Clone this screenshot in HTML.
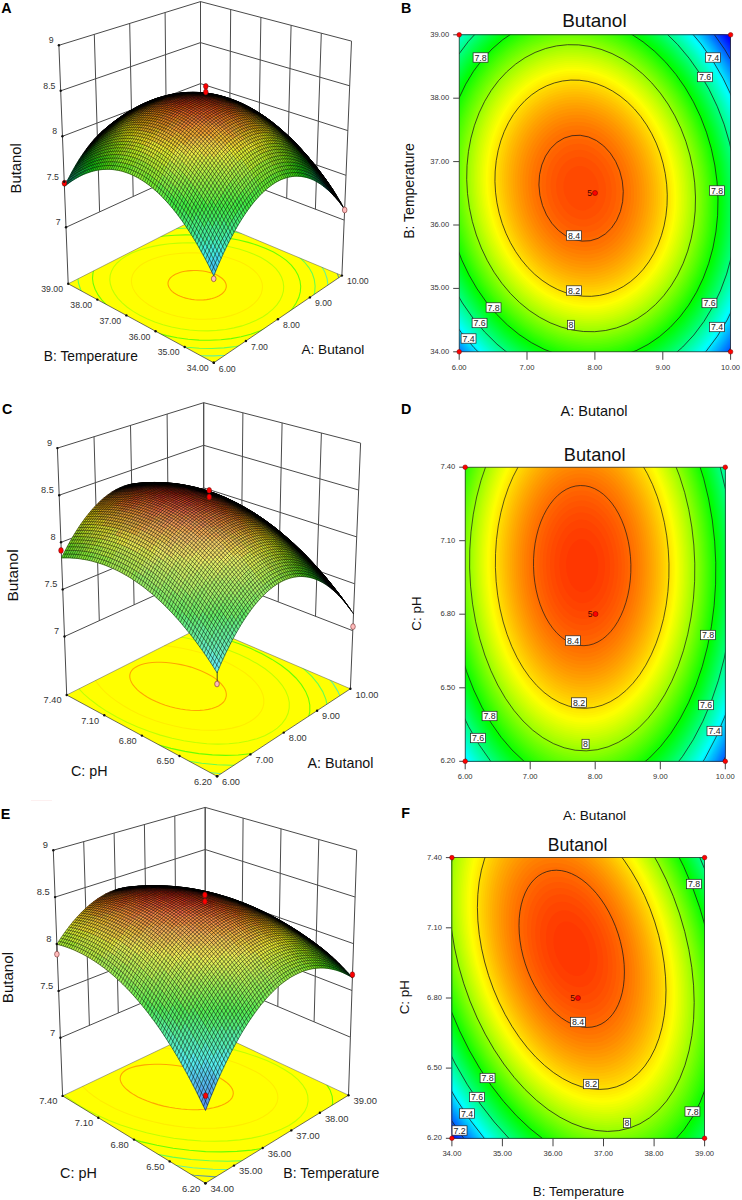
<!DOCTYPE html>
<html><head><meta charset="utf-8"><title>Figure</title>
<style>html,body{margin:0;padding:0;background:#fff}svg{display:block}text{font-family:"Liberation Sans", sans-serif}</style></head><body>
<svg width="742" height="1200" viewBox="0 0 742 1200">
<rect width="742" height="1200" fill="#fff"/>
<rect x="31" y="800" width="21" height="1" fill="#fdf0f0"/>
<g id="pA">
<path d="M66 227.3L58.9 45.3M99.6 211.9L94.3 34.3M133.2 196.4L129.7 23.4M166.9 181L165.1 12.5M200.5 165.6L200.5 1.6M344.2 220.1L351.5 41.1M315.4 209.2L321.3 33.2M286.7 198.3L291.1 25.3M258 187.4L260.9 17.4M229.2 176.5L230.7 9.5M200.5 165.6L200.5 1.6M66 227.3L200.5 165.6L344.2 220.1M64.2 181.8L200.5 124.6L346 175.3M62.4 136.3L200.5 83.6L347.8 130.6M60.7 90.8L200.5 42.6L349.7 85.8M58.9 45.3L200.5 1.6L351.5 41.1M68.2 283.8L66 227.3M341.9 275.6L344.2 220.1" fill="none" stroke="#4a4a4a" stroke-width="1"/>
<clipPath id="cfA"><polygon points="213.8,362.8 341.9,275.6 200.5,216.4 68.2,283.8"/></clipPath>
<polygon points="213.8,362.8 341.9,275.6 200.5,216.4 68.2,283.8" fill="#ffff00"/>
<g clip-path="url(#cfA)" fill="none" stroke-width="1.1">
<polyline points="314.2,331.2 305.2,337.8 294.9,343.8 283.5,349.1 271.2,353.6 258.1,357.3 244.2,360.1 229.8,361.9 215.1,362.7 200,362.4 185,361.2 170,358.9 155.3,355.7 141,351.6 127.3,346.7 114.4,341 102.3,334.7 91.4,327.9 81.5,320.6 73,313 65.8,305.2 60.1,297.4 56,289.5 53.4,281.7 52.4,274.2 53.1,266.9 55.4,259.9 59.2,253.4 64.6,247.4 71.5,241.8 79.7,236.8 89.3,232.3 100,228.4 111.8,225.1 124.5,222.4 137.9,220.2 152,218.6 166.6,217.6 181.4,217.1 196.4,217.3 211.4,218 226.2,219.3 240.6,221.1 254.5,223.6 267.8,226.6 280.3,230.2 291.8,234.3 302.4,239.1 311.8,244.3 319.9,250.1 326.8,256.4 332.2,263.1 336.2,270.2 338.7,277.7 339.7,285.3 339.2,293.2 337.1,301.1 333.5,308.9 328.5,316.6 322,324.1 314.2,331.2" stroke="#669d99"/>
<polyline points="304.6,327.4 296.2,333.4 286.8,338.8 276.4,343.7 265.1,347.8 253,351.1 240.3,353.6 227.1,355.2 213.5,355.9 199.7,355.7 185.9,354.5 172.2,352.5 158.7,349.6 145.6,345.9 133.1,341.5 121.2,336.4 110.2,330.7 100.1,324.5 91.1,317.9 83.3,311 76.8,303.9 71.5,296.7 67.7,289.5 65.4,282.4 64.5,275.5 65.1,268.8 67.2,262.4 70.7,256.3 75.6,250.7 81.9,245.5 89.4,240.9 98.2,236.7 108,233 118.8,229.9 130.4,227.3 142.8,225.3 155.7,223.8 169,222.8 182.6,222.4 196.4,222.5 210.1,223.2 223.7,224.4 236.9,226.1 249.7,228.4 261.9,231.3 273.4,234.7 284,238.6 293.7,243 302.4,247.9 309.9,253.3 316.1,259.1 321.1,265.3 324.8,271.9 327.1,278.7 328,285.7 327.5,292.9 325.6,300.1 322.3,307.2 317.7,314.2 311.8,321 304.6,327.4" stroke="#66f299"/>
<polyline points="294,323.3 286.4,328.6 277.9,333.4 268.5,337.7 258.3,341.3 247.4,344.3 235.9,346.5 224,347.9 211.8,348.5 199.4,348.3 186.9,347.3 174.6,345.5 162.4,343 150.7,339.7 139.4,335.8 128.7,331.2 118.8,326.2 109.8,320.7 101.7,314.8 94.6,308.7 88.7,302.3 84.1,295.9 80.6,289.5 78.5,283.1 77.7,276.8 78.2,270.7 80.1,264.9 83.3,259.5 87.7,254.3 93.3,249.6 100.1,245.3 108,241.5 116.8,238.1 126.5,235.2 137,232.8 148.1,230.9 159.7,229.5 171.7,228.6 184,228.2 196.4,228.3 208.8,229 221,230.1 233,231.7 244.5,233.9 255.5,236.5 265.9,239.6 275.5,243.2 284.2,247.3 292,251.8 298.8,256.7 304.4,262 308.9,267.6 312.3,273.5 314.3,279.7 315.1,286 314.7,292.5 313,298.9 310,305.3 305.8,311.6 300.5,317.6 294,323.3" stroke="#66ff50"/>
<polyline points="282,318.7 275.4,323.2 267.9,327.4 259.7,331 250.7,334.2 241.1,336.7 231.1,338.6 220.7,339.8 209.9,340.3 199.1,340.1 188.1,339.3 177.3,337.8 166.7,335.6 156.4,332.8 146.5,329.4 137.2,325.5 128.5,321.1 120.6,316.4 113.5,311.3 107.4,306 102.2,300.5 98.1,294.9 95.1,289.3 93.2,283.7 92.5,278.2 93,272.9 94.6,267.8 97.4,262.9 101.3,258.4 106.2,254.1 112.1,250.3 119,246.9 126.7,243.8 135.2,241.2 144.4,239 154.1,237.3 164.3,236 174.8,235.2 185.6,234.9 196.4,235 207.3,235.5 218,236.6 228.5,238.1 238.6,240 248.3,242.4 257.4,245.2 265.8,248.4 273.5,252 280.3,256.1 286.3,260.4 291.3,265.1 295.2,270.1 298.1,275.3 300,280.8 300.7,286.3 300.3,291.9 298.8,297.6 296.1,303.1 292.5,308.5 287.7,313.7 282,318.7" stroke="#6cff00"/>
<polyline points="268.1,313.2 262.6,317 256.3,320.3 249.4,323.3 241.9,325.9 233.9,327.9 225.5,329.5 216.7,330.4 207.8,330.9 198.7,330.7 189.6,330 180.5,328.8 171.6,327 163,324.7 154.8,322 147,318.8 139.8,315.2 133.2,311.4 127.3,307.2 122.2,302.8 117.9,298.3 114.5,293.6 112,289 110.4,284.3 109.8,279.7 110.2,275.2 111.6,270.9 113.9,266.8 117.1,263 121.2,259.4 126.1,256.1 131.8,253.1 138.3,250.5 145.4,248.3 153,246.4 161.1,244.9 169.6,243.8 178.4,243.1 187.4,242.8 196.5,242.9 205.6,243.4 214.5,244.2 223.3,245.5 231.8,247.2 239.9,249.3 247.5,251.7 254.5,254.5 261,257.6 266.7,261 271.7,264.7 275.9,268.7 279.2,272.9 281.6,277.3 283.1,281.9 283.7,286.5 283.4,291.2 282.1,295.8 279.9,300.4 276.9,304.9 272.9,309.2 268.1,313.2" stroke="#c0ff00"/>
<polyline points="250.7,306.3 246.5,309.1 241.7,311.6 236.5,313.8 230.8,315.6 224.8,317.1 218.4,318.2 211.8,318.9 205.1,319.3 198.2,319.2 191.4,318.7 184.6,317.7 177.9,316.5 171.4,314.8 165.2,312.8 159.4,310.5 153.9,307.8 149,305 144.6,301.9 140.7,298.7 137.5,295.3 134.9,291.8 133,288.4 131.9,284.9 131.4,281.4 131.7,278 132.7,274.7 134.4,271.6 136.9,268.6 139.9,265.8 143.6,263.3 147.9,261 152.8,258.9 158.1,257.2 163.8,255.7 170,254.5 176.4,253.7 183,253.1 189.7,252.8 196.6,252.9 203.4,253.3 210.2,254 216.8,255 223.2,256.4 229.3,258 235.1,259.9 240.4,262 245.3,264.5 249.6,267.1 253.4,270 256.6,273 259.1,276.2 260.9,279.6 262.1,283 262.5,286.5 262.2,290 261.3,293.5 259.6,296.9 257.3,300.2 254.3,303.4 250.7,306.3" stroke="#ffed00"/>
<polyline points="221,294.6 219.1,295.7 217,296.8 214.6,297.7 212.1,298.5 209.4,299.1 206.6,299.6 203.7,299.9 200.7,300 197.6,300 194.6,299.8 191.5,299.4 188.6,298.8 185.7,298.1 183,297.3 180.4,296.3 178,295.2 175.8,294 173.8,292.7 172.1,291.3 170.7,289.8 169.6,288.3 168.7,286.8 168.2,285.2 168,283.7 168.1,282.2 168.6,280.7 169.3,279.3 170.4,277.9 171.8,276.6 173.4,275.4 175.3,274.3 177.4,273.4 179.8,272.5 182.3,271.8 185,271.3 187.9,270.9 190.8,270.6 193.8,270.5 196.9,270.5 199.9,270.7 202.9,271 205.9,271.5 208.7,272.2 211.5,272.9 214,273.8 216.4,274.8 218.6,276 220.5,277.2 222.2,278.5 223.6,279.9 224.8,281.4 225.6,282.9 226.1,284.4 226.3,286 226.2,287.5 225.7,289 225,290.5 223.9,291.9 222.6,293.3 221,294.6" stroke="#ffa200"/>
</g>
<path d="M68.2 283.8L200.5 216.4L341.9 275.6" fill="none" stroke="#555" stroke-width="0.5"/>
<path d="M68.2 283.8L213.8 362.8L341.9 275.6" fill="none" stroke="#333" stroke-width="0.7"/>
<g stroke-width="0.6">
<path fill="#4ce" stroke="#4ce" d="M213.8 275.8l3.6-8.9l-4.1-8.3l-3.6 8.8z"/>
<path fill="#4de" stroke="#4de" d="M209.7 267.4l3.6-8.8l-4.1-8l-3.7 8.7zM217.4 266.9l3.7-8.4l-4.1-8.3l-3.7 8.4z"/>
<path fill="#4ed" stroke="#4ed" d="M205.5 259.3l3.7-8.7l-4.2-7.7l-3.7 8.8zM213.3 258.6l3.7-8.4l-4.2-8l-3.6 8.4zM221.1 258.5l3.7-8.1l-4.1-8.2l-3.7 8z"/>
<path fill="#4eb" stroke="#4eb" d="M201.3 251.7l3.7-8.8l-4.2-7.2l-3.6 8.6zM209.2 250.6l3.6-8.4l-4.1-7.5l-3.7 8.2zM217 250.2l3.7-8l-4.2-7.9l-3.7 7.9zM224.8 250.4l3.7-7.6l-4.1-8.1l-3.7 7.5z"/>
<path fill="#4ea" stroke="#4ea" d="M197.2 244.3l3.6-8.6l-4.2-7l-3.6 8.6zM228.5 242.8l3.7-7.1l-4.1-8.2l-3.7 7.2z"/>
<path fill="#4e8" stroke="#4e8" d="M193 237.3l3.6-8.6l-4.2-6.5l-3.6 8.5zM200.8 235.7l3.7-8.3l-4.2-6.8l-3.7 8.1zM208.7 234.7l3.7-7.9l-4.2-7.2l-3.7 7.8zM216.5 234.3l3.7-7.5l-4.1-7.4l-3.7 7.4zM224.4 234.7l3.7-7.2l-4.2-7.7l-3.7 7zM232.2 235.7l3.7-6.8l-4.1-8.1l-3.7 6.7z"/>
<path fill="#4e7" stroke="#4e7" d="M188.8 230.7l3.6-8.5l-4.1-6.2l-3.7 8.4zM196.6 228.7l3.7-8.1l-4.2-6.5l-3.7 8.1zM235.9 228.9l3.7-6.3l-4.1-8l-3.7 6.2z"/>
<path fill="#4e6" stroke="#4e6" d="M184.6 224.4l3.7-8.4l-4.3-5.9l-3.6 8.4zM204.5 227.4l3.7-7.8l-4.2-6.8l-3.7 7.8zM212.4 226.8l3.7-7.4l-4.2-7.1l-3.7 7.3zM220.2 226.8l3.7-7l-4.1-7.4l-3.7 7zM228.1 227.5l3.7-6.7l-4.2-7.6l-3.7 6.6zM239.6 222.6l3.7-5.9l-4.1-8l-3.7 5.9z"/>
<path fill="#4e5" stroke="#4e5" d="M180.4 218.5l3.6-8.4l-4.2-5.5l-3.6 8.3zM192.4 222.2l3.7-8.1l-4.2-6.2l-3.6 8.1zM200.3 220.6l3.7-7.8l-4.2-6.4l-3.7 7.7zM208.2 219.6l3.7-7.3l-4.2-6.8l-3.7 7.3zM216.1 219.4l3.7-7l-4.2-7.1l-3.7 7zM223.9 219.8l3.7-6.6l-4.1-7.4l-3.7 6.6zM231.8 220.8l3.7-6.2l-4.1-7.7l-3.8 6.3zM243.3 216.7l3.7-5.5l-4.1-7.9l-3.7 5.4z"/>
<path fill="#4e4" stroke="#4e4" d="M176.2 212.9l3.6-8.3l-4.2-5.2l-3.6 8.3zM172 207.7l3.6-8.3l-4.2-4.9l-3.7 8.3zM188.3 216l3.6-8.1l-4.2-5.8l-3.7 8zM184 210.1l3.7-8l-4.2-5.5l-3.7 8zM196.1 214.1l3.7-7.7l-4.2-6.1l-3.7 7.6zM204 212.8l3.7-7.3l-4.2-6.4l-3.7 7.3zM211.9 212.3l3.7-7l-4.2-6.7l-3.7 6.9zM219.8 212.4l3.7-6.6l-4.2-7l-3.7 6.5zM227.6 213.2l3.8-6.3l-4.2-7.3l-3.7 6.2zM235.5 214.6l3.7-5.9l-4.1-7.6l-3.7 5.8zM239.2 208.7l3.7-5.4l-4.1-7.5l-3.7 5.3zM247 211.2l3.8-5.1l-4.1-7.8l-3.8 5zM250.8 206.1l3.7-4.7l-4.1-7.8l-3.7 4.7z"/>
<path fill="#5e4" stroke="#5e4" d="M167.7 202.8l3.7-8.3l-4.2-4.5l-3.7 8.3zM179.8 204.6l3.7-8l-4.2-5.1l-3.7 7.9zM191.9 207.9l3.7-7.6l-4.2-5.8l-3.7 7.6zM199.8 206.4l3.7-7.3l-4.2-6l-3.7 7.2zM223.5 205.8l3.7-6.2l-4.1-6.9l-3.8 6.1zM231.4 206.9l3.7-5.8l-4.1-7.2l-3.8 5.7zM242.9 203.3l3.8-5l-4.1-7.5l-3.8 5zM254.5 201.4l3.7-4.2l-4.1-7.8l-3.7 4.2zM258.2 197.2l3.8-3.9l-4.1-7.7l-3.8 3.8z"/>
<path fill="#6e4" stroke="#6e4" d="M163.5 198.3l3.7-8.3l-4.2-4.1l-3.7 8.1zM159.3 194l3.7-8.1l-4.2-3.8l-3.7 8.1zM175.6 199.4l3.7-7.9l-4.2-4.8l-3.7 7.8zM187.7 202.1l3.7-7.6l-4.2-5.4l-3.7 7.5zM195.6 200.3l3.7-7.2l-4.2-5.7l-3.7 7.1zM207.7 205.5l3.7-6.9l-4.1-6.3l-3.8 6.8zM215.6 205.3l3.7-6.5l-4.1-6.6l-3.8 6.4zM227.2 199.6l3.8-5.7l-4.2-6.9l-3.7 5.7zM235.1 201.1l3.7-5.3l-4.1-7.2l-3.7 5.3zM246.7 198.3l3.7-4.7l-4.1-7.4l-3.7 4.6z"/>
<path fill="#7e3" stroke="#7e3" d="M155.1 190.2l3.7-8.1l-4.3-3.5l-3.6 8zM150.9 186.6l3.6-8l-4.2-3.2l-3.6 8zM146.7 183.4l3.6-8l-4.2-2.8l-3.6 8zM129.8 173.9l3.7-7.8l-4.2-1.5l-3.6 7.8zM257.9 185.6l3.7-3.4l-4.1-7.3l-3.7 3.4z"/>
<path fill="#8e3" stroke="#8e3" d="M142.5 180.6l3.6-8l-4.2-2.5l-3.7 7.9zM138.2 178l3.7-7.9l-4.2-2.1l-3.7 7.8zM134 175.8l3.7-7.8l-4.2-1.9l-3.7 7.8zM261.6 182.2l3.8-3l-4.1-7.2l-3.8 2.9zM265.4 179.2l3.7-2.6l-4.1-7.2l-3.7 2.6zM269.1 176.6l3.7-2.2l-4-7.2l-3.8 2.2zM272.8 174.4l3.7-1.9l-4-7.1l-3.7 1.8z"/>
<path fill="#7e2" stroke="#7e2" d="M125.7 172.4l3.6-7.8l-4.2-1.2l-3.6 7.7zM121.5 171.1l3.6-7.7l-4.1-0.9l-3.7 7.7zM276.5 172.5l3.7-1.4l-4-7.1l-3.7 1.4z"/>
<path fill="#6e2" stroke="#6e2" d="M117.3 170.2l3.7-7.7l-4.2-0.5l-3.7 7.6zM280.6 179.9l3.7-1.5l-4.1-7.3l-3.7 1.4z"/>
<path fill="#5d2" stroke="#5d2" d="M113.1 169.6l3.7-7.6l-4.2-0.3l-3.6 7.6zM284.3 178.4l3.6-1.1l-4-7.3l-3.7 1.1z"/>
<path fill="#5d1" stroke="#5d1" d="M109 169.3l3.6-7.6l-4.1 0.1l-3.6 7.6zM108.5 161.8l3.6-7.2l-4.1 0.5l-3.6 7.1zM287.6 169.3l3.7-0.3l-4-6.9l-3.7 0.3z"/>
<path fill="#4d1" stroke="#4d1" d="M104.9 169.4l3.6-7.6l-4.1 0.4l-3.7 7.5zM291.6 176.6l3.7-0.4l-4-7.2l-3.7 0.3z"/>
<path fill="#3d1" stroke="#3d1" d="M100.7 169.7l3.7-7.5l-4.1 0.7l-3.7 7.4zM295.3 176.2l3.6 0.1l-3.9-7.2l-3.7-0.1z"/>
<path fill="#2c1" stroke="#2c1" d="M96.6 170.3l3.7-7.4l-4.1 1l-3.7 7.4zM96.2 163.9l3.6-7.1l-4.1 1.4l-3.6 7zM298.9 176.3l3.7 0.4l-4-7.2l-3.6-0.4z"/>
<path fill="#1c1" stroke="#1c1" d="M92.5 171.3l3.7-7.4l-4.1 1.3l-3.6 7.4zM302.6 176.7l3.6 0.7l-4-7.1l-3.6-0.8z"/>
<path fill="#1c2" stroke="#1c2" d="M88.5 172.6l3.6-7.4l-4.1 1.6l-3.6 7.3z"/>
<path fill="#1b3" stroke="#1b3" d="M84.4 174.1l3.6-7.3l-4 1.9l-3.6 7.3z"/>
<path fill="#1b4" stroke="#1b4" d="M80.4 176l3.6-7.3l-4.1 2.2l-3.6 7.3z"/>
<path fill="#1a5" stroke="#1a5" d="M76.3 178.2l3.6-7.3l-4 2.5l-3.6 7.3z"/>
<path fill="#196" stroke="#196" d="M72.3 180.7l3.6-7.3l-4 2.8l-3.5 7.2z"/>
<path fill="#197" stroke="#197" d="M68.4 183.4l3.5-7.2l-3.9 3.1l-3.6 7.2z"/>
<path fill="#4e9" stroke="#4e9" d="M205 242.9l3.7-8.2l-4.2-7.3l-3.7 8.3zM212.8 242.2l3.7-7.9l-4.1-7.5l-3.7 7.9zM220.7 242.2l3.7-7.5l-4.2-7.9l-3.7 7.5z"/>
<path fill="#7e4" stroke="#7e4" d="M171.4 194.5l3.7-7.8l-4.2-4.4l-3.7 7.7zM183.5 196.6l3.7-7.5l-4.2-5.1l-3.7 7.5zM191.4 194.5l3.7-7.1l-4.2-5.4l-3.7 7.1zM203.5 199.1l3.8-6.8l-4.2-6l-3.8 6.8zM211.4 198.6l3.8-6.4l-4.2-6.3l-3.7 6.4zM219.3 198.8l3.8-6.1l-4.2-6.6l-3.7 6.1zM231 193.9l3.7-5.3l-4.1-6.9l-3.8 5.3zM238.8 195.8l3.8-5l-4.2-7.1l-3.7 4.9zM250.4 193.6l3.7-4.2l-4-7.3l-3.8 4.1zM254.1 189.4l3.8-3.8l-4.1-7.3l-3.7 3.8z"/>
<path fill="#8e4" stroke="#8e4" d="M167.2 190l3.7-7.7l-4.2-4.1l-3.7 7.7zM163 185.9l3.7-7.7l-4.3-3.8l-3.6 7.7zM179.3 191.5l3.7-7.5l-4.2-4.7l-3.7 7.4zM187.2 189.1l3.7-7.1l-4.2-5l-3.7 7zM199.3 193.1l3.8-6.8l-4.2-5.7l-3.8 6.8zM207.3 192.3l3.7-6.4l-4.2-6l-3.7 6.4zM215.2 192.2l3.7-6.1l-4.2-6.2l-3.7 6zM223.1 192.7l3.7-5.7l-4.1-6.5l-3.8 5.6zM234.7 188.6l3.7-4.9l-4.1-6.8l-3.7 4.8zM242.6 190.8l3.7-4.6l-4.1-7.1l-3.8 4.6zM246.3 186.2l3.8-4.1l-4.2-7.1l-3.7 4.1z"/>
<path fill="#9e3" stroke="#9e3" d="M158.8 182.1l3.6-7.7l-4.2-3.4l-3.7 7.6zM154.5 178.6l3.7-7.6l-4.2-3.1l-3.7 7.5zM150.3 175.4l3.7-7.5l-4.2-2.8l-3.7 7.5zM146.1 172.6l3.7-7.5l-4.2-2.5l-3.7 7.5zM141.9 170.1l3.7-7.5l-4.2-2.1l-3.7 7.5zM137.7 168l3.7-7.5l-4.2-1.8l-3.7 7.4zM253.8 178.3l3.7-3.4l-4.1-6.9l-3.7 3.3zM257.5 174.9l3.8-2.9l-4.1-6.9l-3.8 2.9zM261.3 172l3.7-2.6l-4.1-6.8l-3.7 2.5zM265 169.4l3.8-2.2l-4.1-6.8l-3.8 2.2zM268.8 167.2l3.7-1.8l-4.1-6.7l-3.7 1.7z"/>
<path fill="#9e2" stroke="#9e2" d="M133.5 166.1l3.7-7.4l-4.2-1.5l-3.7 7.4zM129.3 164.6l3.7-7.4l-4.2-1.1l-3.7 7.3zM125.1 163.4l3.7-7.3l-4.2-0.8l-3.6 7.2z"/>
<path fill="#8e2" stroke="#8e2" d="M121 162.5l3.6-7.2l-4.1-0.6l-3.7 7.3z"/>
<path fill="#7d2" stroke="#7d2" d="M116.8 162l3.7-7.3l-4.2-0.2l-3.7 7.2zM280.2 171.1l3.7-1.1l-4-7l-3.7 1z"/>
<path fill="#6d1" stroke="#6d1" d="M112.6 161.7l3.7-7.2l-4.2 0.1l-3.6 7.2z"/>
<path fill="#4c1" stroke="#4c1" d="M104.4 162.2l3.6-7.1l-4.1 0.7l-3.6 7.1zM291.3 169l3.7 0.1l-4-6.9l-3.7-0.1z"/>
<path fill="#3c1" stroke="#3c1" d="M100.3 162.9l3.6-7.1l-4.1 1l-3.6 7.1zM295 169.1l3.6 0.4l-4-6.8l-3.6-0.5z"/>
<path fill="#1b1" stroke="#1b1" d="M92.1 165.2l3.6-7l-4.1 1.6l-3.6 7zM88 166.8l3.6-7l-4 1.9l-3.6 7zM302.2 170.3l3.7 1.2l-4-6.8l-3.6-1.2z"/>
<path fill="#1a2" stroke="#1a2" d="M84 168.7l3.6-7l-4.1 2.3l-3.6 6.9z"/>
<path fill="#193" stroke="#193" d="M79.9 170.9l3.6-6.9l-4 2.5l-3.6 6.9z"/>
<path fill="#194" stroke="#194" d="M75.9 173.4l3.6-6.9l-4 2.9l-3.6 6.8zM313.4 180l3.6 1.9l-4-7l-3.5-1.9z"/>
<path fill="#185" stroke="#185" d="M71.9 176.2l3.6-6.8l-3.9 3.1l-3.6 6.8z"/>
<path fill="#9e4" stroke="#9e4" d="M175.1 186.7l3.7-7.4l-4.2-4.4l-3.7 7.4zM170.9 182.3l3.7-7.4l-4.2-4l-3.7 7.3zM183 184l3.7-7l-4.2-4.7l-3.7 7zM195.1 187.4l3.8-6.8l-4.2-5.3l-3.8 6.7zM203.1 186.3l3.7-6.4l-4.2-5.6l-3.7 6.3zM211 185.9l3.7-6l-4.1-5.9l-3.8 5.9zM218.9 186.1l3.8-5.6l-4.2-6.2l-3.8 5.6zM226.8 187l3.8-5.3l-4.2-6.4l-3.7 5.2zM238.4 183.7l3.8-4.6l-4.1-6.7l-3.8 4.5zM250.1 182.1l3.7-3.8l-4.1-7l-3.8 3.7z"/>
<path fill="#ae4" stroke="#ae4" d="M166.7 178.2l3.7-7.3l-4.3-3.8l-3.7 7.3zM178.8 179.3l3.7-7l-4.2-4.3l-3.7 6.9zM190.9 182l3.8-6.7l-4.2-4.9l-3.8 6.6zM198.9 180.6l3.7-6.3l-4.2-5.2l-3.7 6.2zM206.8 179.9l3.8-5.9l-4.2-5.6l-3.8 5.9zM214.7 179.9l3.8-5.6l-4.2-5.8l-3.7 5.5zM222.7 180.5l3.7-5.2l-4.2-6.2l-3.7 5.2zM230.6 181.7l3.7-4.8l-4.1-6.5l-3.8 4.9zM234.3 176.9l3.8-4.5l-4.2-6.4l-3.7 4.4zM242.2 179.1l3.7-4.1l-4.1-6.6l-3.7 4zM245.9 175l3.8-3.7l-4.1-6.6l-3.8 3.7z"/>
<path fill="#ae3" stroke="#ae3" d="M162.4 174.4l3.7-7.3l-4.2-3.4l-3.7 7.3z"/>
<path fill="#be3" stroke="#be3" d="M158.2 171l3.7-7.3l-4.2-3l-3.7 7.2zM154 167.9l3.7-7.2l-4.2-2.7l-3.7 7.1zM149.8 165.1l3.7-7.1l-4.2-2.4l-3.7 7zM145.6 162.6l3.7-7l-4.2-2.1l-3.7 7zM141.4 160.5l3.7-7l-4.2-1.8l-3.7 7zM249.7 171.3l3.7-3.3l-4.1-6.6l-3.7 3.3zM253.4 168l3.8-2.9l-4.1-6.5l-3.8 2.8zM257.2 165.1l3.7-2.5l-4.1-6.5l-3.7 2.5zM260.9 162.6l3.8-2.2l-4.1-6.4l-3.8 2.1z"/>
<path fill="#be2" stroke="#be2" d="M137.2 158.7l3.7-7l-4.2-1.4l-3.7 6.9zM133 157.2l3.7-6.9l-4.2-1.1l-3.7 6.9zM264.7 160.4l3.7-1.7l-4.1-6.4l-3.7 1.7z"/>
<path fill="#ae2" stroke="#ae2" d="M128.8 156.1l3.7-6.9l-4.2-0.8l-3.7 6.9z"/>
<path fill="#ad2" stroke="#ad2" d="M124.6 155.3l3.7-6.9l-4.2-0.5l-3.6 6.8zM268.4 158.7l3.7-1.4l-4-6.3l-3.8 1.3zM272.1 157.3l3.8-0.9l-4.1-6.3l-3.7 0.9z"/>
<path fill="#9d1" stroke="#9d1" d="M120.5 154.7l3.6-6.8l-4.1-0.1l-3.7 6.7zM120 147.8l3.7-6.4l-4.2 0.2l-3.7 6.3z"/>
<path fill="#8d1" stroke="#8d1" d="M116.3 154.5l3.7-6.7l-4.2 0.1l-3.7 6.7z"/>
<path fill="#7d1" stroke="#7d1" d="M112.1 154.6l3.7-6.7l-4.1 0.5l-3.7 6.7zM283.6 162.4l3.7-0.3l-4-6.6l-3.7 0.3z"/>
<path fill="#6c1" stroke="#6c1" d="M108 155.1l3.7-6.7l-4.1 0.7l-3.7 6.7zM287.3 162.1l3.7 0.1l-4-6.5l-3.7-0.2z"/>
<path fill="#5c1" stroke="#5c1" d="M103.9 155.8l3.7-6.7l-4.1 1.1l-3.7 6.6zM291 162.2l3.6 0.5l-4-6.5l-3.6-0.5z"/>
<path fill="#4b1" stroke="#4b1" d="M99.8 156.8l3.7-6.6l-4.1 1.4l-3.7 6.6zM294.6 162.7l3.7 0.8l-4-6.4l-3.7-0.9z"/>
<path fill="#3b1" stroke="#3b1" d="M95.7 158.2l3.7-6.6l-4.1 1.6l-3.7 6.6z"/>
<path fill="#2a1" stroke="#2a1" d="M91.6 159.8l3.7-6.6l-4.1 2l-3.6 6.5z"/>
<path fill="#1a1" stroke="#1a1" d="M87.6 161.7l3.6-6.5l-4 2.3l-3.7 6.5zM305.9 171.5l3.6 1.5l-4-6.7l-3.6-1.6z"/>
<path fill="#192" stroke="#192" d="M83.5 164l3.7-6.5l-4 2.6l-3.7 6.4zM309.5 173l3.5 1.9l-3.9-6.7l-3.6-1.9z"/>
<path fill="#183" stroke="#183" d="M79.5 166.5l3.7-6.4l-4 2.8l-3.7 6.5zM313 174.9l3.6 2.2l-3.9-6.6l-3.6-2.3z"/>
<path fill="#073" stroke="#073" d="M75.5 169.4l3.7-6.5l-4 3.2l-3.6 6.4z"/>
<path fill="#be4" stroke="#be4" d="M174.6 174.9l3.7-6.9l-4.2-4l-3.7 6.9zM170.4 170.9l3.7-6.9l-4.2-3.7l-3.8 6.8zM186.7 177l3.8-6.6l-4.2-4.7l-3.8 6.6zM182.5 172.3l3.8-6.6l-4.3-4.3l-3.7 6.6zM194.7 175.3l3.7-6.2l-4.2-4.9l-3.7 6.2zM202.6 174.3l3.8-5.9l-4.2-5.2l-3.8 5.9zM210.6 174l3.7-5.5l-4.2-5.5l-3.7 5.4zM218.5 174.3l3.7-5.2l-4.1-5.8l-3.8 5.2zM226.4 175.3l3.8-4.9l-4.2-6l-3.8 4.7zM238.1 172.4l3.7-4l-4.1-6.4l-3.8 4zM241.8 168.4l3.8-3.7l-4.2-6.3l-3.7 3.6z"/>
<path fill="#ce3" stroke="#ce3" d="M166.1 167.1l3.8-6.8l-4.3-3.3l-3.7 6.7zM161.9 163.7l3.7-6.7l-4.2-3.1l-3.7 6.8zM157.7 160.7l3.7-6.8l-4.2-2.6l-3.7 6.7zM245.6 164.7l3.7-3.3l-4.1-6.2l-3.8 3.2zM249.3 161.4l3.8-2.8l-4.1-6.2l-3.8 2.8zM253.1 158.6l3.7-2.5l-4.1-6.1l-3.7 2.4zM256.8 156.1l3.8-2.1l-4.1-6.1l-3.8 2.1z"/>
<path fill="#de3" stroke="#de3" d="M153.5 158l3.7-6.7l-4.2-2.4l-3.7 6.7zM149.3 155.6l3.7-6.7l-4.2-2l-3.7 6.6zM145.1 153.5l3.7-6.6l-4.2-1.7l-3.7 6.5zM169.9 160.3l3.7-6.4l-4.2-3.3l-3.8 6.4zM165.6 157l3.8-6.4l-4.2-3l-3.8 6.3zM237.7 162l3.7-3.6l-4.1-5.9l-3.8 3.5zM241.4 158.4l3.8-3.2l-4.1-5.9l-3.8 3.2zM245.2 155.2l3.8-2.8l-4.2-5.9l-3.7 2.8z"/>
<path fill="#ce2" stroke="#ce2" d="M140.9 151.7l3.7-6.5l-4.2-1.4l-3.7 6.5zM136.7 150.3l3.7-6.5l-4.2-1.1l-3.7 6.5z"/>
<path fill="#cd2" stroke="#cd2" d="M132.5 149.2l3.7-6.5l-4.2-0.7l-3.7 6.4zM132 142l3.7-6.1l-4.1-0.4l-3.8 6zM260.6 154l3.7-1.7l-4.1-6l-3.7 1.6zM264.3 152.3l3.8-1.3l-4.1-6l-3.8 1.3zM264 145l3.7-0.9l-4.1-5.6l-3.7 0.8z"/>
<path fill="#bd2" stroke="#bd2" d="M128.3 148.4l3.7-6.4l-4.2-0.5l-3.7 6.4zM268.1 151l3.7-0.9l-4.1-6l-3.7 0.9z"/>
<path fill="#ad1" stroke="#ad1" d="M124.1 147.9l3.7-6.4l-4.1-0.1l-3.7 6.4zM271.8 150.1l3.7-0.6l-4.1-5.9l-3.7 0.5z"/>
<path fill="#8c1" stroke="#8c1" d="M115.8 147.9l3.7-6.3l-4.1 0.5l-3.7 6.3zM279.6 155.8l3.7-0.3l-4.1-6.2l-3.7 0.2zM279.2 149.3l3.7 0.2l-4-5.9l-3.7-0.2z"/>
<path fill="#7c1" stroke="#7c1" d="M111.7 148.4l3.7-6.3l-4.1 0.8l-3.7 6.2zM283.3 155.5l3.7 0.2l-4.1-6.2l-3.7-0.2z"/>
<path fill="#6b1" stroke="#6b1" d="M107.6 149.1l3.7-6.2l-4.2 1.1l-3.6 6.2zM287 155.7l3.6 0.5l-4-6.2l-3.7-0.5z"/>
<path fill="#5b1" stroke="#5b1" d="M103.5 150.2l3.6-6.2l-4.1 1.4l-3.6 6.2zM290.6 156.2l3.7 0.9l-4-6.1l-3.7-1z"/>
<path fill="#4a1" stroke="#4a1" d="M99.4 151.6l3.6-6.2l-4 1.7l-3.7 6.1zM294.3 157.1l3.6 1.2l-4-6l-3.6-1.3z"/>
<path fill="#3a1" stroke="#3a1" d="M95.3 153.2l3.7-6.1l-4.1 2l-3.7 6.1zM298.3 163.5l3.6 1.2l-4-6.4l-3.6-1.2z"/>
<path fill="#291" stroke="#291" d="M91.2 155.2l3.7-6.1l-4.1 2.3l-3.6 6.1zM301.9 164.7l3.6 1.6l-4-6.4l-3.6-1.6z"/>
<path fill="#181" stroke="#181" d="M87.2 157.5l3.6-6.1l-4 2.6l-3.6 6.1zM305.5 166.3l3.6 1.9l-4-6.3l-3.6-2z"/>
<path fill="#071" stroke="#071" d="M83.2 160.1l3.6-6.1l-4 2.9l-3.6 6z"/>
<path fill="#052" stroke="#052" d="M79.2 162.9l3.6-6l-4 3.2l-3.6 6zM312.7 170.5l3.5 2.6l-3.9-6.2l-3.6-2.7z"/>
<path fill="#ce4" stroke="#ce4" d="M178.3 168l3.7-6.6l-4.2-3.9l-3.7 6.5zM190.5 170.4l3.7-6.2l-4.2-4.6l-3.7 6.1zM198.4 169.1l3.8-5.9l-4.2-4.8l-3.8 5.8zM206.4 168.4l3.7-5.4l-4.2-5.2l-3.7 5.4zM214.3 168.5l3.8-5.2l-4.2-5.4l-3.8 5.1zM222.2 169.1l3.8-4.7l-4.2-5.8l-3.7 4.7zM230.2 170.4l3.7-4.4l-4.1-6l-3.8 4.4zM233.9 166l3.8-4l-4.2-6l-3.7 4z"/>
<path fill="#de4" stroke="#de4" d="M174.1 164l3.7-6.5l-4.2-3.6l-3.7 6.4zM186.3 165.7l3.7-6.1l-4.2-4.3l-3.8 6.1zM182 161.4l3.8-6.1l-4.2-3.9l-3.8 6.1zM194.2 164.2l3.8-5.8l-4.2-4.6l-3.8 5.8zM202.2 163.2l3.7-5.4l-4.2-4.8l-3.7 5.4zM210.1 163l3.8-5.1l-4.2-5.1l-3.8 5zM218.1 163.3l3.7-4.7l-4.1-5.4l-3.8 4.7zM226 164.4l3.8-4.4l-4.2-5.7l-3.8 4.3zM229.8 160l3.7-4l-4.1-5.6l-3.8 3.9z"/>
<path fill="#ee3" stroke="#ee3" d="M161.4 153.9l3.8-6.3l-4.3-2.6l-3.7 6.3zM157.2 151.3l3.7-6.3l-4.2-2.3l-3.7 6.2zM153 148.9l3.7-6.2l-4.2-2l-3.7 6.2zM233.5 156l3.8-3.5l-4.2-5.6l-3.7 3.5zM249 152.4l3.7-2.4l-4.1-5.8l-3.8 2.3zM252.7 150l3.8-2.1l-4.1-5.7l-3.8 2z"/>
<path fill="#ed3" stroke="#ed3" d="M148.8 146.9l3.7-6.2l-4.2-1.7l-3.7 6.2zM173.6 153.9l3.7-6l-4.2-3.3l-3.7 6zM169.4 150.6l3.7-6l-4.2-2.9l-3.7 5.9zM165.2 147.6l3.7-5.9l-4.2-2.6l-3.8 5.9zM229.4 150.4l3.7-3.5l-4.1-5.3l-3.8 3.5zM237.3 152.5l3.8-3.2l-4.2-5.5l-3.8 3.1zM241.1 149.3l3.7-2.8l-4.1-5.5l-3.8 2.8zM244.8 146.5l3.8-2.3l-4.1-5.5l-3.8 2.3z"/>
<path fill="#ed2" stroke="#ed2" d="M144.6 145.2l3.7-6.2l-4.2-1.3l-3.7 6.1z"/>
<path fill="#dd2" stroke="#dd2" d="M140.4 143.8l3.7-6.1l-4.2-1.1l-3.7 6.1zM136.2 142.7l3.7-6.1l-4.2-0.7l-3.7 6.1zM256.5 147.9l3.7-1.6l-4.1-5.8l-3.7 1.7zM260.2 146.3l3.8-1.3l-4.1-5.7l-3.8 1.2z"/>
<path fill="#cd1" stroke="#cd1" d="M127.8 141.5l3.8-6l-4.2-0.1l-3.7 6z"/>
<path fill="#bc1" stroke="#bc1" d="M123.7 141.4l3.7-6l-4.2 0.3l-3.7 5.9zM123.2 135.7l3.8-5.6l-4.2 0.6l-3.7 5.5zM267.7 144.1l3.7-0.5l-4-5.6l-3.8 0.5zM271.4 143.6l3.8-0.2l-4.1-5.5l-3.7 0.1zM267.4 138l3.7-0.1l-4.1-5.2l-3.7 0z"/>
<path fill="#ac1" stroke="#ac1" d="M119.5 141.6l3.7-5.9l-4.1 0.5l-3.7 5.9z"/>
<path fill="#9c1" stroke="#9c1" d="M115.4 142.1l3.7-5.9l-4.1 0.8l-3.7 5.9zM275.5 149.5l3.7-0.2l-4-5.9l-3.8 0.2z"/>
<path fill="#7b1" stroke="#7b1" d="M111.3 142.9l3.7-5.9l-4.2 1.2l-3.7 5.8zM282.9 149.5l3.7 0.5l-4-5.8l-3.7-0.6z"/>
<path fill="#6a1" stroke="#6a1" d="M107.1 144l3.7-5.8l-4.1 1.4l-3.7 5.8zM286.6 150l3.7 1l-4.1-5.8l-3.6-1z"/>
<path fill="#5a1" stroke="#5a1" d="M103 145.4l3.7-5.8l-4.1 1.7l-3.6 5.8z"/>
<path fill="#491" stroke="#491" d="M99 147.1l3.6-5.8l-4 2.1l-3.7 5.7z"/>
<path fill="#281" stroke="#281" d="M94.9 149.1l3.7-5.7l-4.1 2.3l-3.7 5.7z"/>
<path fill="#170" stroke="#170" d="M90.8 151.4l3.7-5.7l-4 2.6l-3.7 5.7z"/>
<path fill="#051" stroke="#051" d="M86.8 154l3.7-5.7l-4 3l-3.7 5.6z"/>
<path fill="#041" stroke="#041" d="M82.8 156.9l3.7-5.6l-4 3.2l-3.7 5.6zM308.7 164.2l3.6 2.7l-4-5.9l-3.5-2.8z"/>
<path fill="#ee4" stroke="#ee4" d="M177.8 157.5l3.8-6.1l-4.3-3.5l-3.7 6zM190 159.6l3.8-5.8l-4.3-4.2l-3.7 5.7zM198 158.4l3.7-5.4l-4.2-4.5l-3.7 5.3zM221.8 158.6l3.8-4.3l-4.2-5.3l-3.7 4.2z"/>
<path fill="#ec3" stroke="#ec3" d="M160.9 145l3.8-5.9l-4.2-2.3l-3.8 5.9zM156.7 142.7l3.8-5.9l-4.2-1.9l-3.8 5.8zM177.3 147.9l3.8-5.7l-4.2-3.2l-3.8 5.6zM173.1 144.6l3.8-5.6l-4.2-2.8l-3.8 5.5zM233.1 146.9l3.8-3.1l-4.1-5.3l-3.8 3.1zM236.9 143.8l3.8-2.8l-4.2-5.1l-3.7 2.6z"/>
<path fill="#ec2" stroke="#ec2" d="M152.5 140.7l3.8-5.8l-4.2-1.6l-3.8 5.7z"/>
<path fill="#dc2" stroke="#dc2" d="M148.3 139l3.8-5.7l-4.2-1.3l-3.8 5.7zM144.1 137.7l3.8-5.7l-4.2-1l-3.8 5.6zM139.9 136.6l3.8-5.6l-4.2-0.7l-3.8 5.6zM252.4 142.2l3.7-1.7l-4.1-5.3l-3.8 1.5zM256.1 140.5l3.8-1.2l-4.1-5.3l-3.8 1.2zM259.9 139.3l3.7-0.8l-4.1-5.3l-3.7 0.8z"/>
<path fill="#dc1" stroke="#dc1" d="M135.7 135.9l3.8-5.6l-4.2-0.4l-3.7 5.6z"/>
<path fill="#cc1" stroke="#cc1" d="M131.6 135.5l3.7-5.6l-4.2 0l-3.7 5.5zM127.4 135.4l3.7-5.5l-4.1 0.2l-3.8 5.6zM263.6 138.5l3.8-0.5l-4.1-5.3l-3.8 0.5z"/>
<path fill="#9b1" stroke="#9b1" d="M119.1 136.2l3.7-5.5l-4.1 0.9l-3.7 5.4zM275.2 143.4l3.7 0.2l-4.1-5.5l-3.7-0.2z"/>
<path fill="#8a1" stroke="#8a1" d="M115 137l3.7-5.4l-4.1 1.1l-3.8 5.5z"/>
<path fill="#7a1" stroke="#7a1" d="M110.8 138.2l3.8-5.5l-4.1 1.5l-3.8 5.4zM282.6 144.2l3.6 1l-4-5.4l-3.7-1z"/>
<path fill="#591" stroke="#591" d="M106.7 139.6l3.8-5.4l-4.1 1.8l-3.8 5.3zM290.3 151l3.6 1.3l-4-5.8l-3.7-1.3zM286.2 145.2l3.7 1.3l-4-5.4l-3.7-1.3z"/>
<path fill="#481" stroke="#481" d="M102.6 141.3l3.8-5.3l-4.1 2.1l-3.7 5.3z"/>
<path fill="#371" stroke="#371" d="M98.6 143.4l3.7-5.3l-4.1 2.3l-3.7 5.3z"/>
<path fill="#150" stroke="#150" d="M94.5 145.7l3.7-5.3l-4 2.7l-3.7 5.2zM301.2 155.9l3.6 2.3l-4-5.6l-3.6-2.4z"/>
<path fill="#130" stroke="#130" d="M90.5 148.3l3.7-5.2l-4 2.9l-3.7 5.3zM98.2 140.4l3.7-4.9l-4 2.7l-3.7 4.9zM297.2 150.2l3.6 2.4l-4-5.3l-3.6-2.4z"/>
<path fill="#010" stroke="#010" d="M86.5 151.3l3.7-5.3l-4 3.3l-3.7 5.2zM94.2 143.1l3.7-4.9l-4 3l-3.7 4.8zM101.9 135.5l3.8-4.5l-4.1 2.7l-3.7 4.5zM293.2 144.9l3.6 2.4l-4-5l-3.7-2.4zM312.3 166.9l3.5 3l-3.9-5.9l-3.6-3z"/>
<path fill="#ed4" stroke="#ed4" d="M185.8 155.3l3.7-5.7l-4.2-3.8l-3.7 5.6zM181.6 151.4l3.7-5.6l-4.2-3.6l-3.8 5.7zM193.8 153.8l3.7-5.3l-4.2-4.1l-3.8 5.2zM205.9 157.8l3.8-5l-4.2-4.8l-3.8 5zM201.7 153l3.8-5l-4.2-4.4l-3.8 4.9zM213.9 157.9l3.8-4.7l-4.2-5l-3.8 4.6zM209.7 152.8l3.8-4.6l-4.2-4.8l-3.8 4.6zM217.7 153.2l3.7-4.2l-4.2-5.1l-3.7 4.3zM225.6 154.3l3.8-3.9l-4.2-5.3l-3.8 3.9z"/>
<path fill="#eb3" stroke="#eb3" d="M168.9 141.7l3.8-5.5l-4.2-2.6l-3.8 5.5zM164.7 139.1l3.8-5.5l-4.3-2.2l-3.7 5.4zM160.5 136.8l3.7-5.4l-4.2-1.9l-3.7 5.4zM185.3 145.8l3.8-5.3l-4.2-3.5l-3.8 5.2zM181.1 142.2l3.8-5.2l-4.2-3.1l-3.8 5.1zM176.9 139l3.8-5.1l-4.3-2.8l-3.7 5.1zM217.2 143.9l3.8-3.8l-4.2-4.6l-3.7 3.8zM225.2 145.1l3.8-3.5l-4.2-4.9l-3.8 3.4zM221 140.1l3.8-3.4l-4.2-4.6l-3.8 3.4zM229 141.6l3.8-3.1l-4.2-4.8l-3.8 3zM240.7 141l3.8-2.3l-4.2-5.1l-3.8 2.3z"/>
<path fill="#db2" stroke="#db2" d="M156.3 134.9l3.7-5.4l-4.2-1.6l-3.7 5.4zM244.5 138.7l3.7-2l-4.1-5l-3.8 1.9zM248.2 136.7l3.8-1.5l-4.1-5.1l-3.8 1.6zM252 135.2l3.8-1.2l-4.2-5l-3.7 1.1z"/>
<path fill="#da2" stroke="#da2" d="M152.1 133.3l3.7-5.4l-4.2-1.2l-3.7 5.3zM147.9 132l3.7-5.3l-4.2-1l-3.7 5.3zM143.7 131l3.7-5.3l-4.2-0.6l-3.7 5.2zM240.3 133.6l3.8-1.9l-4.1-4.8l-3.8 1.9z"/>
<path fill="#ca1" stroke="#ca1" d="M139.5 130.3l3.7-5.2l-4.2-0.4l-3.7 5.2zM255.8 134l3.7-0.8l-4.1-5l-3.8 0.8zM259.5 133.2l3.8-0.5l-4.1-4.9l-3.8 0.4z"/>
<path fill="#cb1" stroke="#cb1" d="M135.3 129.9l3.7-5.2l-4.1 0l-3.8 5.2zM131.1 129.9l3.8-5.2l-4.2 0.3l-3.7 5.1z"/>
<path fill="#bb1" stroke="#bb1" d="M127 130.1l3.7-5.1l-4.1 0.6l-3.8 5.1z"/>
<path fill="#ab1" stroke="#ab1" d="M122.8 130.7l3.8-5.1l-4.2 0.9l-3.7 5.1zM271.1 137.9l3.7 0.2l-4.1-5.1l-3.7-0.3z"/>
<path fill="#9a1" stroke="#9a1" d="M118.7 131.6l3.7-5.1l-4.1 1.2l-3.7 5zM274.8 138.1l3.7 0.7l-4.1-5.2l-3.7-0.6zM270.7 133l3.7 0.6l-4-4.8l-3.8-0.7z"/>
<path fill="#791" stroke="#791" d="M114.6 132.7l3.7-5l-4.1 1.5l-3.7 5zM278.5 138.8l3.7 1l-4.1-5.1l-3.7-1.1z"/>
<path fill="#681" stroke="#681" d="M110.5 134.2l3.7-5l-4.1 1.8l-3.7 5zM282.2 139.8l3.7 1.3l-4.1-5.1l-3.7-1.3z"/>
<path fill="#471" stroke="#471" d="M106.4 136l3.7-5l-4.1 2.1l-3.7 5zM289.9 146.5l3.7 1.7l-4.1-5.4l-3.6-1.7z"/>
<path fill="#350" stroke="#350" d="M102.3 138.1l3.7-5l-4.1 2.4l-3.7 4.9zM281.8 136l3.7 1.8l-4.1-4.7l-3.6-1.8z"/>
<path fill="#000" stroke="#000" d="M90.2 146l3.7-4.8l-4 3.2l-3.7 4.9zM97.9 138.2l3.7-4.5l-4 3l-3.7 4.5zM93.9 141.2l3.7-4.5l-4 3.3l-3.7 4.4zM109.8 128.6l3.7-4.2l-4.1 2.5l-3.7 4.1zM105.7 131l3.7-4.1l-4 2.7l-3.8 4.1zM101.6 133.7l3.8-4.1l-4 3.1l-3.8 4zM97.6 136.7l3.8-4l-4.1 3.3l-3.7 4zM117.6 122.3l3.8-3.8l-4.1 2.2l-3.8 3.7zM113.5 124.4l3.8-3.7l-4.1 2.5l-3.8 3.7zM109.4 126.9l3.8-3.7l-4 2.7l-3.8 3.7zM105.4 129.6l3.8-3.7l-4.1 3.1l-3.7 3.7zM101.4 132.7l3.7-3.7l-4 3.3l-3.8 3.7zM125.5 116.6l3.8-3.4l-4.1 1.9l-3.8 3.4zM121.4 118.5l3.8-3.4l-4.1 2.2l-3.8 3.4zM117.3 120.7l3.8-3.4l-4.1 2.5l-3.8 3.4zM113.2 123.2l3.8-3.4l-4.1 2.8l-3.7 3.3zM109.2 125.9l3.7-3.3l-4 3.1l-3.8 3.3zM105.1 129l3.8-3.3l-4 3.3l-3.8 3.3zM133.4 111.6l3.8-3.1l-4.1 1.6l-3.8 3.1zM129.3 113.2l3.8-3.1l-4.1 2l-3.8 3zM125.2 115.1l3.8-3l-4.1 2.2l-3.8 3zM121.1 117.3l3.8-3l-4.1 2.5l-3.8 3zM117 119.8l3.8-3l-4.1 2.8l-3.8 3zM112.9 122.6l3.8-3l-4 3.1l-3.8 3zM141.3 107.1l3.9-2.7l-4.2 1.4l-3.8 2.7zM137.2 108.5l3.8-2.7l-4.1 1.6l-3.8 2.7zM133.1 110.1l3.8-2.7l-4.1 2l-3.8 2.7zM129 112.1l3.8-2.7l-4.1 2.3l-3.8 2.6zM124.9 114.3l3.8-2.6l-4.1 2.5l-3.8 2.6zM120.8 116.8l3.8-2.6l-4.1 2.8l-3.8 2.6zM149.3 103.3l3.8-2.4l-4.1 1.1l-3.8 2.4zM145.2 104.4l3.8-2.4l-4.1 1.4l-3.9 2.4zM141 105.8l3.9-2.4l-4.2 1.7l-3.8 2.3zM136.9 107.4l3.8-2.3l-4.1 2l-3.8 2.3zM132.8 109.4l3.8-2.3l-4.1 2.3l-3.8 2.3zM128.7 111.7l3.8-2.3l-4.1 2.6l-3.8 2.2zM157.3 100.1l3.8-2l-4.1 0.8l-3.9 2zM153.1 100.9l3.9-2l-4.2 1.2l-3.8 1.9zM149 102l3.8-1.9l-4.1 1.4l-3.8 1.9zM144.9 103.4l3.8-1.9l-4.1 1.7l-3.9 1.9zM140.7 105.1l3.9-1.9l-4.2 2l-3.8 1.9zM169.5 97.3l3.8-1.7l-4.2 0.2l-3.8 1.7zM165.3 97.5l3.8-1.7l-4.1 0.6l-3.9 1.7zM161.1 98.1l3.9-1.7l-4.2 0.9l-3.8 1.6zM157 98.9l3.8-1.6l-4.1 1.1l-3.9 1.7zM152.8 100.1l3.9-1.7l-4.2 1.5l-3.8 1.6zM148.7 101.5l3.8-1.6l-4.1 1.8l-3.8 1.5zM177.5 95.6l3.8-1.4l-4.1 0l-3.9 1.4zM173.3 95.6l3.9-1.4l-4.2 0.3l-3.9 1.3zM169.1 95.8l3.9-1.3l-4.2 0.6l-3.8 1.3zM165 96.4l3.8-1.3l-4.1 0.9l-3.9 1.3zM160.8 97.3l3.9-1.3l-4.2 1.2l-3.8 1.2zM156.7 98.4l3.8-1.2l-4.1 1.5l-3.9 1.2zM185.5 94.5l3.9-1l-4.2-0.3l-3.9 1zM181.3 94.2l3.9-1l-4.2 0l-3.8 1zM177.2 94.2l3.8-1l-4.2 0.4l-3.8 0.9zM173 94.5l3.8-0.9l-4.1 0.6l-3.9 0.9zM168.8 95.1l3.9-0.9l-4.2 0.9l-3.8 0.9zM193.6 94.1l3.8-0.7l-4.2-0.6l-3.8 0.7zM189.4 93.5l3.8-0.7l-4.2-0.2l-3.8 0.6zM185.2 93.2l3.8-0.6l-4.1 0l-3.9 0.6zM181 93.2l3.9-0.6l-4.2 0.4l-3.9 0.6zM176.8 93.6l3.9-0.6l-4.2 0.6l-3.8 0.6zM205.8 95.4l3.8-0.4l-4.2-1.1l-3.8 0.3zM201.6 94.2l3.8-0.3l-4.2-0.9l-3.8 0.4zM197.4 93.4l3.8-0.4l-4.2-0.5l-3.8 0.3zM193.2 92.8l3.8-0.3l-4.1-0.2l-3.9 0.3zM189 92.6l3.9-0.3l-4.2 0.1l-3.8 0.2zM184.9 92.6l3.8-0.2l-4.2 0.3l-3.8 0.3zM213.8 96.4l3.8 0l-4.2-1.4l-3.8 0zM209.6 95l3.8 0l-4.2-1.1l-3.8 0zM205.4 93.9l3.8 0l-4.1-0.8l-3.9-0.1zM201.2 93l3.9 0.1l-4.2-0.5l-3.9-0.1zM197 92.5l3.9 0.1l-4.2-0.2l-3.8-0.1zM221.8 98.1l3.8 0.3l-4.2-1.7l-3.8-0.3zM217.6 96.4l3.8 0.3l-4.2-1.4l-3.8-0.3zM213.4 95l3.8 0.3l-4.1-1.1l-3.9-0.3zM209.2 93.9l3.9 0.3l-4.2-0.8l-3.8-0.3zM205.1 93.1l3.8 0.3l-4.2-0.4l-3.8-0.4zM233.9 102.7l3.8 0.5l-4.1-2.2l-3.8-0.6zM229.8 100.4l3.8 0.6l-4.2-2l-3.8-0.6zM225.6 98.4l3.8 0.6l-4.2-1.7l-3.8-0.6zM221.4 96.7l3.8 0.6l-4.2-1.3l-3.8-0.7zM217.2 95.3l3.8 0.7l-4.1-1.1l-3.8-0.7zM213.1 94.2l3.8 0.7l-4.2-0.7l-3.8-0.8zM241.9 105.8l3.7 0.9l-4.1-2.5l-3.8-1zM237.7 103.2l3.8 1l-4.2-2.3l-3.7-0.9zM233.6 101l3.7 0.9l-4.1-1.9l-3.8-1zM229.4 99l3.8 1l-4.2-1.7l-3.8-1zM225.2 97.3l3.8 1l-4.1-1.3l-3.9-1zM221 96l3.9 1l-4.2-1l-3.8-1.1zM249.8 109.6l3.7 1.2l-4.1-2.8l-3.8-1.3zM245.6 106.7l3.8 1.3l-4.1-2.5l-3.8-1.3zM241.5 104.2l3.8 1.3l-4.2-2.3l-3.8-1.3zM237.3 101.9l3.8 1.3l-4.1-1.9l-3.8-1.3zM233.2 100l3.8 1.3l-4.2-1.6l-3.8-1.4zM261.8 117.5l3.7 1.5l-4.1-3.4l-3.7-1.6zM257.7 114l3.7 1.6l-4.1-3.2l-3.8-1.6zM253.5 110.8l3.8 1.6l-4.2-2.8l-3.7-1.6zM249.4 108l3.7 1.6l-4.1-2.5l-3.7-1.6zM245.3 105.5l3.7 1.6l-4.1-2.2l-3.8-1.7zM241.1 103.2l3.8 1.7l-4.2-1.9l-3.7-1.7zM269.6 122.8l3.7 1.8l-4.1-3.7l-3.7-1.9zM265.5 119l3.7 1.9l-4.1-3.4l-3.7-1.9zM261.4 115.6l3.7 1.9l-4.1-3.1l-3.7-2zM257.3 112.4l3.7 2l-4.1-2.8l-3.8-2zM253.1 109.6l3.8 2l-4.1-2.5l-3.8-2zM249 107.1l3.8 2l-4.2-2.2l-3.7-2zM281.4 133.1l3.7 2.1l-4-4.3l-3.7-2.2zM277.4 128.7l3.7 2.2l-4.1-4.1l-3.7-2.2zM273.3 124.6l3.7 2.2l-4.1-3.7l-3.7-2.2zM269.2 120.9l3.7 2.2l-4.1-3.4l-3.7-2.2zM265.1 117.5l3.7 2.2l-4.1-3.1l-3.7-2.2zM261 114.4l3.7 2.2l-4.1-2.7l-3.7-2.3zM256.9 111.6l3.7 2.3l-4.1-2.5l-3.7-2.3zM289.1 139.9l3.7 2.4l-4.1-4.6l-3.6-2.5zM285.1 135.2l3.6 2.5l-4-4.3l-3.6-2.5zM281.1 130.9l3.6 2.5l-4.1-4l-3.6-2.6zM277 126.8l3.6 2.6l-4-3.7l-3.7-2.6zM272.9 123.1l3.7 2.6l-4.1-3.4l-3.7-2.6zM268.8 119.7l3.7 2.6l-4.1-3l-3.7-2.7zM264.7 116.6l3.7 2.7l-4.1-2.8l-3.7-2.6zM300.8 152.6l3.6 2.8l-4-5.3l-3.6-2.8zM296.8 147.3l3.6 2.8l-4-5l-3.6-2.8zM292.8 142.3l3.6 2.8l-4-4.6l-3.7-2.8zM288.7 137.7l3.7 2.8l-4.1-4.3l-3.6-2.8zM284.7 133.4l3.6 2.8l-4-3.9l-3.7-2.9zM280.6 129.4l3.7 2.9l-4.1-3.7l-3.6-2.9zM276.6 125.7l3.6 2.9l-4-3.3l-3.7-3zM308.3 161l3.6 3l-4-5.6l-3.5-3zM304.4 155.4l3.5 3l-3.9-5.2l-3.6-3.1zM300.4 150.1l3.6 3.1l-4-4.9l-3.6-3.2zM296.4 145.1l3.6 3.2l-4-4.6l-3.6-3.2zM292.4 140.5l3.6 3.2l-4-4.3l-3.7-3.2zM288.3 136.2l3.7 3.2l-4.1-3.9l-3.6-3.2zM284.3 132.3l3.6 3.2l-4-3.6l-3.7-3.3zM319.8 176.1l3.5 3.4l-3.9-6.2l-3.6-3.4zM315.8 169.9l3.6 3.4l-4-5.9l-3.5-3.4zM311.9 164l3.5 3.4l-3.9-5.5l-3.6-3.5zM307.9 158.4l3.6 3.5l-4-5.2l-3.5-3.5zM304 153.2l3.5 3.5l-3.9-4.9l-3.6-3.5zM300 148.3l3.6 3.5l-4-4.6l-3.6-3.5zM296 143.7l3.6 3.5l-4-4.2l-3.6-3.6zM292 139.4l3.6 3.6l-4.1-3.9l-3.6-3.6zM331 192.9l3.4 3.6l-3.8-6.9l-3.5-3.6zM327.1 186l3.5 3.6l-3.9-6.5l-3.4-3.6zM323.3 179.5l3.4 3.6l-3.9-6.1l-3.4-3.7zM319.4 173.3l3.4 3.7l-3.9-5.9l-3.5-3.7zM315.4 167.4l3.5 3.7l-3.9-5.5l-3.5-3.7zM311.5 161.9l3.5 3.7l-3.9-5.1l-3.6-3.8zM307.5 156.7l3.6 3.8l-4-4.9l-3.5-3.8zM303.6 151.8l3.5 3.8l-4-4.5l-3.5-3.9zM299.6 147.2l3.5 3.9l-4-4.2l-3.5-3.9zM334.4 196.5l3.5 3.9l-3.9-6.8l-3.4-4zM330.6 189.6l3.4 4l-3.8-6.4l-3.5-4.1zM326.7 183.1l3.5 4.1l-3.9-6.2l-3.5-4zM322.8 177l3.5 4l-3.9-5.8l-3.5-4.1zM318.9 171.1l3.5 4.1l-3.9-5.4l-3.5-4.2zM315 165.6l3.5 4.2l-3.9-5.2l-3.5-4.1zM311.1 160.5l3.5 4.1l-4-4.8l-3.5-4.2zM307.1 155.6l3.5 4.2l-3.9-4.5l-3.6-4.2zM337.9 200.4l3.4 4.3l-3.9-6.7l-3.4-4.4zM334 193.6l3.4 4.4l-3.8-6.5l-3.4-4.3zM330.2 187.2l3.4 4.3l-3.8-6.1l-3.5-4.4zM326.3 181l3.5 4.4l-3.9-5.8l-3.5-4.4zM322.4 175.2l3.5 4.4l-3.9-5.4l-3.5-4.4zM318.5 169.8l3.5 4.4l-3.9-5.1l-3.5-4.5zM341.3 204.7l3.3 4.7l-3.8-6.8l-3.4-4.6zM337.4 198l3.4 4.6l-3.8-6.4l-3.4-4.7zM333.6 191.5l3.4 4.7l-3.8-6.1l-3.4-4.7zM329.8 185.4l3.4 4.7l-3.9-5.7l-3.4-4.8zM325.9 179.6l3.4 4.8l-3.9-5.4l-3.4-4.8z"/>
<path fill="#ec4" stroke="#ec4" d="M189.5 149.6l3.8-5.2l-4.2-3.9l-3.8 5.3zM197.5 148.5l3.8-4.9l-4.2-4.1l-3.8 4.9zM205.5 148l3.8-4.6l-4.2-4.4l-3.8 4.6zM213.5 148.2l3.7-4.3l-4.1-4.6l-3.8 4.1zM221.4 149l3.8-3.9l-4.2-5l-3.8 3.8z"/>
<path fill="#ea3" stroke="#ea3" d="M172.7 136.2l3.7-5.1l-4.2-2.5l-3.7 5zM168.5 133.6l3.7-5l-4.2-2.2l-3.8 5zM189.1 140.5l3.8-4.8l-4.2-3.4l-3.8 4.7zM184.9 137l3.8-4.7l-4.3-3.2l-3.7 4.8zM197.1 139.5l3.8-4.5l-4.2-3.7l-3.8 4.4zM192.9 135.7l3.8-4.4l-4.3-3.4l-3.7 4.4zM205.1 139l3.8-4.1l-4.2-4l-3.8 4.1zM213.1 139.3l3.7-3.8l-4.2-4.3l-3.7 3.7zM216.8 135.5l3.8-3.4l-4.2-4.3l-3.8 3.4zM224.8 136.7l3.8-3l-4.2-4.6l-3.8 3zM232.8 138.5l3.7-2.6l-4.1-4.9l-3.8 2.7z"/>
<path fill="#d92" stroke="#d92" d="M164.2 131.4l3.8-5l-4.2-1.9l-3.8 5zM160 129.5l3.8-5l-4.2-1.5l-3.8 4.9zM155.8 127.9l3.8-4.9l-4.2-1.3l-3.8 5zM151.6 126.7l3.8-5l-4.2-0.9l-3.8 4.9zM236.2 128.8l3.8-1.9l-4.2-4.4l-3.8 1.8zM244.1 131.7l3.8-1.6l-4.2-4.7l-3.7 1.5z"/>
<path fill="#c91" stroke="#c91" d="M147.4 125.7l3.8-4.9l-4.2-0.6l-3.8 4.9zM143.2 125.1l3.8-4.9l-4.2-0.3l-3.8 4.8zM139 124.7l3.8-4.8l-4.2 0.1l-3.7 4.7zM251.6 129l3.8-0.8l-4.1-4.6l-3.8 0.7zM255.4 128.2l3.8-0.4l-4.2-4.6l-3.7 0.4z"/>
<path fill="#b91" stroke="#b91" d="M134.9 124.7l3.7-4.7l-4.1 0.3l-3.8 4.7zM259.2 127.8l3.7 0l-4.1-4.6l-3.8 0z"/>
<path fill="#ba1" stroke="#ba1" d="M130.7 125l3.8-4.7l-4.2 0.6l-3.7 4.7zM263.3 132.7l3.7 0l-4.1-4.9l-3.7 0zM267 132.7l3.7 0.3l-4.1-4.9l-3.7-0.3z"/>
<path fill="#aa1" stroke="#aa1" d="M126.6 125.6l3.7-4.7l-4.1 1l-3.8 4.6z"/>
<path fill="#991" stroke="#991" d="M122.4 126.5l3.8-4.6l-4.1 1.2l-3.8 4.6z"/>
<path fill="#781" stroke="#781" d="M118.3 127.7l3.8-4.6l-4.2 1.5l-3.7 4.6zM274.4 133.6l3.7 1.1l-4-4.8l-3.7-1.1zM270.4 128.8l3.7 1.1l-4.1-4.5l-3.7-1.1z"/>
<path fill="#571" stroke="#571" d="M114.2 129.2l3.7-4.6l-4.1 1.9l-3.7 4.5z"/>
<path fill="#450" stroke="#450" d="M110.1 131l3.7-4.5l-4 2.1l-3.8 4.5zM117.9 124.6l3.8-4.2l-4.1 1.9l-3.8 4.2z"/>
<path fill="#230" stroke="#230" d="M106 133.1l3.8-4.5l-4.1 2.4l-3.8 4.5zM113.8 126.5l3.8-4.2l-4.1 2.1l-3.7 4.2zM277.8 131.3l3.6 1.8l-4-4.4l-3.7-1.8z"/>
<path fill="#eb4" stroke="#eb4" d="M193.3 144.4l3.8-4.9l-4.2-3.8l-3.8 4.8zM201.3 143.6l3.8-4.6l-4.2-4l-3.8 4.5zM209.3 143.4l3.8-4.1l-4.2-4.4l-3.8 4.1z"/>
<path fill="#e93" stroke="#e93" d="M180.7 133.9l3.7-4.8l-4.2-2.7l-3.8 4.7zM176.4 131.1l3.8-4.7l-4.2-2.5l-3.8 4.7zM188.7 132.3l3.7-4.4l-4.2-3.1l-3.8 4.3zM200.9 135l3.8-4.1l-4.2-3.7l-3.8 4.1zM196.7 131.3l3.8-4.1l-4.3-3.3l-3.8 4zM208.9 134.9l3.7-3.7l-4.1-4l-3.8 3.7zM204.7 130.9l3.8-3.7l-4.3-3.6l-3.7 3.6zM212.6 131.2l3.8-3.4l-4.2-3.9l-3.7 3.3zM220.6 132.1l3.8-3l-4.2-4.2l-3.8 2.9zM228.6 133.7l3.8-2.7l-4.2-4.5l-3.8 2.6z"/>
<path fill="#d93" stroke="#d93" d="M172.2 128.6l3.8-4.7l-4.2-2.1l-3.8 4.6zM232.4 131l3.8-2.2l-4.2-4.5l-3.8 2.2z"/>
<path fill="#d82" stroke="#d82" d="M168 126.4l3.8-4.6l-4.2-1.9l-3.8 4.6zM163.8 124.5l3.8-4.6l-4.2-1.5l-3.8 4.6zM159.6 123l3.8-4.6l-4.2-1.2l-3.8 4.5zM176 123.9l3.8-4.3l-4.2-2.1l-3.8 4.3zM228.2 126.5l3.8-2.2l-4.2-4.1l-3.8 2.1zM232 124.3l3.8-1.8l-4.2-4.1l-3.8 1.8zM240 126.9l3.7-1.5l-4.1-4.4l-3.8 1.5z"/>
<path fill="#c81" stroke="#c81" d="M155.4 121.7l3.8-4.5l-4.2-0.8l-3.8 4.4zM151.2 120.8l3.8-4.4l-4.2-0.6l-3.8 4.4zM147 120.2l3.8-4.4l-4.2-0.2l-3.8 4.3zM247.5 124.3l3.8-0.7l-4.2-4.3l-3.7 0.7z"/>
<path fill="#b81" stroke="#b81" d="M142.8 119.9l3.8-4.3l-4.2 0l-3.8 4.4zM138.6 120l3.8-4.4l-4.1 0.4l-3.8 4.3zM251.3 123.6l3.7-0.4l-4.1-4.3l-3.8 0.4z"/>
<path fill="#a81" stroke="#a81" d="M134.5 120.3l3.8-4.3l-4.2 0.6l-3.8 4.3zM255 123.2l3.8 0l-4.1-4.2l-3.8-0.1z"/>
<path fill="#981" stroke="#981" d="M130.3 120.9l3.8-4.3l-4.1 1l-3.8 4.3zM258.8 123.2l3.7 0.4l-4.1-4.2l-3.7-0.4zM266.6 128.1l3.8 0.7l-4.1-4.5l-3.8-0.7z"/>
<path fill="#881" stroke="#881" d="M126.2 121.9l3.8-4.3l-4.2 1.3l-3.7 4.2z"/>
<path fill="#670" stroke="#670" d="M122.1 123.1l3.7-4.2l-4.1 1.5l-3.8 4.2z"/>
<path fill="#e83" stroke="#e83" d="M184.4 129.1l3.8-4.3l-4.2-2.8l-3.8 4.4zM192.4 127.9l3.8-4l-4.2-3.1l-3.8 4zM200.5 127.2l3.7-3.6l-4.2-3.3l-3.8 3.6z"/>
<path fill="#d83" stroke="#d83" d="M180.2 126.4l3.8-4.4l-4.2-2.4l-3.8 4.3zM208.5 127.2l3.7-3.3l-4.2-3.6l-3.8 3.3zM216.4 127.8l3.8-2.9l-4.2-3.9l-3.8 2.9zM224.4 129.1l3.8-2.6l-4.2-4.2l-3.8 2.6z"/>
<path fill="#d72" stroke="#d72" d="M171.8 121.8l3.8-4.3l-4.2-1.8l-3.8 4.2zM167.6 119.9l3.8-4.2l-4.2-1.4l-3.8 4.1zM184 122l3.8-3.9l-4.2-2.3l-3.8 3.8zM179.8 119.6l3.8-3.8l-4.2-2.1l-3.8 3.8zM216 121l3.9-2.5l-4.2-3.5l-3.8 2.5zM224 122.3l3.8-2.1l-4.1-3.8l-3.8 2.1zM227.8 120.2l3.8-1.8l-4.1-3.8l-3.8 1.8z"/>
<path fill="#c72" stroke="#c72" d="M163.4 118.4l3.8-4.1l-4.2-1.2l-3.8 4.1zM235.8 122.5l3.8-1.5l-4.2-4l-3.8 1.4z"/>
<path fill="#c71" stroke="#c71" d="M159.2 117.2l3.8-4.1l-4.2-0.8l-3.8 4.1zM155 116.4l3.8-4.1l-4.2-0.5l-3.8 4zM239.6 121l3.8-1l-4.2-4.1l-3.8 1.1z"/>
<path fill="#b71" stroke="#b71" d="M150.8 115.8l3.8-4l-4.2-0.3l-3.8 4.1zM146.6 115.6l3.8-4.1l-4.2 0.1l-3.8 4zM243.4 120l3.7-0.7l-4.1-4l-3.8 0.6zM247.1 119.3l3.8-0.4l-4.1-3.9l-3.8 0.3z"/>
<path fill="#a71" stroke="#a71" d="M142.4 115.6l3.8-4l-4.2 0.4l-3.7 4zM250.9 118.9l3.8 0.1l-4.2-3.9l-3.7-0.1z"/>
<path fill="#971" stroke="#971" d="M138.3 116l3.7-4l-4.1 0.7l-3.8 3.9z"/>
<path fill="#871" stroke="#871" d="M134.1 116.6l3.8-3.9l-4.2 1l-3.7 3.9zM262.5 123.6l3.8 0.7l-4.1-4.1l-3.8-0.8z"/>
<path fill="#760" stroke="#760" d="M130 117.6l3.7-3.9l-4.1 1.3l-3.8 3.9z"/>
<path fill="#550" stroke="#550" d="M125.8 118.9l3.8-3.9l-4.1 1.6l-3.8 3.8z"/>
<path fill="#330" stroke="#330" d="M121.7 120.4l3.8-3.8l-4.1 1.9l-3.8 3.8zM258 116.3l3.8 1.2l-4.1-3.5l-3.8-1.2z"/>
<path fill="#d73" stroke="#d73" d="M188.2 124.8l3.8-4l-4.2-2.7l-3.8 3.9zM196.2 123.9l3.8-3.6l-4.2-3l-3.8 3.5zM192 120.8l3.8-3.5l-4.2-2.7l-3.8 3.5zM204.2 123.6l3.8-3.3l-4.2-3.2l-3.8 3.2zM212.2 123.9l3.8-2.9l-4.1-3.5l-3.9 2.8zM220.2 124.9l3.8-2.6l-4.1-3.8l-3.9 2.5z"/>
<path fill="#d62" stroke="#d62" d="M175.6 117.5l3.8-3.8l-4.2-1.8l-3.8 3.8zM187.8 118.1l3.8-3.5l-4.2-2.3l-3.8 3.5zM183.6 115.8l3.8-3.5l-4.2-2.1l-3.8 3.5zM195.8 117.3l3.8-3.2l-4.2-2.6l-3.8 3.1zM208 120.3l3.9-2.8l-4.2-3.3l-3.9 2.9zM203.8 117.1l3.9-2.9l-4.2-2.9l-3.9 2.8zM211.9 117.5l3.8-2.5l-4.2-3.2l-3.8 2.4zM219.9 118.5l3.8-2.1l-4.2-3.5l-3.8 2.1z"/>
<path fill="#c62" stroke="#c62" d="M171.4 115.7l3.8-3.8l-4.2-1.4l-3.8 3.8zM223.7 116.4l3.8-1.8l-4.2-3.4l-3.8 1.7zM231.6 118.4l3.8-1.4l-4.1-3.7l-3.8 1.3z"/>
<path fill="#c61" stroke="#c61" d="M167.2 114.3l3.8-3.8l-4.2-1.1l-3.8 3.7zM163 113.1l3.8-3.7l-4.2-0.8l-3.8 3.7zM235.4 117l3.8-1.1l-4.2-3.6l-3.7 1z"/>
<path fill="#b61" stroke="#b61" d="M158.8 112.3l3.8-3.7l-4.2-0.5l-3.8 3.7zM154.6 111.8l3.8-3.7l-4.2-0.2l-3.8 3.6zM239.2 115.9l3.8-0.6l-4.2-3.7l-3.8 0.7z"/>
<path fill="#a61" stroke="#a61" d="M150.4 111.5l3.8-3.6l-4.2 0.1l-3.8 3.6zM243 115.3l3.8-0.3l-4.2-3.6l-3.8 0.2z"/>
<path fill="#961" stroke="#961" d="M146.2 111.6l3.8-3.6l-4.2 0.5l-3.8 3.5zM246.8 115l3.7 0.1l-4.1-3.6l-3.8-0.1zM254.7 119l3.7 0.4l-4.1-3.9l-3.8-0.4z"/>
<path fill="#851" stroke="#851" d="M142 112l3.8-3.5l-4.1 0.7l-3.8 3.5zM150 108l3.8-3.2l-4.1 0.5l-3.9 3.2zM242.6 111.4l3.8 0.1l-4.2-3.3l-3.7-0.1zM250.5 115.1l3.8 0.4l-4.1-3.5l-3.8-0.5z"/>
<path fill="#750" stroke="#750" d="M137.9 112.7l3.8-3.5l-4.2 1l-3.8 3.5z"/>
<path fill="#540" stroke="#540" d="M133.7 113.7l3.8-3.5l-4.1 1.4l-3.8 3.4zM262.2 120.2l3.7 1.1l-4.1-3.8l-3.8-1.2z"/>
<path fill="#320" stroke="#320" d="M129.6 115l3.8-3.4l-4.1 1.6l-3.8 3.4zM238.1 105.3l3.8 0.5l-4.2-2.6l-3.8-0.5z"/>
<path fill="#c52" stroke="#c52" d="M179.4 113.7l3.8-3.5l-4.2-1.7l-3.8 3.4zM187.4 112.3l3.8-3.1l-4.2-2l-3.8 3zM195.4 111.5l3.8-2.8l-4.2-2.2l-3.8 2.7zM203.5 111.3l3.8-2.4l-4.2-2.5l-3.9 2.3zM215.7 115l3.8-2.1l-4.2-3.2l-3.8 2.1zM211.5 111.8l3.8-2.1l-4.2-2.8l-3.8 2z"/>
<path fill="#c51" stroke="#c51" d="M175.2 111.9l3.8-3.4l-4.2-1.4l-3.8 3.4zM171 110.5l3.8-3.4l-4.2-1l-3.8 3.3zM183.2 110.2l3.8-3l-4.2-1.7l-3.8 3zM219.5 112.9l3.8-1.7l-4.2-3.1l-3.8 1.6zM227.5 114.6l3.8-1.3l-4.2-3.4l-3.8 1.3z"/>
<path fill="#b51" stroke="#b51" d="M166.8 109.4l3.8-3.3l-4.2-0.8l-3.8 3.3zM162.6 108.6l3.8-3.3l-4.2-0.5l-3.8 3.3zM223.3 111.2l3.8-1.3l-4.2-3.1l-3.8 1.3zM231.3 113.3l3.7-1l-4.1-3.4l-3.8 1z"/>
<path fill="#a51" stroke="#a51" d="M158.4 108.1l3.8-3.3l-4.2-0.1l-3.8 3.2zM235 112.3l3.8-0.7l-4.1-3.3l-3.8 0.6z"/>
<path fill="#951" stroke="#951" d="M154.2 107.9l3.8-3.2l-4.2 0.1l-3.8 3.2zM238.8 111.6l3.8-0.2l-4.1-3.3l-3.8 0.2z"/>
<path fill="#640" stroke="#640" d="M145.8 108.5l3.9-3.2l-4.2 0.8l-3.8 3.1zM246.4 111.5l3.8 0.5l-4.2-3.2l-3.8-0.6zM254.3 115.5l3.7 0.8l-4.1-3.5l-3.7-0.8z"/>
<path fill="#530" stroke="#530" d="M141.7 109.2l3.8-3.1l-4.2 1l-3.8 3.1zM242.2 108.2l3.8 0.6l-4.1-3l-3.8-0.5z"/>
<path fill="#220" stroke="#220" d="M137.5 110.2l3.8-3.1l-4.1 1.4l-3.8 3.1zM265.9 121.3l3.7 1.5l-4.1-3.8l-3.7-1.5z"/>
<path fill="#d63" stroke="#d63" d="M200 120.3l3.8-3.2l-4.2-3l-3.8 3.2z"/>
<path fill="#d52" stroke="#d52" d="M191.6 114.6l3.8-3.1l-4.2-2.3l-3.8 3.1zM199.6 114.1l3.9-2.8l-4.3-2.6l-3.8 2.8zM207.7 114.2l3.8-2.4l-4.2-2.9l-3.8 2.4z"/>
<path fill="#c41" stroke="#c41" d="M179 108.5l3.8-3l-4.2-1.3l-3.8 2.9zM191.2 109.2l3.8-2.7l-4.2-2l-3.8 2.7zM187 107.2l3.8-2.7l-4.2-1.6l-3.8 2.6zM199.2 108.7l3.9-2.3l-4.2-2.3l-3.9 2.4zM207.3 108.9l3.8-2l-4.2-2.5l-3.8 2zM215.3 109.7l3.8-1.6l-4.2-2.8l-3.8 1.6z"/>
<path fill="#b41" stroke="#b41" d="M174.8 107.1l3.8-2.9l-4.2-1.1l-3.8 3zM170.6 106.1l3.8-3l-4.2-0.7l-3.8 2.9zM195 106.5l3.9-2.4l-4.2-1.9l-3.9 2.3zM203.1 106.4l3.8-2l-4.2-2.2l-3.8 1.9zM211.1 106.9l3.8-1.6l-4.2-2.5l-3.8 1.6zM219.1 108.1l3.8-1.3l-4.2-2.8l-3.8 1.3zM227.1 109.9l3.8-1l-4.2-3l-3.8 0.9z"/>
<path fill="#a41" stroke="#a41" d="M166.4 105.3l3.8-2.9l-4.2-0.4l-3.8 2.8zM222.9 106.8l3.8-0.9l-4.2-2.8l-3.8 0.9zM230.9 108.9l3.8-0.6l-4.2-3l-3.8 0.6z"/>
<path fill="#941" stroke="#941" d="M162.2 104.8l3.8-2.8l-4.2-0.2l-3.8 2.9zM226.7 105.9l3.8-0.6l-4.2-2.7l-3.8 0.5zM234.7 108.3l3.8-0.2l-4.2-3l-3.8 0.2z"/>
<path fill="#841" stroke="#841" d="M158 104.7l3.8-2.9l-4.2 0.2l-3.8 2.8z"/>
<path fill="#630" stroke="#630" d="M153.8 104.8l3.8-2.8l-4.1 0.5l-3.8 2.8zM161.8 101.8l3.9-2.4l-4.2 0.2l-3.9 2.4zM226.3 102.6l3.8-0.1l-4.1-2.4l-3.9 0.1zM234.3 105.1l3.8 0.2l-4.2-2.6l-3.8-0.2z"/>
<path fill="#430" stroke="#430" d="M149.7 105.3l3.8-2.8l-4.2 0.8l-3.8 2.8zM250.2 112l3.7 0.8l-4.1-3.2l-3.8-0.8z"/>
<path fill="#210" stroke="#210" d="M145.5 106.1l3.8-2.8l-4.1 1.1l-3.9 2.7zM189.7 95.1l3.9-1l-4.2-0.6l-3.9 1zM218 98.2l3.8-0.1l-4.2-1.7l-3.8 0zM246 108.8l3.8 0.8l-4.2-2.9l-3.7-0.9z"/>
<path fill="#6e3" stroke="#6e3" d="M262 193.3l3.7-3.5l-4.1-7.6l-3.7 3.4zM265.7 189.8l3.7-3l-4-7.6l-3.8 3zM269.4 186.8l3.7-2.7l-4-7.5l-3.7 2.6zM273.1 184.1l3.7-2.3l-4-7.4l-3.7 2.2zM276.8 181.8l3.8-1.9l-4.1-7.4l-3.7 1.9z"/>
<path fill="#b31" stroke="#b31" d="M182.8 105.5l3.8-2.6l-4.2-1.3l-3.8 2.6zM190.8 104.5l3.9-2.3l-4.2-1.6l-3.9 2.3zM198.9 104.1l3.8-1.9l-4.2-1.9l-3.8 1.9zM206.9 104.4l3.8-1.6l-4.2-2.2l-3.8 1.6z"/>
<path fill="#a31" stroke="#a31" d="M178.6 104.2l3.8-2.6l-4.2-1l-3.8 2.5zM174.4 103.1l3.8-2.5l-4.2-0.7l-3.8 2.5zM186.6 102.9l3.9-2.3l-4.2-1.3l-3.9 2.3zM182.4 101.6l3.9-2.3l-4.2-0.9l-3.9 2.2zM194.7 102.2l3.8-1.9l-4.2-1.5l-3.8 1.8zM202.7 102.2l3.8-1.6l-4.2-1.8l-3.8 1.5zM214.9 105.3l3.8-1.3l-4.2-2.4l-3.8 1.2zM210.7 102.8l3.8-1.2l-4.2-2.2l-3.8 1.2z"/>
<path fill="#931" stroke="#931" d="M170.2 102.4l3.8-2.5l-4.2-0.4l-3.8 2.5zM178.2 100.6l3.9-2.2l-4.2-0.7l-3.9 2.2zM190.5 100.6l3.8-1.8l-4.2-1.3l-3.8 1.8zM218.7 104l3.8-0.9l-4.2-2.4l-3.8 0.9zM214.5 101.6l3.8-0.9l-4.2-2.1l-3.8 0.8z"/>
<path fill="#831" stroke="#831" d="M166 102l3.8-2.5l-4.1-0.1l-3.9 2.4zM222.5 103.1l3.8-0.5l-4.2-2.4l-3.8 0.5zM230.5 105.3l3.8-0.2l-4.2-2.6l-3.8 0.1z"/>
<path fill="#420" stroke="#420" d="M157.6 102l3.9-2.4l-4.2 0.5l-3.8 2.4zM165.7 99.4l3.8-2.1l-4.2 0.2l-3.8 2.1zM230.1 102.5l3.8 0.2l-4.1-2.3l-3.8-0.3z"/>
<path fill="#110" stroke="#110" d="M153.5 102.5l3.8-2.4l-4.2 0.8l-3.8 2.4zM273.7 126.9l3.7 1.8l-4.1-4.1l-3.7-1.8z"/>
<path fill="#731" stroke="#731" d="M174 99.9l3.9-2.2l-4.2-0.4l-3.9 2.2z"/>
<path fill="#620" stroke="#620" d="M169.8 99.5l3.9-2.2l-4.2 0l-3.8 2.1zM198.1 97.3l3.8-1.2l-4.1-1.2l-3.9 1.1zM206.1 97.6l3.9-0.8l-4.2-1.4l-3.9 0.7z"/>
<path fill="#100" stroke="#100" d="M161.5 99.6l3.8-2.1l-4.2 0.6l-3.8 2zM197.8 94.9l3.8-0.7l-4.2-0.8l-3.8 0.7zM226 100.1l3.8 0.3l-4.2-2l-3.8-0.3zM253.9 112.8l3.8 1.2l-4.2-3.2l-3.7-1.2z"/>
<path fill="#da3" stroke="#da3" d="M236.5 135.9l3.8-2.3l-4.1-4.8l-3.8 2.2z"/>
<path fill="#821" stroke="#821" d="M186.3 99.3l3.8-1.8l-4.2-0.9l-3.8 1.8zM194.3 98.8l3.8-1.5l-4.2-1.3l-3.8 1.5zM202.3 98.8l3.8-1.2l-4.2-1.5l-3.8 1.2z"/>
<path fill="#721" stroke="#721" d="M182.1 98.4l3.8-1.8l-4.2-0.7l-3.8 1.8zM190.1 97.5l3.8-1.5l-4.2-0.9l-3.8 1.5zM210.3 99.4l3.8-0.8l-4.1-1.8l-3.9 0.8zM218.3 100.7l3.8-0.5l-4.1-2l-3.9 0.4z"/>
<path fill="#520" stroke="#520" d="M177.9 97.7l3.8-1.8l-4.2-0.3l-3.8 1.7zM185.9 96.6l3.8-1.5l-4.2-0.6l-3.8 1.4zM214.1 98.6l3.9-0.4l-4.2-1.8l-3.8 0.4zM222.1 100.2l3.9-0.1l-4.2-2l-3.8 0.1z"/>
<path fill="#310" stroke="#310" d="M173.7 97.3l3.8-1.7l-4.2 0l-3.8 1.7zM181.7 95.9l3.8-1.4l-4.2-0.3l-3.8 1.4zM210 96.8l3.8-0.4l-4.2-1.4l-3.8 0.4z"/>
<path fill="#dc3" stroke="#dc3" d="M248.6 144.2l3.8-2l-4.2-5.5l-3.7 2z"/>
<path fill="#921" stroke="#921" d="M198.5 100.3l3.8-1.5l-4.2-1.5l-3.8 1.5zM206.5 100.6l3.8-1.2l-4.2-1.8l-3.8 1.2z"/>
<path fill="#410" stroke="#410" d="M193.9 96l3.9-1.1l-4.2-0.8l-3.9 1zM201.9 96.1l3.9-0.7l-4.2-1.2l-3.8 0.7z"/>
<path fill="#9d2" stroke="#9d2" d="M272.5 165.4l3.7-1.4l-4.1-6.7l-3.7 1.4zM275.9 156.4l3.7-0.6l-4.1-6.3l-3.7 0.6z"/>
<path fill="#c92" stroke="#c92" d="M247.9 130.1l3.7-1.1l-4.1-4.7l-3.8 1.1z"/>
<path fill="#c82" stroke="#c82" d="M243.7 125.4l3.8-1.1l-4.1-4.3l-3.8 1z"/>
<path fill="#8d2" stroke="#8d2" d="M276.2 164l3.7-1l-4-6.6l-3.8 0.9zM279.9 163l3.7-0.6l-4-6.6l-3.7 0.6z"/>
<path fill="#4d2" stroke="#4d2" d="M287.9 177.3l3.7-0.7l-4-7.3l-3.7 0.7z"/>
<path fill="#6d2" stroke="#6d2" d="M283.9 170l3.7-0.7l-4-6.9l-3.7 0.6z"/>
<path fill="#741" stroke="#741" d="M238.5 108.1l3.7 0.1l-4.1-2.9l-3.8-0.2z"/>
<path fill="#a91" stroke="#a91" d="M262.9 127.8l3.7 0.3l-4.1-4.5l-3.7-0.4z"/>
<path fill="#8b1" stroke="#8b1" d="M278.9 143.6l3.7 0.6l-4.1-5.4l-3.7-0.7z"/>
<path fill="#761" stroke="#761" d="M258.4 119.4l3.8 0.8l-4.2-3.9l-3.7-0.8z"/>
<path fill="#2b1" stroke="#2b1" d="M298.6 169.5l3.6 0.8l-3.9-6.8l-3.7-0.8z"/>
<path fill="#660" stroke="#660" d="M266.3 124.3l3.7 1.1l-4.1-4.1l-3.7-1.1z"/>
<path fill="#1b2" stroke="#1b2" d="M306.2 177.4l3.6 1.1l-3.9-7l-3.7-1.2z"/>
<path fill="#671" stroke="#671" d="M278.1 134.7l3.7 1.3l-4-4.7l-3.7-1.4z"/>
<path fill="#560" stroke="#560" d="M274.1 129.9l3.7 1.4l-4.1-4.4l-3.7-1.5z"/>
<path fill="#440" stroke="#440" d="M270 125.4l3.7 1.5l-4.1-4.1l-3.7-1.5z"/>
<path fill="#1a3" stroke="#1a3" d="M309.8 178.5l3.6 1.5l-3.9-7l-3.6-1.5z"/>
<path fill="#391" stroke="#391" d="M297.9 158.3l3.6 1.6l-3.9-6l-3.7-1.6z"/>
<path fill="#381" stroke="#381" d="M293.9 152.3l3.7 1.6l-4-5.7l-3.7-1.7z"/>
<path fill="#460" stroke="#460" d="M285.9 141.1l3.6 1.7l-4-5l-3.7-1.8z"/>
<path fill="#171" stroke="#171" d="M301.5 159.9l3.6 2l-3.9-6l-3.6-2zM309.1 168.2l3.6 2.3l-4-6.3l-3.6-2.3z"/>
<path fill="#270" stroke="#270" d="M297.6 153.9l3.6 2l-4-5.7l-3.6-2z"/>
<path fill="#250" stroke="#250" d="M293.6 148.2l3.6 2l-4-5.3l-3.7-2.1z"/>
<path fill="#240" stroke="#240" d="M289.5 142.8l3.7 2.1l-4.1-5l-3.6-2.1z"/>
<path fill="#120" stroke="#120" d="M285.5 137.8l3.6 2.1l-4-4.7l-3.7-2.1z"/>
<path fill="#184" stroke="#184" d="M317 181.9l3.5 2.2l-3.9-7l-3.6-2.2z"/>
<path fill="#060" stroke="#060" d="M305.1 161.9l3.6 2.3l-3.9-6l-3.6-2.3z"/>
<path fill="#174" stroke="#174" d="M320.5 184.1l3.5 2.6l-3.9-7l-3.5-2.6z"/>
<path fill="#063" stroke="#063" d="M316.6 177.1l3.5 2.6l-3.9-6.6l-3.5-2.6z"/>
<path fill="#020" stroke="#020" d="M304.8 158.2l3.5 2.8l-3.9-5.6l-3.6-2.8z"/>
<path fill="#054" stroke="#054" d="M324 186.7l3.5 2.9l-3.8-6.9l-3.6-3z"/>
<path fill="#043" stroke="#043" d="M320.1 179.7l3.6 3l-3.9-6.6l-3.6-3z"/>
<path fill="#031" stroke="#031" d="M316.2 173.1l3.6 3l-4-6.2l-3.5-3z"/>
<path fill="#033" stroke="#033" d="M327.5 189.6l3.5 3.3l-3.9-6.9l-3.4-3.3z"/>
<path fill="#021" stroke="#021" d="M323.7 182.7l3.4 3.3l-3.8-6.5l-3.5-3.4z"/>
</g>
<path d="M213.8 275.8l1.8-4.5 1.8-4.4 1.9-4.3 1.8-4.1 1.8-4.1 1.9-4 1.8-3.8 1.9-3.8 1.8-3.6 1.9-3.5 1.8-3.5 1.9-3.3 1.8-3.2 1.9-3.1 1.9-3 1.8-2.9 1.9-2.8 1.8-2.7 1.9-2.6 1.9-2.5 1.8-2.4 1.9-2.3 1.9-2.2 1.8-2 1.9-2 1.9-1.9 1.8-1.8 1.9-1.7 1.8-1.5 1.9-1.5 1.9-1.4 1.8-1.3 1.9-1.2 1.8-1.1 1.9-1 1.9-0.9 1.8-0.8 1.9-0.7 1.8-0.6 1.8-0.5 1.9-0.4 1.8-0.3 1.9-0.2 1.8-0.2 1.8 0 1.8 0.1 1.9 0.1 1.8 0.3 1.8 0.3 1.8 0.4 1.8 0.5 1.8 0.6 1.8 0.7 1.8 0.8 1.8 0.9 1.8 1 1.7 1.1 1.8 1.1 1.8 1.2 1.7 1.4 1.8 1.4 1.7 1.5 1.8 1.6 1.7 1.7 1.7 1.7 1.7 1.9 1.8 1.9 1.7 2 1.7 2.1 1.7 2.2 1.6 2.3 1.7 2.4M211.7 271.6l1.8-4.5 1.9-4.4 1.8-4.3 1.8-4.1 1.9-4.1 1.8-3.9 1.9-3.9 1.8-3.7 1.9-3.6 1.8-3.5 1.9-3.5 1.8-3.3 1.9-3.2 1.8-3.1 1.9-3 1.9-2.8 1.8-2.8 1.9-2.7 1.9-2.6 1.8-2.5 1.9-2.3 1.9-2.3 1.8-2.2 1.9-2.1 1.9-1.9 1.8-1.9 1.9-1.8 1.9-1.6 1.8-1.6 1.9-1.5 1.8-1.3 1.9-1.3 1.9-1.2 1.8-1.1 1.9-0.9 1.8-0.9 1.9-0.8 1.8-0.7 1.9-0.6 1.8-0.5 1.9-0.4 1.8-0.3 1.9-0.2 1.8-0.1 1.8 0 1.9 0 1.8 0.2 1.8 0.2 1.8 0.4 1.8 0.4 1.8 0.5 1.8 0.7 1.8 0.7 1.8 0.8 1.8 0.9 1.8 0.9 1.8 1.1 1.8 1.2 1.7 1.2 1.8 1.4 1.7 1.4 1.8 1.5 1.7 1.6 1.8 1.7 1.7 1.8 1.7 1.8 1.7 2 1.8 2 1.7 2.1 1.7 2.2 1.6 2.3 1.7 2.4M209.7 267.4l1.8-4.5 1.8-4.3 1.8-4.3 1.9-4.1 1.8-4.1 1.9-3.9 1.8-3.8 1.9-3.7 1.8-3.7 1.9-3.5 1.8-3.4 1.9-3.3 1.8-3.1 1.9-3.1 1.8-3 1.9-2.9 1.9-2.7 1.8-2.7 1.9-2.6 1.9-2.4 1.8-2.4 1.9-2.3 1.9-2.1 1.8-2.1 1.9-1.9 1.9-1.9 1.9-1.7 1.8-1.7 1.9-1.5 1.9-1.5 1.8-1.4 1.9-1.2 1.8-1.2 1.9-1 1.9-1 1.8-0.9 1.9-0.8 1.8-0.6 1.9-0.6 1.8-0.5 1.9-0.4 1.8-0.3 1.9-0.2 1.8-0.1 1.8 0 1.9 0.1 1.8 0.1 1.8 0.3 1.8 0.3 1.8 0.5 1.9 0.5 1.8 0.7 1.8 0.7 1.8 0.8 1.8 0.9 1.7 1 1.8 1.1 1.8 1.1 1.8 1.3 1.7 1.3 1.8 1.5 1.8 1.5 1.7 1.6 1.7 1.7 1.8 1.8 1.7 1.8 1.7 2 1.7 2 1.7 2.1 1.7 2.3 1.7 2.2 1.7 2.4M207.6 263.3l1.8-4.4 1.8-4.4 1.9-4.2 1.8-4.1 1.8-4.1 1.9-3.9 1.8-3.8 1.9-3.7 1.8-3.6 1.9-3.5 1.8-3.4 1.9-3.2 1.9-3.2 1.8-3.1 1.9-3 1.9-2.8 1.8-2.8 1.9-2.6 1.9-2.6 1.8-2.4 1.9-2.4 1.9-2.2 1.8-2.2 1.9-2 1.9-1.9 1.8-1.9 1.9-1.7 1.9-1.7 1.9-1.5 1.8-1.5 1.9-1.3 1.9-1.2 1.8-1.2 1.9-1.1 1.8-0.9 1.9-0.9 1.9-0.7 1.8-0.7 1.9-0.6 1.8-0.4 1.9-0.4 1.8-0.3 1.9-0.2 1.8-0.1 1.8 0 1.9 0.1 1.8 0.2 1.8 0.2 1.8 0.4 1.9 0.5 1.8 0.5 1.8 0.7 1.8 0.7 1.8 0.8 1.8 0.9 1.8 1 1.8 1.1 1.7 1.2 1.8 1.2 1.8 1.4 1.7 1.4 1.8 1.6 1.8 1.6 1.7 1.7 1.7 1.8 1.8 1.8 1.7 2 1.7 2.1 1.7 2.1 1.7 2.2 1.7 2.3 1.7 2.4M205.5 259.3l1.8-4.4 1.9-4.3 1.8-4.3 1.8-4.1 1.9-4 1.8-3.9 1.9-3.8 1.8-3.7 1.9-3.5 1.8-3.5 1.9-3.4 1.8-3.2 1.9-3.2 1.9-3.1 1.8-2.9 1.9-2.9 1.9-2.7 1.8-2.6 1.9-2.6 1.9-2.4 1.8-2.4 1.9-2.2 1.9-2.1 1.9-2 1.8-2 1.9-1.8 1.9-1.7 1.8-1.7 1.9-1.5 1.9-1.4 1.9-1.4 1.8-1.2 1.9-1.1 1.9-1.1 1.8-0.9 1.9-0.9 1.8-0.7 1.9-0.7 1.9-0.5 1.8-0.5 1.9-0.4 1.8-0.2 1.8-0.2 1.9-0.1 1.8 0 1.9 0.1 1.8 0.2 1.8 0.3 1.9 0.3 1.8 0.5 1.8 0.6 1.8 0.6 1.8 0.8 1.8 0.8 1.8 0.9 1.8 1 1.8 1.1 1.8 1.2 1.8 1.3 1.7 1.3 1.8 1.5 1.8 1.5 1.7 1.7 1.8 1.7 1.7 1.8 1.7 1.8 1.8 2 1.7 2.1 1.7 2.1 1.7 2.2 1.7 2.3 1.7 2.4M203.4 255.5l1.8-4.5 1.9-4.3 1.8-4.2 1.9-4.1 1.8-4 1.8-3.9 1.9-3.8 1.8-3.6 1.9-3.6 1.8-3.5 1.9-3.3 1.9-3.3 1.8-3.1 1.9-3.1 1.9-2.9 1.8-2.8 1.9-2.8 1.9-2.6 1.8-2.5 1.9-2.4 1.9-2.3 1.9-2.3 1.8-2.1 1.9-2 1.9-1.9 1.8-1.8 1.9-1.7 1.9-1.7 1.9-1.5 1.8-1.4 1.9-1.3 1.9-1.2 1.8-1.2 1.9-1 1.9-0.9 1.8-0.9 1.9-0.7 1.9-0.7 1.8-0.5 1.9-0.5 1.8-0.3 1.9-0.3 1.8-0.2 1.9 0 1.8 0 1.9 0.1 1.8 0.2 1.8 0.3 1.9 0.4 1.8 0.5 1.8 0.5 1.8 0.7 1.8 0.7 1.8 0.9 1.8 0.9 1.8 1 1.8 1.1 1.8 1.2 1.8 1.3 1.8 1.4 1.7 1.4 1.8 1.6 1.8 1.6 1.7 1.7 1.8 1.8 1.7 1.9 1.7 2 1.8 2.1 1.7 2.1 1.7 2.2 1.7 2.3 1.7 2.4M201.3 251.7l1.9-4.5 1.8-4.3 1.8-4.2 1.9-4 1.8-4 1.9-3.9 1.8-3.8 1.9-3.6 1.8-3.6 1.9-3.4 1.8-3.4 1.9-3.2 1.9-3.1 1.8-3.1 1.9-2.9 1.9-2.8 1.8-2.7 1.9-2.6 1.9-2.5 1.8-2.4 1.9-2.4 1.9-2.2 1.9-2.1 1.8-2 1.9-1.9 1.9-1.8 1.9-1.7 1.8-1.6 1.9-1.5 1.9-1.4 1.9-1.3 1.8-1.2 1.9-1.1 1.9-1.1 1.8-0.9 1.9-0.8 1.9-0.7 1.8-0.7 1.9-0.5 1.9-0.4 1.8-0.4 1.9-0.2 1.8-0.2 1.9-0.1 1.8 0.1 1.9 0.1 1.8 0.2 1.8 0.3 1.9 0.4 1.8 0.5 1.8 0.6 1.8 0.6 1.8 0.8 1.8 0.8 1.8 1 1.8 1 1.8 1.1 1.8 1.2 1.8 1.3 1.8 1.4 1.8 1.4 1.7 1.6 1.8 1.6 1.8 1.8 1.7 1.8 1.7 1.9 1.8 2 1.7 2 1.7 2.2 1.8 2.2 1.7 2.3 1.7 2.4M199.2 247.9l1.9-4.4 1.8-4.2 1.8-4.2 1.9-4.1 1.8-4 1.9-3.8 1.8-3.8 1.9-3.6 1.8-3.5 1.9-3.5 1.9-3.3 1.8-3.2 1.9-3.1 1.8-3.1 1.9-2.9 1.9-2.8 1.9-2.7 1.8-2.6 1.9-2.5 1.9-2.4 1.9-2.3 1.8-2.2 1.9-2.1 1.9-1.9 1.9-1.9 1.8-1.8 1.9-1.7 1.9-1.6 1.9-1.5 1.8-1.4 1.9-1.3 1.9-1.2 1.9-1.1 1.8-1 1.9-0.9 1.9-0.8 1.8-0.8 1.9-0.6 1.9-0.5 1.8-0.4 1.9-0.4 1.8-0.2 1.9-0.2 1.8 0 1.9 0 1.8 0.1 1.9 0.3 1.8 0.3 1.8 0.4 1.9 0.5 1.8 0.6 1.8 0.6 1.8 0.8 1.9 0.9 1.8 0.9 1.8 1.1 1.8 1.1 1.8 1.2 1.7 1.3 1.8 1.4 1.8 1.5 1.8 1.5 1.7 1.7 1.8 1.7 1.8 1.8 1.7 1.9 1.7 2 1.8 2.1 1.7 2.1 1.7 2.3 1.7 2.3 1.7 2.4M197.2 244.3l1.8-4.4 1.8-4.2 1.9-4.2 1.8-4.1 1.8-3.9 1.9-3.9 1.8-3.7 1.9-3.6 1.9-3.5 1.8-3.5 1.9-3.3 1.8-3.2 1.9-3.1 1.9-3 1.8-2.9 1.9-2.8 1.9-2.7 1.9-2.6 1.8-2.4 1.9-2.4 1.9-2.3 1.9-2.2 1.8-2.1 1.9-1.9 1.9-1.9 1.9-1.8 1.9-1.7 1.8-1.6 1.9-1.4 1.9-1.4 1.9-1.3 1.8-1.2 1.9-1.1 1.9-1 1.9-0.9 1.8-0.8 1.9-0.7 1.9-0.6 1.8-0.5 1.9-0.4 1.9-0.4 1.8-0.2 1.9-0.1 1.8-0.1 1.9 0.1 1.8 0.1 1.9 0.2 1.8 0.3 1.8 0.5 1.9 0.5 1.8 0.6 1.8 0.7 1.8 0.7 1.9 0.9 1.8 1 1.8 1 1.8 1.1 1.8 1.2 1.8 1.4 1.7 1.4 1.8 1.4 1.8 1.6 1.8 1.7 1.7 1.7 1.8 1.8 1.7 1.9 1.8 2 1.7 2.1 1.8 2.2 1.7 2.2 1.7 2.4 1.7 2.4M195.1 240.8l1.8-4.4 1.8-4.2 1.9-4.2 1.8-4 1.9-4 1.8-3.8 1.9-3.7 1.8-3.6 1.9-3.5 1.8-3.5 1.9-3.3 1.9-3.1 1.8-3.1 1.9-3 1.9-2.9 1.8-2.8 1.9-2.7 1.9-2.5 1.9-2.5 1.8-2.4 1.9-2.2 1.9-2.2 1.9-2.1 1.9-2 1.8-1.8 1.9-1.8 1.9-1.7 1.9-1.5 1.9-1.5 1.8-1.4 1.9-1.2 1.9-1.2 1.9-1.1 1.8-1 1.9-0.9 1.9-0.8 1.9-0.7 1.8-0.6 1.9-0.5 1.9-0.4 1.8-0.3 1.9-0.2 1.8-0.1 1.9-0.1 1.8 0.1 1.9 0.1 1.8 0.3 1.9 0.3 1.8 0.4 1.9 0.5 1.8 0.6 1.8 0.7 1.8 0.8 1.9 0.9 1.8 1 1.8 1 1.8 1.2 1.8 1.2 1.8 1.3 1.8 1.4 1.8 1.5 1.7 1.6 1.8 1.6 1.8 1.8 1.7 1.8 1.8 2 1.7 2 1.8 2 1.7 2.2 1.7 2.3 1.7 2.3 1.8 2.4M193 237.3l1.8-4.3 1.8-4.3 1.9-4.1 1.8-4 1.9-3.9 1.8-3.9 1.9-3.7 1.8-3.6 1.9-3.5 1.8-3.4 1.9-3.2 1.9-3.2 1.8-3.1 1.9-3 1.9-2.8 1.9-2.8 1.8-2.7 1.9-2.5 1.9-2.5 1.9-2.4 1.8-2.2 1.9-2.2 1.9-2 1.9-2 1.9-1.8 1.8-1.8 1.9-1.6 1.9-1.6 1.9-1.5 1.9-1.3 1.9-1.3 1.8-1.1 1.9-1.1 1.9-1 1.9-0.9 1.8-0.7 1.9-0.7 1.9-0.6 1.9-0.5 1.8-0.4 1.9-0.3 1.8-0.2 1.9-0.1 1.9-0.1 1.8 0.1 1.9 0.1 1.8 0.3 1.9 0.3 1.8 0.5 1.8 0.5 1.9 0.6 1.8 0.7 1.8 0.8 1.9 0.9 1.8 1 1.8 1 1.8 1.2 1.8 1.2 1.8 1.3 1.8 1.5 1.8 1.5 1.7 1.5 1.8 1.7 1.8 1.8 1.8 1.8 1.7 1.9 1.8 2.1 1.7 2.1 1.7 2.1 1.8 2.3 1.7 2.3M190.9 234l1.8-4.4 1.8-4.2 1.9-4.1 1.8-4 1.9-3.9 1.8-3.8 1.9-3.7 1.8-3.6 1.9-3.5 1.9-3.4 1.8-3.2 1.9-3.2 1.9-3.1 1.8-2.9 1.9-2.9 1.9-2.7 1.8-2.7 1.9-2.5 1.9-2.5 1.9-2.3 1.9-2.3 1.8-2.1 1.9-2.1 1.9-1.9 1.9-1.9 1.9-1.7 1.9-1.6 1.8-1.6 1.9-1.4 1.9-1.4 1.9-1.2 1.9-1.2 1.9-1 1.8-1 1.9-0.9 1.9-0.7 1.9-0.7 1.8-0.6 1.9-0.5 1.9-0.4 1.8-0.3 1.9-0.2 1.9-0.1 1.8 0 1.9 0.1 1.8 0.2 1.9 0.2 1.8 0.4 1.9 0.4 1.8 0.5 1.9 0.7 1.8 0.7 1.8 0.8 1.8 0.9 1.9 1 1.8 1 1.8 1.2 1.8 1.2 1.8 1.4 1.8 1.4 1.8 1.5 1.8 1.6 1.7 1.7 1.8 1.7 1.8 1.9 1.7 1.9 1.8 2 1.7 2.1 1.8 2.2 1.7 2.3M188.8 230.7l1.8-4.3 1.8-4.2 1.9-4.1 1.8-4 1.9-3.9 1.8-3.8 1.9-3.7 1.8-3.6 1.9-3.4 1.9-3.4 1.8-3.3 1.9-3.1 1.9-3.1 1.8-2.9 1.9-2.9 1.9-2.7 1.9-2.6 1.8-2.6 1.9-2.4 1.9-2.3 1.9-2.3 1.9-2.1 1.8-2 1.9-2 1.9-1.8 1.9-1.7 1.9-1.7 1.9-1.5 1.9-1.4 1.8-1.4 1.9-1.2 1.9-1.1 1.9-1.1 1.9-0.9 1.9-0.9 1.8-0.8 1.9-0.6 1.9-0.6 1.9-0.5 1.8-0.3 1.9-0.3 1.9-0.2 1.8-0.1 1.9 0 1.9 0.1 1.8 0.1 1.9 0.3 1.8 0.4 1.9 0.4 1.8 0.6 1.8 0.6 1.9 0.7 1.8 0.8 1.8 0.9 1.9 1 1.8 1.1 1.8 1.2 1.8 1.2 1.8 1.4 1.8 1.4 1.8 1.5 1.8 1.6 1.8 1.7 1.7 1.8 1.8 1.8 1.8 2 1.7 2 1.8 2.1 1.7 2.2M186.7 227.5l1.8-4.3 1.9-4.2 1.8-4.1 1.8-4 1.9-3.8 1.8-3.8 1.9-3.7 1.8-3.5 1.9-3.5 1.9-3.3 1.8-3.3 1.9-3.1 1.9-3.1 1.8-2.9 1.9-2.8 1.9-2.8 1.9-2.6 1.9-2.5 1.8-2.4 1.9-2.4 1.9-2.2 1.9-2.1 1.9-2 1.9-1.9 1.8-1.8 1.9-1.8 1.9-1.6 1.9-1.5 1.9-1.4 1.9-1.4 1.9-1.2 1.8-1.1 1.9-1.1 1.9-0.9 1.9-0.8 1.9-0.8 1.9-0.6 1.8-0.6 1.9-0.5 1.9-0.3 1.8-0.3 1.9-0.2 1.9-0.1 1.8 0 1.9 0.1 1.9 0.2 1.8 0.3 1.9 0.4 1.8 0.4 1.9 0.6 1.8 0.6 1.9 0.7 1.8 0.9 1.8 0.9 1.8 1 1.9 1.1 1.8 1.1 1.8 1.3 1.8 1.3 1.8 1.5 1.8 1.5 1.8 1.6 1.8 1.7 1.7 1.8 1.8 1.8 1.8 2 1.7 2 1.8 2.1M184.6 224.4l1.8-4.3 1.9-4.1 1.8-4.1 1.8-4 1.9-3.9 1.8-3.7 1.9-3.7 1.8-3.5 1.9-3.5 1.9-3.3 1.8-3.2 1.9-3.2 1.9-3 1.9-2.9 1.8-2.8 1.9-2.7 1.9-2.7 1.9-2.5 1.8-2.4 1.9-2.3 1.9-2.2 1.9-2.1 1.9-2 1.9-1.9 1.9-1.8 1.8-1.7 1.9-1.6 1.9-1.5 1.9-1.5 1.9-1.3 1.9-1.2 1.9-1.1 1.9-1 1.8-1 1.9-0.8 1.9-0.7 1.9-0.7 1.9-0.5 1.8-0.5 1.9-0.3 1.9-0.3 1.9-0.2 1.8-0.1 1.9 0.1 1.9 0.1 1.8 0.2 1.9 0.2 1.8 0.4 1.9 0.5 1.8 0.6 1.9 0.6 1.8 0.7 1.9 0.9 1.8 0.9 1.8 1 1.8 1.1 1.9 1.2 1.8 1.2 1.8 1.4 1.8 1.4 1.8 1.6 1.8 1.6 1.8 1.7 1.8 1.8 1.7 1.9 1.8 1.9 1.8 2.1M182.5 221.4l1.8-4.3 1.9-4.1 1.8-4.1 1.8-3.9 1.9-3.9 1.8-3.7 1.9-3.7 1.8-3.5 1.9-3.4 1.9-3.4 1.8-3.2 1.9-3.1 1.9-3 1.9-2.9 1.8-2.8 1.9-2.7 1.9-2.6 1.9-2.5 1.9-2.4 1.8-2.3 1.9-2.2 1.9-2.1 1.9-2 1.9-1.9 1.9-1.8 1.9-1.7 1.9-1.6 1.8-1.5 1.9-1.4 1.9-1.3 1.9-1.2 1.9-1.1 1.9-1 1.9-0.9 1.9-0.9 1.8-0.7 1.9-0.6 1.9-0.6 1.9-0.4 1.9-0.4 1.8-0.2 1.9-0.2 1.9 0 1.9 0 1.8 0.1 1.9 0.2 1.8 0.3 1.9 0.4 1.9 0.5 1.8 0.5 1.9 0.7 1.8 0.7 1.8 0.9 1.9 0.9 1.8 1 1.8 1.1 1.8 1.2 1.9 1.3 1.8 1.3 1.8 1.5 1.8 1.5 1.8 1.7 1.8 1.7 1.8 1.8 1.7 1.8 1.8 2 1.8 2.1M180.4 218.5l1.8-4.3 1.8-4.1 1.9-4.1 1.8-3.9 1.9-3.9 1.8-3.7 1.9-3.6 1.8-3.5 1.9-3.4 1.9-3.4 1.8-3.2 1.9-3.1 1.9-3 1.9-2.9 1.8-2.7 1.9-2.7 1.9-2.6 1.9-2.5 1.9-2.4 1.9-2.3 1.8-2.2 1.9-2 1.9-2 1.9-1.9 1.9-1.8 1.9-1.7 1.9-1.6 1.9-1.5 1.9-1.3 1.8-1.3 1.9-1.2 1.9-1.1 1.9-1 1.9-0.9 1.9-0.9 1.9-0.7 1.9-0.6 1.8-0.5 1.9-0.5 1.9-0.3 1.9-0.2 1.9-0.2 1.8-0.1 1.9 0.1 1.9 0.1 1.8 0.2 1.9 0.3 1.9 0.4 1.8 0.5 1.9 0.6 1.8 0.6 1.9 0.8 1.8 0.9 1.8 0.9 1.9 1 1.8 1.1 1.8 1.2 1.8 1.3 1.9 1.4 1.8 1.4 1.8 1.6 1.8 1.6 1.8 1.7 1.8 1.8 1.7 1.9 1.8 2M178.3 215.7l1.8-4.3 1.8-4.1 1.9-4.1 1.8-3.9 1.9-3.8 1.8-3.7 1.9-3.6 1.8-3.6 1.9-3.4 1.9-3.3 1.8-3.1 1.9-3.1 1.9-3 1.9-2.9 1.8-2.8 1.9-2.7 1.9-2.5 1.9-2.5 1.9-2.4 1.9-2.3 1.8-2.1 1.9-2.1 1.9-2 1.9-1.8 1.9-1.8 1.9-1.7 1.9-1.6 1.9-1.4 1.9-1.4 1.9-1.3 1.9-1.2 1.9-1.1 1.8-1 1.9-0.9 1.9-0.8 1.9-0.7 1.9-0.6 1.9-0.5 1.9-0.4 1.8-0.4 1.9-0.2 1.9-0.1 1.9-0.1 1.8 0.1 1.9 0.1 1.9 0.2 1.9 0.3 1.8 0.4 1.9 0.5 1.8 0.6 1.9 0.7 1.8 0.8 1.9 0.8 1.8 1 1.8 1 1.9 1.1 1.8 1.2 1.8 1.3 1.8 1.4 1.9 1.4 1.8 1.6 1.8 1.6 1.8 1.8 1.8 1.8 1.7 1.9M176.2 212.9l1.8-4.2 1.8-4.1 1.9-4.1 1.8-3.9 1.9-3.8 1.8-3.7 1.9-3.6 1.8-3.5 1.9-3.4 1.9-3.3 1.8-3.1 1.9-3.1 1.9-3 1.9-2.9 1.8-2.7 1.9-2.7 1.9-2.6 1.9-2.4 1.9-2.4 1.9-2.2 1.9-2.2 1.8-2.1 1.9-1.9 1.9-1.9 1.9-1.7 1.9-1.7 1.9-1.6 1.9-1.4 1.9-1.4 1.9-1.3 1.9-1.2 1.9-1 1.9-1 1.9-0.9 1.8-0.8 1.9-0.7 1.9-0.6 1.9-0.5 1.9-0.4 1.9-0.3 1.9-0.3 1.8-0.1 1.9 0 1.9 0 1.9 0.2 1.8 0.2 1.9 0.3 1.9 0.4 1.8 0.5 1.9 0.6 1.8 0.7 1.9 0.8 1.8 0.8 1.9 1 1.8 1 1.9 1.2 1.8 1.2 1.8 1.3 1.8 1.4 1.8 1.4 1.9 1.6 1.8 1.6 1.8 1.8 1.8 1.8M174.1 210.3l1.8-4.3 1.8-4.1 1.9-4 1.8-3.9 1.9-3.8 1.8-3.7 1.9-3.6 1.8-3.4 1.9-3.4 1.9-3.3 1.8-3.2 1.9-3 1.9-3 1.9-2.8 1.8-2.8 1.9-2.7 1.9-2.5 1.9-2.5 1.9-2.3 1.9-2.2 1.9-2.2 1.8-2 1.9-2 1.9-1.8 1.9-1.8 1.9-1.6 1.9-1.6 1.9-1.5 1.9-1.3 1.9-1.3 1.9-1.1 1.9-1.1 1.9-1 1.9-0.9 1.9-0.7 1.9-0.7 1.8-0.6 1.9-0.5 1.9-0.4 1.9-0.3 1.9-0.2 1.9-0.2 1.9 0 1.8 0.1 1.9 0.1 1.9 0.3 1.8 0.3 1.9 0.4 1.9 0.5 1.8 0.6 1.9 0.7 1.8 0.8 1.9 0.9 1.8 0.9 1.9 1.1 1.8 1.1 1.9 1.2 1.8 1.3 1.8 1.4 1.8 1.5 1.8 1.6 1.8 1.6 1.8 1.8M172 207.7l1.8-4.2 1.8-4.1 1.9-4 1.8-3.9 1.9-3.8 1.8-3.7 1.9-3.5 1.8-3.5 1.9-3.4 1.9-3.2 1.8-3.2 1.9-3 1.9-3 1.9-2.8 1.8-2.8 1.9-2.6 1.9-2.6 1.9-2.4 1.9-2.3 1.9-2.3 1.9-2.1 1.9-2 1.8-2 1.9-1.8 1.9-1.8 1.9-1.6 1.9-1.5 1.9-1.5 1.9-1.3 1.9-1.3 1.9-1.1 1.9-1.1 1.9-1 1.9-0.8 1.9-0.8 1.9-0.7 1.9-0.5 1.9-0.5 1.9-0.4 1.8-0.3 1.9-0.2 1.9-0.2 1.9 0 1.9 0.1 1.8 0.1 1.9 0.3 1.9 0.3 1.9 0.5 1.8 0.5 1.9 0.6 1.8 0.7 1.9 0.8 1.9 0.9 1.8 0.9 1.8 1.1 1.9 1.1 1.8 1.3 1.8 1.3 1.9 1.4 1.8 1.5 1.8 1.5 1.8 1.7M169.9 205.2l1.8-4.2 1.8-4.1 1.9-4 1.8-3.8 1.9-3.8 1.8-3.7 1.9-3.5 1.8-3.5 1.9-3.3 1.9-3.3 1.8-3.1 1.9-3.1 1.9-2.9 1.9-2.8 1.8-2.8 1.9-2.6 1.9-2.5 1.9-2.5 1.9-2.3 1.9-2.2 1.9-2.1 1.9-2.1 1.9-1.9 1.8-1.8 1.9-1.7 1.9-1.7 1.9-1.5 1.9-1.4 1.9-1.4 1.9-1.2 1.9-1.2 1.9-1 1.9-0.9 1.9-0.9 1.9-0.8 1.9-0.6 1.9-0.6 1.9-0.5 1.9-0.4 1.9-0.3 1.9-0.2 1.8-0.1 1.9 0 1.9 0.1 1.9 0.2 1.9 0.2 1.8 0.4 1.9 0.4 1.9 0.5 1.8 0.7 1.9 0.7 1.9 0.8 1.8 0.9 1.9 0.9 1.8 1.1 1.8 1.1 1.9 1.3 1.8 1.3 1.8 1.4 1.9 1.5 1.8 1.6 1.8 1.6M167.7 202.8l1.9-4.2 1.8-4.1 1.9-3.9 1.8-3.9 1.9-3.7 1.8-3.7 1.9-3.5 1.8-3.5 1.9-3.3 1.9-3.3 1.8-3.1 1.9-3 1.9-2.9 1.9-2.9 1.8-2.7 1.9-2.6 1.9-2.5 1.9-2.4 1.9-2.3 1.9-2.3 1.9-2.1 1.9-2 1.9-1.9 1.8-1.8 1.9-1.7 1.9-1.7 1.9-1.5 1.9-1.4 1.9-1.3 1.9-1.3 1.9-1.1 1.9-1 1.9-1 1.9-0.8 1.9-0.8 1.9-0.6 1.9-0.6 1.9-0.5 1.9-0.3 1.9-0.3 1.9-0.2 1.9-0.1 1.9 0 1.8 0.1 1.9 0.2 1.9 0.2 1.9 0.4 1.8 0.4 1.9 0.6 1.9 0.6 1.8 0.7 1.9 0.8 1.9 0.9 1.8 1 1.9 1.1 1.8 1.1 1.8 1.3 1.9 1.3 1.8 1.4 1.8 1.5 1.9 1.6M165.6 200.5l1.9-4.2 1.8-4 1.8-4 1.9-3.9 1.8-3.7 1.9-3.6 1.9-3.6 1.8-3.4 1.9-3.3 1.8-3.3 1.9-3.1 1.9-3 1.9-2.9 1.8-2.8 1.9-2.7 1.9-2.6 1.9-2.5 1.9-2.4 1.9-2.3 1.9-2.2 1.9-2.1 1.9-2 1.9-1.9 1.8-1.8 1.9-1.7 1.9-1.7 1.9-1.5 1.9-1.4 1.9-1.3 1.9-1.2 1.9-1.1 1.9-1.1 1.9-0.9 1.9-0.8 1.9-0.8 1.9-0.6 1.9-0.6 1.9-0.4 1.9-0.4 1.9-0.3 1.9-0.2 1.9 0 1.9 0 1.9 0.1 1.8 0.1 1.9 0.3 1.9 0.4 1.9 0.4 1.9 0.6 1.8 0.6 1.9 0.7 1.8 0.9 1.9 0.9 1.9 0.9 1.8 1.1 1.9 1.2 1.8 1.2 1.8 1.4 1.9 1.4 1.8 1.5M163.5 198.3l1.9-4.2 1.8-4.1 1.8-3.9 1.9-3.8 1.8-3.8 1.9-3.6 1.8-3.5 1.9-3.4 1.9-3.3 1.8-3.3 1.9-3.1 1.9-3 1.9-2.9 1.8-2.8 1.9-2.7 1.9-2.5 1.9-2.5 1.9-2.4 1.9-2.3 1.9-2.2 1.9-2.1 1.9-2 1.9-1.9 1.9-1.8 1.8-1.7 1.9-1.6 1.9-1.5 1.9-1.4 1.9-1.3 2-1.2 1.9-1.1 1.9-1 1.9-0.9 1.9-0.9 1.9-0.7 1.9-0.6 1.8-0.6 1.9-0.4 1.9-0.4 1.9-0.3 1.9-0.1 1.9-0.1 1.9 0 1.9 0.1 1.9 0.2 1.9 0.3 1.8 0.4 1.9 0.4 1.9 0.6 1.9 0.6 1.8 0.7 1.9 0.9 1.9 0.9 1.8 1 1.9 1.1 1.8 1.1 1.9 1.3 1.8 1.3 1.8 1.5M161.4 196.1l1.9-4.1 1.8-4.1 1.8-3.9 1.9-3.8 1.8-3.7 1.9-3.7 1.8-3.5 1.9-3.4 1.9-3.3 1.8-3.2 1.9-3.1 1.9-3 1.9-2.8 1.8-2.8 1.9-2.7 1.9-2.6 1.9-2.5 1.9-2.4 1.9-2.2 1.9-2.2 1.9-2.1 1.9-2 1.9-1.9 1.8-1.7 1.9-1.7 1.9-1.6 2-1.5 1.9-1.4 1.9-1.3 1.9-1.2 1.9-1.1 1.9-1 1.9-0.9 1.9-0.8 1.9-0.8 1.9-0.6 1.9-0.5 1.9-0.5 1.9-0.3 1.9-0.3 1.8-0.1 1.9-0.1 1.9 0 1.9 0.1 1.9 0.2 1.9 0.3 1.9 0.4 1.8 0.5 1.9 0.5 1.9 0.7 1.9 0.7 1.8 0.9 1.9 0.9 1.9 1 1.8 1.1 1.9 1.1 1.8 1.3 1.9 1.4M159.3 194l1.8-4.1 1.9-4 1.8-3.9 1.9-3.8 1.8-3.7 1.9-3.6 1.8-3.5 1.9-3.4 1.9-3.3 1.8-3.2 1.9-3.1 1.9-3 1.8-2.8 1.9-2.8 1.9-2.7 1.9-2.6 1.9-2.4 1.9-2.4 1.9-2.3 1.9-2.1 1.9-2.1 1.9-2 1.8-1.9 1.9-1.7 1.9-1.7 1.9-1.6 2-1.5 1.9-1.3 1.9-1.3 1.9-1.2 1.9-1.1 1.9-1 1.9-0.9 1.9-0.8 1.9-0.7 1.9-0.6 1.9-0.6 1.9-0.4 1.9-0.3 1.9-0.3 1.9-0.1 1.9-0.1 1.9 0 1.8 0.1 1.9 0.2 1.9 0.4 1.9 0.3 1.9 0.5 1.9 0.6 1.8 0.6 1.9 0.8 1.9 0.8 1.8 1 1.9 1 1.9 1.1 1.8 1.1 1.9 1.3M157.2 192.1l1.8-4.1 1.9-4.1 1.8-3.9 1.9-3.8 1.8-3.7 1.9-3.6 1.8-3.4 1.9-3.4 1.8-3.3 1.9-3.2 1.9-3 1.9-3 1.8-2.9 1.9-2.7 1.9-2.7 1.9-2.5 1.9-2.5 1.9-2.4 1.9-2.2 1.9-2.2 1.8-2 1.9-2 1.9-1.9 1.9-1.7 1.9-1.7 1.9-1.6 2-1.4 1.9-1.4 1.9-1.3 1.9-1.1 1.9-1.1 1.9-1 1.9-0.9 1.9-0.8 1.9-0.7 1.9-0.6 1.9-0.5 1.9-0.5 1.9-0.3 1.9-0.2 1.9-0.2 1.9 0 1.9 0 1.9 0.1 1.9 0.2 1.8 0.4 1.9 0.4 1.9 0.4 1.9 0.6 1.9 0.7 1.8 0.7 1.9 0.9 1.9 0.9 1.8 1 1.9 1.1 1.9 1.2 1.8 1.3M155.1 190.2l1.8-4.1 1.9-4 1.8-3.9 1.8-3.8 1.9-3.7 1.8-3.6 1.9-3.4 1.9-3.4 1.8-3.3 1.9-3.1 1.9-3.1 1.8-2.9 1.9-2.9 1.9-2.8 1.9-2.6 1.9-2.6 1.9-2.4 1.9-2.3 1.9-2.3 1.8-2.1 1.9-2.1 1.9-1.9 1.9-1.9 1.9-1.7 1.9-1.7 1.9-1.5 2-1.5 1.9-1.4 1.9-1.2 1.9-1.2 1.9-1.1 1.9-1 1.9-0.8 1.9-0.8 1.9-0.7 1.9-0.6 1.9-0.5 1.9-0.4 1.9-0.4 1.9-0.2 1.9-0.1 1.9-0.1 1.9 0.1 1.9 0.1 1.9 0.2 1.9 0.3 1.9 0.4 1.8 0.5 1.9 0.6 1.9 0.7 1.9 0.8 1.8 0.8 1.9 0.9 1.9 1.1 1.8 1.1 1.9 1.2M153 188.4l1.8-4.1 1.9-4 1.8-3.9 1.8-3.8 1.9-3.6 1.8-3.6 1.9-3.5 1.9-3.3 1.8-3.3 1.9-3.1 1.9-3.1 1.8-2.9 1.9-2.9 1.9-2.7 1.9-2.6 1.9-2.6 1.9-2.4 1.9-2.3 1.8-2.3 1.9-2.1 1.9-2.1 1.9-1.9 1.9-1.8 1.9-1.8 1.9-1.6 1.9-1.6 1.9-1.4 2-1.4 1.9-1.2 1.9-1.2 1.9-1 1.9-1 1.9-0.9 1.9-0.8 1.9-0.7 1.9-0.5 1.9-0.5 1.9-0.5 1.9-0.3 1.9-0.2 1.9-0.1 1.9-0.1 1.9 0.1 1.9 0.1 1.9 0.3 1.9 0.3 1.9 0.4 1.9 0.5 1.8 0.6 1.9 0.7 1.9 0.8 1.9 0.8 1.9 1 1.8 1 1.9 1.1M150.9 186.6l1.8-4 1.8-4 1.9-3.9 1.8-3.7 1.9-3.7 1.8-3.6 1.9-3.4 1.8-3.3 1.9-3.3 1.9-3.1 1.9-3.1 1.8-2.9 1.9-2.8 1.9-2.8 1.9-2.6 1.9-2.5 1.9-2.4 1.8-2.4 1.9-2.2 1.9-2.1 1.9-2 1.9-2 1.9-1.8 1.9-1.7 1.9-1.7 1.9-1.5 1.9-1.4 2-1.4 1.9-1.2 1.9-1.2 1.9-1 1.9-1 1.9-0.9 1.9-0.7 1.9-0.7 1.9-0.6 1.9-0.5 1.9-0.4 1.9-0.3 1.9-0.2 1.9-0.1 1.9 0 1.9 0 1.9 0.2 1.9 0.2 1.9 0.3 1.9 0.5 1.9 0.5 1.9 0.6 1.9 0.7 1.8 0.7 1.9 0.9 1.9 1 1.9 1M148.8 185l1.8-4.1 1.8-3.9 1.9-3.9 1.8-3.7 1.9-3.7 1.8-3.5 1.9-3.5 1.8-3.3 1.9-3.2 1.9-3.2 1.8-3 1.9-2.9 1.9-2.8 1.9-2.7 1.9-2.6 1.9-2.6 1.8-2.4 1.9-2.3 1.9-2.2 1.9-2.1 1.9-2 1.9-2 1.9-1.8 1.9-1.7 1.9-1.6 1.9-1.5 1.9-1.5 2-1.3 1.9-1.2 1.9-1.2 1.9-1 1.9-1 1.9-0.8 1.9-0.8 1.9-0.7 1.9-0.5 1.9-0.5 1.9-0.4 1.9-0.3 1.9-0.2 1.9-0.1 1.9-0.1 1.9 0.1 1.9 0.2 1.9 0.2 1.9 0.4 1.9 0.4 1.9 0.5 1.9 0.6 1.9 0.7 1.9 0.8 1.8 0.9 1.9 0.9M146.7 183.4l1.8-4 1.8-4 1.9-3.8 1.8-3.7 1.9-3.7 1.8-3.5 1.9-3.4 1.8-3.4 1.9-3.2 1.9-3.1 1.8-3 1.9-2.9 1.9-2.8 1.9-2.7 1.9-2.6 1.8-2.5 1.9-2.4 1.9-2.3 1.9-2.2 1.9-2.2 1.9-2 1.9-1.9 1.9-1.8 1.9-1.7 1.9-1.6 1.9-1.5 1.9-1.4 1.9-1.4 2-1.2 1.9-1.1 1.9-1.1 1.9-0.9 1.9-0.8 1.9-0.8 1.9-0.7 1.9-0.5 1.9-0.5 1.9-0.4 1.9-0.3 1.9-0.2 2-0.1 1.9 0 1.9 0.1 1.9 0.2 1.9 0.2 1.9 0.4 1.8 0.4 1.9 0.5 1.9 0.6 1.9 0.7 1.9 0.8 1.9 0.9M144.6 182l1.8-4.1 1.8-3.9 1.9-3.8 1.8-3.8 1.9-3.6 1.8-3.5 1.9-3.4 1.8-3.3 1.9-3.2 1.9-3.1 1.8-3.1 1.9-2.8 1.9-2.8 1.9-2.7 1.8-2.6 1.9-2.5 1.9-2.4 1.9-2.3 1.9-2.2 1.9-2.1 1.9-2 1.9-1.9 1.9-1.8 1.9-1.7 1.9-1.6 1.9-1.5 1.9-1.4 1.9-1.3 2-1.3 1.9-1.1 1.9-1 1.9-0.9 1.9-0.9 1.9-0.7 1.9-0.7 1.9-0.5 1.9-0.5 1.9-0.4 2-0.2 1.9-0.2 1.9-0.1 1.9 0 1.9 0 1.9 0.2 1.9 0.3 1.9 0.3 1.9 0.5 1.9 0.5 1.8 0.6 1.9 0.7 1.9 0.8 1.9 0.9M142.5 180.6l1.8-4.1 1.8-3.9 1.9-3.8 1.8-3.7 1.8-3.6 1.9-3.5 1.9-3.4 1.8-3.3 1.9-3.2 1.8-3.1 1.9-3 1.9-2.9 1.9-2.8 1.9-2.7 1.8-2.6 1.9-2.4 1.9-2.4 1.9-2.3 1.9-2.2 1.9-2.1 1.9-2 1.9-1.8 1.9-1.8 1.9-1.7 1.9-1.6 1.9-1.5 1.9-1.4 1.9-1.3 2-1.2 1.9-1.2 1.9-1 1.9-0.9 1.9-0.8 1.9-0.8 1.9-0.6 1.9-0.6 1.9-0.4 1.9-0.4 2-0.2 1.9-0.2 1.9-0.1 1.9 0 1.9 0.1 1.9 0.2 1.9 0.2 1.9 0.4 1.9 0.4 1.9 0.6 1.9 0.6 1.9 0.7 1.8 0.8M140.3 179.3l1.9-4.1 1.8-3.9 1.8-3.8 1.9-3.7 1.8-3.6 1.9-3.5 1.8-3.4 1.9-3.3 1.9-3.1 1.8-3.1 1.9-3 1.9-2.9 1.9-2.8 1.8-2.6 1.9-2.6 1.9-2.5 1.9-2.3 1.9-2.3 1.9-2.2 1.9-2.1 1.9-1.9 1.9-1.9 1.9-1.8 1.9-1.7 1.9-1.6 1.9-1.5 1.9-1.3 1.9-1.3 1.9-1.2 2-1.1 1.9-1.1 1.9-0.9 1.9-0.8 1.9-0.7 1.9-0.7 1.9-0.5 1.9-0.4 2-0.4 1.9-0.3 1.9-0.1 1.9-0.1 1.9 0 1.9 0.1 1.9 0.2 1.9 0.3 1.9 0.3 1.9 0.5 1.9 0.5 1.9 0.7 1.9 0.7M138.2 178l1.9-4 1.8-3.9 1.8-3.8 1.9-3.7 1.8-3.6 1.9-3.4 1.8-3.4 1.9-3.3 1.9-3.2 1.8-3 1.9-3 1.9-2.9 1.9-2.7 1.8-2.7 1.9-2.6 1.9-2.4 1.9-2.4 1.9-2.2 1.9-2.2 1.9-2.1 1.9-1.9 1.9-1.9 1.9-1.8 1.9-1.7 1.9-1.5 1.9-1.5 1.9-1.4 1.9-1.3 1.9-1.2 2-1.1 1.9-1 1.9-0.9 1.9-0.8 1.9-0.7 1.9-0.6 1.9-0.6 1.9-0.4 2-0.4 1.9-0.2 1.9-0.2 1.9-0.1 1.9 0.1 1.9 0.1 1.9 0.2 1.9 0.3 1.9 0.3 1.9 0.5 1.9 0.5 1.9 0.7M136.1 176.9l1.9-4 1.8-3.9 1.8-3.8 1.9-3.7 1.8-3.5 1.9-3.5 1.8-3.4 1.9-3.2 1.9-3.2 1.8-3.1 1.9-2.9 1.9-2.9 1.9-2.7 1.8-2.7 1.9-2.5 1.9-2.5 1.9-2.3 1.9-2.3 1.9-2.2 1.9-2 1.9-2 1.9-1.8 1.9-1.8 1.9-1.6 1.9-1.6 1.9-1.5 1.9-1.4 1.9-1.2 1.9-1.2 2-1.1 1.9-1 1.9-0.9 1.9-0.8 1.9-0.7 1.9-0.6 1.9-0.6 2-0.4 1.9-0.3 1.9-0.3 1.9-0.1 1.9-0.1 1.9 0 1.9 0.1 1.9 0.2 1.9 0.3 1.9 0.4 1.9 0.5 1.9 0.5M134 175.8l1.9-4 1.8-3.8 1.8-3.8 1.9-3.7 1.8-3.6 1.9-3.4 1.8-3.4 1.9-3.2 1.9-3.2 1.8-3 1.9-3 1.9-2.8 1.8-2.8 1.9-2.6 1.9-2.5 1.9-2.5 1.9-2.3 1.9-2.3 1.9-2.1 1.9-2.1 1.9-1.9 1.9-1.9 1.9-1.7 1.9-1.7 1.9-1.5 1.9-1.5 1.9-1.3 1.9-1.3 1.9-1.2 2-1.1 1.9-0.9 1.9-0.9 1.9-0.8 1.9-0.7 1.9-0.6 1.9-0.6 2-0.4 1.9-0.3 1.9-0.3 1.9-0.1 1.9-0.1 1.9 0.1 1.9 0.1 1.9 0.2 1.9 0.3 1.9 0.4 2 0.5 1.9 0.5M131.9 174.8l1.9-3.9 1.8-3.9 1.8-3.8 1.9-3.6 1.8-3.6 1.9-3.4 1.8-3.4 1.9-3.2 1.9-3.2 1.8-3 1.9-2.9 1.9-2.9 1.8-2.7 1.9-2.6 1.9-2.6 1.9-2.4 1.9-2.3 1.9-2.3 1.9-2.1 1.9-2 1.9-2 1.9-1.8 1.9-1.7 1.9-1.7 1.9-1.5 1.9-1.5 1.9-1.4 1.9-1.2 1.9-1.2 2-1 1.9-1 1.9-0.9 1.9-0.8 1.9-0.7 1.9-0.6 1.9-0.5 2-0.4 1.9-0.3 1.9-0.3 1.9-0.1 1.9-0.1 1.9 0.1 1.9 0.1 2 0.2 1.9 0.3 1.9 0.4 1.9 0.5M129.8 173.9l1.9-3.9 1.8-3.9 1.8-3.7 1.9-3.7 1.8-3.5 1.9-3.5 1.8-3.3 1.9-3.2 1.8-3.2 1.9-3 1.9-2.9 1.9-2.8 1.8-2.8 1.9-2.6 1.9-2.5 1.9-2.4 1.9-2.4 1.9-2.2 1.9-2.1 1.9-2 1.9-2 1.9-1.8 1.9-1.7 1.9-1.7 1.9-1.5 1.9-1.4 1.9-1.4 1.9-1.2 1.9-1.2 2-1.1 1.9-0.9 1.9-0.9 1.9-0.8 1.9-0.7 1.9-0.6 2-0.5 1.9-0.4 1.9-0.3 1.9-0.2 1.9-0.1 1.9-0.1 1.9 0.1 2 0.1 1.9 0.2 1.9 0.3 1.9 0.4M127.8 173.1l1.8-3.9 1.8-3.9 1.8-3.7 1.9-3.7 1.8-3.5 1.9-3.4 1.8-3.3 1.9-3.3 1.8-3.1 1.9-3 1.9-2.9 1.9-2.8 1.8-2.7 1.9-2.7 1.9-2.5 1.9-2.4 1.9-2.3 1.9-2.2 1.9-2.1 1.9-2 1.9-2 1.9-1.8 1.9-1.7 1.9-1.6 1.9-1.6 1.9-1.4 1.9-1.3 1.9-1.3 1.9-1.1 2-1.1 1.9-0.9 1.9-0.9 1.9-0.8 1.9-0.7 1.9-0.5 2-0.5 1.9-0.4 1.9-0.3 1.9-0.3 1.9-0.1 1.9 0 2 0 1.9 0.2 1.9 0.2 1.9 0.3M125.7 172.4l1.8-4 1.8-3.8 1.8-3.7 1.9-3.7 1.8-3.5 1.9-3.4 1.8-3.3 1.9-3.2 1.8-3.1 1.9-3 1.9-2.9 1.9-2.8 1.8-2.7 1.9-2.6 1.9-2.6 1.9-2.4 1.9-2.3 1.9-2.2 1.9-2.1 1.9-2 1.9-1.9 1.9-1.8 1.9-1.7 1.9-1.6 1.9-1.6 1.9-1.4 1.9-1.3 1.9-1.2 1.9-1.2 2-1 1.9-1 1.9-0.8 1.9-0.8 1.9-0.7 1.9-0.6 2-0.4 1.9-0.4 1.9-0.3 1.9-0.3 1.9-0.1 1.9 0 2 0.1 1.9 0.1 1.9 0.2M123.6 171.7l1.8-3.9 1.8-3.8 1.9-3.8 1.8-3.6 1.8-3.5 1.9-3.4 1.8-3.3 1.9-3.2 1.9-3.1 1.8-3 1.9-2.9 1.9-2.8 1.8-2.7 1.9-2.6 1.9-2.5 1.9-2.3 1.9-2.3 1.9-2.2 1.9-2.1 1.9-2 1.9-1.9 1.9-1.8 1.9-1.7 1.9-1.7 1.9-1.5 1.9-1.4 1.9-1.3 1.9-1.2 1.9-1.2 2-1 1.9-0.9 1.9-0.9 1.9-0.8 1.9-0.6 1.9-0.6 2-0.5 1.9-0.4 1.9-0.3 1.9-0.2 1.9-0.1 2 0 1.9 0.1 1.9 0.1 1.9 0.3M121.5 171.1l1.8-3.9 1.8-3.8 1.9-3.7 1.8-3.6 1.8-3.5 1.9-3.4 1.8-3.3 1.9-3.2 1.9-3.1 1.8-3 1.9-2.8 1.9-2.8 1.8-2.7 1.9-2.6 1.9-2.5 1.9-2.4 1.9-2.2 1.9-2.2 1.9-2.1 1.9-2 1.9-1.9 1.9-1.8 1.9-1.7 1.9-1.6 1.9-1.5 1.9-1.4 1.9-1.3 1.9-1.2 1.9-1.2 2-1 1.9-0.9 1.9-0.9 1.9-0.7 1.9-0.7 2-0.5 1.9-0.5 1.9-0.4 1.9-0.3 1.9-0.2 1.9-0.1 2 0 1.9 0.1 1.9 0.1M119.4 170.6l1.8-3.9 1.8-3.8 1.9-3.7 1.8-3.6 1.8-3.5 1.9-3.3 1.8-3.3 1.9-3.2 1.9-3.1 1.8-3 1.9-2.8 1.9-2.8 1.8-2.7 1.9-2.6 1.9-2.4 1.9-2.4 1.9-2.3 1.9-2.2 1.9-2 1.9-2 1.9-1.9 1.9-1.8 1.9-1.7 1.9-1.6 1.9-1.5 1.9-1.4 1.9-1.3 1.9-1.2 1.9-1.1 2-1 1.9-0.9 1.9-0.9 1.9-0.7 1.9-0.7 2-0.5 1.9-0.5 1.9-0.4 1.9-0.2 1.9-0.2 2-0.1 1.9-0.1 1.9 0.1M117.3 170.2l1.8-3.9 1.9-3.8 1.8-3.7 1.8-3.5 1.9-3.5 1.8-3.4 1.9-3.3 1.8-3.1 1.9-3.1 1.8-3 1.9-2.8 1.9-2.8 1.9-2.7 1.8-2.5 1.9-2.5 1.9-2.4 1.9-2.2 1.9-2.2 1.9-2.1 1.9-1.9 1.9-1.9 1.9-1.8 1.9-1.7 1.9-1.6 1.9-1.4 1.9-1.4 1.9-1.3 1.9-1.2 2-1.1 1.9-1.1 1.9-0.9 1.9-0.8 1.9-0.7 1.9-0.7 2-0.5 1.9-0.5 1.9-0.4 1.9-0.2 1.9-0.2 2-0.1 1.9 0M115.2 169.9l1.8-3.9 1.9-3.8 1.8-3.7 1.8-3.5 1.9-3.5 1.8-3.4 1.9-3.2 1.8-3.2 1.9-3.1 1.8-2.9 1.9-2.9 1.9-2.7 1.9-2.7 1.8-2.5 1.9-2.5 1.9-2.3 1.9-2.3 1.9-2.2 1.9-2 1.9-2 1.9-1.9 1.9-1.7 1.9-1.7 1.9-1.6 1.9-1.4 1.9-1.4 1.9-1.3 1.9-1.2 2-1.1 1.9-1 1.9-0.9 1.9-0.9 1.9-0.7 2-0.6 1.9-0.6 1.9-0.4 1.9-0.4 1.9-0.2 2-0.2 1.9-0.1M113.1 169.6l1.9-3.9 1.8-3.7 1.8-3.7 1.9-3.6 1.8-3.4 1.8-3.4 1.9-3.2 1.8-3.2 1.9-3 1.9-3 1.8-2.8 1.9-2.8 1.9-2.6 1.8-2.6 1.9-2.4 1.9-2.4 1.9-2.2 1.9-2.1 1.9-2.1 1.9-2 1.9-1.8 1.9-1.8 1.9-1.6 1.9-1.6 1.9-1.5 1.9-1.4 1.9-1.2 2-1.2 1.9-1.1 1.9-1 1.9-0.9 1.9-0.8 1.9-0.8 2-0.6 1.9-0.5 1.9-0.5 1.9-0.3 2-0.3 1.9-0.2 1.9 0M111.1 169.4l1.8-3.8 1.8-3.8 1.8-3.7 1.9-3.5 1.8-3.4 1.9-3.4 1.8-3.2 1.9-3.2 1.8-3 1.9-3 1.8-2.8 1.9-2.7 1.9-2.7 1.9-2.5 1.8-2.4 1.9-2.4 1.9-2.2 1.9-2.2 1.9-2 1.9-1.9 1.9-1.9 1.9-1.8 1.9-1.6 1.9-1.6 1.9-1.4 1.9-1.4 1.9-1.3 2-1.2 1.9-1 1.9-1 1.9-0.9 1.9-0.8 2-0.7 1.9-0.7 1.9-0.5 1.9-0.4 1.9-0.4 2-0.2 1.9-0.2M109 169.3l1.8-3.8 1.8-3.8 1.9-3.6 1.8-3.6 1.8-3.4 1.9-3.3 1.8-3.3 1.9-3.1 1.8-3 1.9-3 1.9-2.8 1.8-2.7 1.9-2.6 1.9-2.6 1.9-2.4 1.8-2.3 1.9-2.3 1.9-2.1 1.9-2 1.9-2 1.9-1.8 1.9-1.8 1.9-1.6 1.9-1.6 1.9-1.4 1.9-1.4 2-1.2 1.9-1.2 1.9-1.1 1.9-1 1.9-0.9 1.9-0.8 2-0.7 1.9-0.6 1.9-0.5 1.9-0.4 2-0.4 1.9-0.2M106.9 169.3l1.8-3.8 1.9-3.8 1.8-3.6 1.8-3.5 1.9-3.5 1.8-3.3 1.8-3.2 1.9-3.1 1.9-3.1 1.8-2.9 1.9-2.8 1.8-2.7 1.9-2.6 1.9-2.6 1.9-2.4 1.9-2.3 1.8-2.2 1.9-2.2 1.9-2 1.9-1.9 1.9-1.8 1.9-1.8 1.9-1.6 1.9-1.6 1.9-1.4 2-1.4 1.9-1.2 1.9-1.2 1.9-1.1 1.9-0.9 1.9-0.9 2-0.8 1.9-0.7 1.9-0.6 1.9-0.5 2-0.5 1.9-0.3M104.9 169.4l1.8-3.9 1.8-3.7 1.8-3.6 1.8-3.6 1.9-3.4 1.8-3.3 1.9-3.2 1.8-3.1 1.9-3 1.8-2.9 1.9-2.8 1.9-2.8 1.8-2.6 1.9-2.5 1.9-2.4 1.9-2.3 1.9-2.2 1.9-2.1 1.8-2.1 1.9-1.9 1.9-1.8 1.9-1.7 1.9-1.7 2-1.5 1.9-1.4 1.9-1.4 1.9-1.2 1.9-1.2 1.9-1.1 1.9-0.9 2-0.9 1.9-0.8 1.9-0.7 1.9-0.6 1.9-0.5 2-0.4 1.9-0.3M102.8 169.5l1.8-3.8 1.8-3.8 1.9-3.6 1.8-3.5 1.8-3.4 1.9-3.3 1.8-3.2 1.8-3.1 1.9-3 1.9-2.9 1.8-2.8 1.9-2.7 1.9-2.6 1.8-2.5 1.9-2.4 1.9-2.3 1.9-2.2 1.9-2.1 1.9-2 1.9-2 1.9-1.8 1.9-1.7 1.9-1.6 1.9-1.6 1.9-1.4 1.9-1.3 1.9-1.3 1.9-1.1 1.9-1.1 2-0.9 1.9-0.9 1.9-0.8 1.9-0.7 1.9-0.6 2-0.5 1.9-0.4M100.7 169.7l1.9-3.8 1.8-3.7 1.8-3.6 1.8-3.5 1.8-3.4 1.9-3.3 1.8-3.2 1.9-3.1 1.8-3 1.9-2.9 1.9-2.8 1.8-2.7 1.9-2.6 1.9-2.5 1.8-2.4 1.9-2.3 1.9-2.2 1.9-2.1 1.9-2 1.9-1.9 1.9-1.8 1.9-1.7 1.9-1.6 1.9-1.5 1.9-1.5 1.9-1.3 1.9-1.2 1.9-1.2 2-1 1.9-1 1.9-0.8 1.9-0.8 1.9-0.7 2-0.6 1.9-0.5M98.7 170l1.8-3.8 1.8-3.7 1.8-3.6 1.9-3.5 1.8-3.4 1.8-3.3 1.9-3.2 1.8-3.1 1.9-2.9 1.8-2.9 1.9-2.8 1.8-2.7 1.9-2.6 1.9-2.5 1.9-2.4 1.9-2.2 1.8-2.2 1.9-2.1 1.9-2 1.9-1.9 1.9-1.8 1.9-1.7 1.9-1.6 1.9-1.5 1.9-1.5 1.9-1.3 2-1.2 1.9-1.2 1.9-1 1.9-1 1.9-0.8 1.9-0.8 2-0.6 1.9-0.6M96.6 170.3l1.8-3.7 1.9-3.7 1.8-3.6 1.8-3.5 1.8-3.4 1.9-3.3 1.8-3.1 1.9-3.1 1.8-3 1.9-2.9 1.8-2.7 1.9-2.7 1.9-2.6 1.8-2.5 1.9-2.4 1.9-2.2 1.9-2.2 1.9-2.1 1.8-2 1.9-1.9 1.9-1.8 1.9-1.7 1.9-1.6 1.9-1.5 2-1.4 1.9-1.3 1.9-1.2 1.9-1.2 1.9-1 1.9-0.9 1.9-0.9 2-0.8 1.9-0.6M94.6 170.8l1.8-3.8 1.8-3.7 1.8-3.6 1.8-3.4 1.9-3.4 1.8-3.3 1.8-3.1 1.9-3.1 1.8-3 1.9-2.8 1.9-2.8 1.8-2.7 1.9-2.5 1.9-2.5 1.8-2.4 1.9-2.3 1.9-2.1 1.9-2.1 1.9-2 1.9-1.9 1.9-1.8 1.9-1.6 1.9-1.6 1.9-1.5 1.9-1.4 1.9-1.4 1.9-1.2 1.9-1.1 1.9-1 2-1 1.9-0.8 1.9-0.8 1.9-0.6M92.5 171.3l1.8-3.8 1.9-3.6 1.8-3.6 1.8-3.5 1.8-3.3 1.9-3.3 1.8-3.2 1.8-3 1.9-3 1.8-2.8 1.9-2.8 1.9-2.7 1.8-2.5 1.9-2.5 1.9-2.3 1.9-2.3 1.8-2.2 1.9-2 1.9-2 1.9-1.9 1.9-1.8 1.9-1.6 1.9-1.6 1.9-1.5 1.9-1.4 1.9-1.3 1.9-1.2 2-1.2 1.9-1 1.9-0.9 1.9-0.9 1.9-0.7M90.5 171.9l1.8-3.8 1.8-3.6 1.8-3.6 1.8-3.4 1.9-3.4 1.8-3.3 1.8-3.1 1.9-3.1 1.8-2.9 1.9-2.9 1.8-2.7 1.9-2.7 1.9-2.5 1.8-2.5 1.9-2.3 1.9-2.3 1.9-2.1 1.9-2.1 1.9-2 1.8-1.8 1.9-1.8 1.9-1.7 1.9-1.6 1.9-1.4 2-1.4 1.9-1.3 1.9-1.2 1.9-1.1 1.9-1.1 1.9-0.9 1.9-0.8M88.5 172.6l1.8-3.8 1.8-3.6 1.8-3.6 1.8-3.4 1.8-3.4 1.9-3.2 1.8-3.2 1.8-3 1.9-3 1.8-2.8 1.9-2.7 1.9-2.7 1.8-2.5 1.9-2.5 1.9-2.3 1.8-2.3 1.9-2.1 1.9-2.1 1.9-1.9 1.9-1.9 1.9-1.8 1.9-1.6 1.9-1.6 1.9-1.5 1.9-1.4 1.9-1.3 1.9-1.2 1.9-1.1 1.9-1 2-0.9M86.4 173.3l1.8-3.7 1.8-3.7 1.8-3.5 1.9-3.5 1.8-3.3 1.8-3.2 1.9-3.2 1.8-3 1.8-2.9 1.9-2.9 1.8-2.7 1.9-2.6 1.9-2.6 1.8-2.4 1.9-2.3 1.9-2.3 1.9-2.1 1.9-2.1 1.8-1.9 1.9-1.9 1.9-1.7 1.9-1.7 1.9-1.6 1.9-1.4 1.9-1.4 1.9-1.3 2-1.2 1.9-1.1 1.9-1 1.9-0.9M84.4 174.1l1.8-3.7 1.8-3.6 1.8-3.6 1.8-3.4 1.9-3.3 1.8-3.3 1.8-3.1 1.9-3 1.8-2.9 1.8-2.9 1.9-2.7 1.9-2.6 1.8-2.5 1.9-2.5 1.9-2.3 1.8-2.2 1.9-2.2 1.9-2 1.9-2 1.9-1.8 1.9-1.8 1.9-1.6 1.9-1.6 1.9-1.4 1.9-1.4 1.9-1.3 1.9-1.2 1.9-1.1 1.9-1M82.4 175l1.8-3.7 1.8-3.6 1.8-3.5 1.8-3.5 1.8-3.3 1.8-3.2 1.9-3.1 1.8-3 1.9-3 1.8-2.8 1.9-2.7 1.8-2.6 1.9-2.5 1.8-2.5 1.9-2.3 1.9-2.2 1.9-2.1 1.9-2.1 1.8-1.9 1.9-1.8 1.9-1.8 1.9-1.6 1.9-1.6 1.9-1.5 1.9-1.3 1.9-1.3 1.9-1.2 2-1.1M80.4 176l1.8-3.7 1.8-3.6 1.8-3.5 1.8-3.5 1.8-3.3 1.8-3.2 1.9-3.1 1.8-3 1.8-2.9 1.9-2.8 1.8-2.7 1.9-2.6 1.8-2.6 1.9-2.4 1.9-2.3 1.9-2.2 1.8-2.1 1.9-2.1 1.9-1.9 1.9-1.8 1.9-1.8 1.9-1.6 1.9-1.5 1.9-1.5 1.9-1.4 1.9-1.2 1.9-1.2M78.3 177.1l1.8-3.7 1.8-3.7 1.8-3.5 1.9-3.4 1.8-3.3 1.8-3.2 1.8-3.1 1.9-3 1.8-2.9 1.8-2.8 1.9-2.7 1.9-2.6 1.8-2.5 1.9-2.4 1.8-2.3 1.9-2.2 1.9-2.1 1.9-2.1 1.9-1.9 1.8-1.8 1.9-1.8 1.9-1.6 1.9-1.5 1.9-1.5 1.9-1.3 1.9-1.3 2-1.2M76.3 178.2l1.8-3.7 1.8-3.6 1.8-3.5 1.8-3.4 1.9-3.3 1.8-3.2 1.8-3.1 1.8-3 1.9-2.9 1.8-2.8 1.9-2.7 1.8-2.6 1.9-2.5 1.8-2.4 1.9-2.3 1.9-2.2 1.9-2.1 1.8-2 1.9-1.9 1.9-1.8 1.9-1.8 1.9-1.6 1.9-1.5 1.9-1.5 1.9-1.3 1.9-1.3M74.3 179.4l1.8-3.7 1.8-3.6 1.8-3.5 1.8-3.4 1.8-3.3 1.9-3.2 1.8-3 1.8-3 1.9-2.9 1.8-2.8 1.9-2.7 1.8-2.6 1.9-2.5 1.8-2.4 1.9-2.3 1.9-2.2 1.8-2.1 1.9-2 1.9-1.9 1.9-1.8 1.9-1.7 1.9-1.6 1.9-1.6 1.9-1.4 1.9-1.4M72.3 180.7l1.8-3.7 1.8-3.6 1.8-3.5 1.8-3.4 1.8-3.3 1.9-3.1 1.8-3.1 1.8-3 1.8-2.9 1.9-2.8 1.8-2.6 1.9-2.6 1.8-2.5 1.9-2.4 1.9-2.3 1.8-2.2 1.9-2.1 1.9-2 1.9-1.9 1.9-1.8 1.8-1.7 1.9-1.6 1.9-1.5 1.9-1.5M70.3 182l1.8-3.7 1.8-3.5 1.8-3.5 1.8-3.4 1.8-3.3 1.9-3.1 1.8-3.1 1.8-3 1.8-2.9 1.9-2.7 1.8-2.7 1.9-2.6 1.8-2.5 1.9-2.3 1.9-2.3 1.8-2.2 1.9-2.1 1.9-2 1.8-1.9 1.9-1.8 1.9-1.7 1.9-1.6 1.9-1.5 1.9-1.5M68.4 183.4l1.7-3.6 1.8-3.6 1.8-3.5 1.8-3.3 1.8-3.3 1.9-3.2 1.8-3 1.8-3 1.8-2.9 1.9-2.7 1.8-2.7 1.9-2.6 1.8-2.4 1.9-2.4 1.8-2.3 1.9-2.2 1.9-2.1 1.9-1.9 1.8-1.9 1.9-1.8 1.9-1.7 1.9-1.6 1.9-1.6M66.4 184.9l1.8-3.6 1.7-3.6 1.8-3.5 1.8-3.3 1.8-3.3 1.9-3.1 1.8-3.1 1.8-3 1.8-2.8 1.9-2.8 1.8-2.6 1.9-2.6 1.8-2.5 1.9-2.3 1.8-2.3 1.9-2.2 1.9-2 1.8-2 1.9-1.9 1.9-1.8 1.9-1.7 1.9-1.6M64.4 186.5l1.8-3.7 1.8-3.5 1.8-3.5 1.8-3.3 1.8-3.3 1.8-3.1 1.8-3.1 1.8-2.9 1.8-2.9 1.9-2.7 1.8-2.7 1.9-2.5 1.8-2.5 1.9-2.4 1.8-2.2 1.9-2.2 1.9-2.1 1.8-1.9 1.9-1.9 1.9-1.8 1.9-1.7M213.8 275.8l-2.1-4.2-2-4.2-2.1-4.1-2.1-4-2.1-3.8-2.1-3.8-2.1-3.8-2-3.6-2.1-3.5-2.1-3.5-2.1-3.3-2.1-3.3-2.1-3.2-2.1-3.1-2.1-3-2.1-2.9-2.1-2.8-2.1-2.8-2.1-2.6-2.1-2.6-2.1-2.5-2.2-2.4-2.1-2.3-2.1-2.2-2.1-2.2-2.1-2.1-2.1-1.9-2.1-1.9-2.1-1.8-2.1-1.8-2.1-1.6-2.1-1.6-2.1-1.4-2.1-1.4-2.2-1.3-2.1-1.3-2.1-1.1-2.1-1.1-2.1-1-2.1-0.9-2-0.8-2.1-0.7-2.1-0.7-2.1-0.6-2.1-0.5-2.1-0.4-2.1-0.3-2.1-0.3-2-0.2-2.1-0.1-2.1 0-2 0.1-2.1 0.1-2.1 0.2-2 0.3-2.1 0.3-2 0.5-2.1 0.5-2 0.6-2 0.7-2.1 0.7-2 0.8-2 0.9-2 1-2.1 1.1-2 1.1-2 1.2-2 1.3-2 1.3-1.9 1.4-2 1.5-2 1.6M215.6 271.3l-2.1-4.2-2-4.2-2.1-4-2.1-4-2.1-3.9-2-3.8-2.1-3.7-2.1-3.6-2.1-3.5-2.1-3.4-2.1-3.4-2.1-3.2-2.1-3.2-2.1-3.1-2.1-3-2.1-2.9-2.1-2.8-2.1-2.7-2.1-2.7-2.1-2.5-2.1-2.5-2.1-2.4-2.1-2.3-2.1-2.2-2.1-2.1-2.2-2.1-2.1-1.9-2.1-1.9-2.1-1.8-2.1-1.7-2.1-1.7-2.1-1.5-2.1-1.5-2.1-1.4-2.1-1.3-2.1-1.2-2.1-1.1-2.1-1.1-2.1-0.9-2.1-0.9-2.1-0.8-2.1-0.8-2.1-0.6-2.1-0.6-2.1-0.5-2.1-0.4-2.1-0.3-2-0.3-2.1-0.1-2.1-0.1-2.1 0-2 0-2.1 0.2-2 0.2-2.1 0.3-2.1 0.4-2 0.4-2.1 0.5-2 0.6-2 0.7-2.1 0.8-2 0.8-2 0.9-2 1-2.1 1.1-2 1.1-2 1.2-2 1.3-2 1.3-2 1.5-1.9 1.5-2 1.5M217.4 266.9l-2-4.2-2.1-4.1-2.1-4.1-2-3.9-2.1-3.9-2.1-3.8-2.1-3.6-2.1-3.6-2.1-3.5-2.1-3.5-2.1-3.3-2.1-3.2-2-3.2-2.1-3-2.1-3-2.2-2.9-2.1-2.8-2.1-2.7-2.1-2.7-2.1-2.5-2.1-2.5-2.1-2.4-2.1-2.2-2.1-2.3-2.1-2.1-2.1-2-2.1-2-2.1-1.8-2.1-1.8-2.2-1.7-2.1-1.6-2.1-1.6-2.1-1.4-2.1-1.4-2.1-1.3-2.1-1.2-2.1-1.1-2.1-1-2.1-1-2.1-0.9-2.1-0.8-2.1-0.7-2.1-0.6-2.1-0.6-2.1-0.5-2-0.4-2.1-0.3-2.1-0.2-2.1-0.2-2.1-0.1-2 0-2.1 0.1-2.1 0.1-2 0.3-2.1 0.3-2 0.4-2.1 0.4-2 0.6-2.1 0.6-2 0.7-2.1 0.7-2 0.9-2 0.9-2 1-2.1 1-2 1.2-2 1.2-2 1.3-2 1.4-2 1.4-2 1.5-1.9 1.6M219.3 262.6l-2.1-4.2-2.1-4.1-2-4-2.1-4-2.1-3.8-2.1-3.8-2.1-3.6-2-3.6-2.1-3.5-2.1-3.4-2.1-3.3-2.1-3.2-2.1-3.2-2.1-3-2.1-3-2.1-2.9-2.1-2.8-2.1-2.7-2.1-2.6-2.1-2.5-2.1-2.5-2.1-2.3-2.2-2.3-2.1-2.2-2.1-2.1-2.1-2-2.1-2-2.1-1.8-2.1-1.8-2.1-1.7-2.1-1.6-2.1-1.5-2.1-1.4-2.1-1.4-2.2-1.3-2.1-1.2-2.1-1.1-2.1-1-2.1-1-2.1-0.8-2.1-0.8-2.1-0.7-2-0.7-2.1-0.5-2.1-0.5-2.1-0.4-2.1-0.3-2.1-0.2-2.1-0.2-2 0-2.1 0-2.1 0.1-2 0.1-2.1 0.3-2.1 0.3-2 0.4-2.1 0.4-2 0.6-2.1 0.6-2 0.7-2.1 0.8-2 0.8-2 1-2 1-2.1 1-2 1.2-2 1.2-2 1.3-2 1.4-2 1.4-2 1.5-1.9 1.6M221.1 258.5l-2.1-4.2-2-4.1-2.1-4-2.1-4-2-3.8-2.1-3.7-2.1-3.7-2.1-3.6-2.1-3.4-2.1-3.4-2.1-3.3-2.1-3.2-2.1-3.2-2.1-3-2.1-2.9-2.1-2.9-2.1-2.8-2.1-2.7-2.1-2.6-2.1-2.5-2.1-2.4-2.1-2.4-2.1-2.3-2.1-2.1-2.1-2.1-2.1-2-2.1-2-2.2-1.8-2.1-1.8-2.1-1.6-2.1-1.6-2.1-1.5-2.1-1.5-2.1-1.3-2.1-1.3-2.1-1.2-2.1-1.1-2.1-1-2.1-0.9-2.1-0.9-2.1-0.8-2.1-0.7-2.1-0.6-2.1-0.5-2.1-0.5-2.1-0.3-2.1-0.3-2-0.3-2.1-0.1-2.1-0.1-2.1 0.1-2.1 0-2 0.2-2.1 0.3-2 0.3-2.1 0.4-2.1 0.5-2 0.5-2.1 0.7-2 0.7-2 0.7-2.1 0.9-2 0.9-2 1-2 1.1-2.1 1.2-2 1.2-2 1.3-2 1.4-2 1.5-2 1.5-1.9 1.6M222.9 254.4l-2-4.2-2.1-4.1-2.1-4-2-3.9-2.1-3.8-2.1-3.7-2.1-3.7-2.1-3.5-2-3.5-2.1-3.3-2.1-3.3-2.1-3.2-2.1-3.1-2.1-3.1-2.1-2.9-2.1-2.9-2.1-2.7-2.1-2.7-2.1-2.6-2.1-2.5-2.1-2.4-2.1-2.3-2.2-2.3-2.1-2.2-2.1-2-2.1-2-2.1-2-2.1-1.8-2.1-1.7-2.1-1.7-2.1-1.6-2.1-1.5-2.1-1.4-2.2-1.3-2.1-1.3-2.1-1.2-2.1-1-2.1-1.1-2.1-0.9-2.1-0.8-2.1-0.8-2.1-0.7-2.1-0.6-2.1-0.5-2.1-0.5-2-0.3-2.1-0.3-2.1-0.2-2.1-0.1-2.1-0.1-2 0-2.1 0.1-2.1 0.2-2.1 0.3-2 0.3-2.1 0.4-2 0.5-2.1 0.6-2 0.6-2.1 0.7-2 0.8-2 0.9-2.1 0.9-2 1-2 1.1-2 1.2-2.1 1.2-2 1.3-2 1.4-2 1.5-2 1.5-1.9 1.6M224.8 250.4l-2.1-4.1-2-4.1-2.1-4-2.1-3.9-2.1-3.8-2-3.7-2.1-3.6-2.1-3.6-2.1-3.4-2.1-3.4-2.1-3.2-2.1-3.2-2.1-3.1-2.1-3-2.1-2.9-2.1-2.9-2.1-2.7-2.1-2.7-2.1-2.6-2.1-2.5-2.1-2.4-2.1-2.3-2.1-2.2-2.1-2.2-2.1-2.1-2.1-1.9-2.1-2-2.2-1.8-2.1-1.7-2.1-1.7-2.1-1.5-2.1-1.5-2.1-1.4-2.1-1.3-2.1-1.3-2.1-1.1-2.1-1.1-2.1-1-2.1-0.9-2.1-0.9-2.1-0.7-2.1-0.7-2.1-0.6-2.1-0.5-2.1-0.4-2.1-0.4-2.1-0.3-2.1-0.2-2-0.1-2.1 0-2.1 0-2.1 0.1-2 0.2-2.1 0.3-2.1 0.3-2 0.4-2.1 0.5-2 0.6-2.1 0.6-2 0.8-2.1 0.8-2 0.8-2.1 1-2 1-2 1.1-2 1.2-2 1.2-2 1.4-2 1.4-2 1.4-2 1.6-2 1.6M226.6 246.6l-2-4.2-2.1-4-2.1-4-2-3.9-2.1-3.8-2.1-3.7-2.1-3.6-2.1-3.5-2-3.4-2.1-3.4-2.1-3.2-2.1-3.2-2.1-3.1-2.1-3-2.1-2.9-2.1-2.8-2.1-2.7-2.1-2.7-2.1-2.6-2.1-2.4-2.1-2.4-2.1-2.3-2.1-2.3-2.2-2.1-2.1-2.1-2.1-1.9-2.1-1.9-2.1-1.8-2.1-1.8-2.1-1.6-2.1-1.6-2.1-1.4-2.1-1.4-2.1-1.3-2.2-1.3-2.1-1.1-2.1-1.1-2.1-1-2.1-0.9-2.1-0.8-2.1-0.7-2.1-0.7-2.1-0.6-2.1-0.5-2.1-0.4-2-0.4-2.1-0.2-2.1-0.2-2.1-0.1-2.1-0.1-2.1 0.1-2 0.1-2.1 0.2-2.1 0.3-2 0.3-2.1 0.5-2.1 0.5-2 0.5-2.1 0.7-2 0.7-2 0.8-2.1 0.9-2 1-2 1-2.1 1.1-2 1.2-2 1.3-2 1.3-2 1.4-2 1.5-2 1.5-2 1.6M228.5 242.8l-2.1-4.1-2-4-2.1-4-2.1-3.9-2.1-3.7-2-3.7-2.1-3.6-2.1-3.5-2.1-3.4-2.1-3.4-2.1-3.2-2.1-3.2-2.1-3-2.1-3-2.1-2.9-2.1-2.8-2.1-2.8-2.1-2.6-2.1-2.5-2.1-2.5-2.1-2.4-2.1-2.3-2.1-2.2-2.1-2.1-2.1-2.1-2.1-1.9-2.1-1.9-2.1-1.8-2.1-1.7-2.2-1.6-2.1-1.6-2.1-1.5-2.1-1.3-2.1-1.3-2.1-1.3-2.1-1.1-2.1-1-2.1-1-2.1-0.9-2.1-0.8-2.1-0.8-2.1-0.6-2.1-0.6-2.1-0.5-2.1-0.4-2.1-0.3-2.1-0.3-2.1-0.2-2-0.1-2.1 0-2.1 0.1-2.1 0.1-2.1 0.2-2 0.3-2.1 0.3-2 0.5-2.1 0.5-2.1 0.6-2 0.6-2.1 0.8-2 0.8-2 0.9-2.1 1-2 1-2 1.1-2.1 1.2-2 1.3-2 1.3-2 1.4-2 1.5-2 1.5-2 1.7M230.3 239.2l-2-4.1-2.1-4.1-2.1-3.9-2-3.8-2.1-3.8-2.1-3.7-2.1-3.5-2-3.5-2.1-3.4-2.1-3.4-2.1-3.2-2.1-3.1-2.1-3.1-2.1-3-2.1-2.8-2.1-2.8-2.1-2.8-2.1-2.6-2.1-2.5-2.1-2.5-2.1-2.3-2.1-2.3-2.1-2.2-2.1-2.1-2.1-2.1-2.1-1.9-2.2-1.9-2.1-1.8-2.1-1.7-2.1-1.6-2.1-1.5-2.1-1.5-2.1-1.3-2.1-1.3-2.1-1.2-2.1-1.2-2.1-1-2.1-1-2.1-0.9-2.2-0.8-2.1-0.7-2.1-0.6-2-0.6-2.1-0.5-2.1-0.4-2.1-0.3-2.1-0.3-2.1-0.1-2.1-0.1-2.1 0-2 0-2.1 0.2-2.1 0.2-2.1 0.3-2 0.4-2.1 0.4-2.1 0.5-2 0.6-2.1 0.7-2 0.7-2.1 0.9-2 0.9-2 0.9-2.1 1.1-2 1.1-2 1.2-2 1.3-2.1 1.3-2 1.4-2 1.5-2 1.6-2 1.6M232.2 235.7l-2.1-4.1-2-4.1-2.1-3.9-2.1-3.8-2.1-3.8-2-3.6-2.1-3.6-2.1-3.5-2.1-3.4-2.1-3.3-2-3.2-2.1-3.1-2.1-3-2.1-3-2.1-2.9-2.1-2.8-2.1-2.7-2.1-2.6-2.1-2.5-2.1-2.4-2.1-2.4-2.1-2.3-2.2-2.2-2.1-2.1-2.1-2-2.1-1.9-2.1-1.9-2.1-1.7-2.1-1.7-2.1-1.6-2.1-1.6-2.1-1.4-2.1-1.3-2.2-1.3-2.1-1.2-2.1-1.1-2.1-1.1-2.1-0.9-2.1-0.9-2.1-0.8-2.1-0.7-2.1-0.6-2.1-0.6-2.1-0.5-2.1-0.4-2.1-0.3-2.1-0.2-2-0.2-2.1-0.1-2.1 0-2.1 0.1-2.1 0.2-2 0.2-2.1 0.3-2.1 0.4-2 0.4-2.1 0.6-2.1 0.6-2 0.6-2.1 0.8-2 0.8-2.1 0.9-2 1-2 1.1-2.1 1.1-2 1.2-2 1.3-2 1.3-2 1.5-2 1.5-2 1.5-2 1.7M234 232.2l-2-4.1-2.1-4-2.1-3.9-2-3.8-2.1-3.7-2.1-3.7-2-3.5-2.1-3.5-2.1-3.4-2.1-3.2-2.1-3.2-2.1-3.2-2.1-3-2.1-2.9-2.1-2.9-2.1-2.8-2.1-2.6-2.1-2.6-2.1-2.6-2.1-2.4-2.1-2.3-2.1-2.3-2.1-2.2-2.1-2.1-2.1-2-2.1-1.9-2.1-1.8-2.1-1.8-2.1-1.7-2.1-1.6-2.2-1.5-2.1-1.4-2.1-1.4-2.1-1.2-2.1-1.2-2.1-1.1-2.1-1-2.1-1-2.1-0.8-2.1-0.8-2.1-0.7-2.1-0.6-2.1-0.6-2.1-0.4-2.1-0.4-2.1-0.3-2.1-0.3-2.1-0.1-2.1-0.1-2 0-2.1 0.1-2.1 0.2-2.1 0.2-2 0.3-2.1 0.4-2.1 0.5-2 0.5-2.1 0.6-2.1 0.7-2 0.8-2.1 0.8-2 0.9-2 1-2.1 1.1-2 1.1-2 1.2-2 1.3-2.1 1.4-2 1.4-2 1.5-2 1.6-2 1.6M235.9 228.9l-2.1-4.1-2-4-2.1-3.8-2.1-3.8-2-3.8-2.1-3.6-2.1-3.5-2.1-3.5-2-3.3-2.1-3.3-2.1-3.2-2.1-3.1-2.1-3-2.1-3-2.1-2.8-2.1-2.8-2.1-2.6-2.1-2.6-2.1-2.5-2.1-2.4-2.1-2.4-2.1-2.2-2.1-2.2-2.1-2.1-2.1-2-2.1-1.9-2.1-1.8-2.2-1.7-2.1-1.7-2.1-1.6-2.1-1.5-2.1-1.4-2.1-1.3-2.1-1.3-2.1-1.2-2.1-1.1-2.1-1-2.1-0.9-2.1-0.9-2.1-0.7-2.1-0.7-2.1-0.6-2.1-0.6-2.1-0.4-2.1-0.4-2.1-0.3-2.1-0.2-2.1-0.2-2.1 0-2.1 0-2.1 0.1-2 0.1-2.1 0.3-2.1 0.3-2.1 0.4-2 0.5-2.1 0.5-2 0.6-2.1 0.7-2 0.8-2.1 0.9-2 0.9-2.1 1-2 1.1-2 1.1-2.1 1.2-2 1.3-2 1.4-2 1.4-2 1.5-2 1.6-2 1.7M237.7 225.7l-2-4.1-2.1-3.9-2-3.9-2.1-3.8-2.1-3.7-2-3.6-2.1-3.5-2.1-3.5-2.1-3.3-2.1-3.3-2-3.2-2.1-3.1-2.1-3-2.1-2.9-2.1-2.8-2.1-2.8-2.1-2.6-2.1-2.6-2.1-2.5-2.1-2.4-2.1-2.3-2.1-2.2-2.1-2.2-2.1-2.1-2.1-1.9-2.2-1.9-2.1-1.9-2.1-1.7-2.1-1.7-2.1-1.5-2.1-1.5-2.1-1.4-2.1-1.3-2.1-1.3-2.1-1.2-2.1-1-2.1-1-2.2-1-2.1-0.8-2.1-0.8-2.1-0.6-2.1-0.6-2.1-0.6-2.1-0.4-2.1-0.4-2-0.3-2.1-0.2-2.1-0.1-2.1-0.1-2.1 0.1-2.1 0.1-2.1 0.1-2 0.3-2.1 0.3-2.1 0.4-2 0.5-2.1 0.6-2.1 0.6-2 0.7-2.1 0.8-2 0.8-2.1 1-2 1-2.1 1-2 1.2-2 1.2-2 1.3-2.1 1.4-2 1.4-2 1.6-2 1.5-2 1.7M239.6 222.6l-2.1-4.1-2-3.9-2.1-3.9-2-3.8-2.1-3.7-2.1-3.6-2.1-3.5-2-3.4-2.1-3.3-2.1-3.3-2.1-3.1-2.1-3.1-2.1-3-2-2.9-2.1-2.8-2.1-2.8-2.1-2.6-2.1-2.6-2.1-2.4-2.1-2.4-2.1-2.3-2.1-2.3-2.2-2.1-2.1-2.1-2.1-1.9-2.1-1.9-2.1-1.8-2.1-1.8-2.1-1.6-2.1-1.6-2.1-1.4-2.1-1.4-2.1-1.3-2.1-1.3-2.2-1.1-2.1-1.1-2.1-1-2.1-0.9-2.1-0.8-2.1-0.8-2.1-0.7-2.1-0.5-2.1-0.6-2.1-0.4-2.1-0.4-2.1-0.2-2.1-0.2-2.1-0.2-2 0-2.1 0-2.1 0.1-2.1 0.2-2.1 0.3-2 0.3-2.1 0.4-2.1 0.5-2 0.6-2.1 0.6-2.1 0.7-2 0.8-2.1 0.9-2 0.9-2.1 1-2 1.1-2 1.2-2.1 1.2-2 1.3-2 1.4-2 1.5-2 1.5-2 1.6-2 1.6M241.5 219.6l-2.1-4.1-2.1-3.9-2-3.9-2.1-3.7-2-3.7-2.1-3.6-2.1-3.5-2.1-3.4-2-3.3-2.1-3.2-2.1-3.2-2.1-3.1-2.1-2.9-2.1-2.9-2.1-2.8-2.1-2.7-2.1-2.7-2.1-2.5-2.1-2.5-2.1-2.4-2.1-2.3-2.1-2.2-2.1-2.1-2.1-2.1-2.1-1.9-2.1-1.9-2.1-1.8-2.1-1.7-2.1-1.6-2.1-1.6-2.1-1.4-2.1-1.4-2.2-1.3-2.1-1.3-2.1-1.1-2.1-1.1-2.1-0.9-2.1-0.9-2.1-0.9-2.1-0.7-2.1-0.7-2.1-0.6-2.1-0.5-2.1-0.4-2.1-0.3-2.1-0.3-2.1-0.2-2.1-0.1-2.1 0-2 0-2.1 0.1-2.1 0.2-2.1 0.3-2.1 0.3-2 0.4-2.1 0.5-2.1 0.6-2 0.7-2.1 0.7-2 0.8-2.1 0.9-2 0.9-2.1 1-2 1.1-2.1 1.2-2 1.2-2 1.3-2 1.4-2 1.5-2.1 1.5-2 1.6-2 1.7M243.3 216.7l-2-4-2.1-4-2-3.8-2.1-3.8-2.1-3.6-2-3.6-2.1-3.5-2.1-3.4-2.1-3.3-2-3.2-2.1-3.1-2.1-3.1-2.1-3-2.1-2.8-2.1-2.8-2.1-2.7-2.1-2.7-2.1-2.5-2.1-2.5-2.1-2.3-2.1-2.3-2.1-2.2-2.1-2.1-2.1-2-2.1-2-2.1-1.9-2.1-1.7-2.1-1.8-2.1-1.6-2.1-1.5-2.1-1.5-2.2-1.3-2.1-1.3-2.1-1.2-2.1-1.2-2.1-1-2.1-1-2.1-0.9-2.1-0.8-2.1-0.7-2.1-0.7-2.1-0.6-2.1-0.4-2.1-0.5-2.1-0.3-2.1-0.3-2.1-0.1-2.1-0.2-2.1 0-2.1 0.1-2 0.1-2.1 0.2-2.1 0.3-2.1 0.3-2 0.5-2.1 0.5-2.1 0.5-2 0.7-2.1 0.7-2.1 0.8-2 0.9-2.1 1-2 1-2 1.1-2.1 1.2-2 1.2-2 1.3-2.1 1.4-2 1.5-2 1.5-2 1.6-2 1.7M245.2 213.9l-2.1-4-2-3.9-2.1-3.9-2-3.7-2.1-3.7-2.1-3.5-2-3.5-2.1-3.4-2.1-3.3-2.1-3.2-2.1-3.1-2-3-2.1-3-2.1-2.9-2.1-2.7-2.1-2.7-2.1-2.6-2.1-2.6-2.1-2.4-2.1-2.4-2.1-2.2-2.1-2.2-2.1-2.1-2.1-2-2.1-2-2.1-1.8-2.1-1.8-2.1-1.7-2.1-1.6-2.1-1.5-2.2-1.5-2.1-1.3-2.1-1.3-2.1-1.2-2.1-1.1-2.1-1.1-2.1-0.9-2.1-0.9-2.1-0.8-2.1-0.8-2.1-0.6-2.1-0.6-2.1-0.4-2.1-0.4-2.1-0.4-2.1-0.2-2.1-0.2-2.1-0.1-2.1 0-2.1 0-2.1 0.2-2 0.2-2.1 0.3-2.1 0.3-2.1 0.5-2 0.5-2.1 0.6-2.1 0.6-2 0.8-2.1 0.8-2 0.9-2.1 0.9-2 1.1-2.1 1.1-2 1.2-2 1.2-2.1 1.3-2 1.4-2 1.5-2 1.5-2 1.7-2 1.6M247 211.2l-2-4-2.1-3.9-2-3.8-2.1-3.7-2-3.7-2.1-3.5-2.1-3.5-2-3.4-2.1-3.2-2.1-3.2-2.1-3.1-2.1-3.1-2-2.9-2.1-2.9-2.1-2.7-2.1-2.7-2.1-2.6-2.1-2.5-2.1-2.5-2.1-2.3-2.1-2.3-2.1-2.1-2.1-2.1-2.1-2-2.1-2-2.1-1.8-2.1-1.8-2.1-1.6-2.1-1.6-2.2-1.6-2.1-1.4-2.1-1.3-2.1-1.3-2.1-1.2-2.1-1.1-2.1-1-2.1-1-2.1-0.9-2.1-0.8-2.1-0.7-2.1-0.6-2.1-0.6-2.1-0.4-2.1-0.4-2.1-0.4-2.1-0.2-2.1-0.2-2.1 0-2.1-0.1-2.1 0.1-2.1 0.1-2 0.3-2.1 0.3-2.1 0.3-2.1 0.5-2 0.5-2.1 0.6-2.1 0.7-2 0.7-2.1 0.8-2 0.9-2.1 1-2 1-2.1 1.1-2 1.2-2.1 1.3-2 1.3-2 1.4-2 1.5-2 1.6-2.1 1.6-2 1.7M248.9 208.6l-2-4-2.1-3.9-2-3.8-2.1-3.7-2.1-3.6-2-3.5-2.1-3.5-2.1-3.3-2-3.3-2.1-3.2-2.1-3.1-2.1-3-2.1-2.9-2.1-2.9-2-2.7-2.1-2.7-2.1-2.6-2.1-2.5-2.1-2.4-2.1-2.3-2.1-2.3-2.1-2.1-2.1-2.1-2.1-2-2.1-1.9-2.1-1.9-2.1-1.7-2.1-1.7-2.2-1.6-2.1-1.5-2.1-1.4-2.1-1.3-2.1-1.3-2.1-1.2-2.1-1.1-2.1-1-2.1-1-2.1-0.8-2.1-0.8-2.1-0.7-2.1-0.6-2.1-0.6-2.1-0.4-2.1-0.4-2.1-0.3-2.1-0.3-2.1-0.1-2.1-0.1-2.1 0-2.1 0.1-2.1 0.1-2.1 0.2-2 0.4-2.1 0.3-2.1 0.5-2.1 0.5-2 0.6-2.1 0.7-2 0.7-2.1 0.9-2.1 0.9-2 0.9-2.1 1.1-2 1.1-2 1.2-2.1 1.3-2 1.3-2 1.4-2.1 1.5-2 1.6-2 1.6-2 1.7M250.8 206.1l-2.1-4-2-3.8-2.1-3.8-2-3.7-2.1-3.6-2.1-3.5-2-3.5-2.1-3.3-2.1-3.3-2-3.2-2.1-3-2.1-3-2.1-3-2.1-2.8-2.1-2.7-2-2.7-2.1-2.6-2.1-2.4-2.1-2.4-2.1-2.4-2.1-2.2-2.1-2.2-2.1-2-2.1-2-2.1-1.9-2.1-1.8-2.1-1.8-2.2-1.6-2.1-1.6-2.1-1.5-2.1-1.4-2.1-1.4-2.1-1.2-2.1-1.2-2.1-1.1-2.1-1-2.1-0.9-2.1-0.9-2.1-0.7-2.1-0.7-2.1-0.6-2.1-0.6-2.1-0.4-2.1-0.4-2.1-0.3-2.1-0.2-2.1-0.2-2.1-0.1-2.1 0.1-2.1 0-2.1 0.2-2.1 0.2-2 0.3-2.1 0.4-2.1 0.5-2.1 0.5-2 0.6-2.1 0.7-2.1 0.8-2 0.8-2.1 0.9-2 1-2.1 1.1-2 1.1-2.1 1.2-2 1.3-2 1.3-2 1.4-2.1 1.5-2 1.6-2 1.6-2 1.7M252.6 203.7l-2-3.9-2.1-3.9-2-3.8-2.1-3.7-2-3.5-2.1-3.6-2-3.4-2.1-3.3-2.1-3.2-2.1-3.2-2-3.1-2.1-3-2.1-2.9-2.1-2.8-2.1-2.7-2.1-2.7-2.1-2.5-2-2.5-2.1-2.4-2.1-2.3-2.1-2.2-2.1-2.2-2.1-2-2.1-2-2.1-1.9-2.1-1.8-2.2-1.7-2.1-1.7-2.1-1.6-2.1-1.4-2.1-1.4-2.1-1.4-2.1-1.2-2.1-1.2-2.1-1-2.1-1-2.1-1-2.1-0.8-2.1-0.8-2.1-0.7-2.1-0.6-2.1-0.5-2.1-0.4-2.1-0.4-2.1-0.3-2.1-0.2-2.1-0.2-2.1 0-2.1 0-2.1 0.1-2.1 0.2-2.1 0.2-2 0.3-2.1 0.4-2.1 0.5-2.1 0.5-2 0.6-2.1 0.7-2.1 0.8-2 0.8-2.1 1-2 0.9-2.1 1.1-2 1.1-2.1 1.2-2 1.3-2 1.4-2.1 1.4-2 1.5-2 1.6-2 1.6-2 1.7M254.5 201.4l-2-3.9-2.1-3.9-2-3.7-2.1-3.7-2-3.6-2.1-3.5-2.1-3.4-2-3.3-2.1-3.2-2.1-3.2-2.1-3-2-3-2.1-2.9-2.1-2.8-2.1-2.7-2.1-2.6-2.1-2.6-2.1-2.5-2.1-2.3-2-2.3-2.1-2.3-2.1-2.1-2.1-2-2.1-2-2.1-1.9-2.1-1.8-2.2-1.7-2.1-1.6-2.1-1.6-2.1-1.5-2.1-1.4-2.1-1.3-2.1-1.2-2.1-1.1-2.1-1.1-2.1-1-2.1-0.9-2.1-0.9-2.1-0.7-2.1-0.7-2.1-0.6-2.1-0.5-2.1-0.4-2.1-0.4-2.1-0.3-2.1-0.2-2.1-0.1-2.1-0.1-2.1 0-2.1 0.1-2.1 0.2-2.1 0.3-2 0.3-2.1 0.4-2.1 0.5-2.1 0.5-2 0.7-2.1 0.7-2.1 0.7-2 0.9-2.1 0.9-2 1-2.1 1.1-2 1.1-2.1 1.2-2 1.3-2 1.4-2.1 1.4-2 1.5-2 1.6-2 1.6M256.4 199.2l-2.1-3.9-2-3.8-2.1-3.8-2-3.6-2.1-3.6-2-3.5-2.1-3.4-2.1-3.3-2-3.2-2.1-3.1-2.1-3.1-2.1-2.9-2-2.9-2.1-2.8-2.1-2.7-2.1-2.6-2.1-2.6-2.1-2.4-2.1-2.4-2.1-2.3-2-2.2-2.1-2.1-2.1-2-2.1-2-2.1-1.9-2.2-1.8-2.1-1.7-2.1-1.6-2.1-1.5-2.1-1.5-2.1-1.4-2.1-1.3-2.1-1.2-2.1-1.1-2.1-1.1-2.1-1-2.1-0.9-2.1-0.8-2.1-0.7-2.1-0.7-2.1-0.6-2.1-0.5-2.1-0.4-2.1-0.4-2.1-0.3-2.1-0.2-2.1-0.1-2.1 0-2.1 0-2.1 0.1-2.1 0.2-2.1 0.2-2 0.4-2.1 0.4-2.1 0.5-2.1 0.5-2 0.7-2.1 0.7-2.1 0.7-2 0.9-2.1 0.9-2 1-2.1 1.1-2 1.2-2.1 1.2-2 1.3-2 1.3-2.1 1.5-2 1.5-2 1.5M258.2 197.2l-2-4-2.1-3.8-2-3.7-2-3.6-2.1-3.6-2.1-3.5-2-3.3-2.1-3.3-2-3.3-2.1-3.1-2.1-3-2.1-3-2-2.8-2.1-2.8-2.1-2.7-2.1-2.6-2.1-2.5-2.1-2.5-2.1-2.3-2.1-2.3-2.1-2.2-2.1-2.1-2.1-2-2-2-2.2-1.8-2.1-1.8-2.1-1.7-2.1-1.6-2.1-1.6-2.1-1.4-2.1-1.4-2.1-1.3-2.1-1.2-2.1-1.1-2.1-1.1-2.1-1-2.1-0.8-2.1-0.9-2.1-0.7-2.1-0.7-2.1-0.5-2.1-0.5-2.1-0.5-2.1-0.3-2.1-0.3-2.1-0.2-2.1-0.1-2.1 0-2.1 0-2.1 0.1-2.1 0.2-2 0.3-2.1 0.3-2.1 0.5-2.1 0.5-2.1 0.5-2 0.7-2.1 0.7-2.1 0.8-2 0.8-2.1 1-2 1-2.1 1-2 1.2-2.1 1.2-2 1.3-2 1.4-2.1 1.4-2 1.5M260.1 195.2l-2-3.9-2.1-3.8-2-3.7-2.1-3.7-2-3.5-2.1-3.5-2-3.3-2.1-3.3-2.1-3.2-2-3.1-2.1-3.1-2.1-2.9-2.1-2.8-2-2.8-2.1-2.7-2.1-2.6-2.1-2.5-2.1-2.4-2.1-2.4-2.1-2.3-2.1-2.1-2.1-2.1-2.1-2-2.1-2-2.1-1.8-2.1-1.8-2.1-1.7-2.1-1.6-2.1-1.5-2.1-1.5-2.1-1.3-2.1-1.3-2.1-1.2-2.1-1.1-2.1-1.1-2.1-0.9-2.1-0.9-2.1-0.8-2.1-0.7-2.1-0.7-2.1-0.6-2.1-0.5-2.1-0.4-2.1-0.3-2.1-0.3-2.1-0.1-2.1-0.1-2.1-0.1-2.1 0.1-2.1 0.1-2.1 0.2-2 0.3-2.1 0.3-2.1 0.4-2.1 0.5-2 0.6-2.1 0.7-2.1 0.7-2 0.8-2.1 0.8-2.1 1-2 1-2.1 1.1-2 1.1-2.1 1.3-2 1.3-2 1.3M262 193.3l-2.1-3.9-2-3.8-2.1-3.7-2-3.6-2.1-3.5-2-3.5-2.1-3.3-2-3.3-2.1-3.2-2.1-3.1-2-3-2.1-2.9-2.1-2.9-2.1-2.7-2-2.7-2.1-2.6-2.1-2.5-2.1-2.4-2.1-2.3-2.1-2.3-2.1-2.2-2.1-2.1-2.1-2-2.1-1.9-2.1-1.8-2.1-1.8-2.1-1.7-2.1-1.5-2.1-1.6-2.1-1.4-2.1-1.3-2.1-1.3-2.1-1.2-2.1-1.1-2.1-1.1-2.1-0.9-2.1-0.9-2.1-0.8-2.1-0.7-2.1-0.6-2.1-0.6-2.1-0.5-2.1-0.4-2.1-0.3-2.1-0.3-2.1-0.1-2.1-0.1-2.1-0.1-2.1 0.1-2.1 0.1-2 0.2-2.1 0.3-2.1 0.4-2.1 0.4-2.1 0.5-2 0.6-2.1 0.6-2.1 0.8-2 0.8-2.1 0.8-2.1 1-2 1-2.1 1.1-2 1.2-2.1 1.2-2 1.3M263.8 191.5l-2-3.9-2-3.7-2.1-3.7-2-3.6-2.1-3.5-2-3.5-2.1-3.3-2-3.3-2.1-3.2-2.1-3-2-3-2.1-3-2.1-2.8-2.1-2.7-2-2.7-2.1-2.6-2.1-2.5-2.1-2.4-2.1-2.3-2.1-2.2-2.1-2.2-2.1-2.1-2.1-2-2.1-1.9-2-1.8-2.1-1.8-2.1-1.6-2.1-1.6-2.2-1.5-2.1-1.4-2.1-1.4-2.1-1.2-2.1-1.2-2.1-1.1-2.1-1-2.1-1-2.1-0.9-2.1-0.7-2.1-0.8-2.1-0.6-2.1-0.5-2.1-0.5-2.1-0.4-2.1-0.3-2.1-0.3-2.1-0.1-2.1-0.1-2.1 0-2.1 0-2 0.2-2.1 0.2-2.1 0.3-2.1 0.3-2.1 0.5-2 0.5-2.1 0.6-2.1 0.6-2.1 0.8-2 0.8-2.1 0.8-2 1-2.1 1-2.1 1.1-2 1.2-2 1.2M265.7 189.8l-2-3.8-2.1-3.8-2-3.7-2.1-3.6-2-3.5-2.1-3.4-2-3.3-2.1-3.3-2-3.1-2.1-3.1-2.1-3-2-2.9-2.1-2.8-2.1-2.7-2.1-2.7-2-2.6-2.1-2.4-2.1-2.4-2.1-2.4-2.1-2.2-2.1-2.1-2.1-2.1-2.1-2-2.1-1.9-2-1.8-2.1-1.7-2.1-1.7-2.1-1.6-2.1-1.5-2.1-1.4-2.1-1.3-2.2-1.3-2.1-1.1-2.1-1.1-2.1-1-2.1-1-2.1-0.8-2.1-0.8-2.1-0.7-2.1-0.6-2.1-0.6-2.1-0.4-2.1-0.4-2.1-0.3-2.1-0.3-2.1-0.1-2.1-0.1-2 0-2.1 0-2.1 0.2-2.1 0.2-2.1 0.3-2.1 0.4-2.1 0.4-2 0.5-2.1 0.6-2.1 0.7-2 0.7-2.1 0.9-2.1 0.8-2 1-2.1 1-2 1.1M267.5 188.3l-2-3.9-2-3.7-2-3.7-2.1-3.6-2-3.5-2.1-3.4-2-3.3-2.1-3.2-2-3.2-2.1-3.1-2.1-2.9-2-2.9-2.1-2.8-2.1-2.8-2.1-2.6-2-2.5-2.1-2.5-2.1-2.4-2.1-2.3-2.1-2.2-2.1-2.2-2.1-2-2.1-2-2.1-1.9-2-1.8-2.1-1.7-2.1-1.7-2.1-1.5-2.1-1.5-2.1-1.4-2.1-1.3-2.1-1.3-2.1-1.2-2.1-1-2.2-1-2.1-1-2.1-0.8-2.1-0.8-2.1-0.7-2.1-0.6-2.1-0.5-2.1-0.5-2.1-0.4-2.1-0.3-2.1-0.2-2-0.1-2.1-0.1-2.1 0-2.1 0.1-2.1 0.1-2.1 0.2-2.1 0.3-2.1 0.4-2 0.5-2.1 0.5-2.1 0.6-2.1 0.7-2 0.7-2.1 0.8-2.1 0.9-2 1-2.1 1M269.4 186.8l-2-3.9-2-3.7-2.1-3.7-2-3.5-2.1-3.5-2-3.4-2.1-3.3-2-3.2-2.1-3.2-2-3-2.1-3-2.1-2.9-2-2.8-2.1-2.7-2.1-2.6-2.1-2.5-2-2.5-2.1-2.4-2.1-2.3-2.1-2.2-2.1-2.1-2.1-2.1-2.1-1.9-2-1.9-2.1-1.8-2.1-1.7-2.1-1.6-2.1-1.6-2.1-1.5-2.1-1.4-2.1-1.3-2.1-1.2-2.1-1.2-2.1-1.1-2.1-0.9-2.1-1-2.1-0.8-2.1-0.8-2.1-0.6-2.1-0.7-2.1-0.5-2.1-0.4-2.1-0.4-2.1-0.3-2.1-0.2-2.1-0.2-2.1 0-2.1 0-2.1 0.1-2.1 0.1-2.1 0.3-2.1 0.3-2 0.4-2.1 0.4-2.1 0.5-2.1 0.7-2 0.6-2.1 0.8-2.1 0.8-2 0.9-2.1 1M271.3 185.4l-2.1-3.8-2-3.8-2-3.6-2-3.6-2.1-3.4-2-3.4-2.1-3.3-2-3.2-2.1-3.1-2-3.1-2.1-2.9-2.1-2.9-2-2.8-2.1-2.7-2.1-2.6-2.1-2.5-2-2.5-2.1-2.4-2.1-2.2-2.1-2.2-2.1-2.2-2.1-2-2.1-1.9-2-1.9-2.1-1.8-2.1-1.7-2.1-1.6-2.1-1.6-2.1-1.4-2.1-1.4-2.1-1.3-2.1-1.3-2.1-1.1-2.1-1.1-2.1-1-2.1-0.9-2.1-0.8-2.1-0.7-2.1-0.7-2.1-0.6-2.1-0.5-2.1-0.5-2.1-0.3-2.1-0.3-2.1-0.2-2.1-0.2-2.1 0-2.1 0-2.1 0.1-2.1 0.1-2.1 0.3-2 0.3-2.1 0.4-2.1 0.5-2.1 0.5-2.1 0.6-2 0.7-2.1 0.7-2.1 0.9M273.1 184.1l-2-3.8-2-3.7-2-3.6-2.1-3.6-2-3.4-2.1-3.4-2-3.3-2.1-3.2-2-3.1-2.1-3-2-3-2.1-2.8-2.1-2.8-2-2.7-2.1-2.6-2.1-2.5-2-2.5-2.1-2.3-2.1-2.3-2.1-2.2-2.1-2.1-2.1-2-2.1-2-2-1.8-2.1-1.8-2.1-1.7-2.1-1.6-2.1-1.6-2.1-1.4-2.1-1.4-2.1-1.3-2.1-1.2-2.1-1.1-2.1-1.1-2.1-1-2.1-0.9-2.1-0.8-2.1-0.7-2.1-0.7-2.1-0.6-2.1-0.5-2.1-0.4-2.1-0.4-2.1-0.3-2.1-0.2-2.1-0.1-2.1-0.1-2.1 0.1-2.1 0.1-2.1 0.1-2 0.3-2.1 0.3-2.1 0.4-2.1 0.5-2.1 0.5-2 0.6-2.1 0.7-2.1 0.8M275 182.9l-2-3.8-2.1-3.7-2-3.6-2-3.5-2.1-3.5-2-3.3-2-3.3-2.1-3.2-2-3.1-2.1-3-2-2.9-2.1-2.9-2.1-2.8-2-2.6-2.1-2.6-2.1-2.5-2.1-2.5-2-2.3-2.1-2.3-2.1-2.2-2.1-2-2.1-2.1-2.1-1.9-2-1.8-2.1-1.8-2.1-1.7-2.1-1.6-2.1-1.5-2.1-1.5-2.1-1.4-2.1-1.2-2.1-1.2-2.1-1.2-2.1-1-2.1-1-2.1-0.9-2.1-0.8-2.1-0.7-2.1-0.7-2.1-0.6-2.1-0.5-2.1-0.4-2.1-0.4-2.1-0.2-2.1-0.2-2.1-0.1-2.1-0.1-2.1 0-2 0.2-2.1 0.1-2.1 0.3-2.1 0.3-2.1 0.4-2.1 0.5-2 0.6-2.1 0.6-2.1 0.7M276.8 181.8l-2-3.8-2-3.6-2-3.7-2-3.5-2.1-3.4-2-3.4-2.1-3.2-2-3.2-2.1-3.1-2-3-2.1-2.9-2-2.8-2.1-2.8-2.1-2.7-2-2.5-2.1-2.5-2.1-2.5-2-2.3-2.1-2.3-2.1-2.1-2.1-2.1-2.1-2-2.1-1.9-2-1.9-2.1-1.7-2.1-1.7-2.1-1.6-2.1-1.5-2.1-1.5-2.1-1.3-2.1-1.3-2.1-1.2-2.1-1.1-2.1-1.1-2.1-0.9-2.1-0.9-2.1-0.8-2.1-0.7-2.1-0.7-2.1-0.6-2.1-0.5-2.1-0.4-2.1-0.3-2.1-0.3-2.1-0.2-2.1-0.1-2 0-2.1 0-2.1 0.1-2.1 0.2-2.1 0.3-2.1 0.3-2.1 0.4-2 0.5-2.1 0.6M278.7 180.8l-2-3.7-2-3.7-2.1-3.6-2-3.5-2-3.4-2.1-3.4-2-3.2-2-3.2-2.1-3.1-2-3-2.1-2.9-2-2.8-2.1-2.7-2.1-2.7-2-2.6-2.1-2.5-2.1-2.4-2.1-2.3-2-2.2-2.1-2.2-2.1-2.1-2.1-2-2.1-1.9-2-1.8-2.1-1.8-2.1-1.6-2.1-1.6-2.1-1.5-2.1-1.5-2.1-1.3-2.1-1.3-2.1-1.2-2.1-1.1-2.1-1-2.1-1-2.1-0.8-2.1-0.8-2.1-0.7-2.1-0.7-2.1-0.6-2.1-0.4-2.1-0.5-2.1-0.3-2-0.2-2.1-0.2-2.1-0.1-2.1-0.1-2.1 0.1-2.1 0.1-2.1 0.2-2.1 0.3-2.1 0.3-2 0.4-2.1 0.5M280.6 179.9l-2.1-3.7-2-3.7-2-3.6-2-3.5-2.1-3.4-2-3.3-2-3.2-2.1-3.2-2-3.1-2.1-2.9-2-2.9-2.1-2.9-2-2.7-2.1-2.6-2.1-2.6-2-2.5-2.1-2.4-2.1-2.3-2-2.2-2.1-2.2-2.1-2-2.1-2-2.1-1.9-2-1.8-2.1-1.8-2.1-1.6-2.1-1.6-2.1-1.5-2.1-1.4-2.1-1.4-2.1-1.2-2.1-1.2-2.1-1.1-2.1-1.1-2.1-0.9-2.1-0.9-2.1-0.8-2.1-0.7-2.1-0.6-2-0.6-2.1-0.4-2.1-0.4-2.1-0.4-2.1-0.2-2.1-0.2-2.1-0.1-2.1 0-2.1 0-2.1 0.2-2.1 0.2-2 0.2-2.1 0.4-2.1 0.4M282.4 179.1l-2-3.7-2-3.7-2-3.5-2.1-3.5-2-3.4-2-3.3-2.1-3.3-2-3.1-2-3.1-2.1-2.9-2-2.9-2.1-2.8-2-2.7-2.1-2.7-2.1-2.5-2-2.5-2.1-2.4-2.1-2.3-2.1-2.2-2-2.1-2.1-2.1-2.1-2-2.1-1.9-2.1-1.8-2-1.7-2.1-1.7-2.1-1.5-2.1-1.5-2.1-1.4-2.1-1.4-2.1-1.2-2.1-1.2-2.1-1.1-2.1-1-2.1-0.9-2.1-0.9-2-0.8-2.1-0.7-2.1-0.6-2.1-0.6-2.1-0.4-2.1-0.4-2.1-0.4-2.1-0.2-2.1-0.2-2.1-0.1-2.1 0-2.1 0.1-2.1 0.1-2 0.2-2.1 0.3-2.1 0.4M284.3 178.4l-2.1-3.7-2-3.6-2-3.6-2-3.5-2-3.4-2.1-3.3-2-3.2-2-3.1-2.1-3.1-2-2.9-2.1-2.9-2-2.8-2.1-2.7-2-2.6-2.1-2.6-2.1-2.4-2-2.4-2.1-2.3-2.1-2.2-2-2.1-2.1-2.1-2.1-2-2.1-1.8-2.1-1.8-2-1.8-2.1-1.6-2.1-1.6-2.1-1.4-2.1-1.5-2.1-1.3-2.1-1.2-2.1-1.2-2.1-1.1-2.1-1-2-0.9-2.1-0.9-2.1-0.7-2.1-0.7-2.1-0.6-2.1-0.6-2.1-0.4-2.1-0.4-2.1-0.4-2.1-0.2-2.1-0.1-2.1-0.1-2.1 0-2 0-2.1 0.2-2.1 0.2M286.1 177.8l-2-3.7-2-3.6-2-3.6-2-3.4-2.1-3.4-2-3.3-2-3.2-2.1-3.1-2-3.1-2-2.9-2.1-2.9-2-2.8-2.1-2.7-2.1-2.6-2-2.5-2.1-2.5-2-2.3-2.1-2.3-2.1-2.2-2-2.1-2.1-2.1-2.1-1.9-2.1-1.9-2.1-1.8-2-1.7-2.1-1.6-2.1-1.6-2.1-1.5-2.1-1.4-2.1-1.3-2.1-1.2-2.1-1.2-2-1-2.1-1-2.1-1-2.1-0.8-2.1-0.8-2.1-0.7-2.1-0.6-2.1-0.5-2.1-0.5-2.1-0.4-2.1-0.3-2.1-0.2-2.1-0.1-2.1-0.1-2 0-2.1 0-2.1 0.2M287.9 177.3l-2-3.7-2-3.6-2-3.5-2-3.5-2-3.4-2-3.2-2.1-3.2-2-3.1-2-3.1-2.1-2.9-2-2.9-2.1-2.7-2-2.7-2.1-2.6-2-2.6-2.1-2.4-2.1-2.4-2-2.2-2.1-2.2-2.1-2.1-2-2.1-2.1-1.9-2.1-1.9-2.1-1.8-2-1.7-2.1-1.6-2.1-1.5-2.1-1.5-2.1-1.4-2.1-1.3-2.1-1.2-2.1-1.2-2-1-2.1-1-2.1-0.9-2.1-0.9-2.1-0.7-2.1-0.7-2.1-0.6-2.1-0.5-2.1-0.5-2.1-0.4-2.1-0.3-2.1-0.2-2-0.1-2.1-0.1-2.1 0-2.1 0.1M289.8 176.9l-2-3.7-2-3.6-2-3.5-2-3.5-2.1-3.3-2-3.3-2-3.2-2-3.1-2.1-3-2-2.9-2.1-2.9-2-2.7-2.1-2.7-2-2.6-2.1-2.5-2-2.4-2.1-2.4-2-2.3-2.1-2.1-2.1-2.1-2-2.1-2.1-1.9-2.1-1.9-2.1-1.7-2.1-1.7-2-1.6-2.1-1.6-2.1-1.4-2.1-1.4-2.1-1.3-2.1-1.2-2-1.2-2.1-1-2.1-1-2.1-0.9-2.1-0.9-2.1-0.7-2.1-0.7-2.1-0.6-2.1-0.5-2.1-0.4-2.1-0.4-2-0.3-2.1-0.2-2.1-0.2-2.1 0M291.6 176.6l-2-3.7-2-3.6-2-3.5-2-3.4-2-3.4-2-3.2-2.1-3.2-2-3.1-2-3-2.1-2.9-2-2.9-2-2.7-2.1-2.7-2-2.6-2.1-2.5-2-2.4-2.1-2.3-2.1-2.3-2-2.2-2.1-2.1-2.1-2-2-1.9-2.1-1.8-2.1-1.8-2.1-1.7-2-1.6-2.1-1.5-2.1-1.5-2.1-1.4-2.1-1.2-2.1-1.3-2-1.1-2.1-1-2.1-1-2.1-0.9-2.1-0.8-2.1-0.8-2.1-0.6-2.1-0.6-2.1-0.5-2-0.5-2.1-0.3-2.1-0.3-2.1-0.2-2.1-0.2M293.5 176.4l-2-3.7-2-3.6-2-3.5-2.1-3.4-2-3.4-2-3.2-2-3.2-2-3-2.1-3-2-2.9-2-2.9-2.1-2.7-2-2.7-2.1-2.6-2-2.4-2.1-2.5-2-2.3-2.1-2.2-2-2.2-2.1-2.1-2.1-2-2-1.9-2.1-1.8-2.1-1.8-2.1-1.7-2-1.6-2.1-1.5-2.1-1.4-2.1-1.4-2.1-1.3-2.1-1.2-2-1.1-2.1-1.1-2.1-0.9-2.1-0.9-2.1-0.8-2.1-0.8-2.1-0.6-2.1-0.6-2-0.5-2.1-0.4-2.1-0.4-2.1-0.3-2.1-0.2M295.3 176.2l-2-3.6-2-3.6-2-3.5-2-3.4-2-3.3-2-3.3-2.1-3.1-2-3.1-2-3-2-2.9-2.1-2.8-2-2.7-2.1-2.7-2-2.5-2-2.5-2.1-2.4-2.1-2.3-2-2.3-2.1-2.1-2-2.1-2.1-2-2.1-1.9-2-1.8-2.1-1.8-2.1-1.7-2.1-1.6-2-1.5-2.1-1.4-2.1-1.4-2.1-1.2-2.1-1.2-2-1.1-2.1-1.1-2.1-0.9-2.1-0.9-2.1-0.8-2.1-0.8-2.1-0.6-2-0.6-2.1-0.5-2.1-0.4-2.1-0.4-2.1-0.2M297.1 176.2l-2-3.6-2-3.6-2-3.5-2-3.4-2-3.3-2-3.2-2-3.2-2-3-2.1-3-2-2.9-2-2.8-2-2.7-2.1-2.7-2-2.5-2.1-2.5-2-2.4-2.1-2.3-2-2.2-2.1-2.2-2.1-2.1-2-1.9-2.1-1.9-2.1-1.9-2-1.7-2.1-1.7-2.1-1.6-2-1.5-2.1-1.4-2.1-1.3-2.1-1.3-2.1-1.2-2-1.1-2.1-1-2.1-1-2.1-0.8-2.1-0.8-2.1-0.8-2.1-0.6-2-0.6-2.1-0.5-2.1-0.4M298.9 176.3l-1.9-3.7-2-3.5-2-3.5-2-3.4-2-3.3-2-3.2-2.1-3.2-2-3-2-3-2-2.9-2.1-2.7-2-2.8-2-2.6-2.1-2.5-2-2.5-2.1-2.4-2-2.3-2.1-2.2-2-2.1-2.1-2.1-2-2-2.1-1.9-2.1-1.8-2-1.7-2.1-1.7-2.1-1.5-2.1-1.5-2-1.5-2.1-1.3-2.1-1.3-2.1-1.1-2-1.1-2.1-1.1-2.1-0.9-2.1-0.9-2.1-0.8-2.1-0.7-2.1-0.6-2-0.6-2.1-0.5M300.8 176.4l-2-3.6-2-3.6-2-3.4-2-3.4-2-3.3-2-3.2-2-3.1-2-3.1-2.1-2.9-2-2.9-2-2.8-2-2.7-2.1-2.6-2-2.6-2.1-2.4-2-2.4-2-2.3-2.1-2.2-2.1-2.1-2-2.1-2.1-1.9-2-1.9-2.1-1.8-2.1-1.7-2-1.7-2.1-1.6-2.1-1.4-2-1.5-2.1-1.3-2.1-1.2-2.1-1.2-2.1-1.1-2-1-2.1-1-2.1-0.8-2.1-0.8-2.1-0.7-2-0.6-2.1-0.6M302.6 176.7l-2-3.7-2-3.5-2-3.5-2-3.3-2-3.3-2-3.2-2-3.1-2-3.1-2-2.9-2-2.9-2.1-2.7-2-2.7-2-2.6-2.1-2.6-2-2.4-2-2.4-2.1-2.3-2-2.2-2.1-2.1-2-2-2.1-2-2.1-1.9-2-1.8-2.1-1.7-2.1-1.6-2-1.6-2.1-1.5-2.1-1.4-2-1.3-2.1-1.2-2.1-1.2-2.1-1.1-2-1-2.1-0.9-2.1-0.9-2.1-0.8-2.1-0.7-2-0.6M304.4 177l-2-3.6-2-3.6-2-3.4-1.9-3.4-2-3.2-2-3.2-2.1-3.1-2-3-2-3-2-2.8-2-2.8-2-2.7-2.1-2.6-2-2.5-2-2.4-2.1-2.4-2-2.3-2.1-2.2-2-2.1-2.1-2-2-2-2.1-1.8-2-1.8-2.1-1.7-2.1-1.7-2-1.5-2.1-1.5-2.1-1.4-2.1-1.3-2-1.2-2.1-1.2-2.1-1.1-2.1-1-2-0.9-2.1-0.8-2.1-0.8M306.2 177.4l-2-3.6-2-3.5-1.9-3.4-2-3.4-2-3.2-2-3.2-2-3.1-2-3-2-3-2.1-2.8-2-2.8-2-2.6-2-2.6-2.1-2.5-2-2.5-2-2.3-2.1-2.3-2-2.2-2.1-2.1-2-2-2.1-1.9-2-1.9-2.1-1.8-2-1.7-2.1-1.6-2.1-1.6-2-1.4-2.1-1.4-2.1-1.3-2-1.2-2.1-1.2-2.1-1.1-2.1-1-2-0.9-2.1-0.8M308 177.9l-2-3.6-1.9-3.5-2-3.4-2-3.3-2-3.3-2-3.1-2-3.1-2-3-2-3-2-2.8-2-2.7-2.1-2.7-2-2.6-2-2.5-2-2.4-2.1-2.4-2-2.2-2.1-2.2-2-2.1-2.1-2-2-1.9-2.1-1.9-2-1.8-2.1-1.7-2-1.6-2.1-1.5-2.1-1.5-2-1.3-2.1-1.3-2.1-1.3-2-1.1-2.1-1.1-2.1-1-2.1-0.9M309.8 178.5l-2-3.5-1.9-3.5-2-3.4-2-3.4-2-3.2-2-3.2-2-3.1-2-2.9-2-3-2-2.8-2-2.7-2-2.7-2-2.6-2.1-2.5-2-2.4-2-2.3-2.1-2.2-2-2.2-2.1-2.1-2-2-2-1.9-2.1-1.9-2.1-1.7-2-1.7-2.1-1.6-2-1.6-2.1-1.4-2.1-1.4-2-1.3-2.1-1.2-2.1-1.1-2-1.1-2.1-1M311.6 179.2l-2-3.5-1.9-3.5-2-3.4-2-3.3-2-3.3-2-3.1-2-3.1-2-3-2-2.9-2-2.8-2-2.7-2-2.7-2-2.5-2-2.5-2.1-2.4-2-2.3-2-2.3-2.1-2.2-2-2-2-2-2.1-1.9-2-1.9-2.1-1.7-2-1.7-2.1-1.6-2.1-1.5-2-1.5-2.1-1.4-2-1.2-2.1-1.2-2.1-1.2M313.4 180l-2-3.5-1.9-3.5-2-3.4-2-3.3-2-3.2-2-3.2-1.9-3-2-3-2-2.9-2-2.8-2.1-2.7-2-2.7-2-2.5-2-2.5-2-2.4-2.1-2.3-2-2.2-2-2.2-2.1-2.1-2-2-2-1.9-2.1-1.8-2-1.8-2.1-1.6-2-1.6-2.1-1.5-2.1-1.5-2-1.3-2.1-1.3-2-1.2M315.2 180.9l-2-3.5-1.9-3.5-2-3.4-2-3.3-2-3.2-2-3.1-1.9-3.1-2-2.9-2-2.9-2-2.8-2-2.7-2-2.7-2.1-2.5-2-2.5-2-2.4-2-2.3-2.1-2.2-2-2.2-2-2-2.1-2-2-1.9-2-1.8-2.1-1.8-2-1.6-2.1-1.6-2-1.5-2.1-1.5-2.1-1.3-2-1.3M317 181.9l-2-3.6-2-3.4-1.9-3.4-2-3.3-2-3.2-2-3.1-1.9-3-2-3-2-2.9-2-2.8-2-2.7-2-2.6-2-2.5-2.1-2.5-2-2.4-2-2.3-2-2.2-2-2.1-2.1-2.1-2-2-2.1-1.9-2-1.8-2-1.7-2.1-1.7-2-1.6-2.1-1.5-2-1.4-2.1-1.3M318.7 183l-1.9-3.6-2-3.4-1.9-3.4-2-3.3-2-3.2-2-3.1-1.9-3-2-3-2-2.8-2-2.8-2-2.7-2-2.6-2-2.6-2-2.4-2.1-2.4-2-2.3-2-2.2-2-2.1-2-2.1-2.1-1.9-2-1.9-2.1-1.8-2-1.8-2-1.6-2.1-1.6-2-1.5-2.1-1.4M320.5 184.1l-1.9-3.5-2-3.5-2-3.3-1.9-3.3-2-3.2-2-3.1-1.9-3-2-3-2-2.8-2-2.8-2-2.7-2-2.6-2-2.5-2-2.5-2-2.3-2.1-2.3-2-2.2-2-2.1-2-2.1-2.1-1.9-2-1.9-2-1.8-2.1-1.7-2-1.7-2-1.5M322.3 185.3l-2-3.5-1.9-3.4-2-3.4-1.9-3.2-2-3.2-2-3.1-2-3-1.9-2.9-2-2.9-2-2.8-2-2.6-2-2.6-2-2.6-2-2.4-2-2.4-2-2.2-2.1-2.2-2-2.1-2-2.1-2-1.9-2.1-1.9-2-1.8-2-1.7-2.1-1.6M324 186.7l-1.9-3.5-2-3.5-1.9-3.3-2-3.3-1.9-3.1-2-3.1-2-3-2-2.9-1.9-2.9-2-2.7-2-2.7-2-2.6-2-2.5-2-2.5-2-2.3-2-2.3-2-2.2-2.1-2.1-2-2-2-1.9-2-1.9-2.1-1.8-2-1.7M325.8 188.1l-2-3.5-1.9-3.4-2-3.4-1.9-3.2-2-3.2-1.9-3.1-2-2.9-2-3-1.9-2.8-2-2.7-2-2.7-2-2.6-2-2.5-2-2.4-2-2.4-2-2.2-2-2.2-2-2.1-2.1-2-2-2-2-1.8-2-1.8M327.5 189.6l-1.9-3.5-1.9-3.4-2-3.3-1.9-3.3-2-3.1-2-3.1-1.9-3-2-2.9-2-2.8-2-2.8-1.9-2.6-2-2.6-2-2.5-2-2.4-2-2.3-2-2.3-2-2.2-2-2.1-2.1-2-2-1.9-2-1.9M329.3 191.2l-2-3.5-1.9-3.4-1.9-3.3-2-3.2-1.9-3.2-2-3.1-2-2.9-1.9-2.9-2-2.9-2-2.7-2-2.6-1.9-2.6-2-2.5-2-2.4-2-2.3-2-2.3-2-2.1-2-2.1-2.1-2M331 192.9l-1.9-3.5-2-3.4-1.9-3.3-1.9-3.2-2-3.2-1.9-3-2-3-2-2.9-1.9-2.8-2-2.7-2-2.7-2-2.5-2-2.5-1.9-2.4-2-2.3-2-2.3-2-2.1-2-2.1M332.7 194.6l-1.9-3.4-1.9-3.4-2-3.3-1.9-3.2-1.9-3.2-2-3-1.9-3-2-2.9-2-2.8-1.9-2.7-2-2.6-2-2.6-2-2.5-2-2.3-2-2.4-2-2.2-2-2.1M334.4 196.5l-1.9-3.5-1.9-3.4-1.9-3.3-2-3.2-1.9-3.1-2-3-1.9-3-2-2.9-1.9-2.7-2-2.8-2-2.6-1.9-2.5-2-2.5-2-2.4-2-2.3-2-2.2M336.2 198.4l-2-3.4-1.9-3.4-1.9-3.3-1.9-3.2-2-3.1-1.9-3-2-3-1.9-2.9-2-2.7-1.9-2.7-2-2.7-2-2.5-2-2.5-1.9-2.3-2-2.3M337.9 200.4l-1.9-3.4-2-3.4-1.9-3.2-1.9-3.2-1.9-3.1-2-3.1-1.9-2.9-2-2.9-1.9-2.8-2-2.6-2-2.7-1.9-2.5-2-2.5M339.6 202.5l-1.9-3.4-2-3.4-1.9-3.2-1.9-3.2-1.9-3.1-2-3-1.9-3-1.9-2.8-2-2.8-2-2.7-1.9-2.6-2-2.5M341.3 204.7l-1.9-3.4-2-3.3-1.9-3.3-1.9-3.2-1.9-3.1-1.9-3-2-2.9-1.9-2.9-2-2.7-1.9-2.7-2-2.6M342.9 207l-1.9-3.4-1.9-3.4-1.9-3.2-1.9-3.2-1.9-3.1-1.9-3-2-2.9-1.9-2.8-2-2.8-1.9-2.7M344.6 209.4l-1.9-3.4-1.9-3.4-1.9-3.2-1.9-3.2-1.9-3.1-1.9-3-2-2.9-1.9-2.8-1.9-2.8" fill="none" stroke="#000" stroke-opacity="0.6" stroke-width="0.8"/>
<ellipse cx="205.8" cy="86.3" rx="2.3" ry="2.9" fill="#f00" stroke="#5a1010" stroke-width="0.5"/>
<ellipse cx="205.8" cy="92" rx="2.3" ry="2.9" fill="#f00" stroke="#5a1010" stroke-width="0.5"/>
<ellipse cx="64.4" cy="183.2" rx="2.3" ry="2.9" fill="#f00" stroke="#5a1010" stroke-width="0.5"/>
<ellipse cx="344.7" cy="210" rx="2.3" ry="2.9" fill="#fbb" stroke="#5a1010" stroke-width="0.5"/>
<ellipse cx="213.7" cy="278.8" rx="2.3" ry="2.9" fill="#fbb" stroke="#5a1010" stroke-width="0.5"/>
<circle cx="66" cy="227.3" r="1.2" fill="#111"/>
<text x="60.7" y="225.1" font-size="8.7" text-anchor="end" fill="#333">7</text>
<circle cx="64.2" cy="181.8" r="1.2" fill="#111"/>
<text x="58.9" y="179.6" font-size="8.7" text-anchor="end" fill="#333">7.5</text>
<circle cx="62.4" cy="136.3" r="1.2" fill="#111"/>
<text x="57.1" y="134.1" font-size="8.7" text-anchor="end" fill="#333">8</text>
<circle cx="60.7" cy="90.8" r="1.2" fill="#111"/>
<text x="55.4" y="88.6" font-size="8.7" text-anchor="end" fill="#333">8.5</text>
<circle cx="58.9" cy="45.3" r="1.2" fill="#111"/>
<text x="53.6" y="43.1" font-size="8.7" text-anchor="end" fill="#333">9</text>
<circle cx="213.8" cy="362.8" r="1.2" fill="#111"/>
<text x="218.8" y="371.5" font-size="8.7" fill="#333">6.00</text>
<circle cx="245.9" cy="341" r="1.2" fill="#111"/>
<text x="250.9" y="349.7" font-size="8.7" fill="#333">7.00</text>
<circle cx="277.9" cy="319.2" r="1.2" fill="#111"/>
<text x="282.9" y="327.9" font-size="8.7" fill="#333">8.00</text>
<circle cx="309.9" cy="297.4" r="1.2" fill="#111"/>
<text x="314.9" y="306.1" font-size="8.7" fill="#333">9.00</text>
<circle cx="341.9" cy="275.6" r="1.2" fill="#111"/>
<text x="346.9" y="284.3" font-size="8.7" fill="#333">10.00</text>
<circle cx="213.8" cy="362.8" r="1.2" fill="#111"/>
<text x="208.6" y="371.1" font-size="8.7" text-anchor="end" fill="#333">34.00</text>
<circle cx="184.7" cy="347" r="1.2" fill="#111"/>
<text x="179.5" y="355.3" font-size="8.7" text-anchor="end" fill="#333">35.00</text>
<circle cx="155.6" cy="331.2" r="1.2" fill="#111"/>
<text x="150.4" y="339.5" font-size="8.7" text-anchor="end" fill="#333">36.00</text>
<circle cx="126.4" cy="315.4" r="1.2" fill="#111"/>
<text x="121.2" y="323.7" font-size="8.7" text-anchor="end" fill="#333">37.00</text>
<circle cx="97.3" cy="299.6" r="1.2" fill="#111"/>
<text x="92.1" y="307.9" font-size="8.7" text-anchor="end" fill="#333">38.00</text>
<circle cx="68.2" cy="283.8" r="1.2" fill="#111"/>
<text x="63" y="292.1" font-size="8.7" text-anchor="end" fill="#333">39.00</text>
<text x="20.7" y="168.3" font-size="14.8" text-anchor="middle" fill="#111" transform="rotate(-90 20.7 168.3)">Butanol</text>
<text x="43.8" y="361" font-size="13.8" fill="#111">B: Temperature</text>
<text x="301.5" y="353.5" font-size="13.6" fill="#111">A: Butanol</text>
</g>
<g id="pB">
<clipPath id="crB"><rect x="459.2" y="34.8" width="271.4" height="317"/></clipPath>
<g clip-path="url(#crB)">
<rect x="459.2" y="34.8" width="271.4" height="317" fill="#0000ff"/>
<g transform="translate(581.1 188.2) rotate(-99.83)">
<ellipse rx="254.2" ry="199.6" fill="#0000ff"/>
<ellipse rx="253.2" ry="198.8" fill="#0000ff"/>
<ellipse rx="252.2" ry="198" fill="#0000ff"/>
<ellipse rx="251.2" ry="197.3" fill="#0000ff"/>
<ellipse rx="250.2" ry="196.5" fill="#0006ff"/>
<ellipse rx="249.2" ry="195.7" fill="#000dff"/>
<ellipse rx="248.2" ry="194.9" fill="#0015ff"/>
<ellipse rx="247.2" ry="194.1" fill="#001dff"/>
<ellipse rx="246.2" ry="193.3" fill="#0025ff"/>
<ellipse rx="245.2" ry="192.5" fill="#002dff"/>
<ellipse rx="244.2" ry="191.7" fill="#0034ff"/>
<ellipse rx="243.2" ry="190.9" fill="#003cff"/>
<ellipse rx="242.2" ry="190.1" fill="#0044ff"/>
<ellipse rx="241.1" ry="189.3" fill="#004cff"/>
<ellipse rx="240.1" ry="188.5" fill="#0054ff"/>
<ellipse rx="239.1" ry="187.7" fill="#005cff"/>
<ellipse rx="238" ry="186.9" fill="#0063ff"/>
<ellipse rx="237" ry="186.1" fill="#006bff"/>
<ellipse rx="235.9" ry="185.2" fill="#0073ff"/>
<ellipse rx="234.9" ry="184.4" fill="#007bff"/>
<ellipse rx="233.8" ry="183.6" fill="#0083ff"/>
<ellipse rx="232.7" ry="182.7" fill="#008aff"/>
<ellipse rx="231.7" ry="181.9" fill="#0092ff"/>
<ellipse rx="230.6" ry="181.1" fill="#009aff"/>
<ellipse rx="229.5" ry="180.2" fill="#00a2ff"/>
<ellipse rx="228.4" ry="179.4" fill="#00aaff"/>
<ellipse rx="227.3" ry="178.5" fill="#00b2ff"/>
<ellipse rx="226.2" ry="177.6" fill="#00b9ff"/>
<ellipse rx="225.1" ry="176.8" fill="#00c1ff"/>
<ellipse rx="224" ry="175.9" fill="#00c9ff"/>
<ellipse rx="222.9" ry="175" fill="#00d1ff"/>
<ellipse rx="221.8" ry="174.2" fill="#00d9ff"/>
<ellipse rx="220.7" ry="173.3" fill="#00e0ff"/>
<ellipse rx="219.6" ry="172.4" fill="#00e8ff"/>
<ellipse rx="218.4" ry="171.5" fill="#00f0ff"/>
<ellipse rx="217.3" ry="170.6" fill="#00f8ff"/>
<ellipse rx="216.1" ry="169.7" fill="#00fffe"/>
<ellipse rx="215" ry="168.8" fill="#00fff6"/>
<ellipse rx="213.8" ry="167.9" fill="#00ffee"/>
<ellipse rx="212.7" ry="167" fill="#00ffe7"/>
<ellipse rx="211.5" ry="166.1" fill="#00ffdf"/>
<ellipse rx="210.3" ry="165.1" fill="#00ffd7"/>
<ellipse rx="209.1" ry="164.2" fill="#00ffcf"/>
<ellipse rx="207.9" ry="163.3" fill="#00ffc7"/>
<ellipse rx="206.7" ry="162.3" fill="#00ffbf"/>
<ellipse rx="205.5" ry="161.4" fill="#00ffb7"/>
<ellipse rx="204.3" ry="160.4" fill="#00ffaf"/>
<ellipse rx="203.1" ry="159.5" fill="#00ffa7"/>
<ellipse rx="201.9" ry="158.5" fill="#00ff9f"/>
<ellipse rx="200.6" ry="157.5" fill="#00ff97"/>
<ellipse rx="199.4" ry="156.6" fill="#00ff8f"/>
<ellipse rx="198.1" ry="155.6" fill="#00ff87"/>
<ellipse rx="196.9" ry="154.6" fill="#00ff7f"/>
<ellipse rx="195.6" ry="153.6" fill="#00ff78"/>
<ellipse rx="194.3" ry="152.6" fill="#00ff70"/>
<ellipse rx="193.1" ry="151.6" fill="#00ff68"/>
<ellipse rx="191.8" ry="150.6" fill="#00ff60"/>
<ellipse rx="190.5" ry="149.5" fill="#00ff58"/>
<ellipse rx="189.2" ry="148.5" fill="#00ff50"/>
<ellipse rx="187.8" ry="147.5" fill="#00ff48"/>
<ellipse rx="186.5" ry="146.4" fill="#00ff40"/>
<ellipse rx="185.2" ry="145.4" fill="#00ff38"/>
<ellipse rx="183.8" ry="144.3" fill="#00ff30"/>
<ellipse rx="182.5" ry="143.3" fill="#00ff28"/>
<ellipse rx="181.1" ry="142.2" fill="#00ff20"/>
<ellipse rx="179.7" ry="141.1" fill="#00ff18"/>
<ellipse rx="178.3" ry="140" fill="#00ff10"/>
<ellipse rx="176.9" ry="138.9" fill="#00ff09"/>
<ellipse rx="175.5" ry="137.8" fill="#00ff01"/>
<ellipse rx="174.1" ry="136.7" fill="#07ff00"/>
<ellipse rx="172.7" ry="135.6" fill="#0fff00"/>
<ellipse rx="171.2" ry="134.4" fill="#17ff00"/>
<ellipse rx="169.8" ry="133.3" fill="#1eff00"/>
<ellipse rx="168.3" ry="132.1" fill="#26ff00"/>
<ellipse rx="166.8" ry="131" fill="#2eff00"/>
<ellipse rx="165.3" ry="129.8" fill="#35ff00"/>
<ellipse rx="163.8" ry="128.6" fill="#3dff00"/>
<ellipse rx="162.3" ry="127.4" fill="#45ff00"/>
<ellipse rx="160.8" ry="126.2" fill="#4dff00"/>
<ellipse rx="159.2" ry="125" fill="#54ff00"/>
<ellipse rx="157.6" ry="123.8" fill="#5cff00"/>
<ellipse rx="156" ry="122.5" fill="#64ff00"/>
<ellipse rx="154.4" ry="121.3" fill="#6bff00"/>
<ellipse rx="152.8" ry="120" fill="#73ff00"/>
<ellipse rx="151.2" ry="118.7" fill="#7bff00"/>
<ellipse rx="149.5" ry="117.4" fill="#83ff00"/>
<ellipse rx="147.9" ry="116.1" fill="#8aff00"/>
<ellipse rx="146.2" ry="114.8" fill="#92ff00"/>
<ellipse rx="144.5" ry="113.4" fill="#9aff00"/>
<ellipse rx="142.7" ry="112.1" fill="#a1ff00"/>
<ellipse rx="141" ry="110.7" fill="#a9ff00"/>
<ellipse rx="139.2" ry="109.3" fill="#b1ff00"/>
<ellipse rx="137.4" ry="107.9" fill="#b8ff00"/>
<ellipse rx="135.6" ry="106.5" fill="#c0ff00"/>
<ellipse rx="133.8" ry="105" fill="#c8ff00"/>
<ellipse rx="131.9" ry="103.6" fill="#d0ff00"/>
<ellipse rx="130" ry="102.1" fill="#d7ff00"/>
<ellipse rx="128.1" ry="100.5" fill="#dfff00"/>
<ellipse rx="126.1" ry="99" fill="#e7ff00"/>
<ellipse rx="124.1" ry="97.5" fill="#eeff00"/>
<ellipse rx="122.1" ry="95.9" fill="#f6ff00"/>
<ellipse rx="120" ry="94.3" fill="#feff00"/>
<ellipse rx="118" ry="92.6" fill="#fff900"/>
<ellipse rx="115.8" ry="91" fill="#fff300"/>
<ellipse rx="113.7" ry="89.3" fill="#ffec00"/>
<ellipse rx="111.5" ry="87.5" fill="#ffe600"/>
<ellipse rx="109.2" ry="85.7" fill="#ffdf00"/>
<ellipse rx="106.9" ry="83.9" fill="#ffd900"/>
<ellipse rx="104.6" ry="82.1" fill="#ffd200"/>
<ellipse rx="102.2" ry="80.2" fill="#ffcc00"/>
<ellipse rx="99.7" ry="78.3" fill="#ffc500"/>
<ellipse rx="97.2" ry="76.3" fill="#ffbe00"/>
<ellipse rx="94.6" ry="74.3" fill="#ffb800"/>
<ellipse rx="91.9" ry="72.2" fill="#ffb100"/>
<ellipse rx="89.2" ry="70" fill="#ffab00"/>
<ellipse rx="86.3" ry="67.8" fill="#ffa400"/>
<ellipse rx="83.4" ry="65.5" fill="#ff9e00"/>
<ellipse rx="80.4" ry="63.1" fill="#ff9700"/>
<ellipse rx="77.2" ry="60.6" fill="#ff9100"/>
<ellipse rx="73.9" ry="58.1" fill="#ff8a00"/>
<ellipse rx="70.5" ry="55.4" fill="#ff8400"/>
<ellipse rx="66.9" ry="52.5" fill="#ff7d00"/>
<ellipse rx="63.1" ry="49.5" fill="#ff7600"/>
<ellipse rx="59" ry="46.3" fill="#ff7000"/>
<ellipse rx="54.6" ry="42.9" fill="#ff6900"/>
<ellipse rx="49.8" ry="39.1" fill="#ff6300"/>
<ellipse rx="44.6" ry="35" fill="#ff5c00"/>
<ellipse rx="38.6" ry="30.3" fill="#ff5600"/>
<ellipse rx="31.5" ry="24.8" fill="#ff4f00"/>
<ellipse rx="22.3" ry="17.5" fill="#ff4900"/>
<ellipse rx="238.5" ry="187.2" fill="none" stroke="#1a1a1a" stroke-width="0.7"/>
<ellipse rx="218.8" ry="171.8" fill="none" stroke="#1a1a1a" stroke-width="0.7"/>
<ellipse rx="197.1" ry="154.8" fill="none" stroke="#1a1a1a" stroke-width="0.7"/>
<ellipse rx="172.8" ry="135.7" fill="none" stroke="#1a1a1a" stroke-width="0.7"/>
<ellipse rx="144.4" ry="113.4" fill="none" stroke="#1a1a1a" stroke-width="0.7"/>
<ellipse rx="108.8" ry="85.4" fill="none" stroke="#1a1a1a" stroke-width="0.7"/>
<ellipse rx="53.3" ry="41.8" fill="none" stroke="#1a1a1a" stroke-width="0.7"/>
</g></g>
<rect x="459.2" y="34.8" width="271.4" height="317" fill="none" stroke="#333" stroke-width="0.8"/>
<rect x="473.1" y="52.8" width="14.9" height="9.4" fill="#fff" stroke="#222" stroke-width="0.7"/>
<text x="480.5" y="60.6" font-size="8.8" text-anchor="middle" fill="#222">7.8</text>
<rect x="705.5" y="52.8" width="14.9" height="9.4" fill="#fff" stroke="#222" stroke-width="0.7"/>
<text x="713" y="60.6" font-size="8.8" text-anchor="middle" fill="#222">7.4</text>
<rect x="697.5" y="72.3" width="14.9" height="9.4" fill="#fff" stroke="#222" stroke-width="0.7"/>
<text x="705" y="80.1" font-size="8.8" text-anchor="middle" fill="#222">7.6</text>
<rect x="709.5" y="185.8" width="14.9" height="9.4" fill="#fff" stroke="#222" stroke-width="0.7"/>
<text x="717" y="193.6" font-size="8.8" text-anchor="middle" fill="#222">7.8</text>
<rect x="566.5" y="230.8" width="14.9" height="9.4" fill="#fff" stroke="#222" stroke-width="0.7"/>
<text x="574" y="238.6" font-size="8.8" text-anchor="middle" fill="#222">8.4</text>
<rect x="566.5" y="285.8" width="14.9" height="9.4" fill="#fff" stroke="#222" stroke-width="0.7"/>
<text x="574" y="293.6" font-size="8.8" text-anchor="middle" fill="#222">8.2</text>
<rect x="567.5" y="320.3" width="7.1" height="9.4" fill="#fff" stroke="#222" stroke-width="0.7"/>
<text x="571" y="328.1" font-size="8.8" text-anchor="middle" fill="#222">8</text>
<rect x="486.1" y="302.8" width="14.9" height="9.4" fill="#fff" stroke="#222" stroke-width="0.7"/>
<text x="493.5" y="310.6" font-size="8.8" text-anchor="middle" fill="#222">7.8</text>
<rect x="472.1" y="318.3" width="14.9" height="9.4" fill="#fff" stroke="#222" stroke-width="0.7"/>
<text x="479.5" y="326.1" font-size="8.8" text-anchor="middle" fill="#222">7.6</text>
<rect x="461.1" y="333.8" width="14.9" height="9.4" fill="#fff" stroke="#222" stroke-width="0.7"/>
<text x="468.5" y="341.6" font-size="8.8" text-anchor="middle" fill="#222">7.4</text>
<rect x="702" y="298.3" width="14.9" height="9.4" fill="#fff" stroke="#222" stroke-width="0.7"/>
<text x="709.5" y="306.1" font-size="8.8" text-anchor="middle" fill="#222">7.6</text>
<rect x="709.5" y="322.3" width="14.9" height="9.4" fill="#fff" stroke="#222" stroke-width="0.7"/>
<text x="717" y="330.1" font-size="8.8" text-anchor="middle" fill="#222">7.4</text>
<path d="M459.2 351.8v8" stroke="#444" stroke-width="1"/>
<text x="459.2" y="369.6" font-size="7.6" text-anchor="middle" fill="#333">6.00</text>
<path d="M527 351.8v8" stroke="#444" stroke-width="1"/>
<text x="527" y="369.6" font-size="7.6" text-anchor="middle" fill="#333">7.00</text>
<path d="M594.9 351.8v8" stroke="#444" stroke-width="1"/>
<text x="594.9" y="369.6" font-size="7.6" text-anchor="middle" fill="#333">8.00</text>
<path d="M662.8 351.8v8" stroke="#444" stroke-width="1"/>
<text x="662.8" y="369.6" font-size="7.6" text-anchor="middle" fill="#333">9.00</text>
<path d="M730.6 351.8v8" stroke="#444" stroke-width="1"/>
<text x="730.6" y="369.6" font-size="7.6" text-anchor="middle" fill="#333">10.00</text>
<path d="M459.2 351.8h-6" stroke="#444" stroke-width="1"/>
<text x="449.2" y="353.7" font-size="7.6" text-anchor="end" fill="#333">34.00</text>
<path d="M459.2 288.4h-6" stroke="#444" stroke-width="1"/>
<text x="449.2" y="290.3" font-size="7.6" text-anchor="end" fill="#333">35.00</text>
<path d="M459.2 225h-6" stroke="#444" stroke-width="1"/>
<text x="449.2" y="226.9" font-size="7.6" text-anchor="end" fill="#333">36.00</text>
<path d="M459.2 161.6h-6" stroke="#444" stroke-width="1"/>
<text x="449.2" y="163.5" font-size="7.6" text-anchor="end" fill="#333">37.00</text>
<path d="M459.2 98.2h-6" stroke="#444" stroke-width="1"/>
<text x="449.2" y="100.1" font-size="7.6" text-anchor="end" fill="#333">38.00</text>
<path d="M459.2 34.8h-6" stroke="#444" stroke-width="1"/>
<text x="449.2" y="36.7" font-size="7.6" text-anchor="end" fill="#333">39.00</text>
<circle cx="459.2" cy="34.8" r="2.3" fill="#f00" stroke="#7a0000" stroke-width="0.5"/>
<circle cx="730.6" cy="34.8" r="2.3" fill="#f00" stroke="#7a0000" stroke-width="0.5"/>
<circle cx="459.2" cy="351.8" r="2.3" fill="#f00" stroke="#7a0000" stroke-width="0.5"/>
<circle cx="730.6" cy="351.8" r="2.3" fill="#f00" stroke="#7a0000" stroke-width="0.5"/>
<circle cx="595" cy="193" r="2.5" fill="#f00" stroke="#7a0000" stroke-width="0.6"/>
<text x="592" y="196" font-size="8.5" text-anchor="end" fill="#400">5</text>
<text x="594.4" y="26.8" font-size="19" text-anchor="middle" fill="#111">Butanol</text>
<text x="414.2" y="191" font-size="14" text-anchor="middle" fill="#111" transform="rotate(-90 414.2 191)">B: Temperature</text>
<text x="594" y="415.7" font-size="14.5" text-anchor="middle" fill="#111">A: Butanol</text>
</g>
<g id="pC">
<path d="M64.5 636.5L57.4 448.1M99.3 620.7L94 436.7M134.1 604.8L130.5 425.4M168.9 588.9L167.1 414M203.7 573.1L203.7 402.7M352.8 630.7L360.6 443.1M315.5 616.3L321.4 433M278.2 601.9L282.1 422.9M241 587.5L242.9 412.8M203.7 573.1L203.7 402.7M64.5 636.5L203.7 573.1L352.8 630.7M62.7 589.4L203.7 530.5L354.7 583.8M61 542.3L203.7 487.9L356.7 536.9M59.2 495.2L203.7 445.3L358.6 490M57.4 448.1L203.7 402.7L360.6 443.1M66.7 695L64.5 636.5M350.4 688.8L352.8 630.7" fill="none" stroke="#4a4a4a" stroke-width="1"/>
<clipPath id="cfC"><polygon points="217.1,776.3 350.4,688.8 203.7,625.9 66.7,695"/></clipPath>
<polygon points="217.1,776.3 350.4,688.8 203.7,625.9 66.7,695" fill="#ffff00"/>
<g clip-path="url(#cfC)" fill="none" stroke-width="1.1">
<polyline points="78.6,736.3 63,726.8 48.7,716.9 35.9,706.8 24.7,696.6 15.1,686.4 7.4,676.5 1.6,666.8 -2.2,657.5 -4,648.8 -3.8,640.7 -1.5,633.3 2.7,626.6 8.9,620.6 17,615.5 26.9,611.2 38.4,607.6 51.4,604.9 65.8,603 81.4,601.8 98,601.4 115.5,601.8 133.6,602.8 152.1,604.6 170.9,607 189.8,610 208.4,613.8 226.7,618.1 244.5,623.1 261.5,628.7 277.6,634.8 292.5,641.6 306.3,648.8 318.7,656.6 329.5,664.8 338.7,673.4 346.2,682.4 351.9,691.6 355.8,700.9 357.7,710.3 357.7,719.6 355.8,728.8 352,737.6 346.3,746 338.7,753.8 329.4,760.8 318.5,767.1 306,772.4 292.1,776.7 276.9,779.8 260.5,781.8 243.3,782.5 225.3,781.9 206.7,780.1 187.8,777 168.7,772.7 149.7,767.3 131,760.9 112.7,753.4 95.2,745.2 78.6,736.3" stroke="#669d99"/>
<polyline points="86.6,732.2 72.3,723.6 59.2,714.7 47.4,705.5 37.1,696.1 28.4,686.8 21.3,677.7 15.9,668.8 12.4,660.3 10.8,652.3 11,644.8 13,637.9 16.9,631.6 22.6,626.1 30,621.3 39.1,617.2 49.6,613.8 61.6,611.2 74.8,609.4 89.1,608.3 104.4,607.8 120.4,608.1 137.1,609 154.1,610.6 171.4,612.9 188.7,615.8 205.9,619.2 222.8,623.3 239.1,628 254.7,633.2 269.5,639 283.3,645.3 296,652.1 307.4,659.3 317.4,666.9 325.9,674.9 332.8,683.1 338,691.6 341.6,700.2 343.3,708.8 343.3,717.3 341.6,725.7 338,733.7 332.7,741.3 325.8,748.4 317.2,754.8 307.1,760.5 295.6,765.2 282.8,769.1 268.8,771.9 253.8,773.6 237.9,774.3 221.4,773.7 204.3,772 186.9,769.2 169.4,765.3 151.9,760.4 134.7,754.5 118,747.8 101.9,740.4 86.6,732.2" stroke="#66f299"/>
<polyline points="95.4,727.8 82.5,720.1 70.7,712.1 60.1,703.9 50.8,695.5 42.8,687.2 36.5,679 31.6,671 28.5,663.3 27,656 27.1,649.2 29,642.9 32.5,637.1 37.6,632 44.3,627.6 52.4,623.8 62,620.7 72.7,618.2 84.7,616.5 97.6,615.4 111.4,614.9 125.9,615.1 140.9,616 156.3,617.4 172,619.5 187.6,622.1 203.2,625.3 218.4,629.1 233.2,633.4 247.4,638.2 260.8,643.5 273.2,649.3 284.7,655.5 295,662.2 304.1,669.1 311.8,676.4 318,683.9 322.7,691.6 325.9,699.3 327.5,707.1 327.5,714.7 325.9,722.2 322.7,729.4 317.9,736.2 311.6,742.5 303.8,748.2 294.7,753.2 284.3,757.4 272.7,760.8 260,763.3 246.4,764.8 232.1,765.3 217.1,764.8 201.7,763.3 186,760.8 170.1,757.3 154.4,752.9 138.8,747.7 123.7,741.7 109.2,735 95.4,727.8" stroke="#66ff50"/>
<polyline points="105.3,722.9 94,716.2 83.6,709.2 74.2,702 66,694.8 59.1,687.5 53.4,680.3 49.2,673.2 46.4,666.5 45.1,660 45.2,654 46.8,648.4 49.9,643.2 54.4,638.7 60.3,634.6 67.4,631.2 75.8,628.3 85.3,626.1 95.8,624.5 107.1,623.4 119.3,623 132,623.1 145.3,623.8 158.8,625.1 172.6,627 186.4,629.3 200.1,632.2 213.6,635.6 226.6,639.5 239.1,643.8 250.9,648.6 261.9,653.8 272,659.4 281.1,665.3 289.1,671.5 295.9,678 301.4,684.6 305.6,691.4 308.4,698.2 309.8,705 309.8,711.7 308.4,718.2 305.5,724.5 301.3,730.4 295.7,735.8 288.9,740.7 280.8,745.1 271.6,748.7 261.4,751.6 250.2,753.7 238.2,755 225.6,755.4 212.4,754.9 198.8,753.6 185,751.4 171,748.4 157.1,744.6 143.5,740.1 130.2,734.9 117.4,729.1 105.3,722.9" stroke="#6cff00"/>
<polyline points="116.7,717.1 107.2,711.6 98.4,705.8 90.6,699.8 83.7,693.8 77.8,687.7 73.1,681.6 69.5,675.7 67.2,670 66,664.5 66.1,659.4 67.5,654.6 70.1,650.2 73.8,646.3 78.8,642.8 84.8,639.8 91.8,637.3 99.8,635.3 108.6,633.8 118.2,632.9 128.4,632.4 139.2,632.5 150.3,633.1 161.8,634.2 173.4,635.8 185,637.8 196.6,640.3 207.9,643.2 219,646.6 229.5,650.4 239.5,654.5 248.8,659 257.4,663.8 265.1,668.8 271.8,674.1 277.5,679.6 282.2,685.3 285.7,691 288.1,696.8 289.3,702.5 289.2,708.1 288,713.5 285.6,718.7 282,723.6 277.3,728.1 271.5,732.1 264.7,735.7 256.9,738.7 248.2,741 238.8,742.7 228.7,743.7 218,744.1 206.9,743.7 195.5,742.5 183.8,740.7 172.1,738.2 160.4,735.1 148.9,731.3 137.7,727 126.9,722.3 116.7,717.1" stroke="#c0ff00"/>
<polyline points="130.8,710 123.5,705.8 116.8,701.4 110.7,696.9 105.4,692.3 100.9,687.7 97.3,683.1 94.5,678.5 92.7,674.1 91.9,669.9 91.9,665.9 93,662.1 94.9,658.7 97.8,655.5 101.6,652.8 106.2,650.4 111.6,648.3 117.7,646.7 124.5,645.5 131.9,644.7 139.8,644.3 148,644.4 156.6,644.8 165.4,645.6 174.4,646.9 183.4,648.5 192.3,650.5 201.1,652.8 209.6,655.5 217.7,658.5 225.4,661.7 232.6,665.3 239.2,669.1 245.2,673 250.4,677.2 254.8,681.5 258.4,685.9 261.1,690.3 262.9,694.7 263.8,699.1 263.8,703.4 262.9,707.5 261,711.4 258.2,715.1 254.5,718.5 250.1,721.5 244.8,724.2 238.8,726.4 232.1,728.1 224.8,729.4 217,730.1 208.8,730.3 200.2,730 191.4,729.1 182.4,727.7 173.4,725.8 164.4,723.5 155.5,720.7 146.9,717.4 138.7,713.9 130.8,710" stroke="#ffed00"/>
<polyline points="151.6,699.4 147.5,697.2 143.7,694.8 140.3,692.3 137.4,689.8 134.9,687.2 132.8,684.7 131.3,682.1 130.3,679.7 129.8,677.3 129.8,675 130.4,672.8 131.5,670.8 133.1,669 135.2,667.4 137.8,666 140.8,664.8 144.2,663.8 148,663 152.1,662.5 156.5,662.3 161.2,662.3 166,662.5 170.9,663 176,663.7 181,664.6 186,665.8 191,667.1 195.7,668.7 200.3,670.5 204.7,672.4 208.7,674.4 212.5,676.6 215.8,678.9 218.7,681.3 221.2,683.8 223.2,686.3 224.8,688.8 225.8,691.2 226.3,693.7 226.3,696 225.7,698.3 224.7,700.5 223.1,702.5 221,704.3 218.5,705.9 215.5,707.3 212.1,708.5 208.4,709.4 204.3,710 199.9,710.4 195.3,710.5 190.5,710.3 185.5,709.8 180.5,709 175.4,708 170.4,706.7 165.4,705.2 160.6,703.5 156,701.5 151.6,699.4" stroke="#ffa600"/>
</g>
<path d="M66.7 695L203.7 625.9L350.4 688.8" fill="none" stroke="#555" stroke-width="0.5"/>
<path d="M66.7 695L217.1 776.3L350.4 688.8" fill="none" stroke="#333" stroke-width="0.7"/>
<g stroke-width="0.6">
<path fill="#6ee" stroke="#6ee" d="M217.1 672.7l3.8-8.9l-4.3-6.7l-3.8 8.8z"/>
<path fill="#6ed" stroke="#6ed" d="M212.8 665.9l3.8-8.8l-4.3-6.4l-3.8 8.7z"/>
<path fill="#6ec" stroke="#6ec" d="M208.5 659.4l3.8-8.7l-4.3-6.3l-3.8 8.7zM220.9 663.8l3.8-8.4l-4.3-6.6l-3.8 8.3z"/>
<path fill="#6eb" stroke="#6eb" d="M204.2 653.1l3.8-8.7l-4.3-6l-3.8 8.7zM216.6 657.1l3.8-8.3l-4.2-6.4l-3.9 8.3zM224.7 655.4l3.9-8l-4.3-6.5l-3.9 7.9z"/>
<path fill="#6ea" stroke="#6ea" d="M199.9 647.1l3.8-8.7l-4.3-5.8l-3.8 8.6zM212.3 650.7l3.9-8.3l-4.3-6.2l-3.9 8.2zM220.4 648.8l3.9-7.9l-4.3-6.4l-3.8 7.9zM228.6 647.4l3.8-7.5l-4.3-6.5l-3.8 7.5z"/>
<path fill="#6e9" stroke="#6e9" d="M195.6 641.2l3.8-8.6l-4.3-5.6l-3.8 8.5zM208 644.4l3.9-8.2l-4.3-6l-3.9 8.2zM203.7 638.4l3.9-8.2l-4.4-5.8l-3.8 8.2zM216.2 642.4l3.8-7.9l-4.3-6.2l-3.8 7.9zM224.3 640.9l3.8-7.5l-4.2-6.4l-3.9 7.5zM232.4 639.9l3.9-7.1l-4.3-6.5l-3.9 7.1z"/>
<path fill="#6e8" stroke="#6e8" d="M191.3 635.5l3.8-8.5l-4.3-5.4l-3.9 8.5zM186.9 630.1l3.9-8.5l-4.4-5.2l-3.8 8.5zM199.4 632.6l3.8-8.2l-4.3-5.6l-3.8 8.2zM211.9 636.2l3.8-7.9l-4.3-5.9l-3.8 7.8zM220 634.5l3.9-7.5l-4.3-6.1l-3.9 7.4zM228.1 633.4l3.9-7.1l-4.3-6.3l-3.8 7zM236.3 632.8l3.8-6.6l-4.2-6.5l-3.9 6.6z"/>
<path fill="#6e7" stroke="#6e7" d="M182.6 624.9l3.8-8.5l-4.3-5l-3.8 8.4zM195.1 627l3.8-8.2l-4.3-5.3l-3.8 8.1zM207.6 630.2l3.8-7.8l-4.3-5.8l-3.9 7.8zM203.2 624.4l3.9-7.8l-4.3-5.5l-3.9 7.7zM215.7 628.3l3.9-7.4l-4.3-5.9l-3.9 7.4zM223.9 627l3.8-7l-4.3-6l-3.8 6.9zM232 626.3l3.9-6.6l-4.3-6.2l-3.9 6.5zM240.1 626.2l3.9-6.2l-4.2-6.4l-3.9 6.1z"/>
<path fill="#6e6" stroke="#6e6" d="M178.3 619.8l3.8-8.4l-4.3-4.8l-3.9 8.4zM190.8 621.6l3.8-8.1l-4.3-5.2l-3.9 8.1zM211.4 622.4l3.9-7.4l-4.4-5.7l-3.8 7.3zM219.6 620.9l3.8-6.9l-4.3-5.9l-3.8 6.9zM244 620l3.9-5.8l-4.3-6.4l-3.8 5.8z"/>
<path fill="#7e6" stroke="#7e6" d="M173.9 615l3.9-8.4l-4.4-4.5l-3.8 8.3zM169.6 610.4l3.8-8.3l-4.3-4.4l-3.9 8.3zM186.4 616.4l3.9-8.1l-4.4-4.9l-3.8 8zM182.1 611.4l3.8-8l-4.3-4.7l-3.8 7.9zM198.9 618.8l3.9-7.7l-4.4-5.3l-3.8 7.7zM194.6 613.5l3.8-7.7l-4.3-5.1l-3.8 7.6zM207.1 616.6l3.8-7.3l-4.3-5.4l-3.8 7.2zM215.3 615l3.8-6.9l-4.3-5.6l-3.9 6.8zM227.7 620l3.9-6.5l-4.3-6l-3.9 6.5zM223.4 614l3.9-6.5l-4.3-5.9l-3.9 6.5zM235.9 619.7l3.9-6.1l-4.3-6.2l-3.9 6.1zM231.6 613.5l3.9-6.1l-4.3-6l-3.9 6.1zM239.8 613.6l3.8-5.8l-4.2-6.2l-3.9 5.8zM247.9 614.2l3.9-5.4l-4.3-6.3l-3.9 5.3z"/>
<path fill="#8e6" stroke="#8e6" d="M165.2 606l3.9-8.3l-4.4-4.2l-3.8 8.3zM160.9 601.8l3.8-8.3l-4.3-3.9l-3.9 8.2zM156.5 597.8l3.9-8.2l-4.4-3.8l-3.8 8.2zM177.8 606.6l3.8-7.9l-4.4-4.6l-3.8 8zM173.4 602.1l3.8-8l-4.3-4.3l-3.8 7.9zM190.3 608.3l3.8-7.6l-4.3-4.9l-3.9 7.6zM185.9 603.4l3.9-7.6l-4.4-4.7l-3.8 7.6zM202.8 611.1l3.8-7.2l-4.3-5.3l-3.9 7.2zM198.4 605.8l3.9-7.2l-4.3-5.1l-3.9 7.2zM210.9 609.3l3.9-6.8l-4.3-5.5l-3.9 6.9zM219.1 608.1l3.9-6.5l-4.3-5.6l-3.9 6.5zM227.3 607.5l3.9-6.1l-4.3-5.8l-3.9 6zM235.5 607.4l3.9-5.8l-4.3-5.9l-3.9 5.7zM243.6 607.8l3.9-5.3l-4.2-6.1l-3.9 5.2zM251.8 608.8l3.9-4.9l-4.3-6.3l-3.9 4.9zM255.7 603.9l3.9-4.5l-4.3-6.3l-3.9 4.5z"/>
<path fill="#9e6" stroke="#9e6" d="M152.2 594l3.8-8.2l-4.3-3.6l-3.9 8.2zM147.8 590.4l3.9-8.2l-4.4-3.3l-3.8 8.1zM143.5 587l3.8-8.1l-4.4-3.2l-3.8 8.1zM139.1 583.8l3.8-8.1l-4.3-3l-3.8 8.1zM169.1 597.7l3.8-7.9l-4.4-4.1l-3.8 7.8zM164.7 593.5l3.8-7.8l-4.3-3.9l-3.8 7.8zM181.6 598.7l3.8-7.6l-4.3-4.5l-3.9 7.5zM194.1 600.7l3.9-7.2l-4.4-4.8l-3.8 7.1zM206.6 603.9l3.9-6.9l-4.3-5.2l-3.9 6.8zM202.3 598.6l3.9-6.8l-4.3-5l-3.9 6.7zM214.8 602.5l3.9-6.5l-4.3-5.4l-3.9 6.4zM223 601.6l3.9-6l-4.3-5.6l-3.9 6zM231.2 601.4l3.9-5.7l-4.3-5.7l-3.9 5.6zM239.4 601.6l3.9-5.2l-4.3-5.9l-3.9 5.2zM247.5 602.5l3.9-4.9l-4.2-6.1l-3.9 4.9zM243.3 596.4l3.9-4.9l-4.3-5.9l-3.9 4.9zM251.4 597.6l3.9-4.5l-4.2-6l-3.9 4.4zM259.6 599.4l3.9-4.1l-4.3-6.3l-3.9 4.1zM263.5 595.3l3.9-3.7l-4.3-6.2l-3.9 3.6zM267.4 591.6l3.8-3.3l-4.2-6.2l-3.9 3.3z"/>
<path fill="#9e5" stroke="#9e5" d="M134.8 580.8l3.8-8.1l-4.4-2.8l-3.8 8zM271.2 588.3l3.9-2.9l-4.2-6.1l-3.9 2.8zM275.1 585.4l3.9-2.4l-4.2-6.1l-3.9 2.4z"/>
<path fill="#ae5" stroke="#ae5" d="M130.4 577.9l3.8-8l-4.3-2.5l-3.8 7.9zM126.1 575.3l3.8-7.9l-4.4-2.4l-3.7 7.9zM121.8 572.9l3.7-7.9l-4.3-2.3l-3.8 7.9zM117.4 570.6l3.8-7.9l-4.3-2l-3.8 7.9zM113.1 568.6l3.8-7.9l-4.4-1.8l-3.8 7.8zM263.1 585.4l3.9-3.3l-4.2-5.9l-3.9 3.2zM267 582.1l3.9-2.8l-4.2-5.9l-3.9 2.8zM270.9 579.3l3.9-2.4l-4.2-5.9l-3.9 2.4z"/>
<path fill="#9e4" stroke="#9e4" d="M108.7 566.7l3.8-7.8l-4.3-1.7l-3.8 7.8zM104.4 565l3.8-7.8l-4.3-1.5l-3.8 7.8zM100.1 563.5l3.8-7.8l-4.3-1.3l-3.8 7.8zM95.8 562.2l3.8-7.8l-4.4-1.1l-3.7 7.7zM279 583l3.9-2.1l-4.2-6.1l-3.9 2.1z"/>
<path fill="#8e4" stroke="#8e4" d="M91.5 561l3.7-7.7l-4.3-0.9l-3.7 7.6z"/>
<path fill="#8e3" stroke="#8e3" d="M87.2 560l3.7-7.6l-4.3-0.8l-3.7 7.7zM82.9 559.3l3.7-7.7l-4.3-0.5l-3.7 7.5z"/>
<path fill="#7d3" stroke="#7d3" d="M78.6 558.6l3.7-7.5l-4.2-0.4l-3.8 7.5zM290.6 578l3.9-0.9l-4.2-6l-3.9 0.9z"/>
<path fill="#6d3" stroke="#6d3" d="M74.3 558.2l3.8-7.5l-4.3-0.3l-3.8 7.5zM70 557.9l3.8-7.5l-4.3 0l-3.7 7.5z"/>
<path fill="#5d2" stroke="#5d2" d="M65.8 557.9l3.7-7.5l-4.2 0.1l-3.8 7.4z"/>
<path fill="#ae6" stroke="#ae6" d="M160.4 589.6l3.8-7.8l-4.4-3.8l-3.8 7.8zM156 585.8l3.8-7.8l-4.3-3.5l-3.8 7.7zM151.7 582.2l3.8-7.7l-4.4-3.3l-3.8 7.7zM147.3 578.9l3.8-7.7l-4.3-3.1l-3.9 7.6zM177.2 594.1l3.9-7.5l-4.4-4.2l-3.8 7.4zM172.9 589.8l3.8-7.4l-4.3-4.1l-3.9 7.4zM168.5 585.7l3.9-7.4l-4.4-3.9l-3.8 7.4zM189.8 595.8l3.8-7.1l-4.3-4.7l-3.9 7.1zM185.4 591.1l3.9-7.1l-4.3-4.4l-3.9 7zM198 593.5l3.9-6.7l-4.4-4.8l-3.9 6.7zM210.5 597l3.9-6.4l-4.3-5.1l-3.9 6.3zM206.2 591.8l3.9-6.3l-4.4-5l-3.8 6.3zM218.7 596l3.9-6l-4.3-5.3l-3.9 5.9zM214.4 590.6l3.9-5.9l-4.3-5.2l-3.9 6zM226.9 595.6l3.9-5.6l-4.3-5.6l-3.9 5.6zM222.6 590l3.9-5.6l-4.3-5.3l-3.9 5.6zM235.1 595.7l3.9-5.2l-4.3-5.7l-3.9 5.2zM230.8 590l3.9-5.2l-4.3-5.5l-3.9 5.1zM239 590.5l3.9-4.9l-4.3-5.6l-3.9 4.8zM247.2 591.5l3.9-4.4l-4.3-5.9l-3.9 4.4zM255.3 593.1l3.9-4.1l-4.2-6l-3.9 4.1zM251.1 587.1l3.9-4.1l-4.3-5.8l-3.9 4zM259.2 589l3.9-3.6l-4.2-6l-3.9 3.6z"/>
<path fill="#be6" stroke="#be6" d="M142.9 575.7l3.9-7.6l-4.4-3l-3.8 7.6zM164.2 581.8l3.8-7.4l-4.3-3.7l-3.9 7.3zM159.8 578l3.9-7.3l-4.4-3.5l-3.8 7.3zM155.5 574.5l3.8-7.3l-4.3-3.3l-3.9 7.3zM181.1 586.6l3.9-7l-4.4-4.3l-3.9 7.1zM176.7 582.4l3.9-7.1l-4.3-4l-3.9 7zM172.4 578.3l3.9-7l-4.4-3.8l-3.9 6.9zM193.6 588.7l3.9-6.7l-4.3-4.6l-3.9 6.6zM189.3 584l3.9-6.6l-4.4-4.4l-3.8 6.6zM201.9 586.8l3.8-6.3l-4.3-4.8l-3.9 6.3zM197.5 582l3.9-6.3l-4.3-4.6l-3.9 6.3zM210.1 585.5l3.9-6l-4.4-4.9l-3.9 5.9zM218.3 584.7l3.9-5.6l-4.3-5.1l-3.9 5.5zM226.5 584.4l3.9-5.1l-4.3-5.3l-3.9 5.1zM234.7 584.8l3.9-4.8l-4.3-5.5l-3.9 4.8zM242.9 585.6l3.9-4.4l-4.3-5.6l-3.9 4.4zM246.8 581.2l3.9-4l-4.3-5.6l-3.9 4zM255 583l3.9-3.6l-4.3-5.8l-3.9 3.6zM250.7 577.2l3.9-3.6l-4.3-5.5l-3.9 3.5z"/>
<path fill="#be5" stroke="#be5" d="M138.6 572.7l3.8-7.6l-4.3-2.7l-3.9 7.5zM134.2 569.9l3.9-7.5l-4.4-2.6l-3.8 7.6zM129.9 567.4l3.8-7.6l-4.3-2.3l-3.9 7.5zM125.5 565l3.9-7.5l-4.4-2.2l-3.8 7.4zM121.2 562.7l3.8-7.4l-4.3-2l-3.8 7.4zM116.9 560.7l3.8-7.4l-4.4-1.8l-3.8 7.4zM258.9 579.4l3.9-3.2l-4.3-5.7l-3.9 3.1zM262.8 576.2l3.9-2.8l-4.3-5.7l-3.9 2.8zM266.7 573.4l3.9-2.4l-4.3-5.7l-3.9 2.4z"/>
<path fill="#be4" stroke="#be4" d="M112.5 558.9l3.8-7.4l-4.3-1.6l-3.8 7.3zM108.2 557.2l3.8-7.3l-4.3-1.5l-3.8 7.3zM103.9 555.7l3.8-7.3l-4.4-1.2l-3.7 7.2z"/>
<path fill="#ae4" stroke="#ae4" d="M99.6 554.4l3.7-7.2l-4.3-1.1l-3.8 7.2zM95.2 553.3l3.8-7.2l-4.3-0.9l-3.8 7.2zM274.8 576.9l3.9-2.1l-4.3-5.8l-3.8 2z"/>
<path fill="#ae3" stroke="#ae3" d="M90.9 552.4l3.8-7.2l-4.3-0.7l-3.8 7.1z"/>
<path fill="#9d3" stroke="#9d3" d="M86.6 551.6l3.8-7.1l-4.3-0.6l-3.8 7.2zM282.5 573.2l3.9-1.2l-4.2-5.8l-3.9 1.2zM282.2 566.2l3.9-0.8l-4.3-5.6l-3.8 0.8z"/>
<path fill="#8d3" stroke="#8d3" d="M82.3 551.1l3.8-7.2l-4.3-0.4l-3.7 7.2zM78.1 550.7l3.7-7.2l-4.2-0.2l-3.8 7.1zM286.8 579.2l3.8-1.2l-4.2-6l-3.9 1.2zM286.4 572l3.9-0.9l-4.2-5.7l-3.9 0.8z"/>
<path fill="#7d2" stroke="#7d2" d="M73.8 550.4l3.8-7.1l-4.3 0l-3.8 7.1z"/>
<path fill="#6d2" stroke="#6d2" d="M69.5 550.4l3.8-7.1l-4.3 0.1l-3.7 7.1z"/>
<path fill="#ce6" stroke="#ce6" d="M151.1 571.2l3.9-7.3l-4.4-3.1l-3.8 7.3zM146.8 568.1l3.8-7.3l-4.3-2.9l-3.9 7.2zM168 574.4l3.9-6.9l-4.3-3.7l-3.9 6.9zM163.7 570.7l3.9-6.9l-4.4-3.4l-3.9 6.8zM159.3 567.2l3.9-6.8l-4.4-3.3l-3.8 6.8zM185 579.6l3.8-6.6l-4.3-4.2l-3.9 6.5zM180.6 575.3l3.9-6.5l-4.4-4.1l-3.8 6.6zM176.3 571.3l3.8-6.6l-4.3-3.8l-3.9 6.6zM193.2 577.4l3.9-6.3l-4.4-4.3l-3.9 6.2zM188.8 573l3.9-6.2l-4.3-4.2l-3.9 6.2zM205.7 580.5l3.9-5.9l-4.3-4.8l-3.9 5.9zM201.4 575.7l3.9-5.9l-4.3-4.5l-3.9 5.8zM214 579.5l3.9-5.5l-4.4-4.9l-3.9 5.5zM209.6 574.6l3.9-5.5l-4.3-4.7l-3.9 5.4zM222.2 579.1l3.9-5.1l-4.3-5.1l-3.9 5.1zM230.4 579.3l3.9-4.8l-4.3-5.2l-3.9 4.7zM226.1 574l3.9-4.7l-4.3-5.1l-3.9 4.7zM238.6 580l3.9-4.4l-4.3-5.4l-3.9 4.3zM234.3 574.5l3.9-4.3l-4.3-5.2l-3.9 4.3zM242.5 575.6l3.9-4l-4.3-5.3l-3.9 3.9zM246.4 571.6l3.9-3.5l-4.2-5.4l-4 3.6z"/>
<path fill="#ce5" stroke="#ce5" d="M142.4 565.1l3.9-7.2l-4.4-2.7l-3.8 7.2zM138.1 562.4l3.8-7.2l-4.4-2.5l-3.8 7.1zM133.7 559.8l3.8-7.1l-4.3-2.3l-3.8 7.1zM129.4 557.5l3.8-7.1l-4.4-2.2l-3.8 7.1zM125 555.3l3.8-7.1l-4.3-1.9l-3.8 7zM120.7 553.3l3.8-7l-4.3-1.8l-3.9 7zM254.6 573.6l3.9-3.1l-4.3-5.5l-3.9 3.1zM258.5 570.5l3.9-2.8l-4.2-5.5l-4 2.8zM262.4 567.7l3.9-2.4l-4.2-5.4l-3.9 2.3z"/>
<path fill="#ce4" stroke="#ce4" d="M116.3 551.5l3.9-7l-4.4-1.6l-3.8 7zM112 549.9l3.8-7l-4.3-1.4l-3.8 6.9zM107.7 548.4l3.8-6.9l-4.3-1.2l-3.9 6.9zM103.3 547.2l3.9-6.9l-4.4-1.1l-3.8 6.9z"/>
<path fill="#be3" stroke="#be3" d="M99 546.1l3.8-6.9l-4.3-0.8l-3.8 6.8z"/>
<path fill="#bd3" stroke="#bd3" d="M94.7 545.2l3.8-6.8l-4.3-0.7l-3.8 6.8zM89.9 537.2l3.8-6.4l-4.3-0.3l-3.8 6.3zM274.1 561.8l3.9-1.2l-4.3-5.4l-3.8 1.2zM269.9 556.4l3.8-1.2l-4.2-5.1l-3.9 1.1z"/>
<path fill="#ad3" stroke="#ad3" d="M90.4 544.5l3.8-6.8l-4.3-0.5l-3.8 6.7zM86.1 543.9l3.8-6.7l-4.3-0.4l-3.8 6.7zM278.3 567.4l3.9-1.2l-4.2-5.6l-3.9 1.2z"/>
<path fill="#9d2" stroke="#9d2" d="M81.8 543.5l3.8-6.7l-4.3-0.2l-3.7 6.7zM77.6 543.3l3.7-6.7l-4.2 0l-3.8 6.7z"/>
<path fill="#8d2" stroke="#8d2" d="M73.3 543.3l3.8-6.7l-4.3 0.2l-3.8 6.6z"/>
<path fill="#de6" stroke="#de6" d="M155 563.9l3.8-6.8l-4.3-3l-3.9 6.7zM171.9 567.5l3.9-6.6l-4.4-3.6l-3.8 6.5zM167.6 563.8l3.8-6.5l-4.3-3.4l-3.9 6.5zM184.5 568.8l3.9-6.2l-4.4-4l-3.9 6.1zM180.1 564.7l3.9-6.1l-4.3-3.8l-3.9 6.1zM197.1 571.1l3.9-5.8l-4.4-4.3l-3.9 5.8zM192.7 566.8l3.9-5.8l-4.3-4.2l-3.9 5.8zM205.3 569.8l3.9-5.4l-4.3-4.5l-3.9 5.4zM217.9 574l3.9-5.1l-4.3-4.9l-4 5.1zM213.5 569.1l4-5.1l-4.4-4.6l-3.9 5zM221.8 568.9l3.9-4.7l-4.3-4.8l-3.9 4.6zM230 569.3l3.9-4.3l-4.3-5l-3.9 4.2zM238.2 570.2l3.9-3.9l-4.3-5.2l-3.9 3.9zM233.9 565l3.9-3.9l-4.3-5l-3.9 3.9zM242.1 566.3l4-3.6l-4.3-5.1l-4 3.5z"/>
<path fill="#de5" stroke="#de5" d="M150.6 560.8l3.9-6.7l-4.4-2.9l-3.8 6.7zM146.3 557.9l3.8-6.7l-4.3-2.7l-3.9 6.7zM141.9 555.2l3.9-6.7l-4.4-2.5l-3.9 6.7zM250.3 568.1l3.9-3.1l-4.2-5.4l-3.9 3.1zM246.1 562.7l3.9-3.1l-4.3-5.1l-3.9 3.1zM254.2 565l4-2.8l-4.3-5.3l-3.9 2.7zM250 559.6l3.9-2.7l-4.3-5l-3.9 2.6zM258.2 562.2l3.9-2.3l-4.3-5.3l-3.9 2.3z"/>
<path fill="#ee5" stroke="#ee5" d="M137.5 552.7l3.9-6.7l-4.3-2.3l-3.9 6.7zM133.2 550.4l3.9-6.7l-4.4-2.1l-3.9 6.6zM128.8 548.2l3.9-6.6l-4.3-1.9l-3.9 6.6zM154.5 554.1l3.9-6.4l-4.4-2.9l-3.9 6.4z"/>
<path fill="#ee4" stroke="#ee4" d="M124.5 546.3l3.9-6.6l-4.4-1.7l-3.8 6.5zM120.2 544.5l3.8-6.5l-4.3-1.6l-3.9 6.5z"/>
<path fill="#de4" stroke="#de4" d="M115.8 542.9l3.9-6.5l-4.4-1.4l-3.8 6.5zM111.5 541.5l3.8-6.5l-4.3-1.2l-3.8 6.5z"/>
<path fill="#dd4" stroke="#dd4" d="M107.2 540.3l3.8-6.5l-4.3-1l-3.9 6.4zM115.3 535l3.9-6.1l-4.3-1.1l-3.9 6zM253.9 556.9l3.9-2.3l-4.3-5l-3.9 2.3zM249.6 551.9l3.9-2.3l-4.3-4.9l-3.9 2.3zM257.8 554.6l3.9-1.9l-4.3-5l-3.9 1.9z"/>
<path fill="#dd3" stroke="#dd3" d="M102.8 539.2l3.9-6.4l-4.3-0.8l-3.9 6.4zM111 533.8l3.9-6l-4.4-1l-3.8 6zM106.7 532.8l3.8-6l-4.3-0.8l-3.8 6zM102.4 532l3.8-6l-4.3-0.7l-3.9 6zM98 531.3l3.9-6l-4.3-0.4l-3.9 5.9zM261.7 552.7l3.9-1.5l-4.3-5l-3.9 1.5z"/>
<path fill="#cd3" stroke="#cd3" d="M98.5 538.4l3.9-6.4l-4.4-0.7l-3.8 6.4zM94.2 537.7l3.8-6.4l-4.3-0.5l-3.8 6.4zM266 557.9l3.9-1.5l-4.3-5.2l-3.9 1.5zM265.6 551.2l3.9-1.1l-4.3-5l-3.9 1.1z"/>
<path fill="#bd2" stroke="#bd2" d="M85.6 536.8l3.8-6.3l-4.2-0.2l-3.9 6.3z"/>
<path fill="#ad2" stroke="#ad2" d="M81.3 536.6l3.9-6.3l-4.3 0.1l-3.8 6.2z"/>
<path fill="#9c2" stroke="#9c2" d="M77.1 536.6l3.8-6.2l-4.3 0.2l-3.8 6.2zM281.8 559.8l3.9-0.4l-4.2-5.3l-3.9 0.4z"/>
<path fill="#ee6" stroke="#ee6" d="M163.2 560.4l3.9-6.5l-4.4-3.2l-3.9 6.4zM158.8 557.1l3.9-6.4l-4.3-3l-3.9 6.4zM175.8 560.9l3.9-6.1l-4.4-3.5l-3.9 6zM188.4 562.6l3.9-5.8l-4.4-3.9l-3.9 5.7zM201 565.3l3.9-5.4l-4.4-4.3l-3.9 5.4zM196.6 561l3.9-5.4l-4.3-4.1l-3.9 5.3zM209.2 564.4l3.9-5l-4.3-4.5l-3.9 5zM217.5 564l3.9-4.6l-4.3-4.6l-4 4.6zM225.7 564.2l3.9-4.2l-4.3-4.8l-3.9 4.2zM229.6 560l3.9-3.9l-4.3-4.8l-3.9 3.9zM237.8 561.1l4-3.5l-4.3-4.9l-4 3.4z"/>
<path fill="#ed5" stroke="#ed5" d="M150.1 551.2l3.9-6.4l-4.4-2.6l-3.8 6.3zM145.8 548.5l3.8-6.3l-4.3-2.4l-3.9 6.2zM141.4 546l3.9-6.2l-4.4-2.3l-3.8 6.2zM137.1 543.7l3.8-6.2l-4.3-2.1l-3.9 6.2zM132.7 541.6l3.9-6.2l-4.4-1.9l-3.8 6.2zM158.4 547.7l3.8-6l-4.3-2.8l-3.9 5.9zM233.5 556.1l4-3.4l-4.3-4.8l-4 3.4zM241.8 557.6l3.9-3.1l-4.3-4.9l-3.9 3.1zM237.5 552.7l3.9-3.1l-4.3-4.7l-3.9 3zM245.7 554.5l3.9-2.6l-4.3-4.9l-3.9 2.6z"/>
<path fill="#ed4" stroke="#ed4" d="M128.4 539.7l3.8-6.2l-4.3-1.7l-3.9 6.2zM124 538l3.9-6.2l-4.4-1.5l-3.8 6.1z"/>
<path fill="#ec4" stroke="#ec4" d="M119.7 536.4l3.8-6.1l-4.3-1.4l-3.9 6.1z"/>
<path fill="#cd2" stroke="#cd2" d="M93.7 530.8l3.9-5.9l-4.3-0.3l-3.9 5.9zM89.4 530.5l3.9-5.9l-4.3-0.1l-3.8 5.8z"/>
<path fill="#bc2" stroke="#bc2" d="M85.2 530.3l3.8-5.8l-4.3 0l-3.8 5.9zM273.7 555.2l3.9-0.7l-4.2-5.2l-3.9 0.8zM273.4 549.3l3.9-0.3l-4.3-4.9l-3.9 0.3z"/>
<path fill="#ac2" stroke="#ac2" d="M80.9 530.4l3.8-5.9l-4.3 0.2l-3.8 5.9zM278 560.6l3.8-0.8l-4.2-5.3l-3.9 0.7zM277.6 554.5l3.9-0.4l-4.2-5.1l-3.9 0.3z"/>
<path fill="#ed6" stroke="#ed6" d="M171.4 557.3l3.9-6l-4.3-3.4l-3.9 6zM167.1 553.9l3.9-6l-4.4-3.2l-3.9 6zM162.7 550.7l3.9-6l-4.4-3l-3.8 6zM184 558.6l3.9-5.7l-4.3-3.7l-3.9 5.6zM179.7 554.8l3.9-5.6l-4.4-3.6l-3.9 5.7zM175.3 551.3l3.9-5.7l-4.3-3.3l-3.9 5.6zM192.3 556.8l3.9-5.3l-4.4-3.9l-3.9 5.3zM187.9 552.9l3.9-5.3l-4.3-3.7l-3.9 5.3zM204.9 559.9l3.9-5l-4.3-4.3l-4 5zM200.5 555.6l4-5l-4.4-4l-3.9 4.9zM213.1 559.4l4-4.6l-4.4-4.5l-3.9 4.6zM208.8 554.9l3.9-4.6l-4.3-4.2l-3.9 4.5zM221.4 559.4l3.9-4.2l-4.3-4.6l-3.9 4.2zM217.1 554.8l3.9-4.2l-4.3-4.4l-4 4.1zM225.3 555.2l3.9-3.9l-4.3-4.5l-3.9 3.8z"/>
<path fill="#ec5" stroke="#ec5" d="M154 544.8l3.9-5.9l-4.4-2.6l-3.9 5.9zM149.6 542.2l3.9-5.9l-4.3-2.4l-3.9 5.9zM145.3 539.8l3.9-5.9l-4.4-2.2l-3.9 5.8zM140.9 537.5l3.9-5.8l-4.3-2.1l-3.9 5.8zM166.6 544.7l3.9-5.6l-4.4-2.9l-3.9 5.5zM162.2 541.7l3.9-5.5l-4.3-2.8l-3.9 5.5zM229.2 551.3l4-3.4l-4.4-4.5l-3.9 3.4zM224.9 546.8l3.9-3.4l-4.3-4.3l-3.9 3.3zM233.2 547.9l3.9-3l-4.3-4.5l-4 3zM241.4 549.6l3.9-2.6l-4.3-4.7l-3.9 2.6z"/>
<path fill="#eb4" stroke="#eb4" d="M136.6 535.4l3.9-5.8l-4.4-1.8l-3.9 5.7zM132.2 533.5l3.9-5.7l-4.3-1.7l-3.9 5.7z"/>
<path fill="#db4" stroke="#db4" d="M127.9 531.8l3.9-5.7l-4.4-1.5l-3.9 5.7zM123.5 530.3l3.9-5.7l-4.3-1.3l-3.9 5.6zM232.8 540.4l3.9-2.6l-4.3-4.2l-3.9 2.5zM241 542.3l3.9-2.2l-4.3-4.5l-3.9 2.2zM249.2 544.7l4-1.8l-4.3-4.6l-4 1.8zM244.9 540.1l4-1.8l-4.3-4.5l-4 1.8z"/>
<path fill="#db3" stroke="#db3" d="M119.2 528.9l3.9-5.6l-4.4-1.2l-3.8 5.7zM114.9 527.8l3.8-5.7l-4.3-0.9l-3.9 5.6zM110.5 526.8l3.9-5.6l-4.3-0.8l-3.9 5.6zM106.2 526l3.9-5.6l-4.3-0.6l-3.9 5.5zM253.2 542.9l3.9-1.5l-4.3-4.6l-3.9 1.5z"/>
<path fill="#dc2" stroke="#dc2" d="M101.9 525.3l3.9-5.5l-4.3-0.5l-3.9 5.6zM97.6 524.9l3.9-5.6l-4.4-0.2l-3.8 5.5z"/>
<path fill="#cc2" stroke="#cc2" d="M93.3 524.6l3.8-5.5l-4.2-0.1l-3.9 5.5zM89 524.5l3.9-5.5l-4.3 0.1l-3.9 5.4zM269.5 550.1l3.9-0.8l-4.3-4.9l-3.9 0.7zM265.2 545.1l3.9-0.7l-4.2-4.7l-3.9 0.6z"/>
<path fill="#bc1" stroke="#bc1" d="M84.7 524.5l3.9-5.4l-4.3 0.2l-3.9 5.4z"/>
<path fill="#ec6" stroke="#ec6" d="M171 547.9l3.9-5.6l-4.4-3.2l-3.9 5.6zM183.6 549.2l3.9-5.3l-4.4-3.5l-3.9 5.2zM179.2 545.6l3.9-5.2l-4.3-3.3l-3.9 5.2zM196.2 551.5l3.9-4.9l-4.3-3.9l-4 4.9zM191.8 547.6l4-4.9l-4.4-3.6l-3.9 4.8zM204.5 550.6l3.9-4.5l-4.4-4l-3.9 4.5zM200.1 546.6l3.9-4.5l-4.3-3.9l-3.9 4.5zM212.7 550.3l4-4.1l-4.4-4.2l-3.9 4.1zM208.4 546.1l3.9-4.1l-4.3-4l-4 4.1zM221 550.6l3.9-3.8l-4.3-4.4l-3.9 3.8zM216.7 546.2l3.9-3.8l-4.3-4.1l-4 3.7z"/>
<path fill="#eb5" stroke="#eb5" d="M157.9 538.9l3.9-5.5l-4.4-2.6l-3.9 5.5zM153.5 536.3l3.9-5.5l-4.3-2.4l-3.9 5.5zM149.2 533.9l3.9-5.5l-4.4-2.2l-3.9 5.5zM170.5 539.1l3.9-5.1l-4.3-3l-4 5.2zM166.1 536.2l4-5.2l-4.4-2.7l-3.9 5.1zM178.8 537.1l3.9-4.8l-4.3-3.1l-4 4.8zM212.3 542l4-3.7l-4.4-4l-3.9 3.7zM220.6 542.4l3.9-3.3l-4.3-4.2l-3.9 3.4zM228.8 543.4l4-3l-4.3-4.3l-4 3z"/>
<path fill="#ea5" stroke="#ea5" d="M144.8 531.7l3.9-5.5l-4.3-2l-3.9 5.4zM161.8 533.4l3.9-5.1l-4.4-2.5l-3.9 5zM157.4 530.8l3.9-5l-4.3-2.4l-3.9 5zM153.1 528.4l3.9-5l-4.4-2.2l-3.9 5zM174.4 534l4-4.8l-4.4-2.9l-3.9 4.7zM170.1 531l3.9-4.7l-4.4-2.7l-3.9 4.7zM187.1 535.6l3.9-4.4l-4.4-3.3l-3.9 4.4zM182.7 532.3l3.9-4.4l-4.3-3l-3.9 4.3zM199.7 538.2l3.9-4l-4.3-3.6l-3.9 4zM195.4 534.6l3.9-4l-4.4-3.4l-3.9 4zM208 538l3.9-3.7l-4.3-3.8l-4 3.7zM203.6 534.2l4-3.7l-4.4-3.6l-3.9 3.7zM216.3 538.3l3.9-3.4l-4.3-3.9l-4 3.3z"/>
<path fill="#ea4" stroke="#ea4" d="M140.5 529.6l3.9-5.4l-4.4-1.8l-3.9 5.4z"/>
<path fill="#da4" stroke="#da4" d="M136.1 527.8l3.9-5.4l-4.3-1.7l-3.9 5.4zM131.8 526.1l3.9-5.4l-4.4-1.4l-3.9 5.3zM127.4 524.6l3.9-5.3l-4.3-1.3l-3.9 5.3zM228.5 536.1l3.9-2.5l-4.3-4.1l-4 2.5zM236.7 537.8l3.9-2.2l-4.3-4.2l-3.9 2.2z"/>
<path fill="#da3" stroke="#da3" d="M123.1 523.3l3.9-5.3l-4.4-1.1l-3.9 5.2zM118.7 522.1l3.9-5.2l-4.3-0.9l-3.9 5.2zM114.4 521.2l3.9-5.2l-4.3-0.8l-3.9 5.2zM110.1 520.4l3.9-5.2l-4.4-0.6l-3.8 5.2zM240.6 535.6l4-1.8l-4.3-4.2l-4 1.8zM248.9 538.3l3.9-1.5l-4.3-4.4l-3.9 1.4z"/>
<path fill="#ca2" stroke="#ca2" d="M105.8 519.8l3.8-5.2l-4.3-0.4l-3.8 5.1zM101.5 519.3l3.8-5.1l-4.3-0.2l-3.9 5.1zM252.8 536.8l3.9-1l-4.3-4.4l-3.9 1zM256.7 535.8l3.9-0.7l-4.3-4.3l-3.9 0.6z"/>
<path fill="#cb2" stroke="#cb2" d="M97.1 519.1l3.9-5.1l-4.3-0.1l-3.8 5.1zM261 540.3l3.9-0.6l-4.3-4.6l-3.9 0.7z"/>
<path fill="#cb1" stroke="#cb1" d="M92.9 519l3.8-5.1l-4.3 0.1l-3.8 5.1zM88.6 519.1l3.8-5.1l-4.2 0.3l-3.9 5z"/>
<path fill="#eb6" stroke="#eb6" d="M174.9 542.3l3.9-5.2l-4.4-3.1l-3.9 5.1zM187.5 543.9l3.9-4.8l-4.3-3.5l-4 4.8zM183.1 540.4l4-4.8l-4.4-3.3l-3.9 4.8zM195.8 542.7l3.9-4.5l-4.3-3.6l-4 4.5zM191.4 539.1l4-4.5l-4.4-3.4l-3.9 4.4zM204 542.1l4-4.1l-4.4-3.8l-3.9 4z"/>
<path fill="#d94" stroke="#d94" d="M148.7 526.2l3.9-5l-4.3-1.9l-3.9 4.9zM144.4 524.2l3.9-4.9l-4.4-1.9l-3.9 5zM140 522.4l3.9-5l-4.3-1.6l-3.9 4.9zM135.7 520.7l3.9-4.9l-4.4-1.4l-3.9 4.9zM157 523.4l3.9-4.6l-4.3-2.2l-4 4.6zM215.9 531l3.9-2.9l-4.3-3.7l-4 2.9zM224.1 532l4-2.5l-4.3-3.9l-4 2.5zM232.4 533.6l3.9-2.2l-4.3-4.1l-3.9 2.2zM228.1 529.5l3.9-2.2l-4.3-3.8l-3.9 2.1z"/>
<path fill="#d93" stroke="#d93" d="M131.3 519.3l3.9-4.9l-4.3-1.3l-3.9 4.9zM127 518l3.9-4.9l-4.4-1.1l-3.9 4.9zM122.6 516.9l3.9-4.9l-4.3-0.9l-3.9 4.9zM236.3 531.4l4-1.8l-4.3-4l-4 1.7z"/>
<path fill="#c93" stroke="#c93" d="M118.3 516l3.9-4.9l-4.3-0.7l-3.9 4.8zM244.6 533.8l3.9-1.4l-4.3-4.2l-3.9 1.4z"/>
<path fill="#c92" stroke="#c92" d="M114 515.2l3.9-4.8l-4.4-0.6l-3.9 4.8zM109.6 514.6l3.9-4.8l-4.3-0.3l-3.9 4.7zM105.3 514.2l3.9-4.7l-4.3-0.2l-3.9 4.7zM248.5 532.4l3.9-1l-4.3-4.2l-3.9 1z"/>
<path fill="#c91" stroke="#c91" d="M101 514l3.9-4.7l-4.3-0.1l-3.9 4.7z"/>
<path fill="#ba1" stroke="#ba1" d="M96.7 513.9l3.9-4.7l-4.3 0.1l-3.9 4.7zM92.4 514l3.9-4.7l-4.2 0.3l-3.9 4.7zM264.9 539.7l3.9-0.3l-4.3-4.6l-3.9 0.3zM268.8 539.4l3.9 0l-4.3-4.5l-3.9-0.1z"/>
<path fill="#e95" stroke="#e95" d="M165.7 528.3l3.9-4.7l-4.3-2.5l-4 4.7zM178.4 529.2l3.9-4.3l-4.4-2.9l-3.9 4.3zM174 526.3l3.9-4.3l-4.3-2.7l-4 4.3zM191 531.2l3.9-4l-4.3-3.3l-4 4zM186.6 527.9l4-4l-4.4-3l-3.9 4zM199.3 530.6l3.9-3.7l-4.3-3.3l-4 3.6z"/>
<path fill="#d95" stroke="#d95" d="M161.3 525.8l4-4.7l-4.4-2.3l-3.9 4.6zM194.9 527.2l4-3.6l-4.4-3.2l-3.9 3.5zM207.6 530.5l3.9-3.2l-4.3-3.6l-4 3.2z"/>
<path fill="#d84" stroke="#d84" d="M152.6 521.2l4-4.6l-4.4-1.9l-3.9 4.6zM148.3 519.3l3.9-4.6l-4.4-1.8l-3.9 4.5zM143.9 517.4l3.9-4.5l-4.3-1.6l-3.9 4.5zM165.3 521.1l3.9-4.3l-4.3-2.3l-4 4.3zM160.9 518.8l4-4.3l-4.4-2.1l-3.9 4.2zM177.9 522l4-3.9l-4.4-2.7l-3.9 3.9zM173.6 519.3l3.9-3.9l-4.3-2.4l-4 3.8zM186.2 520.9l4-3.5l-4.4-2.8l-3.9 3.5zM198.9 523.6l3.9-3.2l-4.3-3.2l-4 3.2zM211.5 527.3l4-2.9l-4.4-3.5l-3.9 2.8zM207.2 523.7l3.9-2.8l-4.3-3.4l-4 2.9zM219.8 528.1l4-2.5l-4.4-3.7l-3.9 2.5zM215.5 524.4l3.9-2.5l-4.3-3.5l-4 2.5z"/>
<path fill="#d83" stroke="#d83" d="M139.6 515.8l3.9-4.5l-4.4-1.4l-3.9 4.5zM135.2 514.4l3.9-4.5l-4.3-1.2l-3.9 4.4zM130.9 513.1l3.9-4.4l-4.3-1.1l-4 4.4zM223.8 525.6l3.9-2.1l-4.3-3.7l-4 2.1z"/>
<path fill="#c73" stroke="#c73" d="M126.5 512l4-4.4l-4.4-0.9l-3.9 4.4zM139.1 509.9l4-4.1l-4.4-1.2l-3.9 4.1zM215.1 518.4l4-2l-4.4-3.3l-3.9 2zM227.7 523.5l4-1.7l-4.4-3.7l-3.9 1.7zM223.4 519.8l3.9-1.7l-4.3-3.4l-3.9 1.7z"/>
<path fill="#c72" stroke="#c72" d="M122.2 511.1l3.9-4.4l-4.3-0.7l-3.9 4.4zM231.7 521.8l3.9-1.4l-4.3-3.6l-4 1.3zM239.9 524.2l3.9-0.9l-4.3-3.8l-3.9 0.9z"/>
<path fill="#c82" stroke="#c82" d="M117.9 510.4l3.9-4.4l-4.3-0.5l-4 4.3zM113.5 509.8l4-4.3l-4.4-0.4l-3.9 4.4zM244.2 528.2l3.9-1l-4.3-3.9l-3.9 0.9z"/>
<path fill="#b81" stroke="#b81" d="M109.2 509.5l3.9-4.4l-4.3-0.2l-3.9 4.4zM104.9 509.3l3.9-4.4l-4.3 0l-3.9 4.3zM100.6 509.2l3.9-4.3l-4.3 0.2l-3.9 4.2zM256.3 530.8l3.9-0.3l-4.2-4.1l-3.9 0.2z"/>
<path fill="#b91" stroke="#b91" d="M96.3 509.3l3.9-4.2l-4.2 0.3l-3.9 4.2zM260.6 535.1l3.9-0.3l-4.3-4.3l-3.9 0.3z"/>
<path fill="#d85" stroke="#d85" d="M169.6 523.6l4-4.3l-4.4-2.5l-3.9 4.3zM182.3 524.9l3.9-4l-4.3-2.8l-4 3.9zM190.6 523.9l3.9-3.5l-4.3-3l-4 3.5zM203.2 526.9l4-3.2l-4.4-3.3l-3.9 3.2z"/>
<path fill="#d74" stroke="#d74" d="M156.6 516.6l3.9-4.2l-4.4-1.9l-3.9 4.2zM152.2 514.7l3.9-4.2l-4.3-1.8l-4 4.2zM169.2 516.8l4-3.8l-4.4-2.3l-3.9 3.8zM164.9 514.5l3.9-3.8l-4.4-2.1l-3.9 3.8zM181.9 518.1l3.9-3.5l-4.3-2.7l-4 3.5zM177.5 515.4l4-3.5l-4.4-2.4l-3.9 3.5zM194.5 520.4l4-3.2l-4.4-3l-3.9 3.2zM190.2 517.4l3.9-3.2l-4.3-2.8l-4 3.2zM202.8 520.4l4-2.9l-4.3-3.1l-4 2.8zM198.5 517.2l4-2.8l-4.4-2.9l-4 2.7zM211.1 520.9l4-2.5l-4.3-3.3l-4 2.4z"/>
<path fill="#d73" stroke="#d73" d="M147.8 512.9l4-4.2l-4.4-1.5l-3.9 4.1zM143.5 511.3l3.9-4.1l-4.3-1.4l-4 4.1zM206.8 517.5l4-2.4l-4.4-3.1l-3.9 2.4zM219.4 521.9l4-2.1l-4.3-3.4l-4 2z"/>
<path fill="#c63" stroke="#c63" d="M134.8 508.7l3.9-4.1l-4.3-1l-3.9 4zM151.8 508.7l3.9-3.7l-4.3-1.5l-4 3.7zM147.4 507.2l4-3.7l-4.4-1.4l-3.9 3.7zM164.4 508.6l4-3.4l-4.4-1.9l-3.9 3.4zM189.8 511.4l4-2.7l-4.4-2.6l-4 2.8zM202.5 514.4l3.9-2.4l-4.3-2.9l-4 2.4zM210.8 515.1l3.9-2l-4.3-3.1l-4 2zM219.1 516.4l3.9-1.7l-4.3-3.2l-4 1.6z"/>
<path fill="#c62" stroke="#c62" d="M130.5 507.6l3.9-4l-4.3-0.9l-4 4zM126.1 506.7l4-4l-4.4-0.7l-3.9 4zM121.8 506l3.9-4l-4.3-0.5l-3.9 4zM143.1 505.8l3.9-3.7l-4.3-1.2l-4 3.7zM227.3 518.1l4-1.3l-4.3-3.4l-4 1.3z"/>
<path fill="#b61" stroke="#b61" d="M117.5 505.5l3.9-4l-4.3-0.3l-4 3.9zM121.4 501.5l3.9-3.6l-4.3-0.3l-3.9 3.6zM239.5 519.5l4-0.6l-4.3-3.5l-4 0.5z"/>
<path fill="#b71" stroke="#b71" d="M113.1 505.1l4-3.9l-4.3-0.2l-4 3.9zM108.8 504.9l4-3.9l-4.3 0l-4 3.9zM243.8 523.3l4-0.6l-4.3-3.8l-4 0.6z"/>
<path fill="#a71" stroke="#a71" d="M104.5 504.9l4-3.9l-4.3 0.2l-4 3.9zM100.2 505.1l4-3.9l-4.3 0.3l-3.9 3.9zM247.8 522.7l3.9-0.2l-4.3-3.8l-3.9 0.2z"/>
<path fill="#d64" stroke="#d64" d="M160.5 512.4l3.9-3.8l-4.3-1.9l-4 3.8zM173.2 513l3.9-3.5l-4.3-2.2l-4 3.4zM185.8 514.6l4-3.2l-4.4-2.5l-3.9 3zM181.5 511.9l3.9-3l-4.3-2.5l-4 3.1zM194.1 514.2l4-2.7l-4.3-2.8l-4 2.7z"/>
<path fill="#d63" stroke="#d63" d="M156.1 510.5l4-3.8l-4.4-1.7l-3.9 3.7zM168.8 510.7l4-3.4l-4.4-2.1l-4 3.4z"/>
<path fill="#c52" stroke="#c52" d="M138.7 504.6l4-3.7l-4.4-1l-3.9 3.7zM134.4 503.6l3.9-3.7l-4.3-0.8l-3.9 3.6zM151.4 503.5l3.9-3.4l-4.3-1.3l-4 3.3zM147 502.1l4-3.3l-4.4-1.2l-3.9 3.3zM202.1 509.1l3.9-2l-4.3-2.7l-4 2zM214.7 513.1l4-1.6l-4.4-3.1l-3.9 1.6zM210.4 510l3.9-1.6l-4.3-2.9l-4 1.6z"/>
<path fill="#b52" stroke="#b52" d="M130.1 502.7l3.9-3.6l-4.3-0.7l-4 3.6zM142.7 500.9l3.9-3.3l-4.3-1l-4 3.3zM223 514.7l4-1.3l-4.4-3.2l-3.9 1.3zM218.7 511.5l3.9-1.3l-4.3-3l-4 1.2z"/>
<path fill="#b51" stroke="#b51" d="M125.7 502l4-3.6l-4.4-0.5l-3.9 3.6zM227 513.4l3.9-0.9l-4.3-3.2l-4 0.9z"/>
<path fill="#a61" stroke="#a61" d="M117.1 501.2l3.9-3.6l-4.3-0.1l-3.9 3.5zM112.8 501l3.9-3.5l-4.3 0l-3.9 3.5zM243.5 518.9l3.9-0.2l-4.3-3.5l-3.9 0.2z"/>
<path fill="#961" stroke="#961" d="M108.5 501l3.9-3.5l-4.3 0.2l-3.9 3.5zM104.2 501.2l3.9-3.5l-4.3 0.3l-3.9 3.5zM251.7 522.5l3.9 0.1l-4.3-3.7l-3.9-0.2zM247.4 518.7l3.9 0.2l-4.3-3.5l-3.9-0.2z"/>
<path fill="#c53" stroke="#c53" d="M160.1 506.7l3.9-3.4l-4.3-1.7l-4 3.4zM155.7 505l4-3.4l-4.4-1.5l-3.9 3.4zM177.1 509.5l4-3.1l-4.4-2.2l-3.9 3.1zM172.8 507.3l3.9-3.1l-4.3-2l-4 3zM168.4 505.2l4-3l-4.4-1.9l-4 3zM185.4 508.9l4-2.8l-4.4-2.3l-3.9 2.6zM181.1 506.4l3.9-2.6l-4.3-2.2l-4 2.6zM198.1 511.5l4-2.4l-4.4-2.7l-3.9 2.3zM193.8 508.7l3.9-2.3l-4.3-2.6l-4 2.3zM206.4 512l4-2l-4.4-2.9l-3.9 2z"/>
<path fill="#b42" stroke="#b42" d="M138.3 499.9l4-3.3l-4.3-0.8l-4 3.3zM155.3 500.1l4-2.9l-4.3-1.3l-4 2.9zM151 498.8l4-2.9l-4.4-1.2l-4 2.9zM168 500.3l4-2.6l-4.4-1.6l-3.9 2.6zM180.7 501.6l4-2.3l-4.4-2l-4 2.3zM193.4 503.8l3.9-1.9l-4.3-2.3l-4 1.9zM206 507.1l4-1.6l-4.3-2.7l-4 1.6zM201.7 504.4l4-1.6l-4.4-2.4l-4 1.5zM214.3 508.4l4-1.2l-4.3-2.9l-4 1.2z"/>
<path fill="#b41" stroke="#b41" d="M134 499.1l4-3.3l-4.4-0.6l-3.9 3.2zM146.6 497.6l4-2.9l-4.3-1l-4 2.9zM210 505.5l4-1.2l-4.4-2.6l-3.9 1.1z"/>
<path fill="#a51" stroke="#a51" d="M129.7 498.4l3.9-3.2l-4.3-0.5l-4 3.2zM125.3 497.9l4-3.2l-4.3-0.3l-4 3.2zM121 497.6l4-3.2l-4.3-0.1l-4 3.2zM235.2 515.9l4-0.5l-4.4-3.4l-3.9 0.5zM230.9 512.5l3.9-0.5l-4.3-3.2l-3.9 0.5z"/>
<path fill="#951" stroke="#951" d="M116.7 497.5l4-3.2l-4.3 0l-4 3.2zM239.2 515.4l3.9-0.2l-4.3-3.3l-4 0.1zM234.8 512l4-0.1l-4.3-3.2l-4 0.1z"/>
<path fill="#851" stroke="#851" d="M112.4 497.5l4-3.2l-4.3 0.2l-4 3.2zM108.1 497.7l4-3.2l-4.3 0.4l-4 3.1zM243.1 515.2l3.9 0.2l-4.3-3.3l-3.9-0.2z"/>
<path fill="#da5" stroke="#da5" d="M211.9 534.3l4-3.3l-4.4-3.7l-3.9 3.2zM224.5 539.1l4-3l-4.4-4.1l-3.9 2.9zM220.2 534.9l3.9-2.9l-4.3-3.9l-3.9 2.9z"/>
<path fill="#c42" stroke="#c42" d="M164 503.3l4-3l-4.3-1.6l-4 2.9zM159.7 501.6l4-2.9l-4.4-1.5l-4 2.9zM172.4 502.2l3.9-2.6l-4.3-1.9l-4 2.6zM185 503.8l4-2.3l-4.3-2.2l-4 2.3zM197.7 506.4l4-2l-4.4-2.5l-3.9 1.9z"/>
<path fill="#a41" stroke="#a41" d="M142.3 496.6l4-2.9l-4.4-0.7l-3.9 2.8zM138 495.8l3.9-2.8l-4.3-0.7l-4 2.9zM133.6 495.2l4-2.9l-4.3-0.4l-4 2.8zM222.6 510.2l4-0.9l-4.3-3l-4 0.9zM218.3 507.2l4-0.9l-4.4-2.8l-3.9 0.8zM226.6 509.3l3.9-0.5l-4.3-3l-3.9 0.5z"/>
<path fill="#941" stroke="#941" d="M129.3 494.7l4-2.8l-4.4-0.3l-3.9 2.8zM125 494.4l3.9-2.8l-4.3-0.1l-3.9 2.8zM222.3 506.3l3.9-0.5l-4.3-2.8l-4 0.5z"/>
<path fill="#841" stroke="#841" d="M120.7 494.3l3.9-2.8l-4.3 0.1l-3.9 2.7zM230.5 508.8l4-0.1l-4.3-3l-4 0.1z"/>
<path fill="#741" stroke="#741" d="M116.4 494.3l3.9-2.7l-4.3 0.2l-3.9 2.7zM238.8 511.9l3.9 0.2l-4.3-3.2l-3.9-0.2zM234.5 508.7l3.9 0.2l-4.3-2.9l-3.9-0.3z"/>
<path fill="#641" stroke="#641" d="M112.1 494.5l3.9-2.7l-4.3 0.4l-3.9 2.7zM247 515.4l3.9 0.6l-4.3-3.3l-3.9-0.6z"/>
<path fill="#c43" stroke="#c43" d="M176.7 504.2l4-2.6l-4.4-2l-3.9 2.6zM189.4 506.1l4-2.3l-4.4-2.3l-4 2.3z"/>
<path fill="#b32" stroke="#b32" d="M163.7 498.7l3.9-2.6l-4.3-1.5l-4 2.6zM159.3 497.2l4-2.6l-4.4-1.3l-3.9 2.6zM176.3 499.6l4-2.3l-4.3-1.8l-4 2.2zM172 497.7l4-2.2l-4.4-1.6l-4 2.2zM189 501.5l4-1.9l-4.4-2.2l-3.9 1.9zM184.7 499.3l3.9-1.9l-4.3-2l-4 1.9zM197.3 501.9l4-1.5l-4.3-2.4l-4 1.6z"/>
<path fill="#a31" stroke="#a31" d="M155 495.9l3.9-2.6l-4.3-1.1l-4 2.5zM150.6 494.7l4-2.5l-4.4-0.9l-3.9 2.4zM146.3 493.7l3.9-2.4l-4.3-0.8l-4 2.5zM167.6 496.1l4-2.2l-4.3-1.5l-4 2.2zM163.3 494.6l4-2.2l-4.4-1.2l-4 2.1zM158.9 493.3l4-2.1l-4.3-1.1l-4 2.1zM180.3 497.3l4-1.9l-4.4-1.7l-3.9 1.8zM193 499.6l4-1.6l-4.4-2.1l-4 1.5zM188.6 497.4l4-1.5l-4.3-1.9l-4 1.4zM205.7 502.8l3.9-1.1l-4.3-2.5l-4 1.2zM201.3 500.4l4-1.2l-4.4-2.3l-3.9 1.1zM214 504.3l3.9-0.8l-4.3-2.7l-4 0.9z"/>
<path fill="#931" stroke="#931" d="M141.9 493l4-2.5l-4.3-0.6l-4 2.4zM137.6 492.3l4-2.4l-4.4-0.4l-3.9 2.4zM154.6 492.2l4-2.1l-4.4-1l-4 2.2zM150.2 491.3l4-2.2l-4.3-0.7l-4 2.1zM197 498l3.9-1.1l-4.3-2.1l-4 1.1zM209.6 501.7l4-0.9l-4.3-2.4l-4 0.8zM205.3 499.2l4-0.8l-4.4-2.3l-4 0.8zM217.9 503.5l4-0.5l-4.3-2.6l-4 0.4z"/>
<path fill="#831" stroke="#831" d="M133.3 491.9l3.9-2.4l-4.3-0.3l-4 2.4zM145.9 490.5l4-2.1l-4.3-0.6l-4 2.1zM213.6 500.8l4-0.4l-4.4-2.4l-3.9 0.4zM226.2 505.8l4-0.1l-4.4-2.8l-3.9 0.1z"/>
<path fill="#731" stroke="#731" d="M128.9 491.6l4-2.4l-4.3-0.1l-4 2.4zM221.9 503l3.9-0.1l-4.3-2.6l-3.9 0.1z"/>
<path fill="#631" stroke="#631" d="M124.6 491.5l4-2.4l-4.3 0.1l-4 2.4zM230.2 505.7l3.9 0.3l-4.3-2.8l-4-0.3z"/>
<path fill="#531" stroke="#531" d="M120.3 491.6l4-2.4l-4.3 0.2l-4 2.4zM242.7 512.1l3.9 0.6l-4.3-3.1l-3.9-0.7z"/>
<path fill="#421" stroke="#421" d="M116 491.8l4-2.4l-4.3 0.4l-4 2.4zM128.6 489.1l4-2l-4.3 0.1l-4 2z"/>
<path fill="#db5" stroke="#db5" d="M237.1 544.9l3.9-2.6l-4.3-4.5l-3.9 2.6z"/>
<path fill="#721" stroke="#721" d="M141.6 489.9l4-2.1l-4.4-0.4l-4 2.1zM154.2 489.1l4-1.7l-4.3-0.7l-4 1.7zM166.9 489.4l4-1.4l-4.3-1.1l-4 1.4zM179.6 490.6l4-1.1l-4.4-1.4l-4 1.1zM196.6 494.8l4-0.8l-4.4-1.9l-3.9 0.8zM192.3 492.9l3.9-0.8l-4.3-1.7l-4 0.7zM209.3 498.4l3.9-0.4l-4.3-2.3l-4 0.4z"/>
<path fill="#621" stroke="#621" d="M137.2 489.5l4-2.1l-4.3-0.2l-4 2zM149.9 488.4l4-1.7l-4.3-0.6l-4 1.7zM162.6 488.3l4-1.4l-4.4-0.9l-4 1.4zM175.2 489.2l4-1.1l-4.3-1.2l-4 1.1zM187.9 491.1l4-0.7l-4.3-1.6l-4 0.7zM204.9 496.1l4-0.4l-4.3-2.1l-4 0.4zM200.6 494l4-0.4l-4.4-1.8l-4 0.3zM217.6 500.4l3.9-0.1l-4.3-2.4l-4 0.1z"/>
<path fill="#521" stroke="#521" d="M132.9 489.2l4-2l-4.3-0.1l-4 2zM145.6 487.8l4-1.7l-4.4-0.4l-4 1.7zM213.2 498l4-0.1l-4.3-2.2l-4 0zM225.8 502.9l4 0.3l-4.3-2.6l-4-0.3z"/>
<path fill="#310" stroke="#310" d="M124.3 489.2l4-2l-4.3 0.2l-4 2zM136.9 487.2l4-1.7l-4.3-0.1l-4 1.7zM179.2 488.1l4-0.6l-4.3-1.2l-4 0.6zM191.9 490.4l4-0.4l-4.3-1.5l-4 0.3zM204.6 493.6l3.9 0l-4.3-1.8l-4 0z"/>
<path fill="#110" stroke="#110" d="M120 489.4l4-2l-4.3 0.5l-4 1.9zM242.3 509.6l4 0.9l-4.3-2.9l-4-1zM271.5 529.2l3.9 1.6l-4.3-3.8l-3.8-1.7zM300.2 554.7l3.8 2.3l-4.2-4.8l-3.7-2.2z"/>
<path fill="#dc4" stroke="#dc4" d="M245.3 547l3.9-2.3l-4.3-4.6l-3.9 2.2zM253.5 549.6l3.9-1.9l-4.2-4.8l-4 1.8z"/>
<path fill="#a21" stroke="#a21" d="M176 495.5l3.9-1.8l-4.3-1.6l-4 1.8zM171.6 493.9l4-1.8l-4.4-1.5l-3.9 1.8z"/>
<path fill="#921" stroke="#921" d="M167.3 492.4l3.9-1.8l-4.3-1.2l-4 1.8zM162.9 491.2l4-1.8l-4.3-1.1l-4 1.8zM184.3 495.4l4-1.4l-4.4-1.8l-4 1.5zM179.9 493.7l4-1.5l-4.3-1.6l-4 1.5zM192.6 495.9l4-1.1l-4.3-1.9l-4 1.1z"/>
<path fill="#821" stroke="#821" d="M158.6 490.1l4-1.8l-4.4-0.9l-4 1.7zM175.6 492.1l4-1.5l-4.4-1.4l-4 1.4zM171.2 490.6l4-1.4l-4.3-1.2l-4 1.4zM188.3 494l4-1.1l-4.4-1.8l-4 1.1zM183.9 492.2l4-1.1l-4.3-1.6l-4 1.1zM200.9 496.9l4-0.8l-4.3-2.1l-4 0.8z"/>
<path fill="#411" stroke="#411" d="M141.2 487.4l4-1.7l-4.3-0.2l-4 1.7zM196.2 492.1l4-0.3l-4.3-1.8l-4 0.4zM208.9 495.7l4 0l-4.4-2.1l-3.9 0z"/>
<path fill="#100" stroke="#100" d="M132.6 487.1l4-1.7l-4.3 0.1l-4 1.7zM145.2 485.7l4-1.3l-4.3-0.2l-4 1.3zM187.6 488.8l4-0.3l-4.4-1.3l-4 0.3zM200.2 491.8l4 0l-4.3-1.7l-4-0.1z"/>
<path fill="#000" stroke="#000" d="M128.3 487.2l4-1.7l-4.3 0.3l-4 1.6zM124 487.4l4-1.6l-4.3 0.5l-4 1.6zM140.9 485.5l4-1.3l-4.3-0.1l-4 1.3zM136.6 485.4l4-1.3l-4.3 0.2l-4 1.2zM132.3 485.5l4-1.2l-4.3 0.3l-4 1.2zM128 485.8l4-1.2l-4.3 0.4l-4 1.3zM157.9 485.3l4-1l-4.3-0.5l-4 1zM153.6 484.8l4-1l-4.4-0.4l-4 1zM149.2 484.4l4-1l-4.3-0.2l-4 1zM144.9 484.2l4-1l-4.3 0l-4 0.9zM140.6 484.1l4-0.9l-4.3 0.2l-4 0.9zM136.3 484.3l4-0.9l-4.3 0.3l-4 0.9zM132 484.6l4-0.9l-4.3 0.4l-4 0.9zM170.6 485.9l4-0.7l-4.4-0.8l-4 0.6zM166.2 485l4-0.6l-4.3-0.7l-4 0.6zM161.9 484.3l4-0.6l-4.3-0.5l-4 0.6zM157.6 483.8l4-0.6l-4.4-0.4l-4 0.6zM153.2 483.4l4-0.6l-4.3-0.1l-4 0.5zM148.9 483.2l4-0.5l-4.3 0l-4 0.5zM144.6 483.2l4-0.5l-4.3 0.1l-4 0.6zM140.3 483.4l4-0.6l-4.3 0.3l-4 0.6zM136 483.7l4-0.6l-4.3 0.5l-4 0.5zM183.2 487.5l4-0.3l-4.3-1.2l-4 0.3zM178.9 486.3l4-0.3l-4.3-1l-4 0.2zM174.6 485.2l4-0.2l-4.4-0.9l-4 0.3zM170.2 484.4l4-0.3l-4.3-0.6l-4 0.2zM165.9 483.7l4-0.2l-4.3-0.5l-4 0.2zM161.6 483.2l4-0.2l-4.3-0.4l-4.1 0.2zM157.2 482.8l4.1-0.2l-4.4-0.1l-4 0.2zM152.9 482.7l4-0.2l-4.3 0l-4 0.2zM148.6 482.7l4-0.2l-4.3 0.1l-4 0.2zM144.3 482.8l4-0.2l-4.3 0.3l-4 0.2zM195.9 490l4 0.1l-4.4-1.6l-3.9 0zM191.6 488.5l3.9 0l-4.3-1.3l-4 0zM187.2 487.2l4 0l-4.3-1.2l-4 0zM182.9 486l4 0l-4.3-1l-4 0zM178.6 485l4 0l-4.4-0.8l-4-0.1zM174.2 484.1l4 0.1l-4.3-0.6l-4-0.1zM169.9 483.5l4 0.1l-4.3-0.5l-4-0.1zM165.6 483l4 0.1l-4.3-0.3l-4-0.2zM161.3 482.6l4 0.2l-4.3-0.2l-4.1-0.1zM212.9 495.7l3.9 0.3l-4.3-2l-4-0.4zM208.5 493.6l4 0.4l-4.3-1.9l-4-0.3zM204.2 491.8l4 0.3l-4.3-1.7l-4-0.3zM199.9 490.1l4 0.3l-4.4-1.5l-4-0.4zM195.5 488.5l4 0.4l-4.3-1.3l-4-0.4zM191.2 487.2l4 0.4l-4.3-1.1l-4-0.5zM186.9 486l4 0.5l-4.4-1l-3.9-0.5zM182.6 485l3.9 0.5l-4.3-0.8l-4-0.5zM178.2 484.2l4 0.5l-4.3-0.7l-4-0.4zM173.9 483.6l4 0.4l-4.3-0.5l-4-0.4zM225.5 500.6l3.9 0.7l-4.3-2.4l-3.9-0.7zM221.2 498.2l3.9 0.7l-4.3-2.2l-4-0.7zM216.8 496l4 0.7l-4.3-2l-4-0.7zM212.5 494l4 0.7l-4.3-1.8l-4-0.8zM208.2 492.1l4 0.8l-4.4-1.7l-3.9-0.8zM203.9 490.4l3.9 0.8l-4.3-1.5l-4-0.8zM199.5 488.9l4 0.8l-4.3-1.3l-4-0.8zM195.2 487.6l4 0.8l-4.3-1.2l-4-0.7zM190.9 486.5l4 0.7l-4.4-0.9l-4-0.8zM186.5 485.5l4 0.8l-4.3-0.8l-4-0.8zM238 506.6l4 1l-4.3-2.7l-4-1zM233.7 503.9l4 1l-4.3-2.6l-4-1zM229.4 501.3l4 1l-4.3-2.3l-4-1.1zM225.1 498.9l4 1.1l-4.4-2.2l-3.9-1.1zM220.8 496.7l3.9 1.1l-4.3-2l-3.9-1.1zM216.5 494.7l3.9 1.1l-4.3-1.9l-3.9-1zM212.2 492.9l3.9 1l-4.3-1.6l-4-1.1zM207.8 491.2l4 1.1l-4.3-1.5l-4-1.1zM203.5 489.7l4 1.1l-4.3-1.3l-4-1.1zM199.2 488.4l4 1.1l-4.4-1.1l-3.9-1.2zM254.8 516.9l3.9 1.3l-4.2-3.2l-3.9-1.4zM250.6 513.6l3.9 1.4l-4.3-3.1l-3.9-1.4zM246.3 510.5l3.9 1.4l-4.3-2.9l-3.9-1.4zM242 507.6l3.9 1.4l-4.3-2.8l-3.9-1.3zM237.7 504.9l3.9 1.3l-4.3-2.5l-3.9-1.4zM233.4 502.3l3.9 1.4l-4.3-2.3l-3.9-1.4zM229.1 500l3.9 1.4l-4.3-2.2l-4-1.4zM224.7 497.8l4 1.4l-4.3-2l-4-1.4zM220.4 495.8l4 1.4l-4.3-1.8l-4-1.5zM216.1 493.9l4 1.5l-4.3-1.7l-4-1.4zM211.8 492.3l4 1.4l-4.3-1.4l-4-1.5zM267.3 525.3l3.8 1.7l-4.2-3.7l-3.9-1.6zM263 521.7l3.9 1.6l-4.3-3.4l-3.9-1.7zM258.7 518.2l3.9 1.7l-4.3-3.3l-3.8-1.6zM254.5 515l3.8 1.6l-4.2-3l-3.9-1.7zM250.2 511.9l3.9 1.7l-4.3-2.9l-3.9-1.7zM245.9 509l3.9 1.7l-4.3-2.7l-3.9-1.8zM241.6 506.2l3.9 1.8l-4.3-2.5l-3.9-1.8zM237.3 503.7l3.9 1.8l-4.3-2.4l-3.9-1.7zM233 501.4l3.9 1.7l-4.3-2.1l-3.9-1.8zM228.7 499.2l3.9 1.8l-4.3-2l-3.9-1.8zM224.4 497.2l3.9 1.8l-4.3-1.8l-3.9-1.8zM279.6 534.8l3.8 2l-4.2-4l-3.8-2zM275.4 530.8l3.8 2l-4.2-3.8l-3.9-2zM271.1 527l3.9 2l-4.3-3.6l-3.8-2.1zM266.9 523.3l3.8 2.1l-4.2-3.5l-3.9-2zM262.6 519.9l3.9 2l-4.3-3.2l-3.9-2.1zM258.3 516.6l3.9 2.1l-4.2-3.1l-3.9-2zM254.1 513.6l3.9 2l-4.3-2.9l-3.9-2zM249.8 510.7l3.9 2l-4.3-2.6l-3.9-2.1zM245.5 508l3.9 2.1l-4.3-2.5l-3.9-2.1zM241.2 505.5l3.9 2.1l-4.3-2.4l-3.9-2.1zM296.1 550l3.7 2.2l-4.1-4.5l-3.8-2.3zM291.9 545.4l3.8 2.3l-4.2-4.4l-3.8-2.3zM287.7 541l3.8 2.3l-4.2-4.2l-3.9-2.3zM283.4 536.8l3.9 2.3l-4.3-4l-3.8-2.3zM279.2 532.8l3.8 2.3l-4.2-3.8l-3.8-2.3zM275 529l3.8 2.3l-4.2-3.6l-3.9-2.3zM270.7 525.4l3.9 2.3l-4.3-3.4l-3.8-2.4zM266.5 521.9l3.8 2.4l-4.2-3.2l-3.9-2.4zM262.2 518.7l3.9 2.4l-4.3-3.1l-3.8-2.4zM258 515.6l3.8 2.4l-4.2-2.8l-3.9-2.5zM253.7 512.7l3.9 2.5l-4.3-2.7l-3.9-2.4zM308.2 562l3.7 2.5l-4.1-4.9l-3.8-2.6zM304 557l3.8 2.6l-4.2-4.7l-3.8-2.7zM299.8 552.2l3.8 2.7l-4.2-4.6l-3.7-2.6zM295.7 547.7l3.7 2.6l-4.2-4.4l-3.7-2.6zM291.5 543.3l3.7 2.6l-4.2-4.1l-3.7-2.7zM287.3 539.1l3.7 2.7l-4.2-4l-3.8-2.7zM283 535.1l3.8 2.7l-4.2-3.8l-3.8-2.7zM278.8 531.3l3.8 2.7l-4.2-3.6l-3.8-2.7zM274.6 527.7l3.8 2.7l-4.2-3.4l-3.9-2.7zM270.3 524.3l3.9 2.7l-4.3-3.2l-3.8-2.7zM266.1 521.1l3.8 2.7l-4.2-3l-3.9-2.8zM324.3 580.6l3.7 2.9l-4.1-5.6l-3.7-2.9zM320.2 575l3.7 2.9l-4.1-5.3l-3.7-2.9zM316.1 569.7l3.7 2.9l-4.2-5.1l-3.7-3zM311.9 564.5l3.7 3l-4.1-4.9l-3.7-3zM307.8 559.6l3.7 3l-4.2-4.8l-3.7-2.9zM303.6 554.9l3.7 2.9l-4.1-4.5l-3.8-3zM299.4 550.3l3.8 3l-4.2-4.3l-3.8-3.1zM295.2 545.9l3.8 3.1l-4.2-4.2l-3.8-3zM291 541.8l3.8 3l-4.2-4l-3.8-3zM286.8 537.8l3.8 3l-4.2-3.7l-3.8-3.1zM282.6 534l3.8 3.1l-4.2-3.6l-3.8-3.1zM278.4 530.4l3.8 3.1l-4.2-3.4l-3.8-3.1zM332 589.2l3.7 3.2l-4.1-5.7l-3.6-3.2zM328 583.5l3.6 3.2l-4.1-5.5l-3.6-3.3zM323.9 577.9l3.6 3.3l-4.1-5.3l-3.6-3.3zM319.8 572.6l3.6 3.3l-4.1-5.1l-3.7-3.3zM315.6 567.5l3.7 3.3l-4.1-4.9l-3.7-3.3zM311.5 562.6l3.7 3.3l-4.1-4.7l-3.8-3.4zM307.3 557.8l3.8 3.4l-4.2-4.6l-3.7-3.3zM303.2 553.3l3.7 3.3l-4.1-4.3l-3.8-3.3zM299 549l3.8 3.3l-4.2-4.1l-3.8-3.4zM294.8 544.8l3.8 3.4l-4.2-4l-3.8-3.4zM290.6 540.8l3.8 3.4l-4.2-3.7l-3.8-3.4zM335.7 592.4l3.6 3.6l-4-5.7l-3.7-3.6zM331.6 586.7l3.7 3.6l-4.1-5.5l-3.7-3.6zM327.5 581.2l3.7 3.6l-4.1-5.3l-3.7-3.6zM323.4 575.9l3.7 3.6l-4.1-5.1l-3.7-3.6zM319.3 570.8l3.7 3.6l-4.1-4.9l-3.7-3.6zM315.2 565.9l3.7 3.6l-4.1-4.7l-3.7-3.6zM311.1 561.2l3.7 3.6l-4.2-4.5l-3.7-3.7zM306.9 556.6l3.7 3.7l-4.1-4.3l-3.7-3.7zM302.8 552.3l3.7 3.7l-4.2-4.1l-3.7-3.7zM339.3 596l3.6 4l-4-5.7l-3.6-4zM335.3 590.3l3.6 4l-4.1-5.5l-3.6-4zM331.2 584.8l3.6 4l-4.1-5.3l-3.6-4zM327.1 579.5l3.6 4l-4.1-5.1l-3.6-4zM323 574.4l3.6 4l-4.1-4.8l-3.6-4.1zM318.9 569.5l3.6 4.1l-4.1-4.7l-3.6-4.1zM314.8 564.8l3.6 4.1l-4.1-4.5l-3.7-4.1zM342.9 600l3.6 4.3l-4.1-5.7l-3.5-4.3zM338.9 594.3l3.5 4.3l-4-5.5l-3.6-4.3zM334.8 588.8l3.6 4.3l-4.1-5.2l-3.6-4.4zM330.7 583.5l3.6 4.4l-4-5.1l-3.7-4.4zM326.6 578.4l3.7 4.4l-4.1-4.9l-3.7-4.3zM346.5 604.3l3.5 4.6l-4-5.7l-3.6-4.6zM342.4 598.6l3.6 4.6l-4-5.4l-3.6-4.7zM338.4 593.1l3.6 4.7l-4.1-5.3l-3.6-4.6zM350 608.9l3.5 5l-4-5.7l-3.5-5z"/>
<path fill="#bd4" stroke="#bd4" d="M270.6 571l3.8-2l-4.2-5.6l-3.9 1.9zM266.3 565.3l3.9-1.9l-4.2-5.5l-3.9 2zM270.2 563.4l3.9-1.6l-4.2-5.4l-3.9 1.5z"/>
<path fill="#cd4" stroke="#cd4" d="M262.1 559.9l3.9-2l-4.3-5.2l-3.9 1.9z"/>
<path fill="#c83" stroke="#c83" d="M232 527.3l4-1.7l-4.3-3.8l-4 1.7zM240.3 529.6l3.9-1.4l-4.3-4l-3.9 1.4zM236 525.6l3.9-1.4l-4.3-3.8l-3.9 1.4z"/>
<path fill="#511" stroke="#511" d="M158.2 487.4l4-1.4l-4.3-0.7l-4 1.4zM170.9 488l4-1.1l-4.3-1l-4 1zM183.6 489.5l4-0.7l-4.4-1.3l-4 0.6z"/>
<path fill="#410" stroke="#410" d="M153.9 486.7l4-1.4l-4.3-0.5l-4 1.3zM166.6 486.9l4-1l-4.4-0.9l-4 1z"/>
<path fill="#210" stroke="#210" d="M149.6 486.1l4-1.3l-4.4-0.4l-4 1.3zM162.2 486l4-1l-4.3-0.7l-4 1zM174.9 486.9l4-0.6l-4.3-1.1l-4 0.7zM217.2 497.9l4 0.3l-4.4-2.2l-3.9-0.3zM229.8 503.2l3.9 0.7l-4.3-2.6l-3.9-0.7z"/>
<path fill="#8d4" stroke="#8d4" d="M282.9 580.9l3.9-1.7l-4.3-6l-3.8 1.6z"/>
<path fill="#9d4" stroke="#9d4" d="M278.7 574.8l3.8-1.6l-4.2-5.8l-3.9 1.6z"/>
<path fill="#ad4" stroke="#ad4" d="M274.4 569l3.9-1.6l-4.2-5.6l-3.9 1.6z"/>
<path fill="#dc3" stroke="#dc3" d="M257.4 547.7l3.9-1.5l-4.2-4.8l-3.9 1.5z"/>
<path fill="#cc3" stroke="#cc3" d="M261.3 546.2l3.9-1.1l-4.2-4.8l-3.9 1.1z"/>
<path fill="#cb3" stroke="#cb3" d="M257.1 541.4l3.9-1.1l-4.3-4.5l-3.9 1z"/>
<path fill="#b62" stroke="#b62" d="M235.6 520.4l3.9-0.9l-4.3-3.6l-3.9 0.9zM231.3 516.8l3.9-0.9l-4.3-3.4l-3.9 0.9z"/>
<path fill="#b92" stroke="#b92" d="M252.4 531.4l3.9-0.6l-4.2-4.2l-4 0.6z"/>
<path fill="#b82" stroke="#b82" d="M248.1 527.2l4-0.6l-4.3-3.9l-4 0.6z"/>
<path fill="#6c2" stroke="#6c2" d="M294.5 577.1l3.8-0.5l-4.2-5.9l-3.8 0.4zM294.1 570.7l3.8-0.1l-4.1-5.7l-3.9 0z"/>
<path fill="#7c2" stroke="#7c2" d="M290.3 571.1l3.8-0.4l-4.2-5.8l-3.8 0.5zM289.9 564.9l3.9 0l-4.2-5.5l-3.9 0z"/>
<path fill="#8c2" stroke="#8c2" d="M286.1 565.4l3.8-0.5l-4.2-5.5l-3.9 0.4z"/>
<path fill="#bb2" stroke="#bb2" d="M269.1 544.4l3.9-0.3l-4.2-4.7l-3.9 0.3z"/>
<path fill="#a81" stroke="#a81" d="M252.1 526.6l3.9-0.2l-4.3-3.9l-3.9 0.2zM260.2 530.5l3.9 0.1l-4.2-4.1l-3.9-0.1z"/>
<path fill="#5c2" stroke="#5c2" d="M298.3 576.6l3.8-0.1l-4.2-5.9l-3.8 0.1z"/>
<path fill="#8b1" stroke="#8b1" d="M285.7 559.4l3.9 0l-4.3-5.3l-3.8 0zM285.3 554.1l3.9 0.4l-4.2-5.1l-3.9-0.4z"/>
<path fill="#9b1" stroke="#9b1" d="M281.5 554.1l3.8 0l-4.2-5.1l-3.8 0z"/>
<path fill="#ab1" stroke="#ab1" d="M277.3 549l3.8 0l-4.2-4.9l-3.9 0zM273 544.1l3.9 0l-4.2-4.7l-3.9 0z"/>
<path fill="#a91" stroke="#a91" d="M264.5 534.8l3.9 0.1l-4.3-4.3l-3.9-0.1z"/>
<path fill="#971" stroke="#971" d="M256 526.4l3.9 0.1l-4.3-3.9l-3.9-0.1z"/>
<path fill="#420" stroke="#420" d="M221.5 500.3l4 0.3l-4.3-2.4l-4-0.3z"/>
<path fill="#4b1" stroke="#4b1" d="M302.1 576.5l3.8 0.3l-4.1-5.9l-3.9-0.3zM301.8 570.9l3.8 0.7l-4.2-5.7l-3.8-0.7z"/>
<path fill="#5b1" stroke="#5b1" d="M297.9 570.6l3.9 0.3l-4.2-5.7l-3.8-0.3z"/>
<path fill="#6b1" stroke="#6b1" d="M293.8 564.9l3.8 0.3l-4.2-5.5l-3.8-0.3z"/>
<path fill="#7b1" stroke="#7b1" d="M289.6 559.4l3.8 0.3l-4.2-5.2l-3.9-0.4z"/>
<path fill="#8a1" stroke="#8a1" d="M281.1 549l3.9 0.4l-4.2-4.9l-3.9-0.4z"/>
<path fill="#9a1" stroke="#9a1" d="M276.9 544.1l3.9 0.4l-4.3-4.6l-3.8-0.5zM272.7 539.4l3.8 0.5l-4.2-4.5l-3.9-0.5z"/>
<path fill="#991" stroke="#991" d="M268.4 534.9l3.9 0.5l-4.3-4.3l-3.9-0.5z"/>
<path fill="#981" stroke="#981" d="M264.1 530.6l3.9 0.5l-4.2-4l-3.9-0.6z"/>
<path fill="#871" stroke="#871" d="M259.9 526.5l3.9 0.6l-4.3-3.9l-3.9-0.6z"/>
<path fill="#861" stroke="#861" d="M255.6 522.6l3.9 0.6l-4.3-3.7l-3.9-0.6z"/>
<path fill="#751" stroke="#751" d="M251.3 518.9l3.9 0.6l-4.3-3.5l-3.9-0.6z"/>
<path fill="#431" stroke="#431" d="M238.4 508.9l3.9 0.7l-4.3-3l-3.9-0.6z"/>
<path fill="#320" stroke="#320" d="M234.1 506l3.9 0.6l-4.3-2.7l-3.9-0.7zM246.6 512.7l4 0.9l-4.3-3.1l-4-0.9z"/>
<path fill="#3b1" stroke="#3b1" d="M305.9 576.8l3.8 0.6l-4.1-5.8l-3.8-0.7z"/>
<path fill="#5a1" stroke="#5a1" d="M297.6 565.2l3.8 0.7l-4.2-5.4l-3.8-0.8z"/>
<path fill="#6a1" stroke="#6a1" d="M293.4 559.7l3.8 0.8l-4.2-5.3l-3.8-0.7z"/>
<path fill="#7a1" stroke="#7a1" d="M289.2 554.5l3.8 0.7l-4.2-5l-3.8-0.8z"/>
<path fill="#791" stroke="#791" d="M285 549.4l3.8 0.8l-4.2-4.9l-3.8-0.8zM280.8 544.5l3.8 0.8l-4.2-4.6l-3.9-0.8z"/>
<path fill="#881" stroke="#881" d="M276.5 539.9l3.9 0.8l-4.3-4.4l-3.8-0.9zM272.3 535.4l3.8 0.9l-4.2-4.3l-3.9-0.9z"/>
<path fill="#771" stroke="#771" d="M268 531.1l3.9 0.9l-4.3-4.1l-3.8-0.8z"/>
<path fill="#761" stroke="#761" d="M263.8 527.1l3.8 0.8l-4.2-3.8l-3.9-0.9z"/>
<path fill="#651" stroke="#651" d="M259.5 523.2l3.9 0.9l-4.3-3.7l-3.9-0.9z"/>
<path fill="#541" stroke="#541" d="M255.2 519.5l3.9 0.9l-4.3-3.5l-3.9-0.9z"/>
<path fill="#430" stroke="#430" d="M250.9 516l3.9 0.9l-4.2-3.3l-4-0.9z"/>
<path fill="#2a1" stroke="#2a1" d="M309.7 577.4l3.8 1.1l-4.2-5.9l-3.7-1z"/>
<path fill="#3a1" stroke="#3a1" d="M305.6 571.6l3.7 1l-4.1-5.6l-3.8-1.1z"/>
<path fill="#491" stroke="#491" d="M301.4 565.9l3.8 1.1l-4.2-5.4l-3.8-1.1z"/>
<path fill="#591" stroke="#591" d="M297.2 560.5l3.8 1.1l-4.2-5.2l-3.8-1.2zM293 555.2l3.8 1.2l-4.2-5.1l-3.8-1.1z"/>
<path fill="#681" stroke="#681" d="M288.8 550.2l3.8 1.1l-4.2-4.8l-3.8-1.2zM284.6 545.3l3.8 1.2l-4.2-4.6l-3.8-1.2z"/>
<path fill="#671" stroke="#671" d="M280.4 540.7l3.8 1.2l-4.2-4.4l-3.9-1.2z"/>
<path fill="#661" stroke="#661" d="M276.1 536.3l3.9 1.2l-4.2-4.3l-3.9-1.2z"/>
<path fill="#551" stroke="#551" d="M271.9 532l3.9 1.2l-4.3-4l-3.9-1.3z"/>
<path fill="#441" stroke="#441" d="M267.6 527.9l3.9 1.3l-4.2-3.9l-3.9-1.2z"/>
<path fill="#330" stroke="#330" d="M263.4 524.1l3.9 1.2l-4.3-3.6l-3.9-1.3z"/>
<path fill="#220" stroke="#220" d="M259.1 520.4l3.9 1.3l-4.3-3.5l-3.9-1.3z"/>
<path fill="#291" stroke="#291" d="M313.5 578.5l3.7 1.4l-4.1-5.8l-3.8-1.5zM309.3 572.6l3.8 1.5l-4.1-5.6l-3.8-1.5z"/>
<path fill="#381" stroke="#381" d="M305.2 567l3.8 1.5l-4.2-5.4l-3.8-1.5zM301 561.6l3.8 1.5l-4.2-5.2l-3.8-1.5z"/>
<path fill="#471" stroke="#471" d="M296.8 556.4l3.8 1.5l-4.1-5l-3.9-1.6z"/>
<path fill="#461" stroke="#461" d="M292.6 551.3l3.9 1.6l-4.2-4.8l-3.9-1.6zM288.4 546.5l3.9 1.6l-4.2-4.6l-3.9-1.6z"/>
<path fill="#451" stroke="#451" d="M284.2 541.9l3.9 1.6l-4.3-4.5l-3.8-1.5z"/>
<path fill="#340" stroke="#340" d="M280 537.5l3.8 1.5l-4.2-4.2l-3.8-1.6z"/>
<path fill="#230" stroke="#230" d="M275.8 533.2l3.8 1.6l-4.2-4l-3.9-1.6zM292.3 548.1l3.8 1.9l-4.2-4.6l-3.8-1.9z"/>
<path fill="#181" stroke="#181" d="M317.2 579.9l3.8 1.8l-4.1-5.8l-3.8-1.8z"/>
<path fill="#171" stroke="#171" d="M313.1 574.1l3.8 1.8l-4.2-5.6l-3.7-1.8z"/>
<path fill="#271" stroke="#271" d="M309 568.5l3.7 1.8l-4.1-5.4l-3.8-1.8z"/>
<path fill="#261" stroke="#261" d="M304.8 563.1l3.8 1.8l-4.2-5.2l-3.8-1.8z"/>
<path fill="#251" stroke="#251" d="M300.6 557.9l3.8 1.8l-4.2-5l-3.7-1.8z"/>
<path fill="#241" stroke="#241" d="M296.5 552.9l3.7 1.8l-4.1-4.7l-3.8-1.9z"/>
<path fill="#120" stroke="#120" d="M288.1 543.5l3.8 1.9l-4.2-4.4l-3.9-2z"/>
<path fill="#010" stroke="#010" d="M283.8 539l3.9 2l-4.3-4.2l-3.8-2zM312.3 567.1l3.8 2.6l-4.2-5.2l-3.7-2.5z"/>
<path fill="#162" stroke="#162" d="M321 581.7l3.7 2.1l-4.1-5.8l-3.7-2.1z"/>
<path fill="#151" stroke="#151" d="M316.9 575.9l3.7 2.1l-4.1-5.5l-3.8-2.2zM312.7 570.3l3.8 2.2l-4.2-5.4l-3.7-2.2z"/>
<path fill="#140" stroke="#140" d="M308.6 564.9l3.7 2.2l-4.1-5.1l-3.8-2.3z"/>
<path fill="#130" stroke="#130" d="M304.4 559.7l3.8 2.3l-4.2-5l-3.8-2.3z"/>
<path fill="#142" stroke="#142" d="M324.7 583.8l3.7 2.5l-4.1-5.7l-3.7-2.6z"/>
<path fill="#031" stroke="#031" d="M320.6 578l3.7 2.6l-4.1-5.6l-3.7-2.5z"/>
<path fill="#020" stroke="#020" d="M316.5 572.5l3.7 2.5l-4.1-5.3l-3.8-2.6z"/>
<path fill="#011" stroke="#011" d="M328.4 586.3l3.6 2.9l-4-5.7l-3.7-2.9z"/>
</g>
<path d="M217.1 672.7l1.9-4.5 1.9-4.4 1.9-4.2 1.9-4.2 1.9-4 2-4 1.9-3.8 1.9-3.7 1.9-3.6 2-3.5 1.9-3.3 1.9-3.3 2-3.2 1.9-3 2-3 1.9-2.8 2-2.8 1.9-2.6 1.9-2.5 2-2.4 1.9-2.3 2-2.2 1.9-2.1 2-2 1.9-1.9 2-1.8 1.9-1.7 1.9-1.6 2-1.5 1.9-1.4 2-1.3 1.9-1.1 2-1.1 1.9-1 1.9-0.9 2-0.8 1.9-0.7 1.9-0.5 1.9-0.5 2-0.4 1.9-0.3 1.9-0.2 1.9-0.1 1.9 0 1.9 0.1 1.9 0.2 1.9 0.3 1.9 0.3 1.9 0.5 1.9 0.6 1.9 0.6 1.8 0.8 1.9 0.8 1.9 1 1.8 1 1.9 1.1 1.8 1.2 1.9 1.3 1.8 1.4 1.8 1.5 1.9 1.6 1.8 1.6 1.8 1.8 1.8 1.8 1.8 1.9 1.8 2.1 1.8 2.1 1.8 2.2 1.7 2.2 1.8 2.4 1.7 2.4M214.9 669.3l1.9-4.5 2-4.4 1.9-4.2 1.9-4.1 1.9-4.1 1.9-3.9 2-3.8 1.9-3.7 1.9-3.6 1.9-3.4 2-3.4 1.9-3.3 2-3.1 1.9-3.1 1.9-2.9 2-2.8 1.9-2.8 2-2.6 1.9-2.5 2-2.4 1.9-2.3 2-2.2 1.9-2.1 1.9-2 2-1.9 1.9-1.7 2-1.7 1.9-1.6 2-1.5 1.9-1.4 2-1.2 1.9-1.2 1.9-1.1 2-1 1.9-0.8 2-0.8 1.9-0.7 1.9-0.6 1.9-0.4 2-0.4 1.9-0.3 1.9-0.2 1.9-0.1 1.9 0 1.9 0.1 1.9 0.2 1.9 0.3 1.9 0.4 1.9 0.5 1.9 0.5 1.9 0.7 1.9 0.8 1.8 0.8 1.9 0.9 1.9 1.1 1.8 1.1 1.9 1.2 1.8 1.3 1.9 1.4 1.8 1.5 1.8 1.6 1.9 1.7 1.8 1.7 1.8 1.8 1.8 2 1.8 2 1.8 2.1 1.7 2.2 1.8 2.3 1.8 2.3 1.7 2.5M212.8 665.9l1.9-4.4 1.9-4.4 1.9-4.2 1.9-4.1 2-4 1.9-3.9 1.9-3.8 1.9-3.7 2-3.6 1.9-3.5 1.9-3.3 2-3.3 1.9-3.1 2-3 1.9-3 1.9-2.8 2-2.7 1.9-2.6 2-2.5 1.9-2.4 2-2.3 1.9-2.2 2-2.1 1.9-2 2-1.8 1.9-1.8 2-1.7 1.9-1.6 2-1.4 1.9-1.4 2-1.3 1.9-1.1 1.9-1.1 2-1 1.9-0.8 1.9-0.8 2-0.7 1.9-0.5 1.9-0.5 2-0.4 1.9-0.3 1.9-0.1 1.9-0.1 1.9 0 1.9 0.1 2 0.2 1.9 0.3 1.9 0.4 1.9 0.5 1.8 0.5 1.9 0.7 1.9 0.8 1.9 0.8 1.9 1 1.8 1 1.9 1.1 1.8 1.3 1.9 1.3 1.8 1.4 1.9 1.5 1.8 1.6 1.8 1.6 1.8 1.8 1.9 1.8 1.8 2 1.8 2 1.8 2.1 1.7 2.2 1.8 2.3 1.8 2.3 1.7 2.5M210.7 662.7l1.9-4.5 1.9-4.3 1.9-4.3 1.9-4.1 1.9-4 1.9-3.9 2-3.7 1.9-3.7 1.9-3.6 2-3.4 1.9-3.4 1.9-3.2 2-3.2 1.9-3 2-2.9 1.9-2.8 2-2.7 1.9-2.6 2-2.5 1.9-2.4 1.9-2.3 2-2.1 1.9-2.1 2-2 1.9-1.9 2-1.7 1.9-1.7 2-1.6 1.9-1.4 2-1.4 1.9-1.2 2-1.2 1.9-1 2-1 1.9-0.9 1.9-0.7 2-0.7 1.9-0.5 1.9-0.5 2-0.4 1.9-0.3 1.9-0.1 1.9-0.1 1.9 0 2 0.1 1.9 0.2 1.9 0.3 1.9 0.4 1.9 0.5 1.9 0.6 1.9 0.7 1.8 0.7 1.9 0.9 1.9 1 1.9 1 1.8 1.1 1.9 1.3 1.8 1.3 1.9 1.4 1.8 1.5 1.9 1.6 1.8 1.6 1.8 1.8 1.8 1.9 1.8 1.9 1.8 2 1.8 2.1 1.8 2.2 1.8 2.3 1.8 2.4M208.5 659.4l1.9-4.4 1.9-4.3 1.9-4.2 2-4.1 1.9-4 1.9-3.9 1.9-3.8 2-3.7 1.9-3.5 1.9-3.5 2-3.3 1.9-3.2 1.9-3.1 2-3 1.9-3 2-2.8 1.9-2.6 2-2.6 1.9-2.5 2-2.4 1.9-2.3 2-2.1 1.9-2.1 2-2 1.9-1.8 2-1.8 1.9-1.6 2-1.6 1.9-1.4 2-1.4 1.9-1.2 2-1.2 1.9-1 1.9-1 2-0.8 1.9-0.8 2-0.7 1.9-0.5 1.9-0.5 2-0.3 1.9-0.3 1.9-0.2 1.9 0 2 0 1.9 0.1 1.9 0.2 1.9 0.3 1.9 0.4 1.9 0.5 1.9 0.6 1.9 0.7 1.9 0.8 1.8 0.8 1.9 1 1.9 1 1.9 1.2 1.8 1.2 1.9 1.3 1.8 1.4 1.9 1.5 1.8 1.6 1.8 1.7 1.9 1.8 1.8 1.8 1.8 2 1.8 2 1.8 2.1 1.8 2.2 1.8 2.3 1.8 2.4M206.4 656.3l1.9-4.5 1.9-4.3 1.9-4.2 1.9-4.1 1.9-4 2-3.8 1.9-3.8 1.9-3.6 1.9-3.6 2-3.4 1.9-3.3 2-3.3 1.9-3.1 1.9-3 2-2.9 1.9-2.8 2-2.6 1.9-2.6 2-2.5 1.9-2.4 2-2.2 1.9-2.2 2-2 1.9-2 2-1.8 1.9-1.8 2-1.6 1.9-1.6 2-1.4 1.9-1.4 2-1.2 1.9-1.2 2-1 1.9-0.9 2-0.9 1.9-0.7 2-0.7 1.9-0.5 1.9-0.5 2-0.3 1.9-0.3 1.9-0.2 1.9 0 2 0 1.9 0.1 1.9 0.3 1.9 0.3 1.9 0.4 1.9 0.5 1.9 0.6 1.9 0.7 1.9 0.7 1.9 0.9 1.9 1 1.8 1 1.9 1.2 1.9 1.2 1.8 1.3 1.9 1.4 1.8 1.6 1.9 1.5 1.8 1.7 1.8 1.8 1.8 1.9 1.9 1.9 1.8 2 1.8 2.2 1.8 2.2 1.8 2.3M204.2 653.1l1.9-4.4 1.9-4.3 1.9-4.2 2-4 1.9-4 1.9-3.9 1.9-3.7 2-3.7 1.9-3.5 1.9-3.4 2-3.3 1.9-3.2 2-3.1 1.9-3 1.9-2.9 2-2.8 1.9-2.7 2-2.5 1.9-2.5 2-2.4 1.9-2.2 2-2.2 1.9-2 2-2 2-1.8 1.9-1.8 2-1.6 1.9-1.5 2-1.5 1.9-1.3 2-1.2 1.9-1.2 2-1 1.9-0.9 2-0.9 1.9-0.7 1.9-0.6 2-0.6 1.9-0.4 1.9-0.4 2-0.2 1.9-0.2 1.9 0 2 0 1.9 0.1 1.9 0.2 1.9 0.4 1.9 0.4 1.9 0.5 1.9 0.6 1.9 0.7 1.9 0.8 1.9 0.8 1.9 1 1.9 1.1 1.8 1.1 1.9 1.3 1.9 1.3 1.8 1.4 1.9 1.5 1.8 1.6 1.8 1.7 1.9 1.8 1.8 1.8 1.8 2 1.8 2 1.8 2.1 1.8 2.3 1.8 2.3M202.1 650.1l1.9-4.4 1.9-4.3 1.9-4.2 1.9-4.1 1.9-3.9 2-3.9 1.9-3.7 1.9-3.6 1.9-3.6 2-3.4 1.9-3.3 2-3.2 1.9-3.1 1.9-3 2-2.8 1.9-2.8 2-2.7 1.9-2.5 2-2.5 1.9-2.3 2-2.3 2-2.1 1.9-2.1 2-1.9 1.9-1.8 2-1.8 1.9-1.6 2-1.5 1.9-1.4 2-1.4 1.9-1.2 2-1.1 1.9-1 2-1 1.9-0.8 2-0.7 1.9-0.7 2-0.5 1.9-0.4 1.9-0.4 2-0.2 1.9-0.2 1.9 0 2 0 1.9 0.2 1.9 0.2 1.9 0.3 1.9 0.4 1.9 0.5 1.9 0.6 1.9 0.7 1.9 0.8 1.9 0.9 1.9 1 1.9 1.1 1.9 1.1 1.8 1.3 1.9 1.3 1.8 1.4 1.9 1.5 1.8 1.6 1.9 1.7 1.8 1.8 1.9 1.9 1.8 1.9 1.8 2.1 1.8 2.1 1.8 2.2M199.9 647.1l1.9-4.4 1.9-4.3 1.9-4.2 2-4 1.9-4 1.9-3.8 1.9-3.7 2-3.7 1.9-3.5 1.9-3.4 2-3.3 1.9-3.2 2-3 1.9-3 1.9-2.9 2-2.7 1.9-2.7 2-2.5 2-2.5 1.9-2.3 2-2.3 1.9-2.1 2-2 1.9-2 2-1.8 1.9-1.7 2-1.6 1.9-1.5 2-1.5 2-1.3 1.9-1.2 2-1.1 1.9-1 2-1 1.9-0.8 2-0.7 1.9-0.6 1.9-0.6 2-0.4 1.9-0.3 2-0.3 1.9-0.1 1.9-0.1 1.9 0.1 2 0.1 1.9 0.3 1.9 0.3 1.9 0.4 1.9 0.5 1.9 0.7 1.9 0.7 1.9 0.8 1.9 0.8 1.9 1 1.9 1.1 1.9 1.2 1.8 1.2 1.9 1.3 1.9 1.5 1.8 1.5 1.9 1.6 1.8 1.7 1.9 1.8 1.8 1.8 1.8 2 1.8 2 1.9 2.2 1.8 2.2M197.7 644.1l2-4.4 1.9-4.2 1.9-4.2 1.9-4 1.9-4 1.9-3.8 2-3.7 1.9-3.6 1.9-3.5 2-3.4 1.9-3.3 2-3.2 1.9-3.1 2-2.9 1.9-2.9 1.9-2.7 2-2.7 2-2.5 1.9-2.5 2-2.3 1.9-2.2 2-2.1 1.9-2.1 2-1.9 1.9-1.8 2-1.7 2-1.6 1.9-1.5 2-1.4 1.9-1.4 2-1.2 1.9-1.1 2-1 1.9-0.9 2-0.8 1.9-0.7 2-0.6 1.9-0.6 2-0.4 1.9-0.3 1.9-0.3 2-0.1 1.9 0 1.9 0 2 0.2 1.9 0.2 1.9 0.4 1.9 0.4 1.9 0.5 1.9 0.6 1.9 0.7 1.9 0.8 1.9 0.9 1.9 1 1.9 1.1 1.9 1.1 1.9 1.3 1.8 1.3 1.9 1.5 1.9 1.5 1.8 1.6 1.9 1.7 1.8 1.8 1.8 1.9 1.9 1.9 1.8 2.1 1.8 2.1M195.6 641.2l1.9-4.4 1.9-4.2 1.9-4.2 1.9-4 2-3.9 1.9-3.9 1.9-3.7 1.9-3.6 2-3.4 1.9-3.4 2-3.3 1.9-3.2 2-3 1.9-3 1.9-2.8 2-2.8 1.9-2.6 2-2.5 2-2.5 1.9-2.3 2-2.2 1.9-2.1 2-2 1.9-1.9 2-1.8 2-1.8 1.9-1.6 2-1.5 1.9-1.4 2-1.3 1.9-1.2 2-1.1 2-1 1.9-0.9 2-0.8 1.9-0.7 2-0.6 1.9-0.5 1.9-0.4 2-0.4 1.9-0.2 2-0.1 1.9-0.1 1.9 0.1 2 0.2 1.9 0.2 1.9 0.4 1.9 0.4 1.9 0.5 1.9 0.6 2 0.8 1.9 0.8 1.9 0.9 1.8 0.9 1.9 1.1 1.9 1.2 1.9 1.2 1.9 1.4 1.8 1.4 1.9 1.6 1.9 1.6 1.8 1.7 1.8 1.8 1.9 1.8 1.8 2 1.8 2.1 1.9 2.1M193.4 638.3l1.9-4.3 1.9-4.3 2-4.1 1.9-4 1.9-3.9 1.9-3.8 2-3.7 1.9-3.6 1.9-3.5 2-3.4 1.9-3.2 1.9-3.2 2-3 1.9-3 2-2.8 1.9-2.8 2-2.6 1.9-2.5 2-2.4 2-2.3 1.9-2.2 2-2.1 1.9-2.1 2-1.9 2-1.8 1.9-1.7 2-1.5 1.9-1.5 2-1.4 1.9-1.3 2-1.2 2-1.1 1.9-1 2-0.9 1.9-0.8 2-0.7 1.9-0.6 2-0.5 1.9-0.4 2-0.4 1.9-0.2 1.9-0.1 2 0 1.9 0 1.9 0.2 2 0.3 1.9 0.3 1.9 0.4 1.9 0.6 1.9 0.6 2 0.7 1.9 0.8 1.9 0.9 1.9 1 1.8 1.1 1.9 1.2 1.9 1.2 1.9 1.4 1.9 1.4 1.8 1.6 1.9 1.6 1.8 1.7 1.9 1.8 1.8 1.9 1.9 1.9 1.8 2.1M191.3 635.5l1.9-4.3 1.9-4.2 1.9-4.2 1.9-4 1.9-3.9 2-3.8 1.9-3.7 1.9-3.5 2-3.5 1.9-3.4 1.9-3.2 2-3.2 1.9-3 2-2.9 1.9-2.9 2-2.7 1.9-2.6 2-2.5 2-2.4 1.9-2.3 2-2.2 1.9-2.1 2-2 1.9-1.9 2-1.8 2-1.7 1.9-1.6 2-1.5 1.9-1.4 2-1.2 2-1.2 1.9-1.1 2-1 1.9-0.9 2-0.8 1.9-0.7 2-0.6 1.9-0.5 2-0.4 1.9-0.3 2-0.2 1.9-0.1 2-0.1 1.9 0.1 1.9 0.2 2 0.2 1.9 0.4 1.9 0.4 1.9 0.6 1.9 0.6 2 0.7 1.9 0.9 1.9 0.9 1.9 1 1.9 1 1.8 1.2 1.9 1.3 1.9 1.4 1.9 1.4 1.8 1.5 1.9 1.7 1.9 1.7 1.8 1.8 1.9 1.8 1.8 2 1.8 2.1M189.1 632.8l1.9-4.3 1.9-4.3 1.9-4.1 2-4 1.9-3.9 1.9-3.8 1.9-3.6 2-3.6 1.9-3.5 1.9-3.3 2-3.2 1.9-3.2 2-3 1.9-2.9 2-2.9 1.9-2.7 2-2.6 1.9-2.5 2-2.4 2-2.3 1.9-2.2 2-2.1 1.9-1.9 2-1.9 2-1.8 1.9-1.7 2-1.6 1.9-1.5 2-1.3 2-1.3 1.9-1.2 2-1.1 1.9-1 2-0.8 2-0.8 1.9-0.7 2-0.6 1.9-0.5 2-0.4 1.9-0.3 2-0.2 1.9-0.1 1.9 0 2 0 1.9 0.2 1.9 0.3 2 0.3 1.9 0.5 1.9 0.5 1.9 0.7 1.9 0.7 2 0.8 1.9 0.9 1.9 1 1.9 1.1 1.8 1.2 1.9 1.3 1.9 1.4 1.9 1.4 1.9 1.5 1.8 1.7 1.9 1.7 1.8 1.8 1.9 1.9 1.8 1.9M186.9 630.1l1.9-4.3 2-4.2 1.9-4.1 1.9-4 1.9-3.9 1.9-3.8 2-3.6 1.9-3.6 1.9-3.4 2-3.4 1.9-3.2 2-3.1 1.9-3.1 2-2.9 1.9-2.8 2-2.7 1.9-2.6 2-2.5 1.9-2.4 2-2.3 2-2.2 1.9-2 2-2 1.9-1.9 2-1.8 2-1.6 1.9-1.6 2-1.5 2-1.4 1.9-1.2 2-1.2 1.9-1.1 2-0.9 2-0.9 1.9-0.8 2-0.7 1.9-0.6 2-0.5 1.9-0.3 2-0.3 1.9-0.2 2-0.1 1.9-0.1 2 0.1 1.9 0.2 1.9 0.3 2 0.3 1.9 0.5 1.9 0.5 1.9 0.7 1.9 0.7 2 0.9 1.9 0.9 1.9 1 1.9 1.1 1.9 1.2 1.8 1.2 1.9 1.4 1.9 1.5 1.9 1.5 1.9 1.6 1.8 1.7 1.9 1.8 1.8 1.9 1.9 2M184.8 627.5l1.9-4.4 1.9-4.2 1.9-4 1.9-4 2-3.9 1.9-3.8 1.9-3.6 1.9-3.6 2-3.4 1.9-3.3 2-3.2 1.9-3.2 2-3 1.9-2.9 2-2.8 1.9-2.7 2-2.6 1.9-2.5 2-2.3 1.9-2.3 2-2.2 2-2.1 1.9-1.9 2-1.9 2-1.8 1.9-1.6 2-1.6 1.9-1.5 2-1.3 2-1.3 1.9-1.2 2-1 2-1 1.9-0.9 2-0.7 1.9-0.7 2-0.6 1.9-0.5 2-0.3 1.9-0.3 2-0.2 1.9-0.1 2 0 1.9 0.1 2 0.1 1.9 0.3 1.9 0.4 2 0.5 1.9 0.5 1.9 0.7 1.9 0.7 1.9 0.8 2 0.9 1.9 1.1 1.9 1.1 1.9 1.1 1.9 1.3 1.8 1.4 1.9 1.5 1.9 1.5 1.9 1.6 1.8 1.8 1.9 1.8 1.8 1.9M182.6 624.9l1.9-4.3 1.9-4.2 1.9-4.1 2-4 1.9-3.8 1.9-3.8 1.9-3.6 2-3.6 1.9-3.4 2-3.3 1.9-3.2 1.9-3.1 2-3 1.9-2.9 2-2.8 1.9-2.7 2-2.6 2-2.5 1.9-2.3 2-2.3 1.9-2.2 2-2 2-2 1.9-1.9 2-1.7 2-1.7 1.9-1.5 2-1.5 2-1.3 1.9-1.3 2-1.2 1.9-1 2-1 2-0.8 1.9-0.8 2-0.7 2-0.5 1.9-0.5 2-0.4 1.9-0.3 2-0.2 1.9-0.1 2 0 1.9 0.1 1.9 0.2 2 0.3 1.9 0.4 1.9 0.5 2 0.5 1.9 0.7 1.9 0.7 1.9 0.8 1.9 1 2 1 1.9 1.1 1.9 1.2 1.9 1.3 1.8 1.3 1.9 1.5 1.9 1.6 1.9 1.6 1.9 1.7 1.8 1.8 1.9 1.9M180.4 622.3l1.9-4.3 2-4.1 1.9-4.1 1.9-4 1.9-3.8 1.9-3.8 2-3.6 1.9-3.5 1.9-3.4 2-3.3 1.9-3.2 2-3.1 1.9-3 2-2.9 1.9-2.8 2-2.7 1.9-2.5 2-2.5 2-2.4 1.9-2.2 2-2.2 1.9-2.1 2-1.9 2-1.9 1.9-1.7 2-1.7 2-1.5 1.9-1.5 2-1.3 2-1.3 1.9-1.1 2-1.1 2-0.9 1.9-0.9 2-0.7 1.9-0.7 2-0.6 2-0.4 1.9-0.4 2-0.3 1.9-0.2 2 0 1.9 0 2 0.1 1.9 0.2 2 0.2 1.9 0.4 1.9 0.5 2 0.6 1.9 0.6 1.9 0.8 1.9 0.8 1.9 0.9 1.9 1.1 2 1.1 1.9 1.2 1.9 1.3 1.8 1.3 1.9 1.5 1.9 1.6 1.9 1.6 1.9 1.7 1.8 1.8M178.3 619.8l1.9-4.2 1.9-4.2 1.9-4.1 1.9-3.9 2-3.8 1.9-3.8 1.9-3.6 1.9-3.5 2-3.4 1.9-3.3 2-3.2 1.9-3.1 2-3 1.9-2.9 2-2.7 1.9-2.7 2-2.6 1.9-2.4 2-2.4 2-2.2 1.9-2.2 2-2 1.9-2 2-1.8 2-1.8 1.9-1.6 2-1.5 2-1.5 1.9-1.3 2-1.3 2-1.1 1.9-1.1 2-0.9 2-0.9 1.9-0.7 2-0.7 2-0.5 1.9-0.5 2-0.3 1.9-0.3 2-0.2 1.9-0.1 2 0 1.9 0.1 2 0.2 1.9 0.3 2 0.4 1.9 0.5 1.9 0.6 2 0.6 1.9 0.8 1.9 0.8 1.9 1 1.9 1 1.9 1.1 2 1.2 1.9 1.3 1.8 1.4 1.9 1.4 1.9 1.6 1.9 1.6 1.9 1.8 1.8 1.8M176.1 617.4l1.9-4.3 1.9-4.1 1.9-4.1 2-3.9 1.9-3.8 1.9-3.7 1.9-3.7 2-3.5 1.9-3.4 2-3.3 1.9-3.1 1.9-3.1 2-3 1.9-2.9 2-2.7 2-2.7 1.9-2.5 2-2.5 1.9-2.3 2-2.3 2-2.1 1.9-2.1 2-1.9 2-1.8 1.9-1.8 2-1.6 2-1.5 1.9-1.5 2-1.3 2-1.2 1.9-1.2 2-1 2-0.9 1.9-0.9 2-0.7 2-0.7 1.9-0.5 2-0.5 1.9-0.4 2-0.2 2-0.2 1.9-0.1 2 0.1 1.9 0.1 2 0.2 1.9 0.3 1.9 0.4 2 0.4 1.9 0.6 1.9 0.7 2 0.7 1.9 0.9 1.9 0.9 1.9 1.1 1.9 1.1 1.9 1.2 1.9 1.3 1.9 1.4 1.9 1.4 1.9 1.6 1.9 1.6 1.9 1.8M173.9 615l1.9-4.2 2-4.2 1.9-4 1.9-3.9 1.9-3.9 1.9-3.7 2-3.6 1.9-3.5 1.9-3.4 2-3.2 1.9-3.2 2-3.1 1.9-2.9 2-2.9 1.9-2.8 2-2.6 1.9-2.5 2-2.5 2-2.3 1.9-2.3 2-2.1 2-2 1.9-2 2-1.8 2-1.7 1.9-1.6 2-1.6 2-1.4 1.9-1.3 2-1.2 2-1.2 1.9-1 2-0.9 2-0.9 1.9-0.7 2-0.7 2-0.5 1.9-0.5 2-0.3 2-0.3 1.9-0.1 2-0.1 1.9 0 2 0.1 1.9 0.3 2 0.3 1.9 0.4 1.9 0.4 2 0.6 1.9 0.7 1.9 0.8 2 0.8 1.9 1 1.9 1 1.9 1.1 1.9 1.2 1.9 1.3 1.9 1.4 1.9 1.5 1.9 1.5 1.9 1.7 1.9 1.7M171.8 612.7l1.9-4.2 1.9-4.2 1.9-4 1.9-3.9 1.9-3.8 2-3.7 1.9-3.6 1.9-3.5 2-3.4 1.9-3.3 2-3.1 1.9-3.1 2-2.9 1.9-2.9 2-2.7 1.9-2.7 2-2.5 1.9-2.4 2-2.4 2-2.2 1.9-2.1 2-2 2-2 1.9-1.8 2-1.7 2-1.6 1.9-1.5 2-1.5 2-1.3 1.9-1.2 2-1.1 2-1.1 2-0.9 1.9-0.8 2-0.7 2-0.7 1.9-0.5 2-0.5 1.9-0.3 2-0.3 2-0.1 1.9-0.1 2 0 1.9 0.2 2 0.2 1.9 0.3 2 0.4 1.9 0.5 2 0.6 1.9 0.6 1.9 0.8 2 0.9 1.9 0.9 1.9 1.1 1.9 1.1 1.9 1.2 1.9 1.3 1.9 1.4 1.9 1.5 1.9 1.5 1.9 1.7M169.6 610.4l1.9-4.2 1.9-4.1 1.9-4.1 1.9-3.9 2-3.8 1.9-3.7 1.9-3.5 2-3.5 1.9-3.4 1.9-3.2 2-3.2 1.9-3 2-3 1.9-2.8 2-2.8 1.9-2.6 2-2.5 2-2.5 1.9-2.3 2-2.2 2-2.1 1.9-2 2-1.9 2-1.8 1.9-1.8 2-1.6 2-1.5 1.9-1.4 2-1.3 2-1.2 2-1.1 1.9-1.1 2-0.9 2-0.8 1.9-0.7 2-0.7 2-0.5 1.9-0.4 2-0.4 2-0.2 1.9-0.2 2 0 1.9 0 2 0.1 1.9 0.3 2 0.3 1.9 0.4 2 0.5 1.9 0.6 2 0.6 1.9 0.8 1.9 0.9 2 0.9 1.9 1.1 1.9 1.1 1.9 1.2 1.9 1.3 1.9 1.4 1.9 1.5 1.9 1.6 1.9 1.6M167.4 608.2l1.9-4.2 1.9-4.2 2-4 1.9-3.9 1.9-3.7 1.9-3.7 2-3.6 1.9-3.5 1.9-3.3 2-3.3 1.9-3.1 2-3.1 1.9-2.9 2-2.8 1.9-2.7 2-2.7 1.9-2.5 2-2.4 2-2.3 1.9-2.2 2-2.1 2-2 1.9-2 2-1.8 2-1.7 1.9-1.6 2-1.5 2-1.4 2-1.3 1.9-1.2 2-1.1 2-1 1.9-0.9 2-0.8 2-0.8 2-0.6 1.9-0.5 2-0.4 2-0.4 1.9-0.2 2-0.2 1.9 0 2 0 2 0.2 1.9 0.2 2 0.3 1.9 0.4 2 0.5 1.9 0.6 1.9 0.7 2 0.8 1.9 0.8 1.9 1 2 1 1.9 1.2 1.9 1.2 1.9 1.3 1.9 1.4 1.9 1.5 1.9 1.6M165.2 606l2-4.2 1.9-4.1 1.9-4 1.9-3.9 1.9-3.8 1.9-3.6 2-3.6 1.9-3.5 1.9-3.3 2-3.2 1.9-3.2 2-3 1.9-2.9 2-2.9 1.9-2.7 2-2.6 2-2.5 1.9-2.4 2-2.3 1.9-2.2 2-2.1 2-2 2-1.9 1.9-1.8 2-1.7 2-1.6 1.9-1.5 2-1.4 2-1.3 2-1.2 1.9-1.1 2-1 2-0.9 2-0.8 1.9-0.7 2-0.7 2-0.5 1.9-0.4 2-0.3 2-0.3 1.9-0.1 2-0.1 2 0.1 1.9 0.1 2 0.3 1.9 0.3 2 0.4 1.9 0.5 2 0.6 1.9 0.7 1.9 0.8 2 0.8 1.9 1 1.9 1.1 2 1.1 1.9 1.2 1.9 1.3 1.9 1.4 1.9 1.5 1.9 1.6M163.1 603.9l1.9-4.2 1.9-4.1 1.9-4 1.9-3.9 1.9-3.7 2-3.7 1.9-3.6 1.9-3.4 2-3.3 1.9-3.3 2-3.1 1.9-3 2-2.9 1.9-2.9 2-2.7 1.9-2.6 2-2.5 1.9-2.4 2-2.3 2-2.2 1.9-2.1 2-1.9 2-1.9 2-1.8 1.9-1.7 2-1.6 2-1.5 1.9-1.4 2-1.3 2-1.2 2-1.1 1.9-1 2-0.9 2-0.8 2-0.7 1.9-0.6 2-0.5 2-0.4 1.9-0.3 2-0.3 2-0.1 1.9 0 2 0 2 0.1 1.9 0.3 2 0.3 1.9 0.4 2 0.5 1.9 0.6 2 0.7 1.9 0.8 1.9 0.9 2 1 1.9 1 1.9 1.2 2 1.2 1.9 1.3 1.9 1.4 1.9 1.5M160.9 601.8l1.9-4.2 1.9-4.1 1.9-3.9 1.9-3.9 2-3.8 1.9-3.6 1.9-3.6 2-3.4 1.9-3.3 1.9-3.3 2-3.1 1.9-3 2-2.9 1.9-2.8 2-2.7 1.9-2.6 2-2.5 2-2.4 1.9-2.3 2-2.2 2-2 1.9-2 2-1.9 2-1.8 2-1.7 1.9-1.5 2-1.5 2-1.4 2-1.3 1.9-1.2 2-1.1 2-1 2-0.9 1.9-0.8 2-0.7 2-0.6 2-0.5 1.9-0.4 2-0.3 2-0.2 1.9-0.2 2 0 2 0.1 1.9 0.1 2 0.3 1.9 0.3 2 0.4 1.9 0.5 2 0.6 1.9 0.7 2 0.8 1.9 0.9 1.9 1 2 1 1.9 1.2 1.9 1.2 2 1.3 1.9 1.4 1.9 1.5M158.7 599.8l1.9-4.2 1.9-4.1 2-3.9 1.9-3.9 1.9-3.7 1.9-3.7 1.9-3.5 2-3.4 1.9-3.4 2-3.2 1.9-3.1 2-3 1.9-2.9 2-2.8 1.9-2.7 2-2.6 1.9-2.5 2-2.3 2-2.3 1.9-2.2 2-2.1 2-1.9 1.9-1.9 2-1.8 2-1.7 2-1.5 1.9-1.5 2-1.4 2-1.3 2-1.2 1.9-1 2-1 2-0.9 2-0.8 1.9-0.7 2-0.6 2-0.5 2-0.4 1.9-0.3 2-0.2 2-0.2 1.9 0 2 0.1 2 0.1 1.9 0.3 2 0.3 1.9 0.4 2 0.6 1.9 0.6 2 0.7 1.9 0.8 2 0.8 1.9 1 2 1.1 1.9 1.1 1.9 1.3 1.9 1.3 1.9 1.4M156.5 597.8l2-4.2 1.9-4 1.9-4 1.9-3.8 1.9-3.8 1.9-3.6 2-3.5 1.9-3.4 1.9-3.4 2-3.2 1.9-3.1 2-3 1.9-2.8 2-2.8 1.9-2.7 2-2.6 2-2.5 1.9-2.3 2-2.3 2-2.2 1.9-2.1 2-1.9 2-1.9 1.9-1.8 2-1.6 2-1.6 2-1.5 1.9-1.3 2-1.3 2-1.2 2-1 2-1 1.9-0.9 2-0.8 2-0.7 2-0.6 1.9-0.5 2-0.4 2-0.3 1.9-0.2 2-0.1 2 0 2 0 1.9 0.2 2 0.2 1.9 0.4 2 0.4 2 0.5 1.9 0.7 2 0.7 1.9 0.8 1.9 0.8 2 1 1.9 1.1 2 1.1 1.9 1.3 1.9 1.3 1.9 1.4M154.4 595.9l1.9-4.2 1.9-4 1.9-4 1.9-3.8 1.9-3.7 2-3.7 1.9-3.5 1.9-3.4 2-3.3 1.9-3.2 2-3.1 1.9-3 2-2.8 1.9-2.8 2-2.7 1.9-2.6 2-2.4 1.9-2.4 2-2.3 2-2.1 1.9-2.1 2-2 2-1.8 2-1.8 1.9-1.6 2-1.6 2-1.5 2-1.3 1.9-1.3 2-1.1 2-1.1 2-1 2-0.9 1.9-0.7 2-0.7 2-0.6 2-0.5 1.9-0.4 2-0.3 2-0.2 2-0.1 1.9 0 2 0 2 0.2 1.9 0.2 2 0.4 2 0.4 1.9 0.6 2 0.6 1.9 0.7 2 0.8 1.9 0.9 2 1 1.9 1 1.9 1.2 2 1.2 1.9 1.4M152.2 594l1.9-4.1 1.9-4.1 1.9-3.9 1.9-3.9 2-3.7 1.9-3.6 1.9-3.5 2-3.4 1.9-3.3 1.9-3.2 2-3 1.9-3 2-2.9 1.9-2.8 2-2.6 1.9-2.6 2-2.5 2-2.3 1.9-2.3 2-2.1 2-2.1 1.9-1.9 2-1.9 2-1.7 2-1.7 1.9-1.5 2-1.5 2-1.4 2-1.2 2-1.2 1.9-1 2-1 2-0.9 2-0.7 2-0.7 1.9-0.6 2-0.5 2-0.4 2-0.3 1.9-0.2 2-0.1 2 0 1.9 0.1 2 0.1 2 0.3 1.9 0.4 2 0.4 2 0.5 1.9 0.7 2 0.7 1.9 0.8 2 0.9 1.9 0.9 2 1.1 1.9 1.2 1.9 1.2 2 1.4M150 592.2l1.9-4.2 1.9-4 1.9-3.9 2-3.8 1.9-3.7 1.9-3.6 1.9-3.5 2-3.4 1.9-3.3 2-3.2 1.9-3.1 1.9-2.9 2-2.9 1.9-2.8 2-2.6 2-2.6 1.9-2.4 2-2.4 2-2.2 1.9-2.2 2-2 2-2 1.9-1.8 2-1.8 2-1.6 2-1.5 1.9-1.5 2-1.3 2-1.3 2-1.1 2-1.1 1.9-1 2-0.8 2-0.8 2-0.7 2-0.5 1.9-0.5 2-0.4 2-0.3 2-0.2 1.9-0.1 2 0 2 0.1 2 0.1 1.9 0.3 2 0.4 2 0.4 1.9 0.5 2 0.7 1.9 0.7 2 0.8 1.9 0.9 2 1 1.9 1.1 2 1.1 1.9 1.3M147.8 590.4l1.9-4.1 2-4.1 1.9-3.9 1.9-3.8 1.9-3.7 1.9-3.6 2-3.5 1.9-3.3 1.9-3.3 2-3.2 1.9-3 2-3 1.9-2.9 2-2.7 1.9-2.7 2-2.5 1.9-2.5 2-2.3 2-2.2 1.9-2.2 2-2 2-2 2-1.8 1.9-1.7 2-1.7 2-1.5 2-1.4 2-1.4 1.9-1.2 2-1.2 2-1 2-1 2-0.8 1.9-0.8 2-0.7 2-0.5 2-0.5 2-0.4 1.9-0.3 2-0.2 2-0.1 2 0 1.9 0.1 2 0.2 2 0.3 1.9 0.3 2 0.5 2 0.5 1.9 0.6 2 0.8 1.9 0.8 2 0.9 1.9 1 2 1 1.9 1.2 2 1.3M145.7 588.7l1.9-4.1 1.9-4.1 1.9-3.9 1.9-3.8 1.9-3.7 2-3.5 1.9-3.5 1.9-3.4 2-3.3 1.9-3.1 1.9-3.1 2-2.9 1.9-2.9 2-2.7 1.9-2.7 2-2.5 2-2.4 1.9-2.4 2-2.2 2-2.1 1.9-2.1 2-1.9 2-1.8 2-1.7 1.9-1.7 2-1.5 2-1.4 2-1.4 2-1.2 1.9-1.2 2-1 2-1 2-0.8 2-0.8 2-0.6 1.9-0.6 2-0.5 2-0.3 2-0.3 2-0.2 1.9-0.1 2 0 2 0.1 1.9 0.2 2 0.3 2 0.3 2 0.5 1.9 0.5 2 0.7 1.9 0.7 2 0.8 1.9 0.9 2 1 1.9 1.1 2 1.1M143.5 587l1.9-4.1 1.9-4 1.9-3.9 1.9-3.8 1.9-3.7 2-3.6 1.9-3.4 1.9-3.4 2-3.2 1.9-3.2 2-3 1.9-3 2-2.8 1.9-2.8 2-2.6 1.9-2.5 2-2.5 2-2.3 1.9-2.2 2-2.1 2-2.1 1.9-1.9 2-1.8 2-1.7 2-1.6 1.9-1.6 2-1.4 2-1.3 2-1.3 2-1.1 2-1 1.9-1 2-0.8 2-0.8 2-0.6 2-0.6 1.9-0.4 2-0.4 2-0.3 2-0.2 2-0.1 1.9 0 2 0.1 2 0.2 2 0.3 1.9 0.4 2 0.4 2 0.6 1.9 0.6 2 0.7 1.9 0.9 2 0.9 2 1 1.9 1.1 2 1.1M141.3 585.4l1.9-4.1 1.9-4 1.9-3.9 2-3.8 1.9-3.7 1.9-3.5 1.9-3.5 2-3.3 1.9-3.3 1.9-3.1 2-3.1 1.9-2.9 2-2.8 1.9-2.8 2-2.6 1.9-2.5 2-2.4 2-2.4 1.9-2.2 2-2.1 2-2 2-1.9 1.9-1.8 2-1.8 2-1.6 2-1.5 1.9-1.4 2-1.3 2-1.3 2-1.1 2-1 2-1 1.9-0.8 2-0.7 2-0.7 2-0.5 2-0.5 2-0.4 1.9-0.2 2-0.2 2-0.1 2 0 2 0.1 1.9 0.2 2 0.3 2 0.4 1.9 0.4 2 0.6 2 0.6 1.9 0.8 2 0.8 2 0.9 1.9 1 2 1.1M139.1 583.8l1.9-4.1 1.9-4 2-3.9 1.9-3.7 1.9-3.7 1.9-3.6 1.9-3.4 2-3.3 1.9-3.3 2-3.1 1.9-3.1 1.9-2.9 2-2.8 1.9-2.7 2-2.6 2-2.6 1.9-2.4 2-2.3 2-2.2 1.9-2.1 2-2 2-1.9 2-1.8 1.9-1.7 2-1.6 2-1.6 2-1.4 2-1.3 1.9-1.2 2-1.1 2-1.1 2-0.9 2-0.8 2-0.8 1.9-0.6 2-0.5 2-0.5 2-0.4 2-0.2 2-0.2 1.9-0.1 2 0 2 0.1 2 0.2 2 0.3 1.9 0.4 2 0.5 2 0.5 1.9 0.7 2 0.7 2 0.8 1.9 1 2 1 1.9 1.1M137 582.3l1.9-4.1 1.9-4 1.9-3.9 1.9-3.7 1.9-3.7 1.9-3.5 2-3.5 1.9-3.3 1.9-3.2 2-3.2 1.9-3 2-2.9 1.9-2.8 2-2.7 1.9-2.6 2-2.5 1.9-2.4 2-2.4 2-2.2 2-2.1 1.9-2 2-1.9 2-1.8 2-1.7 1.9-1.6 2-1.5 2-1.4 2-1.3 2-1.2 1.9-1.1 2-1 2-1 2-0.8 2-0.7 2-0.7 2-0.5 1.9-0.5 2-0.3 2-0.3 2-0.1 2-0.1 2 0 1.9 0.1 2 0.2 2 0.3 2 0.4 1.9 0.5 2 0.5 2 0.7 1.9 0.7 2 0.8 2 1 1.9 1M134.8 580.8l1.9-4.1 1.9-4 1.9-3.8 1.9-3.8 1.9-3.6 2-3.6 1.9-3.4 1.9-3.3 2-3.2 1.9-3.2 1.9-3 2-2.9 1.9-2.8 2-2.7 1.9-2.6 2-2.5 2-2.4 1.9-2.3 2-2.2 2-2.1 1.9-2 2-1.9 2-1.8 2-1.7 2-1.5 1.9-1.5 2-1.4 2-1.4 2-1.2 2-1.1 2-1 1.9-0.9 2-0.8 2-0.7 2-0.7 2-0.5 2-0.5 2-0.3 1.9-0.3 2-0.1 2-0.1 2 0 2 0.1 2 0.2 1.9 0.3 2 0.4 2 0.5 2 0.6 1.9 0.6 2 0.8 2 0.8 1.9 0.9 2 1M132.6 579.3l1.9-4 1.9-4 1.9-3.8 1.9-3.8 2-3.6 1.9-3.5 1.9-3.5 1.9-3.3 2-3.2 1.9-3.1 2-3 1.9-2.9 2-2.8 1.9-2.7 2-2.6 1.9-2.5 2-2.4 2-2.3 1.9-2.1 2-2.1 2-2 1.9-1.9 2-1.8 2-1.7 2-1.6 2-1.5 1.9-1.4 2-1.3 2-1.2 2-1.1 2-1 2-0.9 2-0.8 1.9-0.7 2-0.7 2-0.5 2-0.4 2-0.4 2-0.2 2-0.2 1.9 0 2 0 2 0.1 2 0.2 2 0.3 2 0.4 1.9 0.5 2 0.5 2 0.7 1.9 0.8 2 0.8 2 0.9M130.4 577.9l1.9-4 1.9-4 2-3.8 1.9-3.7 1.9-3.6 1.9-3.6 1.9-3.4 2-3.3 1.9-3.2 1.9-3.1 2-3 1.9-2.9 2-2.8 1.9-2.7 2-2.5 1.9-2.5 2-2.4 2-2.3 1.9-2.2 2-2.1 2-1.9 2-1.9 1.9-1.8 2-1.7 2-1.6 2-1.5 2-1.3 1.9-1.3 2-1.2 2-1.1 2-1 2-0.9 2-0.8 2-0.8 2-0.6 1.9-0.5 2-0.4 2-0.4 2-0.2 2-0.2 2 0 2 0 2 0.1 1.9 0.2 2 0.3 2 0.4 2 0.5 1.9 0.6 2 0.6 2 0.8 2 0.8 1.9 1M128.3 576.6l1.9-4 1.9-4 1.9-3.8 1.9-3.7 1.9-3.6 1.9-3.5 2-3.5 1.9-3.3 1.9-3.2 2-3 1.9-3 1.9-2.9 2-2.8 1.9-2.7 2-2.6 2-2.4 1.9-2.4 2-2.3 2-2.2 1.9-2 2-2 2-1.9 2-1.8 1.9-1.6 2-1.6 2-1.5 2-1.4 2-1.3 2-1.1 1.9-1.1 2-1 2-0.9 2-0.8 2-0.7 2-0.7 2-0.5 2-0.4 2-0.3 1.9-0.3 2-0.1 2-0.1 2 0 2 0.2 2 0.2 2 0.3 1.9 0.4 2 0.5 2 0.5 2 0.7 1.9 0.8 2 0.8M126.1 575.3l1.9-4 1.9-3.9 1.9-3.9 1.9-3.7 1.9-3.6 1.9-3.5 2-3.4 1.9-3.3 1.9-3.2 2-3 1.9-3 2-2.9 1.9-2.8 2-2.7 1.9-2.5 2-2.5 1.9-2.4 2-2.2 2-2.2 2-2.1 1.9-1.9 2-1.9 2-1.8 2-1.6 1.9-1.6 2-1.5 2-1.3 2-1.3 2-1.2 2-1.1 2-1 1.9-0.9 2-0.8 2-0.7 2-0.6 2-0.5 2-0.4 2-0.4 2-0.2 2-0.2 1.9 0 2 0 2 0.2 2 0.2 2 0.3 2 0.4 2 0.5 1.9 0.6 2 0.6 2 0.8 2 0.8M123.9 574.1l1.9-4.1 1.9-3.9 1.9-3.8 1.9-3.7 2-3.6 1.9-3.5 1.9-3.4 1.9-3.2 2-3.2 1.9-3.1 1.9-3 2-2.8 1.9-2.8 2-2.7 1.9-2.5 2-2.5 2-2.4 1.9-2.2 2-2.2 2-2 1.9-2 2-1.9 2-1.7 2-1.7 2-1.5 1.9-1.5 2-1.4 2-1.3 2-1.1 2-1.1 2-1 2-0.9 2-0.8 1.9-0.7 2-0.6 2-0.5 2-0.4 2-0.3 2-0.3 2-0.1 2-0.1 2 0.1 2 0.1 1.9 0.2 2 0.3 2 0.5 2 0.4 2 0.6 2 0.7 1.9 0.8 2 0.8M121.8 572.9l1.8-4 1.9-3.9 2-3.8 1.9-3.7 1.9-3.6 1.9-3.5 1.9-3.4 2-3.3 1.9-3.1 1.9-3.1 2-3 1.9-2.8 2-2.8 1.9-2.7 2-2.5 1.9-2.5 2-2.3 2-2.3 1.9-2.1 2-2.1 2-1.9 1.9-1.9 2-1.7 2-1.7 2-1.5 2-1.5 2-1.4 1.9-1.2 2-1.2 2-1.1 2-1 2-0.9 2-0.7 2-0.7 2-0.6 2-0.5 2-0.5 1.9-0.3 2-0.2 2-0.1 2-0.1 2 0.1 2 0.1 2 0.2 2 0.3 2 0.5 1.9 0.5 2 0.5 2 0.7 2 0.8M119.6 571.7l1.9-4 1.9-3.9 1.9-3.8 1.9-3.7 1.9-3.5 1.9-3.5 1.9-3.4 2-3.3 1.9-3.1 1.9-3.1 2-2.9 1.9-2.9 2-2.7 1.9-2.7 2-2.5 1.9-2.5 2-2.3 2-2.3 1.9-2.1 2-2.1 2-1.9 2-1.9 1.9-1.7 2-1.7 2-1.5 2-1.5 2-1.3 2-1.3 1.9-1.1 2-1.1 2-1 2-0.9 2-0.8 2-0.6 2-0.6 2-0.5 2-0.4 2-0.4 2-0.2 2-0.1 1.9-0.1 2 0.1 2 0.1 2 0.3 2 0.3 2 0.4 2 0.5 2 0.6 1.9 0.7 2 0.7M117.4 570.6l1.9-4 1.9-3.9 1.9-3.7 1.9-3.7 1.9-3.6 1.9-3.5 2-3.3 1.9-3.3 1.9-3.1 2-3.1 1.9-2.9 2-2.9 1.9-2.7 2-2.7 1.9-2.5 2-2.4 1.9-2.4 2-2.2 2-2.2 1.9-2 2-1.9 2-1.9 2-1.7 1.9-1.7 2-1.5 2-1.5 2-1.3 2-1.3 2-1.1 2-1.1 2-1 1.9-0.8 2-0.8 2-0.7 2-0.6 2-0.5 2-0.4 2-0.3 2-0.2 2-0.2 2 0 2 0.1 2 0.1 2 0.2 1.9 0.4 2 0.4 2 0.5 2 0.6 2 0.7M115.2 569.6l1.9-4 1.9-3.9 1.9-3.8 1.9-3.6 2-3.6 1.9-3.5 1.9-3.3 1.9-3.3 2-3.1 1.9-3.1 1.9-2.9 2-2.8 1.9-2.8 2-2.6 1.9-2.5 2-2.5 2-2.3 1.9-2.2 2-2.2 2-2 1.9-1.9 2-1.9 2-1.7 2-1.6 1.9-1.6 2-1.4 2-1.4 2-1.2 2-1.2 2-1 2-1 2-0.9 2-0.7 2-0.7 2-0.6 1.9-0.5 2-0.4 2-0.3 2-0.2 2-0.1 2-0.1 2 0.1 2 0.1 2 0.3 2 0.3 2 0.4 2 0.5 1.9 0.6 2 0.7M113.1 568.6l1.9-4 1.9-3.9 1.9-3.8 1.9-3.6 1.9-3.6 1.9-3.4 1.9-3.4 2-3.2 1.9-3.1 1.9-3.1 2-2.9 1.9-2.8 1.9-2.8 2-2.6 2-2.5 1.9-2.5 2-2.3 1.9-2.2 2-2.1 2-2.1 2-1.9 1.9-1.8 2-1.7 2-1.7 2-1.5 2-1.4 1.9-1.4 2-1.2 2-1.2 2-1 2-1 2-0.8 2-0.8 2-0.7 2-0.6 2-0.5 2-0.4 2-0.3 2-0.2 2-0.1 1.9 0 2 0 2 0.2 2 0.2 2 0.4 2 0.4 2 0.5 2 0.6M110.9 567.6l1.9-4 1.9-3.8 1.9-3.8 1.9-3.6 1.9-3.6 1.9-3.4 2-3.4 1.9-3.2 1.9-3.1 1.9-3.1 2-2.9 1.9-2.8 2-2.7 1.9-2.6 2-2.6 1.9-2.4 2-2.3 2-2.2 1.9-2.1 2-2.1 2-1.9 2-1.8 1.9-1.7 2-1.6 2-1.6 2-1.4 2-1.3 2-1.3 1.9-1.1 2-1.1 2-0.9 2-0.9 2-0.7 2-0.7 2-0.6 2-0.5 2-0.4 2-0.3 2-0.2 2-0.1 2 0 2 0.1 2 0.1 2 0.3 2 0.3 1.9 0.4 2 0.5 2 0.6M108.7 566.7l1.9-4 1.9-3.8 1.9-3.8 1.9-3.6 1.9-3.6 2-3.4 1.9-3.3 1.9-3.2 1.9-3.2 2-3 1.9-2.9 2-2.8 1.9-2.7 2-2.7 1.9-2.5 2-2.4 1.9-2.3 2-2.2 2-2.1 1.9-2 2-1.9 2-1.8 2-1.8 1.9-1.6 2-1.5 2-1.4 2-1.4 2-1.2 2-1.1 2-1.1 2-0.9 1.9-0.9 2-0.7 2-0.7 2-0.6 2-0.5 2-0.3 2-0.3 2-0.2 2-0.1 2-0.1 2 0.1 2 0.2 2 0.2 2 0.4 2 0.4 2 0.5M106.6 565.8l1.9-3.9 1.9-3.9 1.9-3.7 1.9-3.7 1.9-3.5 1.9-3.4 1.9-3.3 1.9-3.3 2-3.1 1.9-3 1.9-2.9 2-2.8 1.9-2.7 2-2.6 1.9-2.5 2-2.4 1.9-2.3 2-2.2 2-2.1 2-2 1.9-1.9 2-1.9 2-1.7 2-1.6 1.9-1.5 2-1.4 2-1.3 2-1.3 2-1.1 2-1 2-1 2-0.8 2-0.8 2-0.6 2-0.6 2-0.5 2-0.4 2-0.3 2-0.2 2-0.1 1.9 0 2 0.1 2 0.2 2 0.2 2 0.4 2 0.4 2 0.5M104.4 565l1.9-3.9 1.9-3.9 1.9-3.7 1.9-3.6 1.9-3.6 1.9-3.4 1.9-3.3 2-3.2 1.9-3.1 1.9-3 2-2.9 1.9-2.8 2-2.7 1.9-2.6 2-2.5 1.9-2.4 2-2.3 1.9-2.2 2-2.1 2-2 2-1.9 1.9-1.8 2-1.7 2-1.6 2-1.5 2-1.4 1.9-1.4 2-1.2 2-1.1 2-1 2-1 2-0.8 2-0.8 2-0.6 2-0.6 2-0.5 2-0.3 2-0.3 2-0.2 2-0.1 2 0 2 0 2 0.2 2 0.3 2 0.3 2 0.4M102.3 564.2l1.8-3.9 1.9-3.8 1.9-3.8 1.9-3.6 1.9-3.5 2-3.4 1.9-3.3 1.9-3.2 1.9-3.1 2-3 1.9-2.9 1.9-2.8 2-2.7 1.9-2.6 2-2.5 1.9-2.4 2-2.3 2-2.1 1.9-2.1 2-2 2-1.9 2-1.8 1.9-1.7 2-1.6 2-1.5 2-1.4 2-1.4 2-1.2 2-1.1 1.9-1 2-1 2-0.8 2-0.7 2-0.7 2-0.5 2-0.5 2-0.4 2-0.3 2-0.2 2-0.1 2 0 2 0.1 2 0.2 2 0.2 2 0.4 2 0.4M100.1 563.5l1.9-3.9 1.9-3.9 1.9-3.7 1.9-3.6 1.9-3.5 1.9-3.4 1.9-3.3 1.9-3.2 2-3.1 1.9-3 1.9-2.9 2-2.7 1.9-2.7 2-2.6 1.9-2.5 2-2.4 1.9-2.3 2-2.1 2-2.1 1.9-2 2-1.9 2-1.8 2-1.7 1.9-1.6 2-1.5 2-1.4 2-1.3 2-1.2 2-1.1 2-1 2-1 2-0.8 2-0.7 2-0.7 2-0.5 2-0.5 2-0.4 2-0.3 2-0.1 2-0.1 2 0 2 0 2 0.2 1.9 0.3 2 0.3M97.9 562.8l1.9-3.9 1.9-3.8 1.9-3.7 1.9-3.6 1.9-3.5 1.9-3.4 1.9-3.3 2-3.2 1.9-3.1 1.9-3 2-2.9 1.9-2.7 1.9-2.7 2-2.6 1.9-2.5 2-2.3 2-2.3 1.9-2.2 2-2.1 2-2 1.9-1.8 2-1.8 2-1.7 2-1.6 2-1.5 1.9-1.4 2-1.3 2-1.2 2-1.1 2-1 2-1 2-0.8 2-0.7 2-0.7 2-0.5 2-0.5 2-0.3 2-0.3 2-0.2 2-0.1 2 0 2 0.1 2 0.2 2 0.2 2 0.4M95.8 562.2l1.9-3.9 1.9-3.9 1.8-3.6 1.9-3.6 2-3.5 1.9-3.4 1.9-3.3 1.9-3.2 1.9-3.1 2-2.9 1.9-2.9 1.9-2.8 2-2.6 1.9-2.6 2-2.5 1.9-2.4 2-2.2 2-2.2 1.9-2.1 2-1.9 2-1.9 1.9-1.8 2-1.7 2-1.6 2-1.5 2-1.4 2-1.2 1.9-1.2 2-1.2 2-1 2-0.9 2-0.8 2-0.7 2-0.7 2-0.5 2-0.5 2-0.3 2-0.3 2-0.2 2-0.1 2 0 2 0.1 2 0.2 2 0.3M93.6 561.6l1.9-3.9 1.9-3.8 1.9-3.7 1.9-3.6 1.9-3.5 1.9-3.4 1.9-3.2 1.9-3.2 2-3.1 1.9-2.9 1.9-2.9 2-2.8 1.9-2.6 2-2.6 1.9-2.5 2-2.3 1.9-2.3 2-2.2 2-2 1.9-2 2-1.9 2-1.7 1.9-1.7 2-1.6 2-1.5 2-1.4 2-1.3 2-1.2 2-1.1 2-1 2-0.9 2-0.8 2-0.7 2-0.7 1.9-0.5 2.1-0.5 2-0.3 2-0.3 2-0.2 2 0 2 0 2 0.1 2 0.1 2 0.3M91.5 561l1.9-3.9 1.8-3.8 1.9-3.6 1.9-3.6 1.9-3.5 1.9-3.4 2-3.2 1.9-3.2 1.9-3.1 1.9-2.9 2-2.9 1.9-2.7 1.9-2.7 2-2.5 1.9-2.5 2-2.4 2-2.2 1.9-2.2 2-2 2-2 1.9-1.9 2-1.7 2-1.7 2-1.6 1.9-1.5 2-1.3 2-1.3 2-1.2 2-1.1 2-1 2-0.9 2-0.8 2-0.8 2-0.6 2-0.5 2-0.5 2-0.3 2-0.3 2-0.2 2 0 2 0 2 0.1 2 0.1 2 0.3M89.3 560.5l1.9-3.9 1.9-3.8 1.9-3.6 1.9-3.6 1.9-3.5 1.9-3.3 1.9-3.3 1.9-3.1 1.9-3.1 2-2.9 1.9-2.9 1.9-2.7 2-2.7 1.9-2.5 2-2.5 1.9-2.4 2-2.2 2-2.2 1.9-2 2-2 2-1.8 1.9-1.8 2-1.7 2-1.5 2-1.5 2-1.4 2-1.3 1.9-1.1 2-1.1 2-1 2-0.9 2-0.8 2-0.8 2-0.6 2-0.5 2-0.5 2-0.3 2-0.3 2-0.1 2-0.1 2 0 2 0.1 2 0.2M87.2 560l1.8-3.8 1.9-3.8 1.9-3.7 1.9-3.5 1.9-3.5 1.9-3.3 1.9-3.3 2-3.1 1.9-3.1 1.9-2.9 1.9-2.9 2-2.7 1.9-2.7 2-2.5 1.9-2.4 2-2.4 1.9-2.2 2-2.2 2-2 1.9-2 2-1.8 2-1.8 1.9-1.7 2-1.5 2-1.5 2-1.4 2-1.2 2-1.2 2-1.1 2-1 2-0.9 2-0.8 2-0.7 2-0.6 2-0.6 2-0.4 2-0.4 2-0.2 2-0.2 2 0 2 0 2 0.1 2 0.2M85 559.6l1.9-3.8 1.9-3.8 1.9-3.7 1.9-3.5 1.9-3.5 1.9-3.3 1.9-3.2 1.9-3.2 1.9-3 1.9-3 2-2.8 1.9-2.7 2-2.7 1.9-2.5 2-2.5 1.9-2.3 2-2.2 1.9-2.2 2-2 2-2 1.9-1.8 2-1.8 2-1.6 2-1.6 1.9-1.4 2-1.4 2-1.3 2-1.1 2-1.1 2-1 2-0.9 2-0.8 2-0.7 2-0.6 2-0.6 2-0.4 2-0.3 2-0.3 2-0.2 2 0 2 0 2 0.1M82.9 559.3l1.9-3.9 1.8-3.8 1.9-3.6 1.9-3.5 1.9-3.5 1.9-3.3 1.9-3.3 1.9-3.1 2-3 1.9-3 1.9-2.8 2-2.7 1.9-2.7 1.9-2.5 2-2.4 1.9-2.4 2-2.2 2-2.1 1.9-2.1 2-1.9 2-1.8 1.9-1.8 2-1.6 2-1.6 2-1.4 2-1.4 2-1.3 1.9-1.1 2-1.1 2-1 2-0.9 2-0.8 2-0.7 2-0.6 2-0.5 2-0.5 2-0.3 2-0.3 2-0.1 2.1-0.1 2 0 2 0.2M80.7 558.9l1.9-3.8 1.9-3.8 1.9-3.6 1.9-3.5 1.9-3.5 1.9-3.3 1.9-3.2 1.9-3.2 1.9-3 1.9-2.9 2-2.8 1.9-2.8 1.9-2.6 2-2.5 1.9-2.4 2-2.4 1.9-2.2 2-2.1 2-2.1 1.9-1.9 2-1.8 2-1.8 2-1.6 1.9-1.6 2-1.4 2-1.4 2-1.2 2-1.2 2-1.1 2-0.9 2-0.9 2-0.8 2-0.7 2-0.6 2-0.6 2-0.4 2-0.3 2-0.3 2-0.1 2-0.1 2 0M78.6 558.6l1.9-3.8 1.8-3.7 1.9-3.7 1.9-3.5 1.9-3.4 1.9-3.3 1.9-3.3 1.9-3.1 2-3 1.9-2.9 1.9-2.8 2-2.8 1.9-2.6 1.9-2.5 2-2.4 1.9-2.3 2-2.3 1.9-2.1 2-2 2-1.9 1.9-1.9 2-1.7 2-1.6 2-1.6 2-1.4 1.9-1.4 2-1.2 2-1.2 2-1.1 2-0.9 2-0.9 2-0.8 2-0.7 2-0.6 2-0.5 2-0.5 2-0.3 2-0.2 2-0.2 2 0 2 0M76.5 558.4l1.8-3.8 1.9-3.8 1.9-3.6 1.9-3.5 1.9-3.4 1.9-3.3 1.9-3.3 1.9-3.1 1.9-3 1.9-2.9 2-2.8 1.9-2.7 1.9-2.6 2-2.5 1.9-2.4 2-2.4 1.9-2.2 2-2.1 2-2 1.9-1.9 2-1.9 2-1.7 1.9-1.6 2-1.6 2-1.4 2-1.4 2-1.2 2-1.2 2-1 2-1 2-0.9 2-0.8 2-0.7 2-0.6 2-0.5 2-0.4 2-0.3 2-0.3 2-0.1 2-0.1M74.3 558.2l1.9-3.8 1.9-3.7 1.8-3.7 1.9-3.5 1.9-3.4 1.9-3.3 1.9-3.2 1.9-3.1 2-3 1.9-2.9 1.9-2.8 1.9-2.7 2-2.6 1.9-2.5 2-2.4 1.9-2.3 2-2.3 1.9-2.1 2-2 2-1.9 1.9-1.8 2-1.7 2-1.7 2-1.5 1.9-1.4 2-1.4 2-1.2 2-1.2 2-1 2-1 2-0.9 2-0.8 2-0.7 2-0.6 2-0.5 2-0.4 2-0.3 2-0.2 2-0.2 2 0M72.2 558.1l1.8-3.9 1.9-3.7 1.9-3.6 1.9-3.5 1.9-3.4 1.9-3.3 1.9-3.2 1.9-3.1 1.9-3 1.9-2.9 2-2.8 1.9-2.7 1.9-2.6 2-2.5 1.9-2.4 2-2.3 1.9-2.2 2-2.1 1.9-2 2-1.9 2-1.8 2-1.8 1.9-1.6 2-1.5 2-1.4 2-1.4 2-1.2 2-1.2 1.9-1 2-1 2-0.9 2-0.7 2-0.7 2-0.6 2-0.5 2.1-0.4 2-0.4 2-0.2 2-0.1M70 557.9l1.9-3.8 1.9-3.7 1.9-3.6 1.9-3.5 1.8-3.4 1.9-3.3 2-3.2 1.9-3.1 1.9-2.9 1.9-2.9 1.9-2.8 2-2.7 1.9-2.6 1.9-2.5 2-2.4 1.9-2.3 2-2.2 1.9-2.1 2-2 2-1.9 1.9-1.8 2-1.7 2-1.6 2-1.6 1.9-1.4 2-1.3 2-1.3 2-1.1 2-1.1 2-0.9 2-0.9 2-0.8 2-0.6 2-0.6 2-0.5 2-0.4 2-0.4 2-0.2 2-0.1M67.9 557.9l1.9-3.8 1.9-3.7 1.8-3.6 1.9-3.5 1.9-3.4 1.9-3.3 1.9-3.2 1.9-3.1 1.9-2.9 2-2.9 1.9-2.8 1.9-2.7 1.9-2.6 2-2.5 1.9-2.4 2-2.3 1.9-2.1 2-2.1 1.9-2 2-1.9 2-1.8 2-1.7 1.9-1.7 2-1.5 2-1.4 2-1.3 2-1.3 2-1.1 1.9-1.1 2-0.9 2-0.9 2-0.7 2-0.7 2-0.6 2-0.5 2-0.4 2.1-0.3 2-0.3 2-0.1M65.8 557.9l1.9-3.8 1.8-3.7 1.9-3.6 1.9-3.5 1.9-3.4 1.9-3.3 1.9-3.1 1.9-3.1 1.9-3 1.9-2.9 1.9-2.8 2-2.6 1.9-2.6 1.9-2.5 2-2.4 1.9-2.3 2-2.2 1.9-2 2-2 2-1.9 1.9-1.8 2-1.7 2-1.6 2-1.6 1.9-1.4 2-1.3 2-1.2 2-1.2 2-1 2-1 2-0.8 2-0.8 2-0.7 2-0.5 2-0.5 2-0.4 2-0.4 2-0.2M63.7 557.9l1.8-3.8 1.9-3.7 1.9-3.6 1.9-3.5 1.8-3.3 1.9-3.3 1.9-3.2 2-3.1 1.9-2.9 1.9-2.9 1.9-2.8 1.9-2.6 2-2.6 1.9-2.5 1.9-2.4 2-2.2 1.9-2.2 2-2.1 2-2 1.9-1.9 2-1.8 2-1.7 1.9-1.6 2-1.5 2-1.4 2-1.3 2-1.2 2-1.2 1.9-1 2-1 2-0.8 2-0.8 2-0.7 2-0.5 2-0.5 2.1-0.4 2-0.3 2-0.3M61.5 557.9l1.9-3.7 1.9-3.7 1.8-3.6 1.9-3.5 1.9-3.3 1.9-3.3 1.9-3.2 1.9-3 1.9-3 1.9-2.9 2-2.7 1.9-2.7 1.9-2.6 2-2.4 1.9-2.4 2-2.3 1.9-2.2 2-2 1.9-2 2-1.9 1.9-1.8 2-1.7 2-1.6 2-1.5 2-1.4 1.9-1.3 2-1.2 2-1.2 2-1 2-0.9 2-0.9 2-0.7 2-0.7 2-0.6 2-0.5 2-0.4 2-0.3M217.1 672.7l-2.2-3.4-2.1-3.4-2.1-3.2-2.2-3.3-2.1-3.1-2.2-3.2-2.1-3-2.2-3-2.2-3-2.1-2.9-2.2-2.9-2.1-2.8-2.2-2.7-2.2-2.7-2.1-2.6-2.2-2.6-2.2-2.6-2.1-2.5-2.2-2.4-2.2-2.4-2.1-2.3-2.2-2.3-2.2-2.2-2.2-2.2-2.1-2.1-2.2-2.1-2.2-2-2.2-2-2.1-1.9-2.2-1.9-2.2-1.8-2.2-1.8-2.1-1.7-2.2-1.7-2.2-1.6-2.2-1.6-2.1-1.5-2.2-1.5-2.2-1.5-2.2-1.4-2.1-1.3-2.2-1.3-2.2-1.2-2.1-1.2-2.2-1.2-2.2-1.1-2.2-1-2.1-1-2.2-1-2.2-0.9-2.1-0.9-2.2-0.8-2.1-0.8-2.2-0.7-2.2-0.7-2.1-0.6-2.2-0.6-2.1-0.6-2.2-0.5-2.1-0.5-2.2-0.4-2.1-0.3-2.2-0.4-2.1-0.3-2.1-0.2-2.2-0.2-2.1-0.1-2.2-0.2-2.1 0-2.1 0-2.1 0-2.2 0M219 668.2l-2.2-3.4-2.1-3.3-2.1-3.3-2.2-3.2-2.1-3.2-2.2-3.1-2.1-3-2.2-3-2.1-3-2.2-2.9-2.2-2.8-2.1-2.8-2.2-2.7-2.2-2.7-2.1-2.7-2.2-2.5-2.2-2.6-2.1-2.4-2.2-2.5-2.2-2.3-2.1-2.3-2.2-2.3-2.2-2.2-2.1-2.2-2.2-2.1-2.2-2.1-2.2-2-2.1-2-2.2-1.9-2.2-1.8-2.2-1.9-2.2-1.7-2.1-1.7-2.2-1.7-2.2-1.6-2.2-1.6-2.1-1.5-2.2-1.5-2.2-1.4-2.2-1.4-2.1-1.3-2.2-1.3-2.2-1.3-2.2-1.1-2.1-1.2-2.2-1.1-2.2-1-2.1-1-2.2-1-2.2-0.9-2.1-0.8-2.2-0.8-2.2-0.8-2.1-0.7-2.2-0.7-2.1-0.6-2.2-0.6-2.1-0.6-2.2-0.5-2.2-0.4-2.1-0.4-2.1-0.4-2.2-0.3-2.1-0.3-2.2-0.2-2.1-0.2-2.2-0.2-2.1-0.1-2.1 0-2.1 0-2.2 0-2.1 0.1M220.9 663.8l-2.1-3.4-2.2-3.3-2.1-3.2-2.2-3.2-2.1-3.2-2.2-3.1-2.1-3-2.2-3-2.1-2.9-2.2-2.9-2.2-2.9-2.1-2.7-2.2-2.8-2.1-2.6-2.2-2.7-2.2-2.5-2.1-2.5-2.2-2.5-2.2-2.4-2.1-2.4-2.2-2.3-2.2-2.2-2.2-2.3-2.1-2.1-2.2-2.1-2.2-2.1-2.2-2-2.1-1.9-2.2-1.9-2.2-1.9-2.2-1.8-2.1-1.8-2.2-1.7-2.2-1.6-2.2-1.6-2.2-1.6-2.1-1.5-2.2-1.5-2.2-1.4-2.2-1.4-2.1-1.3-2.2-1.2-2.2-1.3-2.2-1.1-2.1-1.2-2.2-1.1-2.2-1-2.1-1-2.2-0.9-2.2-0.9-2.1-0.9-2.2-0.8-2.2-0.7-2.1-0.8-2.2-0.6-2.1-0.7-2.2-0.5-2.2-0.6-2.1-0.5-2.2-0.4-2.1-0.4-2.2-0.4-2.1-0.3-2.2-0.2-2.1-0.3-2.1-0.1-2.2-0.2-2.1-0.1-2.1 0-2.2 0-2.1 0-2.1 0.1M222.8 659.6l-2.1-3.4-2.2-3.3-2.1-3.3-2.2-3.1-2.1-3.2-2.2-3.1-2.1-3-2.2-3-2.1-2.9-2.2-2.9-2.1-2.8-2.2-2.8-2.2-2.7-2.1-2.6-2.2-2.6-2.2-2.6-2.1-2.5-2.2-2.5-2.2-2.4-2.1-2.3-2.2-2.3-2.2-2.3-2.1-2.2-2.2-2.1-2.2-2.1-2.2-2-2.1-2-2.2-2-2.2-1.9-2.2-1.8-2.2-1.8-2.1-1.8-2.2-1.7-2.2-1.6-2.2-1.6-2.1-1.6-2.2-1.5-2.2-1.4-2.2-1.4-2.1-1.4-2.2-1.3-2.2-1.3-2.2-1.2-2.1-1.1-2.2-1.2-2.2-1-2.2-1.1-2.1-1-2.2-0.9-2.2-0.9-2.1-0.8-2.2-0.8-2.2-0.8-2.1-0.7-2.2-0.6-2.2-0.6-2.1-0.6-2.2-0.5-2.1-0.5-2.2-0.5-2.1-0.4-2.2-0.3-2.1-0.3-2.2-0.3-2.1-0.2-2.2-0.2-2.1-0.1-2.1-0.1-2.2 0-2.1 0-2.1 0-2.2 0.1M224.7 655.4l-2.1-3.3-2.2-3.3-2.1-3.3-2.1-3.1-2.2-3.2-2.1-3-2.2-3.1-2.1-2.9-2.2-2.9-2.2-2.9-2.1-2.8-2.2-2.8-2.1-2.7-2.2-2.6-2.2-2.6-2.1-2.6-2.2-2.5-2.2-2.4-2.1-2.4-2.2-2.3-2.2-2.3-2.2-2.3-2.1-2.2-2.2-2.1-2.2-2.1-2.2-2-2.1-2-2.2-1.9-2.2-1.9-2.2-1.9-2.1-1.7-2.2-1.8-2.2-1.7-2.2-1.6-2.1-1.6-2.2-1.5-2.2-1.5-2.2-1.5-2.2-1.4-2.1-1.3-2.2-1.3-2.2-1.3-2.2-1.2-2.1-1.1-2.2-1.2-2.2-1-2.2-1-2.1-1-2.2-0.9-2.2-0.9-2.1-0.9-2.2-0.7-2.2-0.8-2.1-0.7-2.2-0.6-2.2-0.6-2.1-0.6-2.2-0.5-2.1-0.5-2.2-0.4-2.1-0.4-2.2-0.3-2.1-0.3-2.2-0.3-2.1-0.2-2.2-0.2-2.1-0.1-2.1-0.1-2.2 0-2.1 0-2.1 0-2.2 0.1M226.6 651.4l-2.1-3.4-2.1-3.2-2.2-3.3-2.1-3.1-2.2-3.2-2.1-3-2.2-3-2.1-3-2.2-2.9-2.1-2.8-2.2-2.8-2.2-2.8-2.1-2.7-2.2-2.6-2.1-2.6-2.2-2.5-2.2-2.5-2.1-2.4-2.2-2.4-2.2-2.4-2.2-2.2-2.1-2.3-2.2-2.1-2.2-2.2-2.2-2-2.1-2.1-2.2-1.9-2.2-2-2.2-1.8-2.1-1.9-2.2-1.7-2.2-1.8-2.2-1.7-2.2-1.6-2.1-1.6-2.2-1.5-2.2-1.5-2.2-1.4-2.1-1.4-2.2-1.3-2.2-1.3-2.2-1.3-2.1-1.2-2.2-1.1-2.2-1.1-2.2-1.1-2.1-1-2.2-1-2.2-0.9-2.2-0.9-2.1-0.8-2.2-0.8-2.2-0.7-2.1-0.7-2.2-0.6-2.1-0.6-2.2-0.6-2.2-0.5-2.1-0.5-2.2-0.4-2.1-0.4-2.2-0.3-2.1-0.3-2.2-0.2-2.1-0.2-2.2-0.2-2.1-0.1-2.2-0.1-2.1 0-2.1 0-2.2 0.1-2.1 0.1M228.6 647.4l-2.2-3.3-2.1-3.2-2.2-3.3-2.1-3.1-2.1-3.1-2.2-3.1-2.1-3-2.2-2.9-2.2-2.9-2.1-2.9-2.2-2.7-2.1-2.8-2.2-2.7-2.2-2.6-2.1-2.6-2.2-2.5-2.2-2.5-2.1-2.4-2.2-2.3-2.2-2.4-2.1-2.2-2.2-2.3-2.2-2.1-2.2-2.1-2.1-2.1-2.2-2-2.2-2-2.2-1.9-2.1-1.9-2.2-1.8-2.2-1.7-2.2-1.8-2.1-1.6-2.2-1.7-2.2-1.5-2.2-1.6-2.2-1.4-2.1-1.5-2.2-1.3-2.2-1.4-2.2-1.2-2.2-1.3-2.1-1.2-2.2-1.1-2.2-1.1-2.2-1.1-2.1-1-2.2-0.9-2.2-0.9-2.1-0.9-2.2-0.8-2.2-0.8-2.1-0.7-2.2-0.7-2.2-0.6-2.1-0.6-2.2-0.6-2.2-0.5-2.1-0.4-2.2-0.4-2.1-0.4-2.2-0.3-2.1-0.3-2.2-0.2-2.1-0.2-2.2-0.2-2.1-0.1-2.2-0.1-2.1 0-2.1 0-2.2 0.1-2.1 0.1M230.5 643.6l-2.1-3.3-2.2-3.2-2.1-3.2-2.2-3.2-2.1-3.1-2.2-3-2.1-3-2.2-2.9-2.1-2.9-2.2-2.9-2.1-2.7-2.2-2.8-2.2-2.6-2.1-2.6-2.2-2.6-2.2-2.5-2.1-2.5-2.2-2.4-2.2-2.4-2.1-2.3-2.2-2.2-2.2-2.2-2.1-2.2-2.2-2.1-2.2-2.1-2.2-2-2.2-1.9-2.1-1.9-2.2-1.9-2.2-1.8-2.2-1.7-2.1-1.8-2.2-1.6-2.2-1.6-2.2-1.6-2.2-1.5-2.1-1.5-2.2-1.4-2.2-1.4-2.2-1.3-2.1-1.3-2.2-1.2-2.2-1.2-2.2-1.1-2.2-1.1-2.1-1-2.2-1-2.2-1-2.1-0.9-2.2-0.8-2.2-0.8-2.2-0.8-2.1-0.7-2.2-0.7-2.2-0.6-2.1-0.6-2.2-0.5-2.1-0.5-2.2-0.5-2.2-0.4-2.1-0.3-2.2-0.4-2.1-0.2-2.2-0.3-2.1-0.2-2.2-0.1-2.1-0.1-2.1-0.1-2.2 0-2.1 0.1-2.2 0-2.1 0.1M232.4 639.9l-2.1-3.3-2.2-3.2-2.1-3.2-2.1-3.2-2.2-3-2.1-3.1-2.2-2.9-2.1-3-2.2-2.8-2.2-2.9-2.1-2.7-2.2-2.7-2.1-2.7-2.2-2.6-2.2-2.6-2.1-2.5-2.2-2.4-2.2-2.4-2.1-2.4-2.2-2.3-2.2-2.2-2.1-2.2-2.2-2.2-2.2-2.1-2.2-2-2.1-2-2.2-1.9-2.2-1.9-2.2-1.9-2.1-1.8-2.2-1.7-2.2-1.7-2.2-1.7-2.2-1.6-2.1-1.5-2.2-1.5-2.2-1.5-2.2-1.4-2.2-1.4-2.1-1.3-2.2-1.3-2.2-1.2-2.2-1.1-2.1-1.2-2.2-1.1-2.2-1-2.2-1-2.1-0.9-2.2-0.9-2.2-0.8-2.2-0.9-2.1-0.7-2.2-0.7-2.2-0.7-2.1-0.6-2.2-0.6-2.2-0.5-2.1-0.5-2.2-0.4-2.1-0.4-2.2-0.4-2.2-0.3-2.1-0.3-2.2-0.2-2.1-0.2-2.2-0.1-2.1-0.1-2.1-0.1-2.2 0-2.1 0.1-2.1 0-2.2 0.2M234.3 636.3l-2.1-3.3-2.1-3.2-2.2-3.2-2.1-3.1-2.2-3.1-2.1-3-2.2-3-2.1-2.9-2.2-2.8-2.1-2.8-2.2-2.8-2.1-2.7-2.2-2.7-2.2-2.5-2.1-2.6-2.2-2.5-2.2-2.4-2.1-2.4-2.2-2.4-2.2-2.3-2.1-2.2-2.2-2.2-2.2-2.1-2.2-2.1-2.1-2-2.2-2-2.2-2-2.2-1.9-2.1-1.8-2.2-1.8-2.2-1.7-2.2-1.7-2.1-1.7-2.2-1.5-2.2-1.6-2.2-1.5-2.2-1.4-2.1-1.4-2.2-1.4-2.2-1.3-2.2-1.3-2.2-1.2-2.1-1.1-2.2-1.1-2.2-1.1-2.2-1-2.1-1-2.2-0.9-2.2-0.9-2.2-0.9-2.1-0.8-2.2-0.7-2.2-0.7-2.1-0.7-2.2-0.6-2.2-0.6-2.1-0.5-2.2-0.5-2.2-0.4-2.1-0.4-2.2-0.3-2.1-0.3-2.2-0.3-2.1-0.2-2.2-0.2-2.1-0.1-2.2-0.1-2.1 0-2.2 0-2.1 0-2.1 0.1-2.2 0.1M236.3 632.8l-2.2-3.2-2.1-3.3-2.1-3.1-2.2-3.2-2.1-3-2.2-3-2.1-3-2.2-2.9-2.1-2.8-2.2-2.8-2.1-2.8-2.2-2.7-2.2-2.6-2.1-2.6-2.2-2.5-2.1-2.5-2.2-2.4-2.2-2.4-2.1-2.4-2.2-2.2-2.2-2.3-2.2-2.1-2.1-2.2-2.2-2-2.2-2.1-2.2-2-2.1-1.9-2.2-1.9-2.2-1.8-2.2-1.8-2.1-1.7-2.2-1.7-2.2-1.6-2.2-1.6-2.2-1.5-2.1-1.5-2.2-1.5-2.2-1.4-2.2-1.3-2.2-1.3-2.1-1.2-2.2-1.2-2.2-1.2-2.2-1.1-2.2-1.1-2.1-1-2.2-1-2.2-0.9-2.2-0.9-2.1-0.8-2.2-0.8-2.2-0.7-2.1-0.7-2.2-0.7-2.2-0.6-2.1-0.5-2.2-0.5-2.2-0.5-2.1-0.4-2.2-0.4-2.2-0.4-2.1-0.3-2.2-0.2-2.1-0.2-2.2-0.2-2.1-0.1-2.2-0.1-2.1 0-2.1 0-2.2 0-2.1 0.1-2.2 0.1M238.2 629.5l-2.1-3.3-2.2-3.2-2.1-3.2-2.1-3.1-2.2-3-2.1-3-2.2-3-2.1-2.9-2.2-2.8-2.1-2.8-2.2-2.7-2.2-2.7-2.1-2.6-2.2-2.6-2.1-2.5-2.2-2.5-2.2-2.4-2.1-2.4-2.2-2.3-2.2-2.3-2.1-2.2-2.2-2.2-2.2-2.1-2.2-2.1-2.1-2-2.2-2-2.2-1.9-2.2-1.9-2.1-1.8-2.2-1.7-2.2-1.8-2.2-1.6-2.2-1.7-2.1-1.5-2.2-1.6-2.2-1.5-2.2-1.4-2.2-1.4-2.1-1.3-2.2-1.3-2.2-1.2-2.2-1.2-2.2-1.2-2.1-1.1-2.2-1-2.2-1-2.2-1-2.1-0.9-2.2-0.9-2.2-0.8-2.2-0.8-2.1-0.7-2.2-0.7-2.2-0.7-2.1-0.6-2.2-0.5-2.2-0.5-2.1-0.5-2.2-0.4-2.2-0.4-2.1-0.3-2.2-0.3-2.1-0.2-2.2-0.2-2.1-0.2-2.2-0.1-2.1-0.1-2.2 0-2.1 0-2.2 0-2.1 0.1-2.1 0.2M240.1 626.2l-2.1-3.3-2.1-3.2-2.2-3.1-2.1-3.1-2.1-3.1-2.2-2.9-2.1-3-2.2-2.9-2.1-2.8-2.2-2.8-2.2-2.7-2.1-2.7-2.2-2.6-2.1-2.5-2.2-2.6-2.2-2.4-2.1-2.4-2.2-2.4-2.2-2.3-2.1-2.3-2.2-2.2-2.2-2.1-2.1-2.2-2.2-2-2.2-2-2.2-2-2.1-1.9-2.2-1.9-2.2-1.8-2.2-1.7-2.2-1.7-2.1-1.7-2.2-1.6-2.2-1.6-2.2-1.5-2.2-1.5-2.1-1.4-2.2-1.4-2.2-1.3-2.2-1.3-2.2-1.2-2.1-1.2-2.2-1.1-2.2-1.1-2.2-1.1-2.1-1-2.2-0.9-2.2-0.9-2.2-0.9-2.1-0.8-2.2-0.8-2.2-0.7-2.2-0.7-2.1-0.6-2.2-0.6-2.2-0.6-2.1-0.5-2.2-0.4-2.2-0.4-2.1-0.4-2.2-0.3-2.1-0.3-2.2-0.3-2.1-0.2-2.2-0.1-2.2-0.1-2.1-0.1-2.1 0-2.2 0-2.1 0.1-2.2 0.1-2.1 0.1M242.1 623l-2.1-3.2-2.2-3.2-2.1-3.2-2.2-3-2.1-3.1-2.1-2.9-2.2-3-2.1-2.8-2.2-2.9-2.1-2.7-2.2-2.7-2.2-2.7-2.1-2.6-2.2-2.6-2.1-2.5-2.2-2.4-2.2-2.4-2.1-2.4-2.2-2.3-2.2-2.2-2.1-2.2-2.2-2.2-2.2-2.1-2.2-2-2.1-2-2.2-2-2.2-1.9-2.2-1.8-2.1-1.8-2.2-1.8-2.2-1.7-2.2-1.7-2.2-1.6-2.1-1.5-2.2-1.5-2.2-1.5-2.2-1.4-2.2-1.4-2.1-1.3-2.2-1.3-2.2-1.2-2.2-1.2-2.2-1.1-2.1-1.1-2.2-1-2.2-1-2.2-1-2.2-0.9-2.1-0.8-2.2-0.8-2.2-0.8-2.1-0.7-2.2-0.7-2.2-0.6-2.2-0.6-2.1-0.5-2.2-0.5-2.2-0.5-2.1-0.4-2.2-0.4-2.1-0.3-2.2-0.3-2.2-0.2-2.1-0.2-2.2-0.1-2.1-0.1-2.2-0.1-2.1 0-2.2 0-2.1 0.1-2.1 0.1-2.2 0.1M244 620l-2.1-3.3-2.1-3.1-2.2-3.2-2.1-3-2.2-3.1-2.1-2.9-2.2-3-2.1-2.8-2.1-2.8-2.2-2.8-2.2-2.7-2.1-2.6-2.2-2.6-2.1-2.6-2.2-2.5-2.2-2.4-2.1-2.4-2.2-2.4-2.2-2.3-2.1-2.2-2.2-2.2-2.2-2.1-2.1-2.1-2.2-2.1-2.2-2-2.2-1.9-2.1-1.9-2.2-1.8-2.2-1.8-2.2-1.8-2.2-1.7-2.1-1.6-2.2-1.6-2.2-1.6-2.2-1.5-2.2-1.4-2.1-1.4-2.2-1.4-2.2-1.3-2.2-1.3-2.2-1.2-2.1-1.2-2.2-1.1-2.2-1.1-2.2-1-2.1-1-2.2-0.9-2.2-0.9-2.2-0.8-2.1-0.9-2.2-0.7-2.2-0.7-2.2-0.7-2.1-0.6-2.2-0.6-2.2-0.5-2.1-0.5-2.2-0.4-2.2-0.4-2.1-0.4-2.2-0.3-2.2-0.3-2.1-0.2-2.2-0.2-2.1-0.1-2.2-0.1-2.1-0.1-2.2 0-2.1 0-2.2 0.1-2.1 0.1-2.1 0.2M246 617l-2.2-3.2-2.1-3.2-2.1-3.1-2.2-3.1-2.1-3-2.2-2.9-2.1-2.9-2.2-2.9-2.1-2.8-2.2-2.7-2.1-2.7-2.2-2.7-2.1-2.6-2.2-2.5-2.1-2.5-2.2-2.4-2.2-2.4-2.1-2.3-2.2-2.3-2.2-2.3-2.1-2.1-2.2-2.2-2.2-2-2.2-2.1-2.1-2-2.2-1.9-2.2-1.9-2.2-1.8-2.1-1.8-2.2-1.7-2.2-1.7-2.2-1.7-2.2-1.6-2.1-1.5-2.2-1.5-2.2-1.4-2.2-1.4-2.2-1.4-2.1-1.3-2.2-1.2-2.2-1.3-2.2-1.1-2.2-1.1-2.1-1.1-2.2-1-2.2-1-2.2-0.9-2.1-0.9-2.2-0.9-2.2-0.8-2.2-0.7-2.1-0.7-2.2-0.7-2.2-0.6-2.2-0.6-2.1-0.5-2.2-0.5-2.2-0.4-2.1-0.4-2.2-0.3-2.1-0.4-2.2-0.2-2.2-0.2-2.1-0.2-2.2-0.1-2.1-0.1-2.2-0.1-2.1 0-2.2 0-2.1 0.1-2.2 0.1-2.1 0.2M247.9 614.2l-2.1-3.2-2.2-3.2-2.1-3.1-2.1-3.1-2.2-3-2.1-2.9-2.2-2.9-2.1-2.8-2.2-2.8-2.1-2.8-2.2-2.7-2.1-2.6-2.2-2.6-2.1-2.5-2.2-2.5-2.2-2.4-2.1-2.4-2.2-2.3-2.1-2.3-2.2-2.2-2.2-2.2-2.2-2.1-2.1-2.1-2.2-2-2.2-2-2.2-1.9-2.1-1.9-2.2-1.8-2.2-1.8-2.2-1.7-2.1-1.7-2.2-1.6-2.2-1.6-2.2-1.5-2.2-1.5-2.1-1.5-2.2-1.3-2.2-1.4-2.2-1.3-2.2-1.2-2.1-1.2-2.2-1.2-2.2-1.1-2.2-1.1-2.2-1-2.1-0.9-2.2-1-2.2-0.9-2.2-0.8-2.1-0.8-2.2-0.7-2.2-0.7-2.2-0.7-2.1-0.6-2.2-0.5-2.2-0.6-2.1-0.4-2.2-0.5-2.2-0.4-2.1-0.3-2.2-0.3-2.2-0.3-2.1-0.2-2.2-0.1-2.1-0.2-2.2 0-2.1-0.1-2.2 0-2.1 0-2.2 0.1-2.1 0.2-2.1 0.1M249.9 611.4l-2.2-3.2-2.1-3.1-2.1-3.1-2.2-3-2.1-3-2.2-3-2.1-2.9-2.2-2.8-2.1-2.8-2.2-2.7-2.1-2.7-2.2-2.6-2.1-2.6-2.2-2.5-2.1-2.5-2.2-2.4-2.2-2.3-2.1-2.4-2.2-2.2-2.2-2.2-2.1-2.2-2.2-2.1-2.2-2.1-2.1-2-2.2-2-2.2-1.9-2.2-1.9-2.1-1.8-2.2-1.7-2.2-1.8-2.2-1.6-2.2-1.7-2.1-1.5-2.2-1.6-2.2-1.4-2.2-1.5-2.2-1.3-2.1-1.4-2.2-1.3-2.2-1.2-2.2-1.2-2.2-1.2-2.1-1.1-2.2-1-2.2-1-2.2-1-2.1-0.9-2.2-0.9-2.2-0.8-2.2-0.8-2.2-0.7-2.1-0.7-2.2-0.7-2.2-0.6-2.1-0.5-2.2-0.5-2.2-0.5-2.1-0.4-2.2-0.4-2.2-0.3-2.1-0.3-2.2-0.3-2.2-0.2-2.1-0.2-2.2-0.1-2.1-0.1-2.2 0-2.1 0-2.2 0.1-2.1 0-2.2 0.2-2.1 0.1M251.8 608.8l-2.1-3.2-2.2-3.1-2.1-3.1-2.1-3-2.2-3-2.1-2.9-2.2-2.9-2.1-2.8-2.1-2.8-2.2-2.7-2.2-2.7-2.1-2.6-2.2-2.6-2.1-2.5-2.2-2.5-2.1-2.4-2.2-2.3-2.2-2.3-2.1-2.3-2.2-2.2-2.2-2.1-2.1-2.2-2.2-2-2.2-2-2.2-2-2.1-1.9-2.2-1.8-2.2-1.8-2.2-1.8-2.1-1.7-2.2-1.7-2.2-1.6-2.2-1.6-2.1-1.5-2.2-1.5-2.2-1.4-2.2-1.4-2.2-1.3-2.1-1.3-2.2-1.2-2.2-1.2-2.2-1.1-2.2-1.1-2.1-1.1-2.2-1-2.2-0.9-2.2-0.9-2.2-0.9-2.1-0.8-2.2-0.8-2.2-0.7-2.2-0.7-2.1-0.6-2.2-0.6-2.2-0.6-2.1-0.5-2.2-0.5-2.2-0.4-2.1-0.4-2.2-0.3-2.2-0.3-2.1-0.2-2.2-0.2-2.2-0.2-2.1-0.1-2.2-0.1-2.1 0-2.2 0-2.1 0.1-2.2 0.1-2.1 0.1-2.1 0.2M253.7 606.3l-2.1-3.2-2.1-3.1-2.1-3.1-2.2-3-2.1-3-2.2-2.9-2.1-2.9-2.1-2.8-2.2-2.8-2.1-2.7-2.2-2.6-2.1-2.6-2.2-2.6-2.2-2.5-2.1-2.4-2.2-2.4-2.1-2.4-2.2-2.3-2.2-2.2-2.1-2.2-2.2-2.2-2.2-2.1-2.1-2-2.2-2-2.2-2-2.2-1.9-2.1-1.8-2.2-1.8-2.2-1.8-2.2-1.7-2.1-1.6-2.2-1.6-2.2-1.6-2.2-1.5-2.2-1.5-2.1-1.4-2.2-1.4-2.2-1.3-2.2-1.2-2.2-1.3-2.1-1.2-2.2-1.1-2.2-1.1-2.2-1-2.2-1-2.1-1-2.2-0.9-2.2-0.8-2.2-0.8-2.1-0.8-2.2-0.7-2.2-0.7-2.2-0.6-2.1-0.6-2.2-0.6-2.2-0.5-2.1-0.4-2.2-0.4-2.2-0.4-2.1-0.3-2.2-0.3-2.2-0.3-2.1-0.2-2.2-0.1-2.1-0.1-2.2-0.1-2.2 0-2.1 0-2.2 0.1-2.1 0.1-2.1 0.1-2.2 0.2M255.7 603.9l-2.1-3.2-2.2-3.1-2.1-3.1-2.1-3-2.2-3-2.1-2.9-2.2-2.8-2.1-2.8-2.1-2.8-2.2-2.7-2.1-2.6-2.2-2.6-2.1-2.6-2.2-2.5-2.2-2.4-2.1-2.4-2.2-2.3-2.1-2.3-2.2-2.3-2.2-2.2-2.1-2.1-2.2-2.1-2.2-2-2.2-2-2.1-2-2.2-1.9-2.2-1.8-2.1-1.8-2.2-1.7-2.2-1.7-2.2-1.7-2.2-1.6-2.1-1.5-2.2-1.5-2.2-1.5-2.2-1.4-2.1-1.4-2.2-1.3-2.2-1.2-2.2-1.3-2.2-1.1-2.1-1.2-2.2-1-2.2-1.1-2.2-1-2.2-0.9-2.1-0.9-2.2-0.9-2.2-0.8-2.2-0.7-2.1-0.7-2.2-0.7-2.2-0.6-2.2-0.6-2.1-0.6-2.2-0.4-2.2-0.5-2.1-0.4-2.2-0.4-2.2-0.3-2.1-0.3-2.2-0.2-2.2-0.2-2.1-0.1-2.2-0.1-2.1-0.1-2.2 0-2.1 0-2.2 0.1-2.1 0.1-2.2 0.1-2.1 0.2M257.6 601.6l-2.1-3.2-2.1-3.1-2.2-3.1-2.1-3-2.1-2.9-2.2-2.9-2.1-2.9-2.1-2.8-2.2-2.7-2.1-2.7-2.2-2.6-2.1-2.6-2.2-2.6-2.1-2.5-2.2-2.4-2.2-2.4-2.1-2.3-2.2-2.3-2.1-2.2-2.2-2.2-2.2-2.1-2.1-2.1-2.2-2-2.2-2-2.2-2-2.1-1.8-2.2-1.9-2.2-1.8-2.2-1.7-2.1-1.7-2.2-1.6-2.2-1.6-2.2-1.6-2.1-1.5-2.2-1.4-2.2-1.4-2.2-1.4-2.2-1.3-2.1-1.2-2.2-1.2-2.2-1.2-2.2-1.1-2.2-1.1-2.1-1-2.2-1-2.2-0.9-2.2-0.9-2.1-0.9-2.2-0.8-2.2-0.7-2.2-0.7-2.1-0.7-2.2-0.6-2.2-0.6-2.2-0.5-2.1-0.5-2.2-0.5-2.2-0.4-2.1-0.3-2.2-0.3-2.2-0.3-2.1-0.2-2.2-0.2-2.2-0.2-2.1-0.1-2.2 0-2.1 0-2.2 0-2.1 0.1-2.2 0.1-2.1 0.1-2.2 0.2M259.6 599.4l-2.1-3.2-2.2-3.1-2.1-3-2.1-3-2.2-3-2.1-2.9-2.1-2.8-2.2-2.8-2.1-2.7-2.2-2.7-2.1-2.6-2.2-2.6-2.1-2.6-2.2-2.4-2.1-2.5-2.2-2.3-2.2-2.4-2.1-2.2-2.2-2.3-2.1-2.1-2.2-2.1-2.2-2.1-2.1-2-2.2-2-2.2-1.9-2.2-1.9-2.1-1.8-2.2-1.8-2.2-1.8-2.2-1.6-2.1-1.7-2.2-1.6-2.2-1.5-2.2-1.5-2.1-1.4-2.2-1.4-2.2-1.4-2.2-1.3-2.2-1.2-2.1-1.2-2.2-1.2-2.2-1.1-2.2-1.1-2.2-1-2.1-1-2.2-0.9-2.2-0.9-2.2-0.8-2.1-0.8-2.2-0.7-2.2-0.8-2.2-0.6-2.1-0.6-2.2-0.6-2.2-0.5-2.2-0.5-2.1-0.4-2.2-0.4-2.2-0.4-2.1-0.3-2.2-0.3-2.2-0.2-2.1-0.2-2.2-0.1-2.1-0.1-2.2 0-2.1-0.1-2.2 0.1-2.1 0.1-2.2 0.1-2.1 0.1-2.2 0.2M261.5 597.3l-2.1-3.2-2.1-3.1-2.2-3-2.1-3-2.1-2.9-2.2-2.9-2.1-2.9-2.1-2.7-2.2-2.8-2.1-2.6-2.2-2.7-2.1-2.5-2.2-2.5-2.1-2.5-2.2-2.4-2.1-2.4-2.2-2.3-2.2-2.3-2.1-2.2-2.2-2.2-2.1-2.1-2.2-2-2.2-2.1-2.1-1.9-2.2-1.9-2.2-1.9-2.2-1.8-2.1-1.8-2.2-1.7-2.2-1.7-2.2-1.6-2.1-1.6-2.2-1.5-2.2-1.5-2.2-1.4-2.1-1.4-2.2-1.4-2.2-1.3-2.2-1.2-2.2-1.2-2.1-1.2-2.2-1.1-2.2-1-2.2-1-2.2-1-2.1-0.9-2.2-0.9-2.2-0.8-2.2-0.8-2.1-0.8-2.2-0.7-2.2-0.6-2.2-0.6-2.1-0.6-2.2-0.5-2.2-0.5-2.2-0.4-2.1-0.4-2.2-0.4-2.2-0.3-2.1-0.2-2.2-0.2-2.1-0.2-2.2-0.1-2.2-0.1-2.1-0.1-2.2 0-2.1 0.1-2.2 0-2.1 0.2-2.2 0.1-2.1 0.2M263.5 595.3l-2.2-3.2-2.1-3.1-2.1-3-2.1-3-2.2-2.9-2.1-2.9-2.1-2.8-2.2-2.8-2.1-2.7-2.2-2.6-2.1-2.7-2.2-2.5-2.1-2.5-2.2-2.5-2.1-2.4-2.2-2.4-2.1-2.3-2.2-2.2-2.1-2.2-2.2-2.2-2.2-2.1-2.1-2-2.2-2.1-2.2-1.9-2.1-1.9-2.2-1.9-2.2-1.8-2.2-1.8-2.1-1.7-2.2-1.6-2.2-1.7-2.2-1.5-2.1-1.5-2.2-1.5-2.2-1.5-2.2-1.3-2.1-1.4-2.2-1.3-2.2-1.2-2.2-1.2-2.2-1.1-2.1-1.1-2.2-1.1-2.2-1-2.2-1-2.2-0.9-2.1-0.8-2.2-0.9-2.2-0.7-2.2-0.8-2.1-0.7-2.2-0.6-2.2-0.6-2.2-0.6-2.1-0.5-2.2-0.5-2.2-0.4-2.1-0.4-2.2-0.3-2.2-0.3-2.1-0.3-2.2-0.2-2.2-0.2-2.1-0.1-2.2-0.1-2.1 0-2.2 0-2.1 0-2.2 0.1-2.1 0.1-2.2 0.2-2.1 0.2M265.4 593.4l-2.1-3.2-2.1-3-2.2-3.1-2.1-2.9-2.1-2.9-2.1-2.9-2.2-2.8-2.1-2.8-2.2-2.7-2.1-2.6-2.1-2.7-2.2-2.5-2.1-2.5-2.2-2.5-2.1-2.4-2.2-2.3-2.2-2.3-2.1-2.3-2.2-2.2-2.1-2.1-2.2-2.1-2.2-2.1-2.1-2-2.2-1.9-2.2-1.9-2.1-1.9-2.2-1.8-2.2-1.7-2.2-1.7-2.1-1.7-2.2-1.6-2.2-1.6-2.2-1.5-2.1-1.4-2.2-1.5-2.2-1.3-2.2-1.4-2.1-1.2-2.2-1.3-2.2-1.2-2.2-1.1-2.2-1.1-2.1-1-2.2-1-2.2-1-2.2-0.9-2.2-0.9-2.1-0.8-2.2-0.8-2.2-0.7-2.2-0.7-2.1-0.6-2.2-0.6-2.2-0.6-2.1-0.5-2.2-0.5-2.2-0.4-2.2-0.4-2.1-0.3-2.2-0.3-2.2-0.2-2.1-0.2-2.2-0.2-2.1-0.1-2.2-0.1-2.2 0-2.1 0-2.2 0-2.1 0.1-2.2 0.1-2.1 0.2-2.1 0.2M267.4 591.6l-2.2-3.1-2.1-3.1-2.1-3-2.1-3-2.2-2.9-2.1-2.9-2.1-2.8-2.2-2.7-2.1-2.7-2.1-2.7-2.2-2.6-2.1-2.5-2.2-2.5-2.1-2.4-2.2-2.4-2.1-2.4-2.2-2.3-2.2-2.2-2.1-2.2-2.2-2.1-2.1-2.1-2.2-2.1-2.2-2-2.1-1.9-2.2-1.9-2.2-1.8-2.1-1.8-2.2-1.8-2.2-1.7-2.2-1.6-2.1-1.6-2.2-1.6-2.2-1.5-2.2-1.5-2.1-1.4-2.2-1.4-2.2-1.3-2.2-1.2-2.1-1.3-2.2-1.2-2.2-1.1-2.2-1.1-2.2-1-2.1-1-2.2-1-2.2-0.9-2.2-0.8-2.1-0.8-2.2-0.8-2.2-0.7-2.2-0.7-2.1-0.6-2.2-0.6-2.2-0.6-2.2-0.5-2.1-0.5-2.2-0.4-2.2-0.3-2.1-0.4-2.2-0.3-2.2-0.2-2.1-0.2-2.2-0.2-2.2-0.1-2.1-0.1-2.2 0-2.1 0-2.2 0.1-2.1 0.1-2.2 0.1-2.1 0.2-2.2 0.2M269.3 589.9l-2.1-3.1-2.1-3.1-2.2-3-2.1-2.9-2.1-2.9-2.1-2.9-2.2-2.8-2.1-2.7-2.1-2.7-2.2-2.7-2.1-2.5-2.2-2.6-2.1-2.5-2.2-2.4-2.1-2.4-2.2-2.3-2.1-2.3-2.2-2.2-2.1-2.2-2.2-2.2-2.2-2-2.1-2.1-2.2-2-2.2-1.9-2.1-1.9-2.2-1.8-2.2-1.8-2.1-1.8-2.2-1.7-2.2-1.6-2.2-1.6-2.1-1.5-2.2-1.5-2.2-1.5-2.2-1.4-2.1-1.4-2.2-1.3-2.2-1.2-2.2-1.3-2.1-1.1-2.2-1.2-2.2-1-2.2-1.1-2.1-1-2.2-0.9-2.2-0.9-2.2-0.9-2.2-0.8-2.1-0.7-2.2-0.8-2.2-0.6-2.2-0.7-2.1-0.6-2.2-0.5-2.2-0.5-2.1-0.4-2.2-0.5-2.2-0.3-2.1-0.4-2.2-0.2-2.2-0.3-2.1-0.2-2.2-0.1-2.2-0.1-2.1-0.1-2.2 0-2.1 0-2.2 0-2.1 0.1-2.2 0.2-2.1 0.2-2.2 0.2M271.2 588.3l-2.1-3.1-2.1-3.1-2.1-3-2.1-2.9-2.2-2.9-2.1-2.8-2.1-2.8-2.2-2.7-2.1-2.7-2.1-2.7-2.2-2.5-2.1-2.6-2.2-2.5-2.1-2.4-2.2-2.4-2.1-2.3-2.2-2.3-2.1-2.2-2.2-2.2-2.1-2.1-2.2-2.1-2.2-2-2.1-2-2.2-1.9-2.2-1.9-2.1-1.8-2.2-1.8-2.2-1.7-2.1-1.7-2.2-1.7-2.2-1.5-2.1-1.6-2.2-1.5-2.2-1.4-2.2-1.4-2.1-1.4-2.2-1.3-2.2-1.3-2.2-1.2-2.2-1.1-2.1-1.2-2.2-1-2.2-1.1-2.2-0.9-2.1-1-2.2-0.9-2.2-0.8-2.2-0.8-2.1-0.8-2.2-0.7-2.2-0.7-2.2-0.6-2.1-0.6-2.2-0.5-2.2-0.5-2.2-0.4-2.1-0.5-2.2-0.3-2.2-0.3-2.1-0.3-2.2-0.2-2.2-0.2-2.1-0.2-2.2-0.1-2.1-0.1-2.2 0-2.1 0-2.2 0.1-2.1 0.1-2.2 0.1-2.1 0.2-2.2 0.2M273.2 586.8l-2.1-3.1-2.1-3-2.2-3-2.1-2.9-2.1-2.9-2.1-2.9-2.2-2.7-2.1-2.8-2.1-2.6-2.2-2.7-2.1-2.5-2.2-2.6-2.1-2.4-2.1-2.5-2.2-2.3-2.1-2.3-2.2-2.3-2.2-2.2-2.1-2.2-2.2-2.1-2.1-2.1-2.2-2-2.1-2-2.2-1.9-2.2-1.9-2.1-1.8-2.2-1.8-2.2-1.7-2.2-1.7-2.1-1.6-2.2-1.6-2.2-1.5-2.1-1.5-2.2-1.5-2.2-1.4-2.2-1.3-2.1-1.3-2.2-1.3-2.2-1.2-2.2-1.1-2.1-1.1-2.2-1.1-2.2-1-2.2-1-2.2-0.9-2.1-0.9-2.2-0.9-2.2-0.8-2.2-0.7-2.1-0.7-2.2-0.7-2.2-0.6-2.1-0.6-2.2-0.5-2.2-0.5-2.2-0.5-2.1-0.4-2.2-0.3-2.2-0.3-2.1-0.3-2.2-0.2-2.2-0.2-2.1-0.2-2.2-0.1-2.1 0-2.2 0-2.2 0-2.1 0-2.2 0.1-2.1 0.2-2.2 0.2-2.1 0.2M275.1 585.4l-2.1-3.1-2.1-3-2.1-3-2.1-2.9-2.2-2.9-2.1-2.8-2.1-2.8-2.1-2.7-2.2-2.7-2.1-2.6-2.2-2.5-2.1-2.5-2.1-2.5-2.2-2.4-2.1-2.4-2.2-2.3-2.1-2.3-2.2-2.2-2.1-2.1-2.2-2.1-2.2-2.1-2.1-2-2.2-2-2.1-1.9-2.2-1.9-2.2-1.8-2.1-1.8-2.2-1.7-2.2-1.6-2.1-1.7-2.2-1.5-2.2-1.6-2.2-1.5-2.1-1.4-2.2-1.4-2.2-1.3-2.2-1.3-2.1-1.3-2.2-1.2-2.2-1.1-2.2-1.1-2.1-1.1-2.2-1-2.2-1-2.2-0.9-2.1-0.9-2.2-0.8-2.2-0.8-2.2-0.8-2.1-0.7-2.2-0.6-2.2-0.6-2.2-0.6-2.1-0.5-2.2-0.5-2.2-0.5-2.1-0.4-2.2-0.3-2.2-0.3-2.1-0.3-2.2-0.2-2.2-0.2-2.1-0.1-2.2-0.1-2.1-0.1-2.2 0-2.2 0-2.1 0.1-2.2 0.1-2.1 0.1-2.2 0.2-2.1 0.3M277.1 584.1l-2.1-3-2.1-3.1-2.2-2.9-2.1-2.9-2.1-2.9-2.1-2.8-2.2-2.8-2.1-2.7-2.1-2.7-2.2-2.6-2.1-2.5-2.1-2.5-2.2-2.5-2.1-2.4-2.2-2.4-2.1-2.3-2.2-2.2-2.1-2.2-2.2-2.2-2.1-2.1-2.2-2-2.1-2-2.2-2-2.2-1.9-2.1-1.9-2.2-1.8-2.2-1.7-2.1-1.7-2.2-1.7-2.2-1.6-2.1-1.6-2.2-1.5-2.2-1.5-2.1-1.4-2.2-1.4-2.2-1.4-2.2-1.2-2.1-1.3-2.2-1.2-2.2-1.1-2.2-1.1-2.1-1.1-2.2-1-2.2-1-2.2-0.9-2.1-0.9-2.2-0.8-2.2-0.8-2.2-0.7-2.1-0.7-2.2-0.7-2.2-0.6-2.2-0.6-2.1-0.5-2.2-0.5-2.2-0.4-2.1-0.4-2.2-0.3-2.2-0.3-2.1-0.3-2.2-0.2-2.2-0.2-2.1-0.1-2.2-0.1-2.1-0.1-2.2 0-2.2 0-2.1 0.1-2.2 0.1-2.1 0.2-2.2 0.2-2.1 0.2M279 583l-2.1-3.1-2.1-3-2.1-3-2.1-2.9-2.2-2.9-2.1-2.8-2.1-2.7-2.1-2.7-2.2-2.7-2.1-2.6-2.1-2.5-2.2-2.5-2.1-2.5-2.2-2.4-2.1-2.3-2.2-2.3-2.1-2.3-2.2-2.2-2.1-2.1-2.2-2.1-2.1-2.1-2.2-2-2.1-1.9-2.2-1.9-2.2-1.9-2.1-1.8-2.2-1.7-2.1-1.7-2.2-1.7-2.2-1.6-2.2-1.6-2.1-1.5-2.2-1.5-2.2-1.4-2.1-1.4-2.2-1.3-2.2-1.3-2.2-1.2-2.1-1.2-2.2-1.1-2.2-1.1-2.2-1.1-2.1-1-2.2-1-2.2-0.9-2.2-0.8-2.1-0.9-2.2-0.7-2.2-0.8-2.2-0.7-2.1-0.6-2.2-0.6-2.2-0.6-2.1-0.5-2.2-0.5-2.2-0.4-2.1-0.4-2.2-0.3-2.2-0.3-2.1-0.3-2.2-0.2-2.2-0.2-2.1-0.1-2.2-0.1-2.1-0.1-2.2 0-2.2 0.1-2.1 0-2.2 0.2-2.1 0.1-2.2 0.2-2.1 0.3M281 581.9l-2.2-3.1-2.1-3-2.1-2.9-2.1-2.9-2.1-2.9-2.1-2.8-2.2-2.7-2.1-2.7-2.1-2.7-2.1-2.6-2.2-2.5-2.1-2.5-2.2-2.5-2.1-2.3-2.1-2.4-2.2-2.3-2.1-2.2-2.2-2.2-2.1-2.1-2.2-2.1-2.1-2.1-2.2-2-2.2-1.9-2.1-1.9-2.2-1.9-2.1-1.8-2.2-1.7-2.2-1.7-2.1-1.7-2.2-1.6-2.2-1.5-2.1-1.5-2.2-1.5-2.2-1.4-2.2-1.4-2.1-1.3-2.2-1.3-2.2-1.2-2.1-1.2-2.2-1.1-2.2-1.1-2.2-1.1-2.1-1-2.2-0.9-2.2-1-2.2-0.8-2.1-0.8-2.2-0.8-2.2-0.7-2.2-0.7-2.1-0.7-2.2-0.6-2.2-0.5-2.1-0.5-2.2-0.5-2.2-0.4-2.1-0.4-2.2-0.4-2.2-0.3-2.1-0.2-2.2-0.2-2.2-0.2-2.1-0.1-2.2-0.1-2.1-0.1-2.2 0-2.2 0.1-2.1 0.1-2.2 0.1-2.1 0.1-2.2 0.2-2.1 0.3M282.9 580.9l-2.1-3.1-2.1-3-2.1-2.9-2.2-2.9-2.1-2.8-2.1-2.8-2.1-2.8-2.1-2.7-2.2-2.6-2.1-2.6-2.1-2.5-2.2-2.5-2.1-2.4-2.1-2.4-2.2-2.4-2.1-2.2-2.2-2.3-2.1-2.2-2.2-2.1-2.1-2.1-2.2-2-2.1-2-2.2-1.9-2.1-1.9-2.2-1.9-2.2-1.8-2.1-1.7-2.2-1.7-2.2-1.6-2.1-1.6-2.2-1.6-2.2-1.5-2.1-1.5-2.2-1.4-2.2-1.3-2.1-1.4-2.2-1.2-2.2-1.2-2.2-1.2-2.1-1.2-2.2-1-2.2-1.1-2.2-1-2.1-0.9-2.2-0.9-2.2-0.9-2.1-0.8-2.2-0.8-2.2-0.7-2.2-0.7-2.1-0.6-2.2-0.6-2.2-0.6-2.1-0.5-2.2-0.5-2.2-0.4-2.1-0.4-2.2-0.3-2.2-0.3-2.1-0.2-2.2-0.2-2.2-0.2-2.1-0.1-2.2-0.1-2.1-0.1-2.2 0-2.2 0.1-2.1 0.1-2.2 0.1-2.1 0.2-2.2 0.2-2.1 0.2M284.8 580l-2.1-3-2.1-3-2.1-3-2.1-2.8-2.1-2.9-2.1-2.8-2.2-2.7-2.1-2.7-2.1-2.6-2.1-2.6-2.2-2.5-2.1-2.5-2.1-2.4-2.2-2.4-2.1-2.3-2.2-2.3-2.1-2.2-2.2-2.2-2.1-2.1-2.2-2.1-2.1-2-2.2-2-2.1-2-2.2-1.8-2.1-1.9-2.2-1.8-2.2-1.7-2.1-1.7-2.2-1.6-2.1-1.6-2.2-1.6-2.2-1.5-2.1-1.4-2.2-1.4-2.2-1.4-2.2-1.3-2.1-1.3-2.2-1.2-2.2-1.2-2.1-1.1-2.2-1.1-2.2-1-2.2-1-2.1-0.9-2.2-0.9-2.2-0.9-2.1-0.8-2.2-0.8-2.2-0.7-2.2-0.7-2.1-0.6-2.2-0.6-2.2-0.5-2.1-0.5-2.2-0.5-2.2-0.4-2.2-0.4-2.1-0.3-2.2-0.3-2.1-0.3-2.2-0.2-2.2-0.1-2.1-0.2-2.2 0-2.1-0.1-2.2 0-2.2 0.1-2.1 0.1-2.2 0.1-2.1 0.2-2.2 0.2-2.1 0.2M286.8 579.2l-2.1-3-2.2-3-2.1-2.9-2.1-2.9-2.1-2.8-2.1-2.8-2.1-2.7-2.1-2.7-2.2-2.6-2.1-2.6-2.1-2.5-2.2-2.5-2.1-2.4-2.1-2.4-2.2-2.3-2.1-2.3-2.2-2.2-2.1-2.2-2.1-2.1-2.2-2.1-2.1-2-2.2-2-2.1-1.9-2.2-1.9-2.2-1.8-2.1-1.8-2.2-1.7-2.1-1.7-2.2-1.6-2.2-1.6-2.1-1.5-2.2-1.5-2.2-1.5-2.1-1.4-2.2-1.3-2.2-1.3-2.1-1.3-2.2-1.2-2.2-1.2-2.2-1.1-2.1-1.1-2.2-1-2.2-1-2.1-0.9-2.2-0.9-2.2-0.9-2.2-0.8-2.1-0.8-2.2-0.7-2.2-0.7-2.1-0.6-2.2-0.6-2.2-0.5-2.1-0.5-2.2-0.5-2.2-0.4-2.1-0.4-2.2-0.3-2.2-0.3-2.1-0.2-2.2-0.2-2.2-0.2-2.1-0.1-2.2-0.1-2.1 0-2.2 0-2.1 0.1-2.2 0.1-2.2 0.1-2.1 0.2-2.1 0.2-2.2 0.2M288.7 578.5l-2.1-3-2.1-3-2.1-2.9-2.1-2.9-2.1-2.8-2.2-2.7-2.1-2.8-2.1-2.6-2.1-2.6-2.1-2.6-2.2-2.5-2.1-2.5-2.1-2.4-2.2-2.4-2.1-2.3-2.1-2.2-2.2-2.3-2.1-2.1-2.2-2.1-2.1-2.1-2.2-2-2.1-2-2.2-1.9-2.1-1.9-2.2-1.8-2.1-1.8-2.2-1.7-2.2-1.7-2.1-1.6-2.2-1.6-2.2-1.5-2.1-1.5-2.2-1.5-2.2-1.3-2.1-1.4-2.2-1.3-2.2-1.3-2.1-1.2-2.2-1.1-2.2-1.1-2.1-1.1-2.2-1-2.2-1-2.1-1-2.2-0.8-2.2-0.9-2.2-0.8-2.1-0.8-2.2-0.7-2.2-0.6-2.1-0.7-2.2-0.5-2.2-0.6-2.1-0.5-2.2-0.4-2.2-0.4-2.1-0.4-2.2-0.3-2.2-0.3-2.1-0.3-2.2-0.1-2.2-0.2-2.1-0.1-2.2-0.1-2.1 0-2.2 0-2.1 0-2.2 0.1-2.1 0.2-2.2 0.1-2.1 0.3-2.2 0.2M290.6 578l-2.1-3.1-2.1-2.9-2.1-2.9-2.1-2.9-2.1-2.8-2.1-2.8-2.1-2.7-2.2-2.7-2.1-2.6-2.1-2.5-2.1-2.5-2.2-2.5-2.1-2.4-2.1-2.4-2.2-2.3-2.1-2.2-2.1-2.2-2.2-2.2-2.1-2.1-2.2-2.1-2.1-2-2.2-1.9-2.1-1.9-2.2-1.9-2.1-1.8-2.2-1.8-2.1-1.7-2.2-1.7-2.2-1.6-2.1-1.6-2.2-1.5-2.1-1.5-2.2-1.4-2.2-1.4-2.1-1.4-2.2-1.3-2.2-1.2-2.1-1.2-2.2-1.2-2.2-1.1-2.1-1-2.2-1.1-2.2-0.9-2.2-1-2.1-0.9-2.2-0.8-2.2-0.8-2.1-0.8-2.2-0.7-2.2-0.6-2.1-0.7-2.2-0.5-2.2-0.6-2.1-0.5-2.2-0.4-2.2-0.4-2.1-0.4-2.2-0.3-2.2-0.3-2.1-0.2-2.2-0.2-2.2-0.2-2.1-0.1-2.2 0-2.1-0.1-2.2 0.1-2.1 0-2.2 0.1-2.1 0.1-2.2 0.2-2.1 0.2M292.5 577.5l-2.1-3-2.1-3-2.1-2.9-2.1-2.9-2.1-2.8-2.1-2.7-2.1-2.7-2.1-2.7-2.1-2.6-2.2-2.5-2.1-2.5-2.1-2.5-2.1-2.4-2.2-2.3-2.1-2.3-2.1-2.3-2.2-2.2-2.1-2.1-2.2-2.2-2.1-2-2.2-2-2.1-2-2.1-1.9-2.2-1.8-2.2-1.8-2.1-1.8-2.2-1.7-2.1-1.7-2.2-1.6-2.1-1.6-2.2-1.5-2.2-1.5-2.1-1.4-2.2-1.4-2.2-1.3-2.1-1.3-2.2-1.3-2.2-1.2-2.1-1.1-2.2-1.1-2.2-1.1-2.1-1-2.2-1-2.2-0.9-2.1-0.9-2.2-0.8-2.2-0.8-2.1-0.8-2.2-0.7-2.2-0.6-2.1-0.7-2.2-0.5-2.2-0.6-2.1-0.4-2.2-0.5-2.2-0.4-2.1-0.4-2.2-0.3-2.2-0.2-2.1-0.3-2.2-0.2-2.2-0.1-2.1-0.1-2.2-0.1-2.1 0-2.2 0-2.1 0.1-2.2 0.1-2.1 0.1M294.5 577.1l-2.1-3-2.1-3-2.1-2.9-2.1-2.8-2.1-2.8-2.2-2.8-2.1-2.7-2.1-2.6-2.1-2.6-2.1-2.6-2.1-2.5-2.2-2.4-2.1-2.4-2.1-2.3-2.2-2.3-2.1-2.3-2.1-2.2-2.2-2.1-2.1-2.1-2.1-2.1-2.2-2-2.1-1.9-2.2-1.9-2.1-1.9-2.2-1.8-2.1-1.7-2.2-1.7-2.2-1.7-2.1-1.6-2.2-1.6-2.1-1.5-2.2-1.5-2.1-1.4-2.2-1.4-2.2-1.3-2.1-1.3-2.2-1.2-2.2-1.2-2.1-1.2-2.2-1.1-2.2-1-2.1-1.1-2.2-0.9-2.2-0.9-2.1-0.9-2.2-0.9-2.2-0.7-2.1-0.8-2.2-0.7-2.2-0.6-2.1-0.7-2.2-0.5-2.2-0.6-2.1-0.4-2.2-0.5-2.2-0.4-2.1-0.3-2.2-0.3-2.2-0.3-2.1-0.2-2.2-0.2-2.1-0.2-2.2-0.1-2.2 0-2.1-0.1-2.2 0.1M296.4 576.8l-2.1-3-2.1-3-2.1-2.9-2.1-2.8-2.1-2.8-2.1-2.7-2.1-2.7-2.1-2.7-2.2-2.6-2.1-2.5-2.1-2.5-2.1-2.4-2.1-2.4-2.2-2.3-2.1-2.3-2.1-2.3-2.2-2.2-2.1-2.1-2.1-2.1-2.2-2-2.1-2-2.2-2-2.1-1.9-2.2-1.8-2.1-1.8-2.2-1.8-2.1-1.7-2.2-1.6-2.1-1.6-2.2-1.6-2.2-1.5-2.1-1.5-2.2-1.4-2.1-1.4-2.2-1.3-2.2-1.3-2.1-1.2-2.2-1.2-2.2-1.1-2.1-1.1-2.2-1.1-2.2-1-2.1-1-2.2-0.9-2.2-0.9-2.1-0.8-2.2-0.8-2.2-0.7-2.1-0.7-2.2-0.7-2.2-0.6-2.1-0.5-2.2-0.6-2.1-0.4-2.2-0.5-2.2-0.4-2.1-0.3-2.2-0.3-2.2-0.3-2.1-0.2-2.2-0.2-2.1-0.2-2.2-0.1-2.2 0M298.3 576.6l-2.1-3-2.1-2.9-2.1-2.9-2.1-2.9-2.1-2.8-2.1-2.7-2.1-2.7-2.1-2.6-2.1-2.6-2.1-2.5-2.2-2.5-2.1-2.4-2.1-2.4-2.1-2.3-2.2-2.3-2.1-2.3-2.1-2.1-2.2-2.2-2.1-2.1-2.1-2-2.2-2-2.1-1.9-2.2-1.9-2.1-1.9-2.2-1.7-2.1-1.8-2.2-1.7-2.1-1.6-2.2-1.6-2.1-1.6-2.2-1.5-2.1-1.5-2.2-1.4-2.2-1.4-2.1-1.3-2.2-1.3-2.1-1.2-2.2-1.2-2.2-1.1-2.1-1.1-2.2-1.1-2.2-1-2.1-0.9-2.2-0.9-2.2-0.9-2.1-0.8-2.2-0.8-2.2-0.8-2.1-0.6-2.2-0.7-2.2-0.6-2.1-0.6-2.2-0.5-2.1-0.5-2.2-0.4-2.2-0.4-2.1-0.3-2.2-0.3-2.2-0.3-2.1-0.2-2.2-0.2-2.1-0.1M300.2 576.5l-2.1-3-2.1-2.9-2.1-2.9-2.1-2.8-2.1-2.8-2.1-2.7-2.1-2.7-2.1-2.7-2.1-2.5-2.1-2.6-2.1-2.4-2.1-2.5-2.2-2.3-2.1-2.4-2.1-2.2-2.1-2.3-2.2-2.1-2.1-2.2-2.1-2-2.2-2.1-2.1-2-2.2-1.9-2.1-1.9-2.1-1.8-2.2-1.8-2.1-1.7-2.2-1.7-2.1-1.7-2.2-1.6-2.2-1.5-2.1-1.5-2.2-1.5-2.1-1.4-2.2-1.4-2.1-1.3-2.2-1.3-2.2-1.2-2.1-1.2-2.2-1.1-2.1-1.1-2.2-1-2.2-1-2.1-1-2.2-0.9-2.2-0.9-2.1-0.8-2.2-0.8-2.2-0.7-2.1-0.7-2.2-0.6-2.2-0.6-2.1-0.6-2.2-0.5-2.1-0.5-2.2-0.4-2.2-0.4-2.1-0.4-2.2-0.3-2.2-0.2-2.1-0.2M302.1 576.5l-2.1-3-2.1-2.9-2.1-2.9-2-2.8-2.1-2.8-2.1-2.7-2.1-2.7-2.2-2.6-2.1-2.6-2.1-2.5-2.1-2.5-2.1-2.4-2.1-2.4-2.1-2.3-2.2-2.2-2.1-2.3-2.1-2.1-2.2-2.2-2.1-2-2.1-2.1-2.2-1.9-2.1-2-2.1-1.8-2.2-1.9-2.1-1.8-2.2-1.7-2.1-1.7-2.2-1.6-2.1-1.6-2.2-1.6-2.1-1.5-2.2-1.4-2.2-1.4-2.1-1.4-2.2-1.3-2.1-1.3-2.2-1.2-2.1-1.2-2.2-1.1-2.2-1.1-2.1-1-2.2-1-2.2-1-2.1-0.9-2.2-0.8-2.1-0.9-2.2-0.7-2.2-0.8-2.1-0.6-2.2-0.7-2.2-0.6-2.1-0.5-2.2-0.6-2.2-0.4-2.1-0.5-2.2-0.3-2.1-0.4-2.2-0.3M304 576.6l-2.1-3-2.1-2.9-2-2.9-2.1-2.8-2.1-2.8-2.1-2.7-2.1-2.6-2.1-2.7-2.1-2.5-2.1-2.5-2.2-2.5-2.1-2.4-2.1-2.4-2.1-2.3-2.1-2.3-2.2-2.2-2.1-2.1-2.1-2.2-2.1-2-2.2-2-2.1-2-2.2-1.9-2.1-1.9-2.1-1.8-2.2-1.8-2.1-1.7-2.2-1.7-2.1-1.7-2.2-1.6-2.1-1.5-2.2-1.5-2.1-1.4-2.2-1.4-2.1-1.4-2.2-1.3-2.1-1.3-2.2-1.2-2.2-1.2-2.1-1.1-2.2-1.1-2.1-1-2.2-1-2.2-1-2.1-0.9-2.2-0.8-2.2-0.8-2.1-0.8-2.2-0.7-2.1-0.7-2.2-0.6-2.2-0.6-2.1-0.6-2.2-0.5-2.2-0.5-2.1-0.4M305.9 576.8l-2.1-3-2-2.9-2.1-2.9-2.1-2.8-2.1-2.7-2.1-2.8-2.1-2.6-2.1-2.6-2.1-2.6-2.1-2.5-2.1-2.4-2.1-2.5-2.2-2.3-2.1-2.3-2.1-2.3-2.1-2.2-2.1-2.2-2.2-2.1-2.1-2-2.1-2-2.2-2-2.1-1.9-2.1-1.9-2.2-1.8-2.1-1.8-2.2-1.7-2.1-1.7-2.2-1.6-2.1-1.6-2.2-1.5-2.1-1.5-2.2-1.5-2.1-1.4-2.2-1.3-2.1-1.3-2.2-1.3-2.1-1.2-2.2-1.2-2.1-1.1-2.2-1.1-2.2-1-2.1-1-2.2-0.9-2.1-0.9-2.2-0.9-2.2-0.8-2.1-0.8-2.2-0.7-2.2-0.7-2.1-0.6-2.2-0.6-2.1-0.6-2.2-0.5M307.8 577.1l-2.1-3-2-2.9-2.1-2.9-2.1-2.8-2.1-2.7-2.1-2.7-2.1-2.7-2.1-2.6-2.1-2.5-2.1-2.5-2.1-2.5-2.1-2.4-2.1-2.4-2.1-2.3-2.2-2.2-2.1-2.2-2.1-2.2-2.1-2.1-2.2-2-2.1-2-2.1-2-2.2-1.9-2.1-1.9-2.1-1.8-2.2-1.8-2.1-1.7-2.2-1.7-2.1-1.6-2.1-1.6-2.2-1.5-2.1-1.5-2.2-1.4-2.1-1.4-2.2-1.4-2.2-1.3-2.1-1.2-2.2-1.2-2.1-1.2-2.2-1.1-2.1-1.1-2.2-1-2.1-1-2.2-1-2.2-0.8-2.1-0.9-2.2-0.8-2.1-0.8-2.2-0.7-2.2-0.7-2.1-0.6-2.2-0.6M309.7 577.4l-2.1-2.9-2-2.9-2.1-2.9-2.1-2.8-2.1-2.7-2.1-2.7-2.1-2.7-2.1-2.6-2.1-2.5-2.1-2.5-2.1-2.5-2.1-2.4-2.1-2.3-2.1-2.3-2.1-2.2-2.2-2.2-2.1-2.2-2.1-2.1-2.1-2.1-2.2-2-2.1-1.9-2.1-1.9-2.1-1.9-2.2-1.8-2.1-1.8-2.2-1.7-2.1-1.6-2.1-1.7-2.2-1.5-2.1-1.6-2.2-1.5-2.1-1.4-2.2-1.4-2.1-1.3-2.2-1.3-2.1-1.3-2.2-1.2-2.1-1.1-2.2-1.2-2.2-1-2.1-1.1-2.2-0.9-2.1-1-2.2-0.9-2.1-0.8-2.2-0.8-2.2-0.8-2.1-0.7-2.2-0.7M311.6 577.9l-2.1-2.9-2-2.9-2.1-2.9-2.1-2.8-2.1-2.7-2.1-2.7-2.1-2.7-2.1-2.6-2.1-2.5-2.1-2.5-2.1-2.4-2.1-2.4-2.1-2.4-2.1-2.3-2.1-2.2-2.1-2.2-2.1-2.1-2.2-2.1-2.1-2.1-2.1-2-2.1-1.9-2.2-1.9-2.1-1.9-2.1-1.8-2.2-1.8-2.1-1.7-2.2-1.6-2.1-1.6-2.1-1.6-2.2-1.5-2.1-1.5-2.2-1.5-2.1-1.3-2.2-1.4-2.1-1.3-2.2-1.2-2.1-1.2-2.2-1.2-2.1-1.1-2.2-1.1-2.1-1-2.2-1-2.1-0.9-2.2-0.9-2.2-0.8-2.1-0.8-2.2-0.8M313.5 578.5l-2.1-3-2.1-2.9-2-2.8-2.1-2.8-2.1-2.7-2.1-2.7-2.1-2.7-2.1-2.5-2.1-2.6-2.1-2.5-2.1-2.4-2.1-2.4-2.1-2.3-2.1-2.3-2.1-2.2-2.1-2.2-2.1-2.2-2.1-2.1-2.2-2-2.1-2-2.1-2-2.1-1.9-2.2-1.8-2.1-1.8-2.1-1.8-2.2-1.7-2.1-1.6-2.1-1.6-2.2-1.6-2.1-1.5-2.2-1.5-2.1-1.4-2.2-1.4-2.1-1.4-2.2-1.2-2.1-1.3-2.2-1.2-2.1-1.1-2.2-1.1-2.1-1.1-2.2-1-2.1-1-2.2-0.9-2.1-0.9-2.2-0.9M315.4 579.1l-2.1-2.9-2.1-2.9-2-2.8-2.1-2.8-2.1-2.7-2.1-2.7-2.1-2.7-2.1-2.5-2.1-2.6-2-2.4-2.1-2.5-2.1-2.4-2.2-2.3-2.1-2.3-2.1-2.2-2.1-2.2-2.1-2.1-2.1-2.1-2.1-2.1-2.2-1.9-2.1-2-2.1-1.9-2.1-1.8-2.2-1.8-2.1-1.8-2.1-1.7-2.2-1.6-2.1-1.6-2.1-1.6-2.2-1.5-2.1-1.5-2.2-1.4-2.1-1.4-2.2-1.3-2.1-1.3-2.1-1.3-2.2-1.2-2.1-1.1-2.2-1.1-2.1-1.1-2.2-1-2.1-1-2.2-0.9M317.2 579.9l-2-2.9-2.1-2.9-2.1-2.9-2-2.7-2.1-2.8-2.1-2.6-2.1-2.7-2.1-2.5-2.1-2.6-2-2.4-2.1-2.5-2.1-2.3-2.1-2.4-2.1-2.2-2.2-2.3-2.1-2.2-2.1-2.1-2.1-2.1-2.1-2-2.1-2-2.1-1.9-2.2-1.9-2.1-1.9-2.1-1.8-2.2-1.7-2.1-1.7-2.1-1.7-2.2-1.6-2.1-1.5-2.1-1.5-2.2-1.5-2.1-1.4-2.2-1.4-2.1-1.3-2.1-1.3-2.2-1.2-2.1-1.2-2.2-1.2-2.1-1.1-2.2-1M319.1 580.7l-2.1-2.9-2-2.9-2.1-2.8-2.1-2.8-2-2.7-2.1-2.7-2.1-2.6-2.1-2.6-2.1-2.5-2-2.4-2.1-2.5-2.1-2.3-2.1-2.4-2.1-2.2-2.1-2.3-2.2-2.1-2.1-2.2-2.1-2-2.1-2.1-2.1-1.9-2.1-2-2.1-1.9-2.2-1.8-2.1-1.8-2.1-1.7-2.2-1.7-2.1-1.7-2.1-1.6-2.1-1.5-2.2-1.6-2.1-1.4-2.2-1.4-2.1-1.4-2.1-1.3-2.2-1.3-2.1-1.2-2.2-1.2-2.1-1.2M321 581.7l-2.1-3-2-2.8-2.1-2.8-2.1-2.8-2-2.7-2.1-2.7-2.1-2.6-2.1-2.6-2.1-2.5-2.1-2.5-2-2.4-2.1-2.3-2.1-2.4-2.1-2.2-2.1-2.2-2.1-2.2-2.2-2.1-2.1-2.1-2.1-2-2.1-2-2.1-1.9-2.1-1.9-2.1-1.9-2.2-1.7-2.1-1.8-2.1-1.7-2.1-1.6-2.2-1.6-2.1-1.6-2.1-1.5-2.2-1.4-2.1-1.5-2.2-1.3-2.1-1.3-2.1-1.3-2.2-1.2M322.8 582.7l-2-2.9-2.1-2.9-2-2.8-2.1-2.8-2.1-2.7-2-2.6-2.1-2.6-2.1-2.6-2.1-2.5-2.1-2.5-2.1-2.4-2-2.4-2.1-2.3-2.1-2.2-2.1-2.2-2.1-2.2-2.1-2.1-2.2-2.1-2.1-2-2.1-2-2.1-1.9-2.1-1.9-2.1-1.8-2.1-1.8-2.2-1.7-2.1-1.7-2.1-1.7-2.1-1.6-2.2-1.5-2.1-1.5-2.1-1.5-2.2-1.4-2.1-1.4-2.1-1.3M324.7 583.8l-2.1-2.9-2-2.9-2.1-2.8-2-2.7-2.1-2.7-2.1-2.7-2-2.6-2.1-2.5-2.1-2.6-2.1-2.4-2.1-2.4-2.1-2.4-2.1-2.3-2-2.2-2.1-2.3-2.1-2.1-2.1-2.1-2.1-2.1-2.2-2-2.1-2-2.1-1.9-2.1-1.9-2.1-1.8-2.1-1.8-2.1-1.7-2.2-1.7-2.1-1.6-2.1-1.6-2.1-1.6-2.2-1.5-2.1-1.4-2.1-1.4M326.5 585l-2-2.9-2.1-2.8-2-2.8-2.1-2.8-2-2.7-2.1-2.6-2.1-2.6-2.1-2.6-2-2.5-2.1-2.5-2.1-2.4-2.1-2.3-2.1-2.3-2.1-2.3-2-2.2-2.1-2.1-2.1-2.1-2.1-2.1-2.2-2-2.1-2-2.1-1.9-2.1-1.9-2.1-1.8-2.1-1.8-2.1-1.7-2.1-1.7-2.2-1.6-2.1-1.6-2.1-1.5-2.1-1.5M328.4 586.3l-2.1-2.9-2-2.8-2.1-2.8-2-2.8-2.1-2.7-2-2.6-2.1-2.6-2.1-2.6-2.1-2.5-2-2.4-2.1-2.4-2.1-2.3-2.1-2.3-2.1-2.3-2.1-2.2-2.1-2.2-2.1-2.1-2.1-2-2.1-2-2.1-2-2.1-1.9-2.1-1.9-2.1-1.8-2.1-1.8-2.1-1.7-2.1-1.7-2.2-1.6-2.1-1.6M330.2 587.7l-2-2.9-2.1-2.8-2-2.8-2.1-2.8-2-2.7-2.1-2.6-2.1-2.6-2-2.5-2.1-2.5-2.1-2.5-2-2.4-2.1-2.3-2.1-2.3-2.1-2.2-2.1-2.2-2.1-2.2-2.1-2.1-2.1-2.1-2.1-2-2.1-1.9-2.1-1.9-2.1-1.9-2.1-1.8-2.1-1.8-2.1-1.7-2.1-1.7M332 589.2l-2-2.9-2-2.8-2.1-2.8-2-2.8-2.1-2.6-2-2.7-2.1-2.6-2.1-2.5-2-2.5-2.1-2.4-2.1-2.4-2.1-2.4-2-2.3-2.1-2.2-2.1-2.2-2.1-2.1-2.1-2.1-2.1-2.1-2.1-2-2.1-2-2.1-1.9-2.1-1.8-2.1-1.8-2.1-1.8M333.9 590.8l-2.1-2.9-2-2.8-2-2.8-2.1-2.8-2-2.7-2.1-2.6-2.1-2.6-2-2.5-2.1-2.5-2-2.4-2.1-2.4-2.1-2.3-2.1-2.3-2-2.3-2.1-2.2-2.1-2.1-2.1-2.1-2.1-2.1-2.1-2-2.1-1.9-2.1-1.9-2.1-1.9M335.7 592.4l-2-2.8-2.1-2.9-2-2.8-2.1-2.7-2-2.7-2.1-2.6-2-2.6-2.1-2.5-2-2.5-2.1-2.4-2.1-2.4-2-2.3-2.1-2.3-2.1-2.3-2.1-2.1-2-2.2-2.1-2.1-2.1-2-2.1-2-2.1-2M337.5 594.2l-2-2.9-2.1-2.8-2-2.8-2-2.7-2.1-2.7-2-2.6-2.1-2.6-2-2.5-2.1-2.5-2.1-2.4-2-2.4-2.1-2.3-2.1-2.3-2-2.3-2.1-2.1-2.1-2.2-2.1-2.1-2.1-2M339.3 596l-2-2.9-2-2.8-2.1-2.7-2-2.8-2.1-2.6-2-2.7-2-2.5-2.1-2.6-2.1-2.4-2-2.5-2.1-2.3-2-2.4-2.1-2.2-2.1-2.3-2.1-2.1-2-2.2M341.1 597.9l-2-2.8-2-2.8-2.1-2.8-2-2.7-2-2.7-2.1-2.6-2-2.6-2.1-2.5-2-2.5-2.1-2.4-2-2.4-2.1-2.3-2.1-2.3-2-2.2M342.9 600l-2-2.9-2-2.8-2.1-2.8-2-2.7-2-2.7-2.1-2.6-2-2.5-2.1-2.6-2-2.4-2.1-2.4-2-2.4-2.1-2.3M344.7 602.1l-2-2.9-2-2.8-2.1-2.8-2-2.7-2-2.6-2.1-2.7-2-2.5-2-2.5-2.1-2.5-2-2.4M346.5 604.3l-2.1-2.9-2-2.8-2-2.8-2-2.7-2-2.6-2.1-2.6-2-2.6-2-2.5M348.2 606.5l-2-2.8-2-2.8-2-2.8-2-2.7-2-2.6-2.1-2.6M350 608.9l-2-2.9-2-2.8-2-2.7-2-2.7M351.7 611.3l-2-2.8-2-2.8" fill="none" stroke="#000" stroke-opacity="0.6" stroke-width="0.8"/>
<path d="M217.2 672L217.2 684" stroke="#222" stroke-width="0.8"/>
<ellipse cx="209.2" cy="490.3" rx="2.3" ry="2.9" fill="#f00" stroke="#5a1010" stroke-width="0.5"/>
<ellipse cx="209.2" cy="497" rx="2.3" ry="2.9" fill="#f00" stroke="#5a1010" stroke-width="0.5"/>
<ellipse cx="61" cy="550.4" rx="2.3" ry="2.9" fill="#f00" stroke="#5a1010" stroke-width="0.5"/>
<ellipse cx="353" cy="626.6" rx="2.3" ry="2.9" fill="#fbb" stroke="#5a1010" stroke-width="0.5"/>
<ellipse cx="217" cy="684" rx="2.3" ry="2.9" fill="#fbb" stroke="#5a1010" stroke-width="0.5"/>
<circle cx="64.5" cy="636.5" r="1.2" fill="#111"/>
<text x="59.2" y="634.3" font-size="9.2" text-anchor="end" fill="#333">7</text>
<circle cx="62.7" cy="589.4" r="1.2" fill="#111"/>
<text x="57.4" y="587.2" font-size="9.2" text-anchor="end" fill="#333">7.5</text>
<circle cx="61" cy="542.3" r="1.2" fill="#111"/>
<text x="55.7" y="540.1" font-size="9.2" text-anchor="end" fill="#333">8</text>
<circle cx="59.2" cy="495.2" r="1.2" fill="#111"/>
<text x="53.9" y="493" font-size="9.2" text-anchor="end" fill="#333">8.5</text>
<circle cx="57.4" cy="448.1" r="1.2" fill="#111"/>
<text x="52.1" y="445.9" font-size="9.2" text-anchor="end" fill="#333">9</text>
<circle cx="217.1" cy="776.3" r="1.2" fill="#111"/>
<text x="222.1" y="785" font-size="9.2" fill="#333">6.00</text>
<circle cx="250.4" cy="754.4" r="1.2" fill="#111"/>
<text x="255.4" y="763.1" font-size="9.2" fill="#333">7.00</text>
<circle cx="283.8" cy="732.6" r="1.2" fill="#111"/>
<text x="288.8" y="741.3" font-size="9.2" fill="#333">8.00</text>
<circle cx="317.1" cy="710.7" r="1.2" fill="#111"/>
<text x="322.1" y="719.4" font-size="9.2" fill="#333">9.00</text>
<circle cx="350.4" cy="688.8" r="1.2" fill="#111"/>
<text x="355.4" y="697.5" font-size="9.2" fill="#333">10.00</text>
<circle cx="217.1" cy="776.3" r="1.2" fill="#111"/>
<text x="211.9" y="784.6" font-size="9.2" text-anchor="end" fill="#333">6.20</text>
<circle cx="179.5" cy="756" r="1.2" fill="#111"/>
<text x="174.3" y="764.3" font-size="9.2" text-anchor="end" fill="#333">6.50</text>
<circle cx="141.9" cy="735.6" r="1.2" fill="#111"/>
<text x="136.7" y="743.9" font-size="9.2" text-anchor="end" fill="#333">6.80</text>
<circle cx="104.3" cy="715.3" r="1.2" fill="#111"/>
<text x="99.1" y="723.6" font-size="9.2" text-anchor="end" fill="#333">7.10</text>
<circle cx="66.7" cy="695" r="1.2" fill="#111"/>
<text x="61.5" y="703.3" font-size="9.2" text-anchor="end" fill="#333">7.40</text>
<text x="18.1" y="575.5" font-size="15.4" text-anchor="middle" fill="#111" transform="rotate(-90 18.1 575.5)">Butanol</text>
<text x="71" y="775.8" font-size="14.3" fill="#111">C: pH</text>
<text x="307.5" y="767.5" font-size="14.3" fill="#111">A: Butanol</text>
</g>
<g id="pD">
<clipPath id="crD"><rect x="465.2" y="467.2" width="260.1" height="294.1"/></clipPath>
<g clip-path="url(#crD)">
<rect x="465.2" y="467.2" width="260.1" height="294.1" fill="#004dff"/>
<g transform="translate(582.2 565.6) rotate(-91.25)">
<ellipse rx="302.8" ry="184" fill="#0051ff"/>
<ellipse rx="301.6" ry="183.2" fill="#0058ff"/>
<ellipse rx="300.4" ry="182.5" fill="#005fff"/>
<ellipse rx="299.2" ry="181.8" fill="#0066ff"/>
<ellipse rx="298.1" ry="181.1" fill="#006dff"/>
<ellipse rx="296.9" ry="180.4" fill="#0075ff"/>
<ellipse rx="295.7" ry="179.7" fill="#007cff"/>
<ellipse rx="294.5" ry="178.9" fill="#0083ff"/>
<ellipse rx="293.3" ry="178.2" fill="#008aff"/>
<ellipse rx="292.1" ry="177.5" fill="#0091ff"/>
<ellipse rx="290.9" ry="176.7" fill="#0098ff"/>
<ellipse rx="289.7" ry="176" fill="#00a0ff"/>
<ellipse rx="288.4" ry="175.3" fill="#00a7ff"/>
<ellipse rx="287.2" ry="174.5" fill="#00aeff"/>
<ellipse rx="286" ry="173.8" fill="#00b5ff"/>
<ellipse rx="284.8" ry="173" fill="#00bcff"/>
<ellipse rx="283.5" ry="172.3" fill="#00c3ff"/>
<ellipse rx="282.3" ry="171.5" fill="#00caff"/>
<ellipse rx="281" ry="170.7" fill="#00d2ff"/>
<ellipse rx="279.8" ry="170" fill="#00d9ff"/>
<ellipse rx="278.5" ry="169.2" fill="#00e0ff"/>
<ellipse rx="277.2" ry="168.4" fill="#00e7ff"/>
<ellipse rx="276" ry="167.7" fill="#00eeff"/>
<ellipse rx="274.7" ry="166.9" fill="#00f5ff"/>
<ellipse rx="273.4" ry="166.1" fill="#00fdff"/>
<ellipse rx="272.1" ry="165.3" fill="#00fffa"/>
<ellipse rx="270.8" ry="164.5" fill="#00fff3"/>
<ellipse rx="269.5" ry="163.7" fill="#00ffec"/>
<ellipse rx="268.2" ry="162.9" fill="#00ffe4"/>
<ellipse rx="266.9" ry="162.1" fill="#00ffdd"/>
<ellipse rx="265.5" ry="161.3" fill="#00ffd6"/>
<ellipse rx="264.2" ry="160.5" fill="#00ffcf"/>
<ellipse rx="262.9" ry="159.7" fill="#00ffc7"/>
<ellipse rx="261.5" ry="158.9" fill="#00ffc0"/>
<ellipse rx="260.2" ry="158.1" fill="#00ffb9"/>
<ellipse rx="258.8" ry="157.3" fill="#00ffb2"/>
<ellipse rx="257.4" ry="156.4" fill="#00ffaa"/>
<ellipse rx="256.1" ry="155.6" fill="#00ffa3"/>
<ellipse rx="254.7" ry="154.7" fill="#00ff9c"/>
<ellipse rx="253.3" ry="153.9" fill="#00ff95"/>
<ellipse rx="251.9" ry="153.1" fill="#00ff8d"/>
<ellipse rx="250.5" ry="152.2" fill="#00ff86"/>
<ellipse rx="249.1" ry="151.3" fill="#00ff7f"/>
<ellipse rx="247.7" ry="150.5" fill="#00ff78"/>
<ellipse rx="246.3" ry="149.6" fill="#00ff70"/>
<ellipse rx="244.8" ry="148.7" fill="#00ff69"/>
<ellipse rx="243.4" ry="147.9" fill="#00ff62"/>
<ellipse rx="241.9" ry="147" fill="#00ff5b"/>
<ellipse rx="240.5" ry="146.1" fill="#00ff53"/>
<ellipse rx="239" ry="145.2" fill="#00ff4c"/>
<ellipse rx="237.5" ry="144.3" fill="#00ff45"/>
<ellipse rx="236" ry="143.4" fill="#00ff3e"/>
<ellipse rx="234.5" ry="142.5" fill="#00ff36"/>
<ellipse rx="233" ry="141.6" fill="#00ff2f"/>
<ellipse rx="231.5" ry="140.6" fill="#00ff28"/>
<ellipse rx="230" ry="139.7" fill="#00ff21"/>
<ellipse rx="228.4" ry="138.8" fill="#00ff19"/>
<ellipse rx="226.9" ry="137.8" fill="#00ff12"/>
<ellipse rx="225.3" ry="136.9" fill="#00ff0b"/>
<ellipse rx="223.7" ry="135.9" fill="#00ff04"/>
<ellipse rx="222.2" ry="135" fill="#04ff00"/>
<ellipse rx="220.6" ry="134" fill="#0bff00"/>
<ellipse rx="219" ry="133" fill="#12ff00"/>
<ellipse rx="217.4" ry="132.1" fill="#19ff00"/>
<ellipse rx="215.7" ry="131.1" fill="#20ff00"/>
<ellipse rx="214.1" ry="130.1" fill="#27ff00"/>
<ellipse rx="212.4" ry="129.1" fill="#2eff00"/>
<ellipse rx="210.8" ry="128.1" fill="#35ff00"/>
<ellipse rx="209.1" ry="127" fill="#3cff00"/>
<ellipse rx="207.4" ry="126" fill="#43ff00"/>
<ellipse rx="205.7" ry="125" fill="#4aff00"/>
<ellipse rx="204" ry="123.9" fill="#51ff00"/>
<ellipse rx="202.2" ry="122.9" fill="#58ff00"/>
<ellipse rx="200.5" ry="121.8" fill="#5fff00"/>
<ellipse rx="198.7" ry="120.7" fill="#66ff00"/>
<ellipse rx="196.9" ry="119.7" fill="#6dff00"/>
<ellipse rx="195.1" ry="118.6" fill="#74ff00"/>
<ellipse rx="193.3" ry="117.5" fill="#7cff00"/>
<ellipse rx="191.5" ry="116.3" fill="#83ff00"/>
<ellipse rx="189.6" ry="115.2" fill="#8aff00"/>
<ellipse rx="187.8" ry="114.1" fill="#91ff00"/>
<ellipse rx="185.9" ry="112.9" fill="#98ff00"/>
<ellipse rx="184" ry="111.8" fill="#9fff00"/>
<ellipse rx="182" ry="110.6" fill="#a6ff00"/>
<ellipse rx="180.1" ry="109.4" fill="#adff00"/>
<ellipse rx="178.1" ry="108.2" fill="#b4ff00"/>
<ellipse rx="176.1" ry="107" fill="#bbff00"/>
<ellipse rx="174.1" ry="105.8" fill="#c2ff00"/>
<ellipse rx="172.1" ry="104.6" fill="#c9ff00"/>
<ellipse rx="170" ry="103.3" fill="#d0ff00"/>
<ellipse rx="167.9" ry="102" fill="#d7ff00"/>
<ellipse rx="165.8" ry="100.8" fill="#deff00"/>
<ellipse rx="163.7" ry="99.5" fill="#e5ff00"/>
<ellipse rx="161.5" ry="98.1" fill="#ecff00"/>
<ellipse rx="159.3" ry="96.8" fill="#f3ff00"/>
<ellipse rx="157.1" ry="95.4" fill="#fbff00"/>
<ellipse rx="154.8" ry="94.1" fill="#fffd00"/>
<ellipse rx="152.5" ry="92.7" fill="#fff700"/>
<ellipse rx="150.2" ry="91.3" fill="#fff100"/>
<ellipse rx="147.8" ry="89.8" fill="#ffeb00"/>
<ellipse rx="145.4" ry="88.4" fill="#ffe500"/>
<ellipse rx="143" ry="86.9" fill="#ffdf00"/>
<ellipse rx="140.5" ry="85.4" fill="#ffd900"/>
<ellipse rx="138" ry="83.8" fill="#ffd300"/>
<ellipse rx="135.4" ry="82.3" fill="#ffcd00"/>
<ellipse rx="132.8" ry="80.7" fill="#ffc700"/>
<ellipse rx="130.1" ry="79" fill="#ffc100"/>
<ellipse rx="127.3" ry="77.4" fill="#ffbb00"/>
<ellipse rx="124.5" ry="75.7" fill="#ffb500"/>
<ellipse rx="121.7" ry="73.9" fill="#ffaf00"/>
<ellipse rx="118.8" ry="72.2" fill="#ffa900"/>
<ellipse rx="115.7" ry="70.3" fill="#ffa300"/>
<ellipse rx="112.7" ry="68.4" fill="#ff9d00"/>
<ellipse rx="109.5" ry="66.5" fill="#ff9700"/>
<ellipse rx="106.2" ry="64.5" fill="#ff9100"/>
<ellipse rx="102.8" ry="62.5" fill="#ff8b00"/>
<ellipse rx="99.4" ry="60.4" fill="#ff8500"/>
<ellipse rx="95.7" ry="58.2" fill="#ff7f00"/>
<ellipse rx="92" ry="55.9" fill="#ff7900"/>
<ellipse rx="88.1" ry="53.5" fill="#ff7300"/>
<ellipse rx="84" ry="51" fill="#ff6d00"/>
<ellipse rx="79.7" ry="48.4" fill="#ff6700"/>
<ellipse rx="75.1" ry="45.6" fill="#ff6100"/>
<ellipse rx="70.3" ry="42.7" fill="#ff5b00"/>
<ellipse rx="65" ry="39.5" fill="#ff5500"/>
<ellipse rx="59.4" ry="36.1" fill="#ff4f00"/>
<ellipse rx="53.1" ry="32.3" fill="#ff4900"/>
<ellipse rx="46" ry="27.9" fill="#ff4300"/>
<ellipse rx="37.6" ry="22.8" fill="#ff3d00"/>
<ellipse rx="26.6" ry="16.1" fill="#ff3700"/>
<ellipse rx="300.3" ry="182.5" fill="none" stroke="#1a1a1a" stroke-width="0.7"/>
<ellipse rx="276.1" ry="167.8" fill="none" stroke="#1a1a1a" stroke-width="0.7"/>
<ellipse rx="249.6" ry="151.6" fill="none" stroke="#1a1a1a" stroke-width="0.7"/>
<ellipse rx="219.8" ry="133.6" fill="none" stroke="#1a1a1a" stroke-width="0.7"/>
<ellipse rx="185.3" ry="112.6" fill="none" stroke="#1a1a1a" stroke-width="0.7"/>
<ellipse rx="142.8" ry="86.8" fill="none" stroke="#1a1a1a" stroke-width="0.7"/>
<ellipse rx="80.1" ry="48.7" fill="none" stroke="#1a1a1a" stroke-width="0.7"/>
</g></g>
<rect x="465.2" y="467.2" width="260.1" height="294.1" fill="none" stroke="#333" stroke-width="0.8"/>
<rect x="565.5" y="635.8" width="14.9" height="9.4" fill="#fff" stroke="#222" stroke-width="0.7"/>
<text x="573" y="643.6" font-size="8.8" text-anchor="middle" fill="#222">8.4</text>
<rect x="571.5" y="697.8" width="14.9" height="9.4" fill="#fff" stroke="#222" stroke-width="0.7"/>
<text x="579" y="705.6" font-size="8.8" text-anchor="middle" fill="#222">8.2</text>
<rect x="582" y="739.3" width="7.1" height="9.4" fill="#fff" stroke="#222" stroke-width="0.7"/>
<text x="585.5" y="747.1" font-size="8.8" text-anchor="middle" fill="#222">8</text>
<rect x="700.5" y="630.3" width="14.9" height="9.4" fill="#fff" stroke="#222" stroke-width="0.7"/>
<text x="708" y="638.1" font-size="8.8" text-anchor="middle" fill="#222">7.8</text>
<rect x="698.5" y="700.3" width="14.9" height="9.4" fill="#fff" stroke="#222" stroke-width="0.7"/>
<text x="706" y="708.1" font-size="8.8" text-anchor="middle" fill="#222">7.6</text>
<rect x="707" y="726.3" width="14.9" height="9.4" fill="#fff" stroke="#222" stroke-width="0.7"/>
<text x="714.5" y="734.1" font-size="8.8" text-anchor="middle" fill="#222">7.4</text>
<rect x="482.1" y="711.3" width="14.9" height="9.4" fill="#fff" stroke="#222" stroke-width="0.7"/>
<text x="489.5" y="719.1" font-size="8.8" text-anchor="middle" fill="#222">7.8</text>
<rect x="470.6" y="733.3" width="14.9" height="9.4" fill="#fff" stroke="#222" stroke-width="0.7"/>
<text x="478" y="741.1" font-size="8.8" text-anchor="middle" fill="#222">7.6</text>
<path d="M465.2 761.3v8" stroke="#444" stroke-width="1"/>
<text x="465.2" y="779.1" font-size="7.6" text-anchor="middle" fill="#333">6.00</text>
<path d="M530.2 761.3v8" stroke="#444" stroke-width="1"/>
<text x="530.2" y="779.1" font-size="7.6" text-anchor="middle" fill="#333">7.00</text>
<path d="M595.2 761.3v8" stroke="#444" stroke-width="1"/>
<text x="595.2" y="779.1" font-size="7.6" text-anchor="middle" fill="#333">8.00</text>
<path d="M660.3 761.3v8" stroke="#444" stroke-width="1"/>
<text x="660.3" y="779.1" font-size="7.6" text-anchor="middle" fill="#333">9.00</text>
<path d="M725.3 761.3v8" stroke="#444" stroke-width="1"/>
<text x="725.3" y="779.1" font-size="7.6" text-anchor="middle" fill="#333">10.00</text>
<path d="M465.2 761.3h-6" stroke="#444" stroke-width="1"/>
<text x="455.2" y="763.2" font-size="7.6" text-anchor="end" fill="#333">6.20</text>
<path d="M465.2 687.8h-6" stroke="#444" stroke-width="1"/>
<text x="455.2" y="689.7" font-size="7.6" text-anchor="end" fill="#333">6.50</text>
<path d="M465.2 614.2h-6" stroke="#444" stroke-width="1"/>
<text x="455.2" y="616.1" font-size="7.6" text-anchor="end" fill="#333">6.80</text>
<path d="M465.2 540.7h-6" stroke="#444" stroke-width="1"/>
<text x="455.2" y="542.6" font-size="7.6" text-anchor="end" fill="#333">7.10</text>
<path d="M465.2 467.2h-6" stroke="#444" stroke-width="1"/>
<text x="455.2" y="469.1" font-size="7.6" text-anchor="end" fill="#333">7.40</text>
<circle cx="465.2" cy="467.2" r="2.3" fill="#f00" stroke="#7a0000" stroke-width="0.5"/>
<circle cx="725.3" cy="467.2" r="2.3" fill="#f00" stroke="#7a0000" stroke-width="0.5"/>
<circle cx="465.2" cy="761.3" r="2.3" fill="#f00" stroke="#7a0000" stroke-width="0.5"/>
<circle cx="725.3" cy="761.3" r="2.3" fill="#f00" stroke="#7a0000" stroke-width="0.5"/>
<circle cx="595.5" cy="614" r="2.5" fill="#f00" stroke="#7a0000" stroke-width="0.6"/>
<text x="592.5" y="617" font-size="8.5" text-anchor="end" fill="#400">5</text>
<text x="594.7" y="460.5" font-size="18.2" text-anchor="middle" fill="#111">Butanol</text>
<text x="421" y="613.5" font-size="13.4" text-anchor="middle" fill="#111" transform="rotate(-90 421 613.5)">C: pH</text>
<text x="594.6" y="819.8" font-size="13.7" text-anchor="middle" fill="#111">A: Butanol</text>
</g>
<g id="pE">
<path d="M60.4 1037.8L53.3 850.2M89.4 1025.4L83.7 841.7M118.3 1013L114.1 833.1M147.3 1000.6L144.4 824.5M176.2 988.2L174.8 816M205.2 975.8L205.2 807.4M350.4 1037.2L356.7 850.2M314.1 1021.9L318.8 839.5M277.8 1006.5L281 828.8M241.5 991.2L243.1 818.1M205.2 975.8L205.2 807.4M60.4 1037.8L205.2 975.8L350.4 1037.2M58.6 990.9L205.2 933.7L352 990.5M56.8 944L205.2 891.6L353.6 943.7M55.1 897.1L205.2 849.5L355.1 897M53.3 850.2L205.2 807.4L356.7 850.2M62.6 1095.9L60.4 1037.8M348.5 1095.2L350.4 1037.2" fill="none" stroke="#4a4a4a" stroke-width="1"/>
<clipPath id="cfE"><polygon points="205.4,1183.2 348.5,1095.2 205.2,1028 62.6,1095.9"/></clipPath>
<polygon points="205.4,1183.2 348.5,1095.2 205.2,1028 62.6,1095.9" fill="#ffff00"/>
<g clip-path="url(#cfE)" fill="none" stroke-width="1.1">
<polyline points="15.4,1112.8 1.8,1102.8 -9.9,1092.7 -19.6,1082.7 -27.1,1073 -32.4,1063.6 -35.4,1054.8 -36.1,1046.5 -34.4,1038.9 -30.5,1032 -24.3,1026 -15.8,1020.7 -5.3,1016.2 7.2,1012.6 21.6,1009.8 37.6,1007.7 55.2,1006.4 74.2,1005.8 94.2,1005.8 115.2,1006.5 136.9,1007.8 159,1009.6 181.3,1012 203.5,1014.9 225.5,1018.3 246.9,1022.3 267.6,1026.7 287.3,1031.7 305.7,1037.1 322.8,1043.1 338.3,1049.5 351.9,1056.4 363.7,1063.8 373.4,1071.6 381,1079.8 386.3,1088.2 389.3,1096.9 389.9,1105.7 388.3,1114.6 384.3,1123.3 378,1131.8 369.5,1140 358.9,1147.7 346.3,1154.8 331.9,1161.1 315.7,1166.5 298,1170.9 279,1174.3 258.9,1176.4 237.9,1177.3 216.2,1176.9 194.1,1175.3 171.8,1172.4 149.6,1168.2 127.7,1162.9 106.3,1156.5 85.7,1149.1 66.1,1140.9 47.7,1132 30.7,1122.6 15.4,1112.8" stroke="#669d99"/>
<polyline points="28.4,1111.1 15.9,1102 5.1,1092.8 -3.8,1083.7 -10.7,1074.8 -15.5,1066.3 -18.3,1058.1 -18.9,1050.5 -17.4,1043.5 -13.8,1037.1 -8.1,1031.4 -0.3,1026.5 9.4,1022.3 20.9,1018.8 34.1,1016.1 48.9,1014 65.1,1012.7 82.5,1012 100.9,1012 120.2,1012.6 140.1,1013.7 160.4,1015.4 180.9,1017.6 201.4,1020.3 221.6,1023.5 241.3,1027.3 260.3,1031.5 278.3,1036.1 295.3,1041.3 311,1046.9 325.2,1052.9 337.8,1059.4 348.6,1066.3 357.5,1073.5 364.5,1081.1 369.3,1088.9 372.1,1096.9 372.7,1105 371.2,1113 367.5,1121 361.7,1128.8 353.9,1136.2 344.2,1143.1 332.6,1149.5 319.3,1155.2 304.5,1160 288.2,1164 270.8,1166.9 252.3,1168.8 233,1169.6 213,1169.2 192.7,1167.7 172.2,1165 151.8,1161.2 131.7,1156.4 112,1150.6 93.1,1144 75,1136.6 58.1,1128.5 42.5,1120 28.4,1111.1" stroke="#66f299"/>
<polyline points="42.6,1109.1 31.3,1101 21.6,1092.8 13.6,1084.7 7.3,1076.7 3,1069 0.5,1061.7 -0.1,1054.8 1.3,1048.4 4.6,1042.5 9.7,1037.3 16.7,1032.7 25.5,1028.8 35.9,1025.5 47.8,1022.9 61.2,1021 75.8,1019.7 91.5,1019 108.2,1018.8 125.6,1019.3 143.6,1020.3 162,1021.8 180.5,1023.8 199,1026.3 217.2,1029.3 235,1032.8 252.2,1036.7 268.6,1041 283.9,1045.8 298.1,1051 310.9,1056.6 322.3,1062.5 332,1068.9 340.1,1075.5 346.4,1082.4 350.8,1089.5 353.3,1096.7 353.8,1104 352.4,1111.2 349.1,1118.4 343.9,1125.3 336.9,1131.9 328.1,1138 317.6,1143.7 305.6,1148.6 292.2,1152.9 277.5,1156.4 261.7,1158.9 245,1160.6 227.6,1161.2 209.6,1160.8 191.2,1159.5 172.7,1157.1 154.2,1153.7 136,1149.4 118.2,1144.3 101.1,1138.4 84.8,1131.8 69.5,1124.6 55.4,1117.1 42.6,1109.1" stroke="#66ff50"/>
<polyline points="58.6,1106.8 48.7,1099.8 40.1,1092.7 33,1085.6 27.5,1078.7 23.7,1071.9 21.5,1065.4 21,1059.3 22.2,1053.6 25.1,1048.4 29.6,1043.7 35.8,1039.6 43.5,1036 52.7,1033 63.2,1030.6 75,1028.8 87.8,1027.5 101.7,1026.8 116.4,1026.6 131.7,1026.9 147.6,1027.8 163.8,1029.1 180.1,1030.9 196.3,1033.2 212.4,1035.9 228.1,1039 243.2,1042.5 257.6,1046.5 271.1,1050.8 283.6,1055.5 294.9,1060.5 304.9,1065.9 313.5,1071.6 320.6,1077.5 326.1,1083.6 330,1089.9 332.2,1096.3 332.7,1102.7 331.4,1109 328.5,1115.2 323.9,1121.2 317.7,1126.9 310,1132.2 300.8,1137.1 290.2,1141.3 278.4,1145 265.5,1147.9 251.6,1150.1 236.9,1151.4 221.5,1151.9 205.6,1151.6 189.5,1150.3 173.2,1148.2 156.9,1145.3 140.9,1141.6 125.2,1137.2 110.1,1132.1 95.8,1126.4 82.3,1120.2 69.9,1113.7 58.6,1106.8" stroke="#6cff00"/>
<polyline points="77.2,1104.1 68.8,1098.2 61.5,1092.3 55.6,1086.4 50.9,1080.6 47.7,1075 45.8,1069.5 45.4,1064.3 46.4,1059.5 48.9,1055.1 52.7,1051 57.9,1047.4 64.4,1044.3 72.1,1041.7 81,1039.5 90.9,1037.8 101.8,1036.6 113.5,1035.9 125.9,1035.7 138.8,1035.9 152.2,1036.6 165.8,1037.7 179.5,1039.3 193.3,1041.2 206.8,1043.6 220,1046.3 232.8,1049.4 244.9,1052.8 256.3,1056.6 266.8,1060.6 276.3,1065 284.7,1069.7 292,1074.5 298,1079.6 302.6,1084.8 305.9,1090.1 307.7,1095.5 308.1,1100.9 307.1,1106.2 304.7,1111.4 300.8,1116.3 295.6,1121 289,1125.4 281.3,1129.3 272.4,1132.8 262.4,1135.8 251.5,1138.1 239.8,1139.9 227.4,1140.9 214.5,1141.3 201.1,1141 187.5,1139.9 173.7,1138.2 160,1135.8 146.5,1132.7 133.3,1129 120.6,1124.9 108.5,1120.2 97.1,1115.1 86.7,1109.7 77.2,1104.1" stroke="#c0ff00"/>
<polyline points="100.1,1100.4 93.6,1096 88,1091.6 83.4,1087.1 79.9,1082.7 77.4,1078.4 75.9,1074.2 75.6,1070.2 76.4,1066.4 78.3,1062.9 81.2,1059.7 85.2,1056.9 90.2,1054.3 96.2,1052.2 103,1050.4 110.7,1049 119,1048 128,1047.4 137.6,1047.1 147.5,1047.2 157.8,1047.7 168.3,1048.6 178.9,1049.8 189.5,1051.3 199.9,1053.2 210,1055.4 219.9,1057.8 229.2,1060.6 237.9,1063.6 246,1066.9 253.4,1070.4 259.9,1074 265.4,1077.9 270,1081.8 273.6,1085.9 276.1,1090 277.6,1094.2 277.9,1098.3 277.1,1102.3 275.2,1106.3 272.2,1110 268.2,1113.5 263.2,1116.8 257.2,1119.7 250.3,1122.3 242.7,1124.4 234.3,1126.1 225.3,1127.4 215.8,1128.1 205.8,1128.3 195.5,1128.1 185,1127.2 174.4,1125.9 163.9,1124.1 153.5,1121.8 143.3,1119.1 133.5,1116 124.2,1112.5 115.4,1108.7 107.4,1104.6 100.1,1100.4" stroke="#ffed00"/>
<polyline points="133.8,1094.6 130.2,1092.3 127.1,1089.8 124.5,1087.4 122.5,1085 121.1,1082.6 120.3,1080.2 120.2,1078 120.6,1075.9 121.6,1073.9 123.3,1072 125.5,1070.3 128.3,1068.8 131.7,1067.5 135.5,1066.4 139.8,1065.6 144.5,1064.9 149.5,1064.5 154.8,1064.3 160.4,1064.3 166.1,1064.5 172,1065 177.9,1065.7 183.8,1066.6 189.7,1067.7 195.3,1069 200.8,1070.4 206,1072.1 210.9,1073.9 215.5,1075.8 219.6,1077.8 223.2,1080 226.3,1082.2 228.9,1084.5 230.9,1086.8 232.3,1089.1 233.1,1091.4 233.3,1093.7 232.8,1096 231.8,1098.1 230.1,1100.1 227.9,1102 225,1103.7 221.7,1105.3 217.9,1106.6 213.6,1107.7 208.9,1108.6 203.9,1109.2 198.5,1109.6 193,1109.7 187.2,1109.5 181.3,1109 175.4,1108.3 169.5,1107.3 163.7,1106.1 158,1104.6 152.5,1102.9 147.3,1101.1 142.4,1099.1 137.9,1096.9 133.8,1094.6" stroke="#ffa600"/>
</g>
<path d="M62.6 1095.9L205.2 1028L348.5 1095.2" fill="none" stroke="#555" stroke-width="0.5"/>
<path d="M62.6 1095.9L205.4 1183.2L348.5 1095.2" fill="none" stroke="#333" stroke-width="0.7"/>
<g stroke-width="0.6">
<path fill="#59e" stroke="#59e" d="M205.5 1110.4l4-10.3l-4-8.4l-4.1 10.2z"/>
<path fill="#5ae" stroke="#5ae" d="M201.4 1101.9l4.1-10.2l-4.1-8.1l-4 10.1zM209.5 1100.1l4.1-9.9l-4.1-8.3l-4 9.8z"/>
<path fill="#5be" stroke="#5be" d="M197.4 1093.7l4-10.1l-4-7.9l-4.1 10zM205.5 1091.7l4-9.8l-4-7.9l-4.1 9.6zM213.6 1090.2l4-9.6l-4-8l-4.1 9.3z"/>
<path fill="#5ce" stroke="#5ce" d="M193.3 1085.7l4.1-10l-4.1-7.6l-4.1 9.8zM201.4 1083.6l4.1-9.6l-4.1-7.8l-4 9.5zM209.5 1081.9l4.1-9.3l-4.1-7.9l-4 9.3z"/>
<path fill="#5de" stroke="#5de" d="M189.2 1077.9l4.1-9.8l-4.1-7.4l-4 9.7zM197.4 1075.7l4-9.5l-4.1-7.5l-4 9.4zM205.5 1074l4-9.3l-4-7.6l-4.1 9.1zM217.6 1080.6l4.1-9.1l-4-7.9l-4.1 9z"/>
<path fill="#5ee" stroke="#5ee" d="M185.2 1070.4l4-9.7l-4.1-7.2l-4 9.6zM193.3 1068.1l4-9.4l-4.1-7.2l-4 9.2zM213.6 1072.6l4.1-9l-4.1-7.7l-4.1 8.8zM221.7 1071.5l4.1-8.6l-4-7.9l-4.1 8.6z"/>
<path fill="#5ed" stroke="#5ed" d="M181.1 1063.1l4-9.6l-4.1-6.9l-4 9.4zM201.4 1066.2l4.1-9.1l-4.1-7.4l-4.1 9zM209.5 1064.7l4.1-8.8l-4.1-7.5l-4 8.7zM217.7 1063.6l4.1-8.6l-4.1-7.5l-4.1 8.4zM225.8 1062.9l4.1-8.3l-4-7.7l-4.1 8.1z"/>
<path fill="#5ec" stroke="#5ec" d="M177 1056l4-9.4l-4.1-6.7l-4 9.3zM189.2 1060.7l4-9.2l-4.1-7.1l-4 9.1zM197.3 1058.7l4.1-9l-4.1-7.1l-4.1 8.9zM205.5 1057.1l4-8.7l-4-7.2l-4.1 8.5z"/>
<path fill="#5eb" stroke="#5eb" d="M172.9 1049.2l4-9.3l-4.1-6.5l-4.1 9.2zM185.1 1053.5l4-9.1l-4.1-6.8l-4 9zM193.2 1051.5l4.1-8.9l-4.1-6.9l-4.1 8.7zM213.6 1055.9l4.1-8.4l-4.1-7.4l-4.1 8.3zM221.8 1055l4.1-8.1l-4.1-7.5l-4.1 8.1zM229.9 1054.6l4.1-7.9l-4-7.6l-4.1 7.8z"/>
<path fill="#5ea" stroke="#5ea" d="M168.7 1042.6l4.1-9.2l-4.2-6.2l-4 9zM181 1046.6l4-9l-4.1-6.6l-4 8.9zM189.1 1044.4l4.1-8.7l-4.1-6.7l-4.1 8.6zM201.4 1049.7l4.1-8.5l-4.1-7l-4.1 8.4zM209.5 1048.4l4.1-8.3l-4.1-7.1l-4 8.2zM217.7 1047.5l4.1-8.1l-4.1-7.2l-4.1 7.9zM225.9 1046.9l4.1-7.8l-4.1-7.3l-4.1 7.6zM234 1046.7l4.1-7.5l-4-7.4l-4.1 7.3z"/>
<path fill="#5e9" stroke="#5e9" d="M164.6 1036.2l4-9l-4.1-6.1l-4 8.9zM176.9 1039.9l4-8.9l-4.1-6.3l-4 8.7zM185 1037.6l4.1-8.6l-4.1-6.4l-4.1 8.4zM197.3 1042.6l4.1-8.4l-4.1-6.8l-4.1 8.3zM205.5 1041.2l4-8.2l-4-6.9l-4.1 8.1zM213.6 1040.1l4.1-7.9l-4.1-7l-4.1 7.8zM221.8 1039.4l4.1-7.6l-4.1-7.1l-4.1 7.5zM230 1039.1l4.1-7.3l-4.1-7.2l-4.1 7.2zM238.1 1039.2l4.1-7.1l-4-7.3l-4.1 7z"/>
<path fill="#5e8" stroke="#5e8" d="M160.5 1030l4-8.9l-4.1-5.8l-4 8.8zM172.8 1033.4l4-8.7l-4.1-6.1l-4.1 8.6zM193.2 1035.7l4.1-8.3l-4.1-6.6l-4.1 8.2zM201.4 1034.2l4.1-8.1l-4.2-6.6l-4 7.9z"/>
<path fill="#5e7" stroke="#5e7" d="M156.4 1024.1l4-8.8l-4.2-5.5l-4 8.6zM168.6 1027.2l4.1-8.6l-4.2-5.9l-4 8.4zM180.9 1031l4.1-8.4l-4.1-6.2l-4.1 8.3zM189.1 1029l4.1-8.2l-4.2-6.3l-4 8.1zM197.3 1027.4l4-7.9l-4.1-6.5l-4 7.8zM209.5 1033l4.1-7.8l-4.1-6.7l-4 7.6zM217.7 1032.2l4.1-7.5l-4.1-6.8l-4.1 7.3zM225.9 1031.8l4.1-7.2l-4.1-7l-4.1 7.1zM234.1 1031.8l4.1-7l-4.1-7.1l-4.1 6.9zM242.2 1032.1l4.2-6.7l-4.1-7.2l-4.1 6.6z"/>
<path fill="#5e6" stroke="#5e6" d="M152.2 1018.4l4-8.6l-4.1-5.4l-4 8.5zM164.5 1021.1l4-8.4l-4.1-5.7l-4 8.3zM176.8 1024.7l4.1-8.3l-4.2-6l-4 8.2zM172.7 1018.6l4-8.2l-4.1-5.8l-4.1 8.1zM185 1022.6l4-8.1l-4.1-6.1l-4 8zM193.2 1020.8l4-7.8l-4.1-6.2l-4.1 7.7zM205.5 1026.1l4-7.6l-4.1-6.6l-4.1 7.6zM213.6 1025.2l4.1-7.3l-4.1-6.7l-4.1 7.3zM221.8 1024.7l4.1-7.1l-4.1-6.7l-4.1 7zM230 1024.6l4.1-6.9l-4-6.8l-4.2 6.7zM238.2 1024.8l4.1-6.6l-4-6.9l-4.2 6.4zM246.4 1025.4l4.1-6.3l-4.1-7l-4.1 6.1z"/>
<path fill="#5e5" stroke="#5e5" d="M148.1 1012.9l4-8.5l-4.2-5.1l-4 8.3zM160.4 1015.3l4-8.3l-4.1-5.5l-4.1 8.3zM180.9 1016.4l4-8l-4.1-5.9l-4.1 7.9zM201.3 1019.5l4.1-7.6l-4.1-6.3l-4.1 7.4zM209.5 1018.5l4.1-7.3l-4.1-6.4l-4.1 7.1zM217.7 1017.9l4.1-7l-4-6.5l-4.2 6.8zM225.9 1017.6l4.2-6.7l-4.1-6.6l-4.2 6.6zM234.1 1017.7l4.2-6.4l-4.1-6.7l-4.1 6.3zM242.3 1018.2l4.1-6.1l-4-6.9l-4.1 6.1zM250.5 1019.1l4.1-5.9l-4-7l-4.2 5.9z"/>
<path fill="#6e5" stroke="#6e5" d="M143.9 1007.6l4-8.3l-4.1-5l-4 8.3zM156.2 1009.8l4.1-8.3l-4.2-5.2l-4 8.1zM168.5 1012.7l4.1-8.1l-4.2-5.6l-4 8zM176.7 1010.4l4.1-7.9l-4.2-5.6l-4 7.7zM189 1014.5l4.1-7.7l-4.1-5.9l-4.1 7.5zM197.2 1013l4.1-7.4l-4.1-6l-4.1 7.2zM205.4 1011.9l4.1-7.1l-4.1-6.2l-4.1 7zM213.6 1011.2l4.2-6.8l-4.2-6.3l-4.1 6.7zM221.8 1010.9l4.2-6.6l-4.1-6.4l-4.1 6.5zM230.1 1010.9l4.1-6.3l-4.1-6.5l-4.1 6.2zM238.3 1011.3l4.1-6.1l-4.1-6.6l-4.1 6zM246.4 1012.1l4.2-5.9l-4.1-6.7l-4.1 5.7zM254.6 1013.2l4.2-5.6l-4.1-6.8l-4.1 5.4z"/>
<path fill="#7e5" stroke="#7e5" d="M139.8 1002.6l4-8.3l-4.2-4.7l-4 8.2zM135.6 997.8l4-8.2l-4.2-4.5l-4 8zM152.1 1004.4l4-8.1l-4.2-5l-4 8zM147.9 999.3l4-8l-4.1-4.9l-4 7.9zM164.4 1007l4-8l-4.1-5.3l-4 7.8zM160.3 1001.5l4-7.8l-4.2-5.1l-4 7.7zM172.6 1004.6l4-7.7l-4.1-5.5l-4.1 7.6zM184.9 1008.4l4.1-7.5l-4.1-5.8l-4.1 7.4zM193.1 1006.8l4.1-7.2l-4.1-5.9l-4.1 7.2zM201.3 1005.6l4.1-7l-4.1-5.9l-4.1 6.9zM209.5 1004.8l4.1-6.7l-4.1-6.1l-4.1 6.6zM217.8 1004.4l4.1-6.5l-4.1-6.2l-4.2 6.4zM226 1004.3l4.1-6.2l-4.1-6.3l-4.1 6.1zM234.2 1004.6l4.1-6l-4.1-6.4l-4.1 5.9zM242.4 1005.2l4.1-5.7l-4.1-6.5l-4.1 5.6zM250.6 1006.2l4.1-5.4l-4.1-6.6l-4.1 5.3zM258.8 1007.6l4.1-5.1l-4.1-6.7l-4.1 5zM262.9 1002.5l4.1-4.8l-4-6.6l-4.2 4.7z"/>
<path fill="#8e5" stroke="#8e5" d="M131.4 993.1l4-8l-4.1-4.3l-4 7.9zM127.3 988.7l4-7.9l-4.2-4.1l-4 7.8zM143.8 994.3l4-7.9l-4.2-4.6l-4 7.8zM156.1 996.3l4-7.7l-4.1-4.9l-4.1 7.6zM168.4 999l4.1-7.6l-4.2-5.2l-4 7.5zM180.8 1002.5l4.1-7.4l-4.2-5.5l-4.1 7.3zM176.6 996.9l4.1-7.3l-4.1-5.3l-4.1 7.1zM189 1000.9l4.1-7.2l-4.2-5.6l-4 7zM197.2 999.6l4.1-6.9l-4.1-5.8l-4.1 6.8zM205.4 998.6l4.1-6.6l-4.1-5.8l-4.1 6.5zM213.6 998.1l4.2-6.4l-4.2-5.9l-4.1 6.2zM221.9 997.9l4.1-6.1l-4.1-6.1l-4.1 6zM230.1 998.1l4.1-5.9l-4.1-6.1l-4.1 5.7zM238.3 998.6l4.1-5.6l-4.1-6.2l-4.1 5.4zM246.5 999.5l4.1-5.3l-4-6.3l-4.2 5.1zM254.7 1000.8l4.1-5l-4-6.5l-4.2 4.9zM258.8 995.8l4.2-4.7l-4.1-6.4l-4.1 4.6zM267 997.7l4.2-4.4l-4.1-6.5l-4.1 4.3zM271.2 993.3l4.1-4.1l-4-6.3l-4.2 3.9z"/>
<path fill="#9e5" stroke="#9e5" d="M123.1 984.5l4-7.8l-4.1-3.9l-4 7.7zM119 980.5l4-7.7l-4.2-3.6l-4 7.5zM114.8 976.7l4-7.5l-4.2-3.5l-4 7.4zM139.6 989.6l4-7.8l-4.1-4.3l-4.1 7.6zM135.4 985.1l4.1-7.6l-4.2-4.2l-4 7.5zM151.9 991.3l4.1-7.6l-4.2-4.7l-4 7.4zM147.8 986.4l4-7.4l-4.1-4.5l-4.1 7.3zM164.3 993.7l4-7.5l-4.1-5l-4.1 7.4zM160.1 988.6l4.1-7.4l-4.2-4.8l-4 7.3zM172.5 991.4l4.1-7.1l-4.2-5.1l-4.1 7zM184.9 995.1l4-7l-4.1-5.4l-4.1 6.9zM193.1 993.7l4.1-6.8l-4.2-5.5l-4.1 6.7zM201.3 992.7l4.1-6.5l-4.1-5.7l-4.1 6.4zM209.5 992l4.1-6.2l-4.1-5.8l-4.1 6.2zM217.8 991.7l4.1-6l-4.1-5.8l-4.2 5.9zM226 991.8l4.1-5.7l-4.1-6l-4.1 5.6zM234.2 992.2l4.1-5.4l-4.1-6.1l-4.1 5.4zM242.4 993l4.2-5.1l-4.1-6.2l-4.2 5.1zM250.6 994.2l4.2-4.9l-4.1-6.3l-4.1 4.9zM254.8 989.3l4.1-4.6l-4.1-6.1l-4.1 4.4zM263 991.1l4.1-4.3l-4-6.3l-4.2 4.2zM267.1 986.8l4.2-3.9l-4.1-6.2l-4.1 3.8zM275.3 989.2l4.1-3.7l-4-6.2l-4.1 3.6zM279.4 985.5l4.2-3.3l-4.1-6.1l-4.1 3.2z"/>
<path fill="#ae5" stroke="#ae5" d="M110.6 973.1l4-7.4l-4.1-3.3l-4 7.4zM106.5 969.8l4-7.4l-4.2-3l-4 7.2zM102.3 966.6l4-7.2l-4.2-2.9l-3.9 7.1zM131.3 980.8l4-7.5l-4.2-4l-4 7.4zM127.1 976.7l4-7.4l-4.1-3.8l-4 7.3zM123 972.8l4-7.3l-4.2-3.5l-4 7.2zM143.6 981.8l4.1-7.3l-4.2-4.3l-4 7.3zM139.5 977.5l4-7.3l-4.2-4.1l-4 7.2zM156 983.7l4-7.3l-4.1-4.5l-4.1 7.1zM168.3 986.2l4.1-7l-4.1-4.9l-4.1 6.9zM164.2 981.2l4.1-6.9l-4.2-4.7l-4.1 6.8zM180.7 989.6l4.1-6.9l-4.1-5.2l-4.1 6.8zM176.6 984.3l4.1-6.8l-4.2-5l-4.1 6.7zM188.9 988.1l4.1-6.7l-4.1-5.3l-4.1 6.6zM197.2 986.9l4.1-6.4l-4.2-5.4l-4.1 6.3zM205.4 986.2l4.1-6.2l-4.1-5.5l-4.1 6zM213.6 985.8l4.2-5.9l-4.2-5.6l-4.1 5.7zM221.9 985.7l4.1-5.6l-4.1-5.7l-4.1 5.5zM230.1 986.1l4.1-5.4l-4.1-5.8l-4.1 5.2zM238.3 986.8l4.2-5.1l-4.1-5.9l-4.2 4.9zM246.6 987.9l4.1-4.9l-4.1-6l-4.1 4.7zM250.7 983l4.1-4.4l-4-5.9l-4.2 4.3zM258.9 984.7l4.2-4.2l-4.1-6l-4.2 4.1zM263.1 980.5l4.1-3.8l-4.1-5.9l-4.1 3.7zM271.3 982.9l4.1-3.6l-4.1-6l-4.1 3.4zM275.4 979.3l4.1-3.2l-4-6l-4.2 3.2z"/>
<path fill="#ae4" stroke="#ae4" d="M98.2 963.6l3.9-7.1l-4.1-2.7l-4 7zM279.5 976.1l4.2-2.9l-4.1-5.8l-4.1 2.7zM283.7 973.2l4.1-2.5l-4.1-5.7l-4.1 2.4zM287.8 970.7l4.1-2.1l-4.1-5.7l-4.1 2.1z"/>
<path fill="#be4" stroke="#be4" d="M94 960.8l4-7l-4.2-2.5l-3.9 6.9zM89.9 958.2l3.9-6.9l-4.1-2.3l-4 6.8zM85.7 955.8l4-6.8l-4.2-2.1l-3.9 6.7zM81.6 953.6l3.9-6.7l-4.1-1.9l-4 6.6zM77.4 951.6l4-6.6l-4.1-1.7l-4 6.4zM275.5 970.1l4.1-2.7l-4.1-5.6l-4.1 2.6zM279.6 967.4l4.1-2.4l-4-5.5l-4.2 2.3zM283.7 965l4.1-2.1l-4-5.4l-4.1 2z"/>
<path fill="#ae3" stroke="#ae3" d="M73.3 949.7l4-6.4l-4.2-1.6l-3.9 6.4zM69.2 948.1l3.9-6.4l-4.1-1.4l-3.9 6.3zM65.1 946.6l3.9-6.3l-4.1-1.1l-3.9 6.1zM61 945.3l3.9-6.1l-4.1-1l-3.9 6zM291.9 968.6l4.1-1.9l-4-5.5l-4.2 1.7zM296 966.7l4.1-1.4l-4-5.4l-4.1 1.3z"/>
<path fill="#be5" stroke="#be5" d="M118.8 969.2l4-7.2l-4.2-3.4l-4 7.1zM114.6 965.7l4-7.1l-4.1-3.1l-4 6.9zM110.5 962.4l4-6.9l-4.2-3l-4 6.9zM135.3 973.3l4-7.2l-4.1-3.8l-4.1 7zM131.1 969.3l4.1-7l-4.2-3.7l-4 6.9zM151.8 979l4.1-7.1l-4.2-4.4l-4 7zM147.7 974.5l4-7l-4.2-4.2l-4 6.9zM160 976.4l4.1-6.8l-4.2-4.5l-4 6.8zM172.4 979.2l4.1-6.7l-4.2-4.8l-4 6.6zM184.8 982.7l4.1-6.6l-4.2-5.1l-4 6.5zM180.7 977.5l4-6.5l-4.1-4.8l-4.1 6.3zM193 981.4l4.1-6.3l-4.1-5.1l-4.1 6.1zM201.3 980.5l4.1-6l-4.1-5.2l-4.2 5.8zM209.5 980l4.1-5.7l-4.1-5.4l-4.1 5.6zM217.8 979.9l4.1-5.5l-4.1-5.5l-4.2 5.4zM226 980.1l4.1-5.2l-4.1-5.6l-4.1 5.1zM234.2 980.7l4.2-4.9l-4.1-5.7l-4.2 4.8zM242.5 981.7l4.1-4.7l-4.1-5.8l-4.1 4.6zM246.6 977l4.2-4.3l-4.1-5.7l-4.2 4.2zM254.8 978.6l4.2-4.1l-4.1-5.8l-4.1 4zM259 974.5l4.1-3.7l-4.1-5.7l-4.1 3.6zM267.2 976.7l4.1-3.4l-4-5.9l-4.2 3.4zM271.3 973.3l4.2-3.2l-4.1-5.7l-4.1 3z"/>
<path fill="#ce5" stroke="#ce5" d="M106.3 959.4l4-6.9l-4.2-2.8l-4 6.8zM127 965.5l4-6.9l-4.2-3.4l-4 6.8zM122.8 962l4-6.8l-4.2-3.3l-4 6.7zM118.6 958.6l4-6.7l-4.1-3l-4 6.6zM143.5 970.2l4-6.9l-4.1-3.9l-4.1 6.7zM139.3 966.1l4.1-6.7l-4.2-3.8l-4 6.7zM135.2 962.3l4-6.7l-4.2-3.5l-4 6.5zM155.9 971.9l4-6.8l-4.1-4.2l-4.1 6.6zM151.7 967.5l4.1-6.6l-4.2-4.1l-4.1 6.5zM168.3 974.3l4-6.6l-4.1-4.6l-4.1 6.5zM164.1 969.6l4.1-6.5l-4.2-4.3l-4.1 6.3zM176.5 972.5l4.1-6.3l-4.2-4.7l-4.1 6.2zM188.9 976.1l4.1-6.1l-4.2-5l-4.1 6zM184.7 971l4.1-6l-4.1-4.8l-4.1 6zM197.1 975.1l4.2-5.8l-4.2-5.1l-4.1 5.8zM205.4 974.5l4.1-5.6l-4.1-5.2l-4.1 5.6zM213.6 974.3l4.2-5.4l-4.2-5.2l-4.1 5.2zM221.9 974.4l4.1-5.1l-4.1-5.4l-4.1 5zM230.1 974.9l4.2-4.8l-4.1-5.5l-4.2 4.7zM238.4 975.8l4.1-4.6l-4.1-5.6l-4.1 4.5zM234.3 970.1l4.1-4.5l-4.1-5.4l-4.1 4.4zM242.5 971.2l4.2-4.2l-4.1-5.5l-4.2 4.1zM250.8 972.7l4.1-4l-4.1-5.6l-4.1 3.9zM254.9 968.7l4.1-3.6l-4.1-5.5l-4.1 3.5zM263.1 970.8l4.2-3.4l-4.1-5.6l-4.2 3.3zM259 965.1l4.2-3.3l-4.1-5.3l-4.2 3.1z"/>
<path fill="#ce4" stroke="#ce4" d="M102.1 956.5l4-6.8l-4.1-2.5l-4 6.6zM98 953.8l4-6.6l-4.2-2.4l-4 6.5zM93.8 951.3l4-6.5l-4.1-2.2l-4 6.4zM89.7 949l4-6.4l-4.2-2l-4 6.3zM85.5 946.9l4-6.3l-4.1-1.8l-4 6.2zM81.4 945l4-6.2l-4.2-1.7l-3.9 6.2zM267.3 967.4l4.1-3l-4.1-5.5l-4.1 2.9zM271.4 964.4l4.1-2.6l-4.1-5.4l-4.1 2.5zM275.5 961.8l4.2-2.3l-4.1-5.3l-4.2 2.2zM279.7 959.5l4.1-2l-4.1-5.1l-4.1 1.8z"/>
<path fill="#ce3" stroke="#ce3" d="M77.3 943.3l3.9-6.2l-4.1-1.4l-4 6zM73.1 941.7l4-6l-4.1-1.3l-4 5.9zM68.9 933.3l4-5.4l-4.1-0.8l-4 5.3zM283.8 957.5l4.1-1.6l-4.1-5.1l-4.1 1.6zM287.9 955.9l4.1-1.2l-4.1-5l-4.1 1.1z"/>
<path fill="#be3" stroke="#be3" d="M69 940.3l4-5.9l-4.1-1.1l-4 5.9zM64.9 939.2l4-5.9l-4.1-0.9l-4 5.8zM287.8 962.9l4.2-1.7l-4.1-5.3l-4.1 1.6zM292 961.2l4.1-1.3l-4.1-5.2l-4.1 1.2z"/>
<path fill="#de5" stroke="#de5" d="M114.5 955.5l4-6.6l-4.2-2.9l-4 6.5zM131 958.6l4-6.5l-4.1-3.4l-4.1 6.5zM126.8 955.2l4.1-6.5l-4.2-3.1l-4.1 6.3zM122.6 951.9l4.1-6.3l-4.2-3l-4 6.3zM147.5 963.3l4.1-6.5l-4.2-3.8l-4 6.4zM143.4 959.4l4-6.4l-4.1-3.7l-4.1 6.3zM159.9 965.1l4.1-6.3l-4.2-4.2l-4 6.3zM155.8 960.9l4-6.3l-4.1-3.9l-4.1 6.1zM172.3 967.7l4.1-6.2l-4.1-4.5l-4.1 6.1zM168.2 963.1l4.1-6.1l-4.2-4.2l-4.1 6zM180.6 966.2l4.1-6l-4.2-4.5l-4.1 5.8zM193 970l4.1-5.8l-4.1-4.9l-4.2 5.7zM188.8 965l4.2-5.7l-4.2-4.6l-4.1 5.5zM201.3 969.3l4.1-5.6l-4.2-4.9l-4.1 5.4zM197.1 964.2l4.1-5.4l-4.1-4.8l-4.1 5.3zM209.5 968.9l4.1-5.2l-4.1-5.1l-4.1 5.1zM217.8 968.9l4.1-5l-4.1-5.1l-4.2 4.9zM226 969.3l4.2-4.7l-4.2-5.3l-4.1 4.6zM221.9 963.9l4.1-4.6l-4.1-5.1l-4.1 4.6zM230.2 964.6l4.1-4.4l-4.1-5.2l-4.2 4.3zM238.4 965.6l4.2-4.1l-4.2-5.3l-4.1 4zM246.7 967l4.1-3.9l-4.1-5.4l-4.1 3.8zM242.6 961.5l4.1-3.8l-4.1-5.1l-4.2 3.6zM250.8 963.1l4.1-3.5l-4.1-5.3l-4.1 3.4zM254.9 959.6l4.2-3.1l-4.1-5.2l-4.2 3z"/>
<path fill="#de4" stroke="#de4" d="M110.3 952.5l4-6.5l-4.2-2.7l-4 6.4zM106.1 949.7l4-6.4l-4.1-2.4l-4 6.3zM102 947.2l4-6.3l-4.2-2.3l-4 6.2zM97.8 944.8l4-6.2l-4.1-2.1l-4 6.1zM93.7 942.6l4-6.1l-4.2-1.9l-4 6zM89.5 940.6l4-6l-4.1-1.7l-4 5.9zM263.2 961.8l4.1-2.9l-4.1-5.2l-4.1 2.8zM267.3 958.9l4.1-2.5l-4-5.2l-4.2 2.5zM271.4 956.4l4.2-2.2l-4.1-5.1l-4.1 2.1z"/>
<path fill="#de3" stroke="#de3" d="M85.4 938.8l4-5.9l-4.2-1.5l-4 5.7zM81.2 937.1l4-5.7l-4.1-1.4l-4 5.7zM77.1 935.7l4-5.7l-4.1-1.1l-4 5.5zM73 934.4l4-5.5l-4.1-1l-4 5.4zM275.6 954.2l4.1-1.8l-4.1-5l-4.1 1.7zM279.7 952.4l4.1-1.6l-4.1-4.8l-4.1 1.4z"/>
<path fill="#ee5" stroke="#ee5" d="M118.5 948.9l4-6.3l-4.2-2.7l-4 6.1zM139.2 955.6l4.1-6.3l-4.2-3.4l-4.1 6.2zM135 952.1l4.1-6.2l-4.2-3.2l-4 6zM151.6 956.8l4.1-6.1l-4.2-3.7l-4.1 6zM164 958.8l4.1-6l-4.2-4l-4.1 5.8zM176.4 961.5l4.1-5.8l-4.1-4.4l-4.1 5.7zM184.7 960.2l4.1-5.5l-4.2-4.5l-4.1 5.5zM193 959.3l4.1-5.3l-4.2-4.5l-4.1 5.2zM205.4 963.7l4.1-5.1l-4.1-4.9l-4.2 5.1zM213.6 963.7l4.2-4.9l-4.2-5l-4.1 4.8zM226 959.3l4.2-4.3l-4.2-4.9l-4.1 4.1zM234.3 960.2l4.1-4l-4.1-5.1l-4.1 3.9zM246.7 957.7l4.1-3.4l-4.1-5l-4.1 3.3z"/>
<path fill="#ee4" stroke="#ee4" d="M114.3 946l4-6.1l-4.1-2.6l-4.1 6zM259.1 956.5l4.1-2.8l-4.1-5.1l-4.1 2.7zM263.2 953.7l4.2-2.5l-4.1-4.9l-4.2 2.3zM267.4 951.2l4.1-2.1l-4.1-4.8l-4.1 2z"/>
<path fill="#ed4" stroke="#ed4" d="M110.1 943.3l4.1-6l-4.2-2.3l-4 5.9zM106 940.9l4-5.9l-4.1-2.2l-4.1 5.8zM101.8 938.6l4.1-5.8l-4.2-2l-4 5.7zM97.7 936.5l4-5.7l-4.1-1.8l-4.1 5.6zM122.5 942.6l4.1-5.8l-4.2-2.7l-4.1 5.8zM250.8 954.3l4.2-3l-4.1-5l-4.2 3zM246.7 949.3l4.2-3l-4.1-4.7l-4.2 2.8zM255 951.3l4.1-2.7l-4.1-4.9l-4.1 2.6zM259.1 948.6l4.2-2.3l-4.1-4.8l-4.2 2.2z"/>
<path fill="#ed3" stroke="#ed3" d="M93.5 934.6l4.1-5.6l-4.2-1.6l-4 5.5zM89.4 932.9l4-5.5l-4.1-1.4l-4.1 5.4zM85.2 931.4l4.1-5.4l-4.2-1.3l-4 5.3zM81.1 930l4-5.3l-4.1-1.1l-4 5.3zM263.3 946.3l4.1-2l-4.1-4.7l-4.1 1.9zM267.4 944.3l4.1-1.7l-4.1-4.6l-4.1 1.6z"/>
<path fill="#dd3" stroke="#dd3" d="M77 928.9l4-5.3l-4.1-0.8l-4 5.1z"/>
<path fill="#dd2" stroke="#dd2" d="M72.9 927.9l4-5.1l-4.1-0.8l-4 5.1zM279.7 946l4.1-1.1l-4-4.6l-4.2 1zM283.8 944.9l4.2-0.7l-4.1-4.5l-4.1 0.6z"/>
<path fill="#ed5" stroke="#ed5" d="M130.9 948.7l4-6l-4.2-3.1l-4 6zM126.7 945.6l4-6l-4.1-2.8l-4.1 5.8zM147.4 953l4.1-6l-4.2-3.6l-4 5.9zM143.3 949.3l4-5.9l-4.1-3.3l-4.1 5.8zM139.1 945.9l4.1-5.8l-4.2-3.1l-4.1 5.7zM159.8 954.6l4.1-5.8l-4.1-3.9l-4.1 5.8zM155.7 950.7l4.1-5.8l-4.2-3.6l-4.1 5.7zM172.3 957l4.1-5.7l-4.2-4.1l-4.1 5.6zM168.1 952.8l4.1-5.6l-4.2-3.9l-4.1 5.5zM180.5 955.7l4.1-5.5l-4.1-4.2l-4.1 5.3zM176.4 951.3l4.1-5.3l-4.2-4l-4.1 5.2zM188.8 954.7l4.1-5.2l-4.1-4.4l-4.2 5.1zM201.2 958.8l4.2-5.1l-4.2-4.6l-4.1 4.9zM197.1 954l4.1-4.9l-4.2-4.4l-4.1 4.8zM209.5 958.6l4.1-4.8l-4.1-4.7l-4.1 4.6zM205.4 953.7l4.1-4.6l-4.2-4.6l-4.1 4.6zM217.8 958.8l4.1-4.6l-4.1-4.8l-4.2 4.4zM213.6 953.8l4.2-4.4l-4.2-4.6l-4.1 4.3zM221.9 954.2l4.1-4.1l-4.1-4.8l-4.1 4.1zM230.2 955l4.1-3.9l-4.1-4.8l-4.2 3.8zM238.4 956.2l4.2-3.6l-4.1-5l-4.2 3.5zM234.3 951.1l4.2-3.5l-4.2-4.7l-4.1 3.4zM242.6 952.6l4.1-3.3l-4.1-4.9l-4.1 3.2z"/>
<path fill="#ec4" stroke="#ec4" d="M118.3 939.9l4.1-5.8l-4.2-2.4l-4 5.6zM114.2 937.3l4-5.6l-4.1-2.3l-4.1 5.6zM110 935l4.1-5.6l-4.2-2l-4 5.4zM105.9 932.8l4-5.4l-4.2-1.9l-4 5.3zM101.7 930.8l4-5.3l-4.1-1.7l-4 5.2zM130.7 939.6l4.1-5.6l-4.2-2.7l-4 5.5zM126.6 936.8l4-5.5l-4.1-2.5l-4.1 5.3zM238.5 947.6l4.1-3.2l-4.1-4.6l-4.2 3.1zM242.6 944.4l4.2-2.8l-4.2-4.6l-4.1 2.8zM250.9 946.3l4.1-2.6l-4.1-4.6l-4.1 2.5zM255 943.7l4.2-2.2l-4.2-4.6l-4.1 2.2z"/>
<path fill="#ec3" stroke="#ec3" d="M97.6 929l4-5.2l-4.2-1.5l-4 5.1zM93.4 927.4l4-5.1l-4.1-1.4l-4 5.1zM89.3 926l4-5.1l-4.1-1.1l-4.1 4.9zM259.2 941.5l4.1-1.9l-4.1-4.4l-4.2 1.7zM263.3 939.6l4.1-1.6l-4.1-4.3l-4.1 1.5z"/>
<path fill="#dc3" stroke="#dc3" d="M85.1 924.7l4.1-4.9l-4.2-1l-4 4.8zM271.5 942.6l4.1-1.3l-4.1-4.5l-4.1 1.2z"/>
<path fill="#dc2" stroke="#dc2" d="M81 923.6l4-4.8l-4.1-0.8l-4 4.8zM76.9 922.8l4-4.8l-4.1-0.6l-4 4.6zM275.6 941.3l4.2-1l-4.1-4.4l-4.2 0.9zM279.8 940.3l4.1-0.6l-4.1-4.3l-4.1 0.5z"/>
<path fill="#ec5" stroke="#ec5" d="M134.9 942.7l4.1-5.7l-4.2-3l-4.1 5.6zM151.5 947l4.1-5.7l-4.2-3.4l-4.1 5.5zM147.3 943.4l4.1-5.5l-4.2-3.2l-4 5.4zM143.2 940.1l4-5.4l-4.1-3.1l-4.1 5.4zM163.9 948.8l4.1-5.5l-4.1-3.7l-4.1 5.3zM159.8 944.9l4.1-5.3l-4.2-3.6l-4.1 5.3zM172.2 947.2l4.1-5.2l-4.2-3.8l-4.1 5.1zM184.6 950.2l4.2-5.1l-4.2-4.1l-4.1 5zM180.5 946l4.1-5l-4.2-3.9l-4.1 4.9zM192.9 949.5l4.1-4.8l-4.1-4.3l-4.1 4.7zM201.2 949.1l4.1-4.6l-4.1-4.3l-4.2 4.5zM209.5 949.1l4.1-4.3l-4.1-4.5l-4.2 4.2zM217.8 949.4l4.1-4.1l-4.1-4.5l-4.2 4zM226 950.1l4.2-3.8l-4.1-4.6l-4.2 3.6zM221.9 945.3l4.2-3.6l-4.2-4.5l-4.1 3.6zM230.2 946.3l4.1-3.4l-4.1-4.6l-4.1 3.4z"/>
<path fill="#eb4" stroke="#eb4" d="M122.4 934.1l4.1-5.3l-4.2-2.4l-4.1 5.3zM118.2 931.7l4.1-5.3l-4.2-2.2l-4 5.2zM114.1 929.4l4-5.2l-4.1-1.9l-4.1 5.1zM109.9 927.4l4.1-5.1l-4.2-1.8l-4.1 5zM139 937l4.1-5.4l-4.2-2.8l-4.1 5.2zM134.8 934l4.1-5.2l-4.2-2.6l-4.1 5.1zM130.6 931.3l4.1-5.1l-4.2-2.5l-4 5.1zM234.3 942.9l4.2-3.1l-4.2-4.5l-4.1 3zM230.2 938.3l4.1-3l-4.1-4.2l-4.1 2.9zM238.5 939.8l4.1-2.8l-4.1-4.3l-4.2 2.6zM246.8 941.6l4.1-2.5l-4.1-4.5l-4.2 2.4zM242.6 937l4.2-2.4l-4.2-4.2l-4.1 2.3zM250.9 939.1l4.1-2.2l-4.1-4.3l-4.1 2z"/>
<path fill="#eb3" stroke="#eb3" d="M105.7 925.5l4.1-5l-4.1-1.6l-4.1 4.9zM101.6 923.8l4.1-4.9l-4.2-1.4l-4.1 4.8zM97.4 922.3l4.1-4.8l-4.1-1.3l-4.1 4.7zM255 936.9l4.2-1.7l-4.1-4.3l-4.2 1.7z"/>
<path fill="#db3" stroke="#db3" d="M93.3 920.9l4.1-4.7l-4.2-1l-4 4.6zM259.2 935.2l4.1-1.5l-4.1-4.2l-4.1 1.4z"/>
<path fill="#db2" stroke="#db2" d="M89.2 919.8l4-4.6l-4.1-0.9l-4.1 4.5zM85 918.8l4.1-4.5l-4.1-0.7l-4.1 4.4zM80.9 918l4.1-4.4l-4.1-0.6l-4.1 4.4zM267.4 938l4.1-1.2l-4.1-4.2l-4.1 1.1zM271.5 936.8l4.2-0.9l-4.1-4.1l-4.2 0.8z"/>
<path fill="#ea4" stroke="#ea4" d="M126.5 928.8l4-5.1l-4.1-2.2l-4.1 4.9zM122.3 926.4l4.1-4.9l-4.2-2.1l-4.1 4.8zM118.1 924.2l4.1-4.8l-4.2-1.9l-4 4.8zM143.1 931.6l4.1-4.9l-4.2-2.8l-4.1 4.9zM138.9 928.8l4.1-4.9l-4.2-2.5l-4.1 4.8zM134.7 926.2l4.1-4.8l-4.2-2.3l-4.1 4.6zM151.3 929.6l4.1-4.7l-4.1-2.8l-4.1 4.6zM213.6 936.5l4.2-3.5l-4.2-4l-4.1 3.4zM221.9 937.2l4.2-3.2l-4.2-4.1l-4.1 3.1zM217.8 933l4.1-3.1l-4.1-4l-4.2 3.1zM226.1 934l4.1-2.9l-4.1-4l-4.2 2.8zM234.3 935.3l4.2-2.6l-4.1-4.1l-4.2 2.5zM238.5 932.7l4.1-2.3l-4.1-4l-4.1 2.2z"/>
<path fill="#ea3" stroke="#ea3" d="M114 922.3l4-4.8l-4.1-1.7l-4.1 4.7zM109.8 920.5l4.1-4.7l-4.2-1.5l-4 4.6zM246.8 934.6l4.1-2l-4.1-4.1l-4.2 1.9z"/>
<path fill="#da3" stroke="#da3" d="M105.7 918.9l4-4.6l-4.1-1.3l-4.1 4.5zM250.9 932.6l4.2-1.7l-4.2-4l-4.1 1.6z"/>
<path fill="#d93" stroke="#d93" d="M101.5 917.5l4.1-4.5l-4.2-1.1l-4 4.3zM113.9 915.8l4.1-4.2l-4.2-1.5l-4.1 4.2zM246.8 928.5l4.1-1.6l-4.1-3.9l-4.1 1.5z"/>
<path fill="#d92" stroke="#d92" d="M97.4 916.2l4-4.3l-4.1-1l-4.1 4.3zM93.2 915.2l4.1-4.3l-4.1-0.8l-4.1 4.2zM250.9 926.9l4.2-1.3l-4.2-3.8l-4.1 1.2zM259.2 929.5l4.1-1l-4.1-3.8l-4.1 0.9z"/>
<path fill="#da2" stroke="#da2" d="M89.1 914.3l4.1-4.2l-4.2-0.6l-4 4.1zM255.1 930.9l4.1-1.4l-4.1-3.9l-4.2 1.3zM263.3 933.7l4.1-1.1l-4.1-4.1l-4.1 1zM267.4 932.6l4.2-0.8l-4.2-4l-4.1 0.7z"/>
<path fill="#ca1" stroke="#ca1" d="M85 913.6l4-4.1l-4.1-0.4l-4 3.9zM271.6 931.8l4.1-0.5l-4.1-3.9l-4.2 0.4zM275.7 931.3l4.1-0.1l-4.1-3.8l-4.1 0z"/>
<path fill="#eb5" stroke="#eb5" d="M155.6 941.3l4.1-5.3l-4.2-3.3l-4.1 5.2zM151.4 937.9l4.1-5.2l-4.2-3.1l-4.1 5.1zM147.2 934.7l4.1-5.1l-4.1-2.9l-4.1 4.9zM168 943.3l4.1-5.1l-4.1-3.7l-4.1 5.1zM163.9 939.6l4.1-5.1l-4.2-3.4l-4.1 4.9zM176.3 942l4.1-4.9l-4.1-3.7l-4.2 4.8zM172.1 938.2l4.2-4.8l-4.2-3.5l-4.1 4.6zM188.8 945.1l4.1-4.7l-4.2-4l-4.1 4.6zM184.6 941l4.1-4.6l-4.1-3.8l-4.2 4.5zM197 944.7l4.2-4.5l-4.2-4.1l-4.1 4.3zM192.9 940.4l4.1-4.3l-4.1-3.9l-4.2 4.2zM205.3 944.5l4.2-4.2l-4.2-4.2l-4.1 4.1zM201.2 940.2l4.1-4.1l-4.1-4l-4.2 4zM213.6 944.8l4.2-4l-4.2-4.3l-4.1 3.8zM209.5 940.3l4.1-3.8l-4.1-4.1l-4.2 3.7zM217.8 940.8l4.1-3.6l-4.1-4.2l-4.2 3.5zM226.1 941.7l4.1-3.4l-4.1-4.3l-4.2 3.2z"/>
<path fill="#e94" stroke="#e94" d="M130.5 923.7l4.1-4.6l-4.1-2.2l-4.1 4.6zM126.4 921.5l4.1-4.6l-4.2-2l-4.1 4.5zM147.2 926.7l4.1-4.6l-4.2-2.7l-4.1 4.5zM143 923.9l4.1-4.5l-4.2-2.4l-4.1 4.4zM138.8 921.4l4.1-4.4l-4.2-2.3l-4.1 4.4zM159.6 927.9l4.1-4.5l-4.1-2.9l-4.2 4.4zM155.4 924.9l4.2-4.4l-4.2-2.7l-4.1 4.3zM172.1 929.9l4.1-4.3l-4.2-3.2l-4.1 4.2zM167.9 926.6l4.1-4.2l-4.1-3.1l-4.2 4.1zM180.4 929l4.1-4.1l-4.2-3.3l-4.1 4zM188.7 928.5l4.1-3.8l-4.1-3.4l-4.2 3.6zM201.2 932.1l4.1-3.6l-4.2-3.8l-4.1 3.6zM197 928.3l4.1-3.6l-4.1-3.5l-4.2 3.5zM209.5 932.4l4.1-3.4l-4.1-3.8l-4.2 3.3zM205.3 928.5l4.2-3.3l-4.2-3.6l-4.2 3.1zM213.6 929l4.2-3.1l-4.2-3.7l-4.1 3zM221.9 929.9l4.2-2.8l-4.2-3.8l-4.1 2.6zM230.2 931.1l4.2-2.5l-4.2-4l-4.1 2.5zM226.1 927.1l4.1-2.5l-4.1-3.7l-4.2 2.4z"/>
<path fill="#e93" stroke="#e93" d="M122.2 919.4l4.1-4.5l-4.2-1.7l-4.1 4.3zM118 917.5l4.1-4.3l-4.1-1.6l-4.1 4.2zM234.4 928.6l4.1-2.2l-4.1-3.9l-4.2 2.1zM242.6 930.4l4.2-1.9l-4.1-4l-4.2 1.9z"/>
<path fill="#d83" stroke="#d83" d="M109.7 914.3l4.1-4.2l-4.1-1.2l-4.1 4.1zM122.1 913.2l4.1-4.1l-4.1-1.5l-4.1 4zM238.5 926.4l4.2-1.9l-4.2-3.7l-4.1 1.7zM234.4 922.5l4.1-1.7l-4.1-3.5l-4.2 1.6z"/>
<path fill="#d82" stroke="#d82" d="M105.6 913l4.1-4.1l-4.2-1l-4.1 4zM101.4 911.9l4.1-4l-4.1-0.9l-4.1 3.9zM97.3 910.9l4.1-3.9l-4.2-0.7l-4 3.8zM242.7 924.5l4.1-1.5l-4.1-3.6l-4.2 1.4zM246.8 923l4.1-1.2l-4.1-3.5l-4.1 1.1zM255.1 925.6l4.1-0.9l-4.1-3.7l-4.2 0.8z"/>
<path fill="#c81" stroke="#c81" d="M93.2 910.1l4-3.8l-4.1-0.5l-4.1 3.7zM89 909.5l4.1-3.7l-4.1-0.4l-4.1 3.7zM250.9 921.8l4.2-0.8l-4.2-3.5l-4.1 0.8zM259.2 924.7l4.1-0.7l-4.1-3.5l-4.1 0.5z"/>
<path fill="#ea5" stroke="#ea5" d="M159.7 936l4.1-4.9l-4.2-3.2l-4.1 4.8zM155.5 932.7l4.1-4.8l-4.2-3l-4.1 4.7zM168 934.5l4.1-4.6l-4.2-3.3l-4.1 4.5zM163.8 931.1l4.1-4.5l-4.2-3.2l-4.1 4.5zM180.4 937.1l4.2-4.5l-4.2-3.6l-4.1 4.4zM176.3 933.4l4.1-4.4l-4.2-3.4l-4.1 4.3zM188.7 936.4l4.2-4.2l-4.2-3.7l-4.1 4.1zM184.6 932.6l4.1-4.1l-4.2-3.6l-4.1 4.1zM197 936.1l4.2-4l-4.2-3.8l-4.1 3.9zM205.3 936.1l4.2-3.7l-4.2-3.9l-4.1 3.6z"/>
<path fill="#e84" stroke="#e84" d="M134.6 919.1l4.1-4.4l-4.1-2l-4.1 4.2zM151.3 922.1l4.1-4.3l-4.2-2.5l-4.1 4.1zM147.1 919.4l4.1-4.1l-4.2-2.4l-4.1 4.1zM142.9 917l4.1-4.1l-4.1-2.1l-4.2 3.9zM163.7 923.4l4.2-4.1l-4.2-2.8l-4.1 4zM159.6 920.5l4.1-4l-4.2-2.6l-4.1 3.9zM155.4 917.8l4.1-3.9l-4.2-2.4l-4.1 3.8zM176.2 925.6l4.1-4l-4.1-3.1l-4.2 3.9zM172 922.4l4.2-3.9l-4.2-2.9l-4.1 3.7zM167.9 919.3l4.1-3.7l-4.2-2.7l-4.1 3.6zM184.5 924.9l4.2-3.6l-4.2-3.3l-4.2 3.6zM180.3 921.6l4.2-3.6l-4.2-3l-4.1 3.5zM192.8 924.7l4.2-3.5l-4.2-3.3l-4.1 3.4zM188.7 921.3l4.1-3.4l-4.2-3.1l-4.1 3.2zM201.1 924.7l4.2-3.1l-4.2-3.5l-4.1 3.1zM197 921.2l4.1-3.1l-4.1-3.2l-4.2 3zM209.5 925.2l4.1-3l-4.2-3.5l-4.1 2.9zM205.3 921.6l4.1-2.9l-4.1-3.3l-4.2 2.7zM217.8 925.9l4.1-2.6l-4.1-3.7l-4.2 2.6zM213.6 922.2l4.2-2.6l-4.2-3.4l-4.2 2.5z"/>
<path fill="#e83" stroke="#e83" d="M130.5 916.9l4.1-4.2l-4.2-1.9l-4.1 4.1zM126.3 914.9l4.1-4.1l-4.2-1.7l-4.1 4.1zM221.9 923.3l4.2-2.4l-4.2-3.5l-4.1 2.2zM230.2 924.6l4.2-2.1l-4.2-3.6l-4.1 2z"/>
<path fill="#d73" stroke="#d73" d="M118 911.6l4.1-4l-4.2-1.3l-4.1 3.8zM134.6 912.7l4.1-3.9l-4.2-1.8l-4.1 3.8zM130.4 910.8l4.1-3.8l-4.2-1.6l-4.1 3.7zM126.2 909.1l4.1-3.7l-4.1-1.4l-4.1 3.6zM217.8 919.6l4.1-2.2l-4.2-3.3l-4.1 2.1zM226.1 920.9l4.1-2l-4.1-3.4l-4.2 1.9zM221.9 917.4l4.2-1.9l-4.2-3.2l-4.2 1.8z"/>
<path fill="#d72" stroke="#d72" d="M113.8 910.1l4.1-3.8l-4.1-1.1l-4.1 3.7zM109.7 908.9l4.1-3.7l-4.2-1l-4.1 3.7zM230.2 918.9l4.2-1.6l-4.2-3.4l-4.1 1.6zM238.5 920.8l4.2-1.4l-4.2-3.5l-4.1 1.4z"/>
<path fill="#c72" stroke="#c72" d="M105.5 907.9l4.1-3.7l-4.1-0.8l-4.1 3.6zM242.7 919.4l4.1-1.1l-4.1-3.4l-4.2 1z"/>
<path fill="#c71" stroke="#c71" d="M101.4 907l4.1-3.6l-4.2-0.6l-4.1 3.5zM97.2 906.3l4.1-3.5l-4.1-0.4l-4.1 3.4zM246.8 918.3l4.1-0.8l-4.1-3.2l-4.1 0.6zM255.1 921l4.1-0.5l-4.1-3.4l-4.2 0.4z"/>
<path fill="#b71" stroke="#b71" d="M93.1 905.8l4.1-3.4l-4.1-0.3l-4.1 3.3zM250.9 917.5l4.2-0.4l-4.2-3.2l-4.1 0.4zM259.2 920.5l4.1-0.2l-4.1-3.3l-4.1 0.1z"/>
<path fill="#e73" stroke="#e73" d="M138.7 914.7l4.2-3.9l-4.2-2l-4.1 3.9zM147 912.9l4.2-3.7l-4.2-2l-4.1 3.6zM159.5 913.9l4.1-3.6l-4.1-2.3l-4.2 3.5zM201.1 918.1l4.2-2.7l-4.2-3.1l-4.1 2.6zM209.4 918.7l4.2-2.5l-4.2-3.2l-4.1 2.4z"/>
<path fill="#d62" stroke="#d62" d="M122.1 907.6l4.1-3.6l-4.2-1.2l-4.1 3.5zM117.9 906.3l4.1-3.5l-4.1-1.1l-4.1 3.5zM134.5 907l4.1-3.4l-4.1-1.5l-4.2 3.3zM130.3 905.4l4.2-3.3l-4.2-1.3l-4.1 3.2zM217.7 914.1l4.2-1.8l-4.2-3.1l-4.1 1.7zM226.1 915.5l4.1-1.6l-4.1-3.1l-4.2 1.5zM234.4 917.3l4.1-1.4l-4.1-3.2l-4.2 1.2z"/>
<path fill="#c62" stroke="#c62" d="M113.8 905.2l4.1-3.5l-4.2-0.8l-4.1 3.3zM230.2 913.9l4.2-1.2l-4.2-3.1l-4.1 1.2z"/>
<path fill="#c61" stroke="#c61" d="M109.6 904.2l4.1-3.3l-4.1-0.7l-4.1 3.2zM105.5 903.4l4.1-3.2l-4.2-0.5l-4.1 3.1zM238.5 915.9l4.2-1l-4.2-3.1l-4.1 0.9zM242.7 914.9l4.1-0.6l-4.2-3.1l-4.1 0.6z"/>
<path fill="#b61" stroke="#b61" d="M101.3 902.8l4.1-3.1l-4.1-0.4l-4.1 3.1zM97.2 902.4l4.1-3.1l-4.1-0.2l-4.1 3zM246.8 914.3l4.1-0.4l-4.1-3l-4.2 0.3z"/>
<path fill="#e74" stroke="#e74" d="M151.2 915.3l4.1-3.8l-4.1-2.3l-4.2 3.7zM163.7 916.5l4.1-3.6l-4.2-2.6l-4.1 3.6zM176.2 918.5l4.1-3.5l-4.2-2.8l-4.1 3.4zM172 915.6l4.1-3.4l-4.1-2.6l-4.2 3.3zM184.5 918l4.1-3.2l-4.1-2.9l-4.2 3.1zM192.8 917.9l4.2-3l-4.2-3l-4.2 2.9z"/>
<path fill="#d63" stroke="#d63" d="M142.9 910.8l4.1-3.6l-4.2-1.9l-4.1 3.5zM138.7 908.8l4.1-3.5l-4.2-1.7l-4.1 3.4zM155.3 911.5l4.2-3.5l-4.2-2.2l-4.1 3.4zM151.2 909.2l4.1-3.4l-4.2-1.9l-4.1 3.3zM163.6 910.3l4.2-3.2l-4.2-2.2l-4.1 3.1zM176.1 912.2l4.2-3.1l-4.2-2.5l-4.1 3zM184.5 911.9l4.1-2.8l-4.2-2.7l-4.1 2.7zM197 914.9l4.1-2.6l-4.2-3l-4.1 2.6zM192.8 911.9l4.1-2.6l-4.1-2.7l-4.2 2.5zM205.3 915.4l4.1-2.4l-4.1-3l-4.2 2.3zM201.1 912.3l4.2-2.3l-4.2-2.9l-4.2 2.2zM213.6 916.2l4.1-2.1l-4.1-3.2l-4.2 2.1zM209.4 913l4.2-2.1l-4.2-2.9l-4.1 2z"/>
<path fill="#c52" stroke="#c52" d="M126.2 904l4.1-3.2l-4.2-1.2l-4.1 3.2zM122 902.8l4.1-3.2l-4.1-0.9l-4.1 3zM134.5 902.1l4.1-3l-4.2-1.2l-4.1 2.9zM217.7 909.2l4.2-1.4l-4.2-2.7l-4.1 1.3z"/>
<path fill="#c51" stroke="#c51" d="M117.9 901.7l4.1-3l-4.2-0.8l-4.1 3zM130.3 900.8l4.1-2.9l-4.1-1.1l-4.2 2.8zM226.1 910.8l4.1-1.2l-4.2-2.8l-4.1 1zM234.4 912.7l4.1-0.9l-4.1-3l-4.2 0.8z"/>
<path fill="#b51" stroke="#b51" d="M113.7 900.9l4.1-3l-4.1-0.6l-4.1 2.9zM109.6 900.2l4.1-2.9l-4.1-0.5l-4.2 2.9zM122 898.7l4.1-2.8l-4.1-0.7l-4.2 2.7zM117.8 897.9l4.2-2.7l-4.2-0.5l-4.1 2.6zM230.2 909.6l4.2-0.8l-4.2-2.8l-4.2 0.8zM238.5 911.8l4.1-0.6l-4.1-2.9l-4.1 0.5zM234.4 908.8l4.1-0.5l-4.2-2.7l-4.1 0.4z"/>
<path fill="#a51" stroke="#a51" d="M105.4 899.7l4.2-2.9l-4.2-0.2l-4.1 2.7zM101.3 899.3l4.1-2.7l-4.1-0.1l-4.1 2.6zM113.7 897.3l4.1-2.6l-4.1-0.3l-4.1 2.4zM242.6 911.2l4.2-0.3l-4.2-2.8l-4.1 0.2zM238.5 908.3l4.1-0.2l-4.1-2.6l-4.2 0.1z"/>
<path fill="#d53" stroke="#d53" d="M147 907.2l4.1-3.3l-4.2-1.8l-4.1 3.2zM159.5 908l4.1-3.1l-4.2-2.1l-4.1 3zM155.3 905.8l4.1-3l-4.1-1.8l-4.2 2.9zM172 909.6l4.1-3l-4.2-2.3l-4.1 2.8zM167.8 907.1l4.1-2.8l-4.1-2.2l-4.2 2.8zM180.3 909.1l4.1-2.7l-4.1-2.4l-4.2 2.6zM176.1 906.6l4.2-2.6l-4.2-2.3l-4.2 2.6zM188.6 909.1l4.2-2.5l-4.2-2.5l-4.2 2.3zM196.9 909.3l4.2-2.2l-4.2-2.6l-4.1 2.1z"/>
<path fill="#d52" stroke="#d52" d="M142.8 905.3l4.1-3.2l-4.1-1.6l-4.2 3.1zM138.6 903.6l4.2-3.1l-4.2-1.4l-4.1 3zM151.1 903.9l4.2-2.9l-4.2-1.7l-4.2 2.8zM163.6 904.9l4.2-2.8l-4.2-2l-4.2 2.7zM205.3 910l4.1-2l-4.2-2.7l-4.1 1.8zM213.6 910.9l4.1-1.7l-4.1-2.8l-4.2 1.6zM221.9 912.3l4.2-1.5l-4.2-3l-4.2 1.4z"/>
<path fill="#c41" stroke="#c41" d="M126.1 899.6l4.2-2.8l-4.2-0.9l-4.1 2.8zM138.6 899.1l4.1-2.7l-4.1-1.1l-4.2 2.6zM213.6 906.4l4.1-1.3l-4.1-2.6l-4.2 1.2zM221.9 907.8l4.1-1l-4.1-2.7l-4.2 1z"/>
<path fill="#951" stroke="#951" d="M109.6 896.8l4.1-2.4l-4.1-0.2l-4.2 2.4zM246.8 910.9l4.1 0.1l-4.1-2.7l-4.2-0.2z"/>
<path fill="#851" stroke="#851" d="M105.4 896.6l4.2-2.4l-4.2-0.1l-4.1 2.4zM255.1 913.9l4.1 0.3l-4.2-2.8l-4.1-0.4z"/>
<path fill="#e95" stroke="#e95" d="M192.9 932.2l4.1-3.9l-4.2-3.6l-4.1 3.8z"/>
<path fill="#e63" stroke="#e63" d="M167.8 912.9l4.2-3.3l-4.2-2.5l-4.2 3.2zM188.6 914.8l4.2-2.9l-4.2-2.8l-4.1 2.8z"/>
<path fill="#c42" stroke="#c42" d="M146.9 902.1l4.2-2.8l-4.2-1.5l-4.1 2.7zM142.8 900.5l4.1-2.7l-4.2-1.4l-4.1 2.7zM155.3 901l4.1-2.6l-4.2-1.6l-4.1 2.5zM151.1 899.3l4.1-2.5l-4.1-1.5l-4.2 2.5zM167.8 902.1l4.1-2.4l-4.2-1.9l-4.1 2.3zM176.1 901.7l4.1-2.1l-4.1-2l-4.2 2.1zM188.6 904.1l4.1-2.1l-4.1-2.2l-4.2 1.9zM196.9 904.5l4.2-1.8l-4.2-2.4l-4.2 1.7zM209.4 908l4.2-1.6l-4.2-2.7l-4.2 1.6zM205.2 905.3l4.2-1.6l-4.2-2.5l-4.1 1.5z"/>
<path fill="#b41" stroke="#b41" d="M134.4 897.9l4.2-2.6l-4.2-1l-4.1 2.5zM130.3 896.8l4.1-2.5l-4.1-0.8l-4.2 2.4zM217.7 905.1l4.2-1l-4.2-2.5l-4.1 0.9zM226 906.8l4.2-0.8l-4.2-2.5l-4.1 0.6z"/>
<path fill="#a41" stroke="#a41" d="M126.1 895.9l4.2-2.4l-4.2-0.6l-4.1 2.3zM122 895.2l4.1-2.3l-4.1-0.4l-4.2 2.2zM221.9 904.1l4.1-0.6l-4.1-2.4l-4.2 0.5zM230.2 906l4.1-0.4l-4.1-2.5l-4.2 0.4z"/>
<path fill="#941" stroke="#941" d="M117.8 894.7l4.2-2.2l-4.2-0.3l-4.1 2.2zM226 903.5l4.2-0.4l-4.2-2.3l-4.1 0.3zM234.3 905.6l4.2-0.1l-4.2-2.4l-4.1 0z"/>
<path fill="#841" stroke="#841" d="M113.7 894.4l4.1-2.2l-4.1-0.1l-4.1 2.1zM242.6 908.1l4.2 0.2l-4.2-2.5l-4.1-0.3z"/>
<path fill="#731" stroke="#731" d="M109.6 894.2l4.1-2.1l-4.1 0.1l-4.2 1.9zM122 892.5l4.1-1.9l-4.1-0.2l-4.2 1.8zM217.7 898.9l4.2-0.2l-4.2-1.9l-4.2 0zM238.5 905.5l4.1 0.3l-4.1-2.4l-4.2-0.3z"/>
<path fill="#e64" stroke="#e64" d="M180.3 915l4.2-3.1l-4.2-2.8l-4.2 3.1z"/>
<path fill="#d42" stroke="#d42" d="M159.4 902.8l4.2-2.7l-4.2-1.7l-4.1 2.6zM171.9 904.3l4.2-2.6l-4.2-2l-4.1 2.4zM184.4 906.4l4.2-2.3l-4.2-2.4l-4.1 2.3zM180.3 904l4.1-2.3l-4.2-2.1l-4.1 2.1zM192.8 906.6l4.1-2.1l-4.2-2.5l-4.1 2.1zM201.1 907.1l4.1-1.8l-4.1-2.6l-4.2 1.8z"/>
<path fill="#c31" stroke="#c31" d="M146.9 897.8l4.2-2.5l-4.2-1.2l-4.2 2.3zM159.4 898.4l4.2-2.3l-4.2-1.5l-4.2 2.2zM167.7 897.8l4.2-2l-4.2-1.6l-4.1 1.9zM180.2 899.6l4.2-1.9l-4.2-1.9l-4.1 1.8zM188.6 899.8l4.1-1.6l-4.1-2l-4.2 1.5zM201.1 902.7l4.1-1.5l-4.1-2.2l-4.2 1.3z"/>
<path fill="#b31" stroke="#b31" d="M142.7 896.4l4.2-2.3l-4.2-1.1l-4.1 2.3zM138.6 895.3l4.1-2.3l-4.1-0.8l-4.2 2.1zM155.2 896.8l4.2-2.2l-4.2-1.3l-4.1 2zM151.1 895.3l4.1-2l-4.2-1.2l-4.1 2zM163.6 896.1l4.1-1.9l-4.2-1.4l-4.1 1.8zM159.4 894.6l4.1-1.8l-4.1-1.3l-4.2 1.8zM176.1 897.6l4.1-1.8l-4.2-1.7l-4.1 1.7zM184.4 897.7l4.2-1.5l-4.2-1.8l-4.2 1.4zM196.9 900.3l4.2-1.3l-4.2-2.1l-4.2 1.3zM192.7 898.2l4.2-1.3l-4.2-1.9l-4.1 1.2zM209.4 903.7l4.2-1.2l-4.2-2.4l-4.2 1.1zM205.2 901.2l4.2-1.1l-4.2-2.2l-4.1 1.1zM213.6 902.5l4.1-0.9l-4.1-2.3l-4.2 0.8z"/>
<path fill="#a31" stroke="#a31" d="M134.4 894.3l4.2-2.1l-4.2-0.7l-4.1 2zM146.9 894.1l4.1-2l-4.1-1l-4.2 1.9zM142.7 893l4.2-1.9l-4.2-0.8l-4.1 1.9zM201.1 899l4.1-1.1l-4.1-2l-4.2 1zM196.9 896.9l4.2-1l-4.2-1.8l-4.2 0.9zM209.4 900.1l4.2-0.8l-4.2-2.1l-4.2 0.7zM217.7 901.6l4.2-0.5l-4.2-2.2l-4.1 0.4z"/>
<path fill="#931" stroke="#931" d="M130.3 893.5l4.1-2l-4.1-0.6l-4.2 2zM138.6 892.2l4.1-1.9l-4.1-0.6l-4.2 1.8zM205.2 897.9l4.2-0.7l-4.2-1.9l-4.1 0.6zM213.6 899.3l4.1-0.4l-4.2-2.1l-4.1 0.4z"/>
<path fill="#831" stroke="#831" d="M126.1 892.9l4.2-2l-4.2-0.3l-4.1 1.9zM134.4 891.5l4.2-1.8l-4.2-0.4l-4.1 1.6zM221.9 901.1l4.1-0.3l-4.1-2.1l-4.2 0.2zM230.2 903.1l4.1 0l-4.1-2.2l-4.2-0.1z"/>
<path fill="#631" stroke="#631" d="M117.8 892.2l4.2-1.8l-4.1-0.1l-4.2 1.8zM226 900.8l4.2 0.1l-4.2-2l-4.1-0.2zM246.8 908.3l4.1 0.5l-4.1-2.5l-4.2-0.5z"/>
<path fill="#420" stroke="#420" d="M113.7 892.1l4.2-1.8l-4.2 0.2l-4.1 1.7zM242.6 905.8l4.2 0.5l-4.2-2.2l-4.1-0.7z"/>
<path fill="#c32" stroke="#c32" d="M163.6 900.1l4.1-2.3l-4.1-1.7l-4.2 2.3zM171.9 899.7l4.2-2.1l-4.2-1.8l-4.2 2zM184.4 901.7l4.2-1.9l-4.2-2.1l-4.2 1.9zM192.7 902l4.2-1.7l-4.2-2.1l-4.1 1.6z"/>
<path fill="#621" stroke="#621" d="M130.3 890.9l4.1-1.6l-4.1-0.3l-4.2 1.6zM138.6 889.7l4.1-1.4l-4.1-0.4l-4.2 1.4zM151 889.5l4.2-1.2l-4.1-0.7l-4.2 1.2zM171.9 890.1l4.1-0.9l-4.1-1l-4.2 0.8zM192.7 892.5l4.2-0.5l-4.2-1.4l-4.2 0.4zM213.5 896.8l4.2 0l-4.2-1.8l-4.1 0z"/>
<path fill="#521" stroke="#521" d="M126.1 890.6l4.2-1.6l-4.2-0.1l-4.1 1.5z"/>
<path fill="#310" stroke="#310" d="M122 890.4l4.1-1.5l-4.1 0l-4.1 1.4zM155.2 888.3l4.2-1l-4.2-0.5l-4.1 0.8zM176 889.2l4.2-0.6l-4.1-0.9l-4.2 0.5zM196.9 892l4.1-0.1l-4.1-1.3l-4.2 0z"/>
<path fill="#000" stroke="#000" d="M117.9 890.3l4.1-1.4l-4.1 0.2l-4.2 1.4zM126.1 888.9l4.2-1.2l-4.1 0.1l-4.2 1.1zM122 888.9l4.2-1.1l-4.1 0.3l-4.2 1zM138.6 887.9l4.2-1l-4.2-0.1l-4.2 0.9zM134.4 887.7l4.2-0.9l-4.1 0l-4.2 0.9zM130.3 887.7l4.2-0.9l-4.1 0.2l-4.2 0.8zM126.2 887.8l4.2-0.8l-4.2 0.4l-4.1 0.7zM151.1 887.6l4.1-0.8l-4.1-0.4l-4.2 0.8zM146.9 887.2l4.2-0.8l-4.2-0.2l-4.1 0.7zM142.8 886.9l4.1-0.7l-4.1-0.1l-4.2 0.7zM138.6 886.8l4.2-0.7l-4.1 0.1l-4.2 0.6zM134.5 886.8l4.2-0.6l-4.2 0.3l-4.1 0.5zM130.4 887l4.1-0.5l-4.1 0.5l-4.2 0.4zM159.4 887.3l4.2-0.6l-4.2-0.5l-4.2 0.6zM155.2 886.8l4.2-0.6l-4.1-0.3l-4.2 0.5zM151.1 886.4l4.2-0.5l-4.2-0.1l-4.2 0.4zM146.9 886.2l4.2-0.4l-4.1 0l-4.2 0.3zM142.8 886.1l4.2-0.3l-4.2 0.2l-4.1 0.2zM138.7 886.2l4.1-0.2l-4.1 0.3l-4.2 0.2zM171.9 888.2l4.2-0.5l-4.2-0.7l-4.2 0.4zM167.7 887.4l4.2-0.4l-4.2-0.6l-4.1 0.3zM163.6 886.7l4.1-0.3l-4.1-0.4l-4.2 0.2zM159.4 886.2l4.2-0.2l-4.2-0.2l-4.1 0.1zM155.3 885.9l4.1-0.1l-4.1-0.1l-4.2 0.1zM151.1 885.8l4.2-0.1l-4.2 0.1l-4.1 0zM180.2 888.6l4.2-0.2l-4.2-0.8l-4.1 0.1zM176.1 887.7l4.1-0.1l-4.1-0.7l-4.2 0.1zM171.9 887l4.2-0.1l-4.2-0.5l-4.2 0zM167.7 886.4l4.2 0l-4.1-0.3l-4.2-0.1zM163.6 886l4.2 0.1l-4.2-0.2l-4.2-0.1zM192.7 890.6l4.2 0l-4.2-1.2l-4.1 0zM188.6 889.4l4.1 0l-4.1-0.9l-4.2-0.1zM184.4 888.4l4.2 0.1l-4.2-0.8l-4.2-0.1zM180.2 887.6l4.2 0.1l-4.2-0.6l-4.1-0.2zM176.1 886.9l4.1 0.2l-4.1-0.4l-4.2-0.3zM171.9 886.4l4.2 0.3l-4.2-0.2l-4.1-0.4zM201 891.9l4.2 0.1l-4.2-1.2l-4.1-0.2zM196.9 890.6l4.1 0.2l-4.1-1l-4.2-0.4zM192.7 889.4l4.2 0.4l-4.2-0.9l-4.1-0.4zM188.6 888.5l4.1 0.4l-4.1-0.7l-4.2-0.5zM184.4 887.7l4.2 0.5l-4.2-0.5l-4.2-0.6zM213.5 895l4.2 0.3l-4.2-1.5l-4.1-0.4zM209.4 893.4l4.1 0.4l-4.1-1.3l-4.2-0.5zM205.2 892l4.2 0.5l-4.2-1.1l-4.2-0.6zM201 890.8l4.2 0.6l-4.2-1l-4.1-0.6zM196.9 889.8l4.1 0.6l-4.1-0.8l-4.2-0.7zM192.7 888.9l4.2 0.7l-4.2-0.6l-4.1-0.8zM226 898.9l4.2 0.4l-4.2-1.7l-4.1-0.6zM221.9 897l4.1 0.6l-4.2-1.6l-4.1-0.7zM217.7 895.3l4.1 0.7l-4.1-1.5l-4.2-0.7zM213.5 893.8l4.2 0.7l-4.2-1.2l-4.1-0.8zM209.4 892.5l4.1 0.8l-4.1-1.1l-4.2-0.8zM205.2 891.4l4.2 0.8l-4.2-0.9l-4.2-0.9zM234.3 901.3l4.2 0.7l-4.2-1.9l-4.1-0.8zM230.2 899.3l4.1 0.8l-4.2-1.7l-4.1-0.8zM226 897.6l4.1 0.8l-4.1-1.5l-4.2-0.9zM221.8 896l4.2 0.9l-4.2-1.3l-4.1-1.1zM217.7 894.5l4.1 1.1l-4.1-1.2l-4.2-1.1zM213.5 893.3l4.2 1.1l-4.2-1l-4.1-1.2zM246.8 906.3l4.1 0.9l-4.2-2.2l-4.1-0.9zM242.6 904.1l4.1 0.9l-4.1-2l-4.1-1zM238.5 902l4.1 1l-4.2-1.8l-4.1-1.1zM234.3 900.1l4.1 1.1l-4.1-1.6l-4.2-1.2zM230.1 898.4l4.2 1.2l-4.2-1.5l-4.1-1.2zM226 896.9l4.1 1.2l-4.1-1.2l-4.2-1.3zM255 909.5l4.1 1.1l-4.1-2.2l-4.1-1.2zM250.9 907.2l4.1 1.2l-4.2-2.1l-4.1-1.3zM246.7 905l4.1 1.3l-4.1-2l-4.1-1.3zM242.6 903l4.1 1.3l-4.1-1.7l-4.2-1.4zM238.4 901.2l4.2 1.4l-4.2-1.5l-4.1-1.5zM234.3 899.6l4.1 1.5l-4.1-1.4l-4.2-1.6zM267.4 915.7l4.1 1.3l-4.1-2.6l-4.1-1.3zM263.3 913.1l4.1 1.3l-4.2-2.4l-4.1-1.4zM259.1 910.6l4.1 1.4l-4.1-2.2l-4.1-1.4zM255 908.4l4.1 1.4l-4.1-2l-4.2-1.5zM250.8 906.3l4.2 1.5l-4.2-1.8l-4.1-1.7zM246.7 904.3l4.1 1.7l-4.1-1.7l-4.1-1.7zM275.6 919.7l4.1 1.5l-4.1-2.7l-4.1-1.5zM271.5 917l4.1 1.5l-4.2-2.5l-4-1.6zM267.4 914.4l4 1.6l-4.1-2.3l-4.1-1.7zM263.2 912l4.1 1.7l-4.1-2.1l-4.1-1.8zM259.1 909.8l4.1 1.8l-4.1-1.9l-4.1-1.9zM255 907.8l4.1 1.9l-4.2-1.8l-4.1-1.9zM287.9 927.1l4.1 1.6l-4.1-2.9l-4.1-1.7zM283.8 924.1l4.1 1.7l-4.1-2.8l-4.1-1.8zM279.7 921.2l4.1 1.8l-4.2-2.6l-4-1.9zM275.6 918.5l4 1.9l-4.1-2.4l-4.1-2zM271.4 916l4.1 2l-4.1-2.3l-4.1-2zM267.3 913.7l4.1 2l-4.1-2l-4.1-2.1zM296.1 931.9l4 1.9l-4.1-3.1l-4-2zM292 928.7l4 2l-4.1-2.9l-4-2zM287.9 925.8l4 2l-4.1-2.7l-4-2.1zM283.8 923l4 2.1l-4.1-2.6l-4.1-2.1zM279.6 920.4l4.1 2.1l-4.1-2.3l-4.1-2.2zM275.5 918l4.1 2.2l-4.1-2.2l-4.1-2.3zM308.3 940.5l4 2l-4.1-3.4l-4-2.1zM304.2 937l4 2.1l-4.1-3.2l-4-2.1zM300.1 933.8l4 2.1l-4-3l-4.1-2.2zM296 930.7l4.1 2.2l-4.1-2.8l-4.1-2.3zM291.9 927.8l4.1 2.3l-4.1-2.7l-4.1-2.3zM287.8 925.1l4.1 2.3l-4.1-2.4l-4.1-2.5zM320.4 949.8l4 2.2l-4-3.7l-4-2.2zM316.4 946.1l4 2.2l-4.1-3.5l-4-2.3zM312.3 942.5l4 2.3l-4.1-3.4l-4-2.3zM308.2 939.1l4 2.3l-4-3.1l-4.1-2.4zM304.1 935.9l4.1 2.4l-4.1-2.9l-4-2.5zM300.1 932.9l4 2.5l-4.1-2.8l-4-2.5zM296 930.1l4 2.5l-4.1-2.5l-4-2.7zM328.5 955.8l3.9 2.4l-4-3.8l-4-2.4zM324.4 952l4 2.4l-4-3.6l-4-2.5zM320.4 948.3l4 2.5l-4.1-3.5l-4-2.5zM316.3 944.8l4 2.5l-4.1-3.2l-4-2.7zM312.2 941.4l4 2.7l-4-3.1l-4-2.7zM308.2 938.3l4 2.7l-4.1-2.8l-4-2.8zM340.5 966.4l3.9 2.5l-4-4.2l-3.9-2.5zM336.5 962.2l3.9 2.5l-4-3.9l-4-2.6zM332.4 958.2l4 2.6l-4-3.7l-4-2.7zM328.4 954.4l4 2.7l-4.1-3.6l-3.9-2.7zM324.4 950.8l3.9 2.7l-4-3.3l-4-2.9zM320.3 947.3l4 2.9l-4.1-3.2l-4-2.9zM316.2 944.1l4 2.9l-4.1-2.9l-3.9-3.1z"/>
<path fill="#a21" stroke="#a21" d="M155.2 893.3l4.2-1.8l-4.2-1.1l-4.2 1.7zM167.7 894.2l4.2-1.6l-4.2-1.4l-4.2 1.6zM163.5 892.8l4.2-1.6l-4.2-1.1l-4.1 1.4zM176 894.1l4.2-1.3l-4.2-1.5l-4.1 1.3zM188.6 896.2l4.1-1.2l-4.1-1.7l-4.2 1.1z"/>
<path fill="#921" stroke="#921" d="M151 892.1l4.2-1.7l-4.2-0.9l-4.1 1.6zM159.4 891.5l4.1-1.4l-4.1-1l-4.2 1.3zM171.9 892.6l4.1-1.3l-4.1-1.2l-4.2 1.1zM184.4 894.4l4.2-1.1l-4.2-1.6l-4.2 1.1zM180.2 892.8l4.2-1.1l-4.2-1.3l-4.2 0.9zM192.7 895l4.2-0.9l-4.2-1.6l-4.1 0.8z"/>
<path fill="#821" stroke="#821" d="M146.9 891.1l4.1-1.6l-4.1-0.7l-4.2 1.5zM155.2 890.4l4.2-1.3l-4.2-0.8l-4.2 1.2zM167.7 891.2l4.2-1.1l-4.2-1.1l-4.2 1.1zM188.6 893.3l4.1-0.8l-4.2-1.5l-4.1 0.7zM201.1 895.9l4.1-0.6l-4.1-1.7l-4.2 0.5zM209.4 897.2l4.1-0.4l-4.1-1.8l-4.2 0.3z"/>
<path fill="#721" stroke="#721" d="M142.7 890.3l4.2-1.5l-4.2-0.5l-4.1 1.4zM163.5 890.1l4.2-1.1l-4.2-0.9l-4.1 1zM176 891.3l4.2-0.9l-4.2-1.2l-4.1 0.9zM184.4 891.7l4.1-0.7l-4.1-1.3l-4.2 0.7zM196.9 894.1l4.2-0.5l-4.2-1.6l-4.2 0.5zM205.2 895.3l4.2-0.3l-4.2-1.7l-4.1 0.3z"/>
<path fill="#410" stroke="#410" d="M134.4 889.3l4.2-1.4l-4.2-0.2l-4.1 1.3zM167.7 889l4.2-0.8l-4.2-0.8l-4.2 0.7zM188.5 891l4.2-0.4l-4.1-1.2l-4.2 0.3zM209.4 895l4.1 0l-4.1-1.6l-4.2-0.1z"/>
<path fill="#100" stroke="#100" d="M130.3 889l4.1-1.3l-4.1 0l-4.2 1.2zM184.4 889.7l4.2-0.3l-4.2-1l-4.2 0.2zM205.2 893.3l4.2 0.1l-4.2-1.4l-4.2-0.1z"/>
<path fill="#b21" stroke="#b21" d="M171.9 895.8l4.1-1.7l-4.1-1.5l-4.2 1.6zM180.2 895.8l4.2-1.4l-4.2-1.6l-4.2 1.3z"/>
<path fill="#510" stroke="#510" d="M146.9 888.8l4.2-1.2l-4.2-0.4l-4.2 1.1z"/>
<path fill="#210" stroke="#210" d="M142.7 888.3l4.2-1.1l-4.1-0.3l-4.2 1zM217.7 896.8l4.2 0.2l-4.2-1.7l-4.2-0.3zM238.5 903.4l4.1 0.7l-4.1-2.1l-4.2-0.7z"/>
<path fill="#511" stroke="#511" d="M159.4 889.1l4.1-1l-4.1-0.8l-4.2 1zM180.2 890.4l4.2-0.7l-4.2-1.1l-4.2 0.6zM201.1 893.6l4.1-0.3l-4.2-1.4l-4.1 0.1z"/>
<path fill="#200" stroke="#200" d="M163.5 888.1l4.2-0.7l-4.1-0.7l-4.2 0.6z"/>
<path fill="#9e4" stroke="#9e4" d="M283.6 982.2l4.1-2.9l-4-6.1l-4.2 2.9zM287.7 979.3l4.1-2.7l-4-5.9l-4.1 2.5zM291.8 976.6l4.1-2.2l-4-5.8l-4.1 2.1zM295.9 974.4l4.1-1.9l-4-5.8l-4.1 1.9z"/>
<path fill="#ee3" stroke="#ee3" d="M271.5 949.1l4.1-1.7l-4.1-4.8l-4.1 1.7zM275.6 947.4l4.1-1.4l-4.1-4.7l-4.1 1.3z"/>
<path fill="#9e3" stroke="#9e3" d="M300 972.5l4.1-1.6l-4-5.6l-4.1 1.4zM300.1 965.3l4.1-1.2l-4-5.3l-4.1 1.1z"/>
<path fill="#cd3" stroke="#cd3" d="M283.8 950.8l4.1-1.1l-4.1-4.8l-4.1 1.1z"/>
<path fill="#c91" stroke="#c91" d="M263.3 928.5l4.1-0.7l-4.1-3.8l-4.1 0.7zM267.4 927.8l4.2-0.4l-4.2-3.6l-4.1 0.2z"/>
<path fill="#520" stroke="#520" d="M221.9 898.7l4.1 0.2l-4.1-1.9l-4.2-0.2z"/>
<path fill="#8e3" stroke="#8e3" d="M304.1 970.9l4.1-1.2l-4-5.6l-4.1 1.2z"/>
<path fill="#ad2" stroke="#ad2" d="M296.1 959.9l4.1-1.1l-4.1-5.1l-4.1 1zM296.1 953.7l4.1-0.6l-4.1-4.8l-4.1 0.5z"/>
<path fill="#bd2" stroke="#bd2" d="M292 954.7l4.1-1l-4.1-4.9l-4.1 0.9zM292 948.8l4.1-0.5l-4-4.6l-4.1 0.5z"/>
<path fill="#cd2" stroke="#cd2" d="M287.9 949.7l4.1-0.9l-4-4.6l-4.2 0.7z"/>
<path fill="#cb1" stroke="#cb1" d="M275.7 935.9l4.1-0.5l-4.1-4.1l-4.1 0.5zM279.8 935.4l4.1-0.2l-4.1-4l-4.1 0.1z"/>
<path fill="#b81" stroke="#b81" d="M263.3 924l4.1-0.2l-4.1-3.5l-4.1 0.2zM267.4 923.8l4.2 0l-4.2-3.4l-4.1-0.1z"/>
<path fill="#a71" stroke="#a71" d="M255.1 917.1l4.1-0.1l-4.1-3.1l-4.2 0zM263.3 920.3l4.1 0.1l-4.1-3.2l-4.1-0.2z"/>
<path fill="#a61" stroke="#a61" d="M250.9 913.9l4.2 0l-4.2-2.9l-4.1-0.1z"/>
<path fill="#531" stroke="#531" d="M234.3 903.1l4.2 0.3l-4.2-2.1l-4.1-0.4zM255 911.4l4.2 0.7l-4.2-2.6l-4.1-0.7z"/>
<path fill="#320" stroke="#320" d="M230.2 900.9l4.1 0.4l-4.1-2l-4.2-0.4zM250.9 908.8l4.1 0.7l-4.1-2.3l-4.1-0.9zM271.5 918.6l4.1 1.1l-4.1-2.7l-4.1-1.3z"/>
<path fill="#8e2" stroke="#8e2" d="M308.2 969.7l4.1-0.9l-4-5.4l-4.1 0.7z"/>
<path fill="#9d2" stroke="#9d2" d="M304.2 964.1l4.1-0.7l-4.1-5.3l-4 0.7zM300.2 958.8l4-0.7l-4-5l-4.1 0.6zM304.2 958.1l4.1-0.3l-4-4.9l-4.1 0.2z"/>
<path fill="#cd1" stroke="#cd1" d="M288 944.2l4.1-0.5l-4.1-4.3l-4.1 0.3z"/>
<path fill="#cc1" stroke="#cc1" d="M283.9 939.7l4.1-0.3l-4.1-4.2l-4.1 0.2z"/>
<path fill="#b91" stroke="#b91" d="M271.6 927.4l4.1 0l-4.1-3.6l-4.2 0z"/>
<path fill="#961" stroke="#961" d="M259.2 917l4.1 0.2l-4.1-3l-4.1-0.3z"/>
<path fill="#741" stroke="#741" d="M250.9 911l4.1 0.4l-4.1-2.6l-4.1-0.5z"/>
<path fill="#7d2" stroke="#7d2" d="M312.3 968.8l4.1-0.6l-4-5.3l-4.1 0.5z"/>
<path fill="#8d2" stroke="#8d2" d="M308.3 963.4l4.1-0.5l-4.1-5.1l-4.1 0.3z"/>
<path fill="#9d1" stroke="#9d1" d="M300.2 953.1l4.1-0.2l-4.1-4.7l-4.1 0.1z"/>
<path fill="#ac1" stroke="#ac1" d="M296.1 948.3l4.1-0.1l-4.1-4.5l-4 0z"/>
<path fill="#bc1" stroke="#bc1" d="M292.1 943.7l4 0l-4-4.3l-4.1 0zM288 939.4l4.1 0l-4.1-4.1l-4.1-0.1z"/>
<path fill="#bb1" stroke="#bb1" d="M283.9 935.2l4.1 0.1l-4.1-3.9l-4.1-0.2z"/>
<path fill="#ba1" stroke="#ba1" d="M279.8 931.2l4.1 0.2l-4.1-3.7l-4.1-0.3z"/>
<path fill="#a91" stroke="#a91" d="M275.7 927.4l4.1 0.3l-4.1-3.5l-4.1-0.4z"/>
<path fill="#a81" stroke="#a81" d="M271.6 923.8l4.1 0.4l-4.2-3.3l-4.1-0.5z"/>
<path fill="#971" stroke="#971" d="M267.4 920.4l4.1 0.5l-4.1-3.2l-4.1-0.5z"/>
<path fill="#861" stroke="#861" d="M263.3 917.2l4.1 0.5l-4.1-2.9l-4.1-0.6z"/>
<path fill="#751" stroke="#751" d="M259.2 914.2l4.1 0.6l-4.1-2.7l-4.2-0.7z"/>
<path fill="#6d1" stroke="#6d1" d="M316.4 968.2l4.1-0.2l-4.1-5.2l-4 0.1z"/>
<path fill="#7d1" stroke="#7d1" d="M312.4 962.9l4-0.1l-4-5.1l-4.1 0.1z"/>
<path fill="#8c1" stroke="#8c1" d="M308.3 957.8l4.1-0.1l-4.1-4.8l-4 0zM308.3 952.9l4.1 0.4l-4-4.5l-4.1-0.5z"/>
<path fill="#9c1" stroke="#9c1" d="M304.3 952.9l4 0l-4-4.6l-4.1-0.1zM300.2 948.2l4.1 0.1l-4.1-4.4l-4.1-0.2z"/>
<path fill="#ab1" stroke="#ab1" d="M296.1 943.7l4.1 0.2l-4.1-4.2l-4-0.3zM292.1 939.4l4 0.3l-4-4l-4.1-0.4z"/>
<path fill="#aa1" stroke="#aa1" d="M288 935.3l4.1 0.4l-4.1-3.8l-4.1-0.5zM283.9 931.4l4.1 0.5l-4.1-3.6l-4.1-0.6z"/>
<path fill="#981" stroke="#981" d="M279.8 927.7l4.1 0.6l-4.1-3.5l-4.1-0.6z"/>
<path fill="#871" stroke="#871" d="M275.7 924.2l4.1 0.6l-4.2-3.2l-4.1-0.7zM283.9 928.3l4 0.9l-4.1-3.4l-4-1z"/>
<path fill="#761" stroke="#761" d="M271.5 920.9l4.1 0.7l-4.1-3l-4.1-0.9z"/>
<path fill="#651" stroke="#651" d="M267.4 917.7l4.1 0.9l-4.1-2.9l-4.1-0.9z"/>
<path fill="#430" stroke="#430" d="M263.3 914.8l4.1 0.9l-4.1-2.6l-4.1-1z"/>
<path fill="#110" stroke="#110" d="M259.2 912.1l4.1 1l-4.2-2.5l-4.1-1.1zM279.7 922.7l4.1 1.4l-4.1-2.9l-4.1-1.5z"/>
<path fill="#5c1" stroke="#5c1" d="M320.5 968l4 0.1l-4-5.1l-4.1-0.2zM320.5 963l4 0.5l-4-4.9l-4.1-0.6z"/>
<path fill="#6c1" stroke="#6c1" d="M316.4 962.8l4.1 0.2l-4.1-5l-4-0.3z"/>
<path fill="#7c1" stroke="#7c1" d="M312.4 957.7l4 0.3l-4-4.7l-4.1-0.4z"/>
<path fill="#8b1" stroke="#8b1" d="M304.3 948.3l4.1 0.5l-4.1-4.3l-4.1-0.6zM300.2 943.9l4.1 0.6l-4.1-4.2l-4.1-0.6z"/>
<path fill="#9a1" stroke="#9a1" d="M296.1 939.7l4.1 0.6l-4.1-3.9l-4-0.7z"/>
<path fill="#991" stroke="#991" d="M292.1 935.7l4 0.7l-4.1-3.7l-4-0.8z"/>
<path fill="#891" stroke="#891" d="M288 931.9l4 0.8l-4.1-3.5l-4-0.9z"/>
<path fill="#661" stroke="#661" d="M279.8 924.8l4 1l-4.1-3.1l-4.1-1.1z"/>
<path fill="#540" stroke="#540" d="M275.6 921.6l4.1 1.1l-4.1-3l-4.1-1.1z"/>
<path fill="#4c1" stroke="#4c1" d="M324.5 968.1l4 0.4l-4-5l-4-0.5z"/>
<path fill="#6b1" stroke="#6b1" d="M316.4 958l4.1 0.6l-4-4.6l-4.1-0.7zM312.4 953.3l4.1 0.7l-4.1-4.4l-4-0.8z"/>
<path fill="#7a1" stroke="#7a1" d="M308.4 948.8l4 0.8l-4.1-4.3l-4-0.8zM304.3 944.5l4 0.8l-4-4l-4.1-1z"/>
<path fill="#791" stroke="#791" d="M300.2 940.3l4.1 1l-4.1-3.8l-4.1-1.1z"/>
<path fill="#781" stroke="#781" d="M296.1 936.4l4.1 1.1l-4.1-3.7l-4.1-1.1z"/>
<path fill="#671" stroke="#671" d="M292 932.7l4.1 1.1l-4.1-3.4l-4.1-1.2z"/>
<path fill="#551" stroke="#551" d="M287.9 929.2l4.1 1.2l-4.1-3.3l-4.1-1.3z"/>
<path fill="#440" stroke="#440" d="M283.8 925.8l4.1 1.3l-4.1-3l-4.1-1.4zM296.1 933.8l4.1 1.5l-4.1-3.4l-4.1-1.5z"/>
<path fill="#3b1" stroke="#3b1" d="M328.5 968.5l4.1 0.8l-4.1-5l-4-0.8z"/>
<path fill="#4b1" stroke="#4b1" d="M324.5 963.5l4 0.8l-4-4.7l-4-1z"/>
<path fill="#5a1" stroke="#5a1" d="M320.5 958.6l4 1l-4-4.6l-4-1zM316.5 954l4 1l-4.1-4.3l-4-1.1z"/>
<path fill="#591" stroke="#591" d="M312.4 949.6l4 1.1l-4-4.2l-4.1-1.2z"/>
<path fill="#581" stroke="#581" d="M308.3 945.3l4.1 1.2l-4.1-3.9l-4-1.3z"/>
<path fill="#571" stroke="#571" d="M304.3 941.3l4 1.3l-4.1-3.8l-4-1.3z"/>
<path fill="#561" stroke="#561" d="M300.2 937.5l4 1.3l-4-3.5l-4.1-1.5z"/>
<path fill="#220" stroke="#220" d="M292 930.4l4.1 1.5l-4.1-3.2l-4.1-1.6z"/>
<path fill="#2b1" stroke="#2b1" d="M332.6 969.3l4 1l-4-4.8l-4.1-1.2z"/>
<path fill="#3a1" stroke="#3a1" d="M328.5 964.3l4.1 1.2l-4.1-4.7l-4-1.2z"/>
<path fill="#491" stroke="#491" d="M324.5 959.6l4 1.2l-4-4.4l-4-1.4zM320.5 955l4 1.4l-4-4.3l-4.1-1.4z"/>
<path fill="#481" stroke="#481" d="M316.4 950.7l4.1 1.4l-4.1-4.1l-4-1.5z"/>
<path fill="#471" stroke="#471" d="M312.4 946.5l4 1.5l-4-3.8l-4.1-1.6z"/>
<path fill="#351" stroke="#351" d="M308.3 942.6l4.1 1.6l-4.1-3.7l-4.1-1.7z"/>
<path fill="#230" stroke="#230" d="M304.2 938.8l4.1 1.7l-4.1-3.5l-4-1.7z"/>
<path fill="#010" stroke="#010" d="M300.2 935.3l4 1.7l-4.1-3.2l-4-1.9z"/>
<path fill="#1a1" stroke="#1a1" d="M336.6 970.3l4 1.4l-4-4.8l-4-1.4z"/>
<path fill="#291" stroke="#291" d="M332.6 965.5l4 1.4l-4.1-4.5l-4-1.6z"/>
<path fill="#281" stroke="#281" d="M328.5 960.8l4 1.6l-4-4.4l-4-1.6z"/>
<path fill="#371" stroke="#371" d="M324.5 956.4l4 1.6l-4-4.2l-4-1.7z"/>
<path fill="#261" stroke="#261" d="M320.5 952.1l4 1.7l-4.1-4l-4-1.8z"/>
<path fill="#240" stroke="#240" d="M316.4 948l4 1.8l-4-3.7l-4-1.9z"/>
<path fill="#120" stroke="#120" d="M312.4 944.2l4 1.9l-4.1-3.6l-4-2z"/>
<path fill="#181" stroke="#181" d="M340.6 971.7l3.9 1.7l-4-4.7l-3.9-1.8zM336.6 966.9l3.9 1.8l-4-4.5l-4-1.8z"/>
<path fill="#161" stroke="#161" d="M332.5 962.4l4 1.8l-4-4.3l-4-1.9zM340.5 968.7l4 2.1l-4-4.4l-4-2.2z"/>
<path fill="#151" stroke="#151" d="M328.5 958l4 1.9l-4-4.1l-4-2z"/>
<path fill="#130" stroke="#130" d="M324.5 953.8l4 2l-4.1-3.8l-4-2.2z"/>
<path fill="#172" stroke="#172" d="M344.5 973.4l4 2l-4-4.6l-4-2.1z"/>
<path fill="#040" stroke="#040" d="M336.5 964.2l4 2.2l-4-4.2l-4-2.3z"/>
<path fill="#020" stroke="#020" d="M332.5 959.9l4 2.3l-4.1-4l-3.9-2.4z"/>
<path fill="#052" stroke="#052" d="M348.5 975.4l3.9 2.3l-4-4.5l-3.9-2.4z"/>
<path fill="#031" stroke="#031" d="M344.5 970.8l3.9 2.4l-4-4.3l-3.9-2.5z"/>
</g>
<path d="M205.5 1110.4l2-5.2 2-5.1 2-5 2.1-4.9 2-4.9 2-4.7 2.1-4.6 2-4.5 2.1-4.3 2-4.3 2.1-4.2 2-4.1 2.1-4 2-3.9 2.1-3.8 2-3.7 2.1-3.6 2-3.5 2.1-3.4 2.1-3.3 2-3.2 2.1-3.1 2.1-3 2-2.9 2.1-2.8 2.1-2.8 2-2.6 2.1-2.5 2.1-2.5 2-2.3 2.1-2.3 2.1-2.1 2-2.1 2.1-2 2.1-1.9 2-1.8 2.1-1.7 2.1-1.6 2-1.5 2.1-1.4 2.1-1.4 2-1.3 2.1-1.1 2-1.1 2.1-1 2-0.9 2.1-0.9 2-0.7 2.1-0.7 2-0.5 2.1-0.5 2-0.4 2.1-0.3 2-0.3 2-0.1 2.1-0.1 2 0 2 0.1 2 0.2 2 0.2 2.1 0.4 2 0.4 2 0.5 2 0.5 2 0.7 2 0.7 2 0.8 1.9 0.9 2 1 2 1 2 1.1 1.9 1.2M203.5 1106.2l2-5.2 2-5.1 2-5 2.1-4.9 2-4.8 2-4.6 2.1-4.6 2-4.5 2-4.3 2.1-4.3 2-4.1 2.1-4.1 2-4 2.1-3.8 2-3.8 2.1-3.6 2.1-3.6 2-3.5 2.1-3.3 2-3.3 2.1-3.2 2.1-3 2-3 2.1-2.9 2.1-2.8 2-2.7 2.1-2.6 2.1-2.5 2-2.4 2.1-2.3 2.1-2.3 2-2.1 2.1-2 2.1-2 2.1-1.8 2-1.8 2.1-1.7 2-1.6 2.1-1.5 2.1-1.4 2-1.3 2.1-1.3 2.1-1.1 2-1.1 2.1-0.9 2-0.9 2.1-0.8 2-0.7 2.1-0.7 2-0.5 2.1-0.5 2-0.4 2-0.3 2.1-0.2 2-0.1 2 0 2.1 0 2 0.1 2 0.2 2 0.3 2 0.3 2.1 0.5 2 0.5 2 0.6 2 0.7 2 0.7 2 0.8 1.9 0.9 2 1 2 1.1 2 1.1 1.9 1.2M201.4 1101.9l2.1-5.1 2-5.1 2-4.9 2-4.9 2.1-4.7 2-4.6 2-4.6 2.1-4.4 2-4.3 2.1-4.3 2-4.1 2.1-4 2-3.9 2.1-3.9 2-3.7 2.1-3.6 2-3.6 2.1-3.4 2.1-3.3 2-3.3 2.1-3.1 2-3 2.1-3 2.1-2.9 2-2.7 2.1-2.7 2.1-2.5 2-2.5 2.1-2.4 2.1-2.3 2.1-2.2 2-2.1 2.1-2 2.1-1.9 2-1.9 2.1-1.7 2.1-1.7 2-1.5 2.1-1.5 2.1-1.4 2-1.3 2.1-1.2 2-1.1 2.1-1 2-1 2.1-0.9 2.1-0.7 2-0.7 2.1-0.6 2-0.6 2-0.4 2.1-0.3 2-0.3 2.1-0.2 2-0.1 2 0 2.1 0 2 0.2 2 0.2 2 0.3 2 0.4 2 0.4 2.1 0.6 2 0.6 2 0.7 2 0.7 2 0.9 1.9 0.9 2 1 2 1.1 2 1.1 1.9 1.3M199.4 1097.8l2-5.1 2.1-5.1 2-4.9 2-4.8 2-4.7 2.1-4.6 2-4.5 2-4.4 2.1-4.3 2-4.2 2.1-4.1 2-4 2.1-3.9 2-3.8 2.1-3.7 2-3.6 2.1-3.5 2.1-3.4 2-3.3 2.1-3.2 2-3.1 2.1-3 2.1-2.9 2-2.8 2.1-2.8 2.1-2.6 2-2.5 2.1-2.5 2.1-2.3 2.1-2.3 2-2.2 2.1-2.1 2.1-1.9 2-1.9 2.1-1.8 2.1-1.8 2-1.6 2.1-1.5 2.1-1.5 2-1.3 2.1-1.3 2-1.2 2.1-1.1 2.1-1 2-0.9 2.1-0.8 2-0.8 2.1-0.7 2-0.5 2.1-0.5 2-0.4 2.1-0.4 2-0.2 2-0.2 2.1-0.1 2 0 2 0.1 2.1 0.2 2 0.2 2 0.3 2 0.4 2 0.5 2 0.6 2.1 0.6 2 0.7 2 0.8 1.9 0.9 2 0.9 2 1.1 2 1.1 2 1.1 1.9 1.3M197.4 1093.7l2-5.1 2-5 2-4.9 2.1-4.7 2-4.7 2-4.6 2.1-4.4 2-4.4 2.1-4.3 2-4.1 2-4.1 2.1-4 2-3.8 2.1-3.8 2.1-3.7 2-3.5 2.1-3.5 2-3.4 2.1-3.2 2.1-3.2 2-3.1 2.1-3 2-2.9 2.1-2.8 2.1-2.7 2-2.6 2.1-2.5 2.1-2.4 2.1-2.3 2-2.3 2.1-2.1 2.1-2.1 2-1.9 2.1-1.9 2.1-1.8 2-1.6 2.1-1.6 2.1-1.6 2-1.4 2.1-1.3 2.1-1.2 2-1.2 2.1-1.1 2-1 2.1-0.9 2.1-0.8 2-0.7 2.1-0.6 2-0.6 2.1-0.5 2-0.4 2-0.3 2.1-0.2 2-0.1 2.1-0.1 2 0 2 0.1 2 0.2 2.1 0.3 2 0.3 2 0.5 2 0.5 2 0.6 2 0.6 2 0.8 2 0.8 2 0.9 2 0.9 2 1.1 2 1.1 2 1.2 1.9 1.3M195.4 1089.6l2-5 2-5 2-4.8 2-4.7 2.1-4.7 2-4.5 2-4.4 2.1-4.4 2-4.2 2.1-4.1 2-4.1 2.1-3.9 2-3.8 2.1-3.8 2-3.6 2.1-3.5 2-3.5 2.1-3.3 2.1-3.3 2-3.1 2.1-3.1 2-2.9 2.1-2.9 2.1-2.7 2-2.7 2.1-2.6 2.1-2.5 2-2.4 2.1-2.3 2.1-2.2 2.1-2.1 2-2 2.1-1.9 2.1-1.9 2-1.7 2.1-1.7 2.1-1.6 2-1.4 2.1-1.4 2.1-1.3 2-1.3 2.1-1.1 2-1 2.1-1 2.1-0.9 2-0.7 2.1-0.7 2-0.7 2.1-0.5 2-0.4 2.1-0.4 2-0.3 2.1-0.2 2-0.1 2 0 2.1 0 2 0.1 2 0.2 2.1 0.3 2 0.4 2 0.4 2 0.6 2 0.6 2 0.7 2 0.7 2 0.9 2 0.9 2 1 2 1 2 1.2 2 1.2 1.9 1.3M193.3 1085.7l2-5 2.1-5 2-4.8 2-4.7 2-4.6 2.1-4.5 2-4.4 2-4.3 2.1-4.2 2-4.1 2.1-4 2-3.9 2.1-3.8 2-3.7 2.1-3.6 2-3.5 2.1-3.4 2.1-3.3 2-3.2 2.1-3.1 2-3.1 2.1-2.9 2.1-2.8 2-2.8 2.1-2.6 2.1-2.5 2-2.5 2.1-2.4 2.1-2.2 2-2.2 2.1-2.1 2.1-2 2.1-1.9 2-1.8 2.1-1.7 2.1-1.7 2-1.5 2.1-1.5 2.1-1.3 2-1.3 2.1-1.2 2.1-1.1 2-1 2.1-1 2-0.8 2.1-0.8 2-0.6 2.1-0.6 2-0.5 2.1-0.5 2-0.3 2.1-0.3 2-0.1 2.1-0.1 2 0 2 0 2.1 0.2 2 0.2 2 0.3 2.1 0.4 2 0.5 2 0.5 2 0.6 2 0.8 2 0.7 2 0.9 2 0.9 2 1 2 1.1 2 1.2 2 1.2 1.9 1.3M191.3 1081.8l2-5 2-4.9 2-4.8 2.1-4.7 2-4.5 2-4.5 2.1-4.4 2-4.2 2-4.2 2.1-4.1 2-3.9 2.1-3.9 2-3.8 2.1-3.6 2-3.6 2.1-3.5 2-3.4 2.1-3.2 2.1-3.2 2-3.1 2.1-3 2.1-2.9 2-2.8 2.1-2.7 2.1-2.6 2-2.5 2.1-2.5 2.1-2.3 2-2.2 2.1-2.2 2.1-2.1 2-1.9 2.1-1.9 2.1-1.8 2-1.7 2.1-1.6 2.1-1.5 2.1-1.4 2-1.4 2.1-1.2 2.1-1.2 2-1.1 2.1-1 2-0.9 2.1-0.8 2.1-0.7 2-0.7 2.1-0.6 2-0.4 2.1-0.4 2-0.4 2.1-0.2 2-0.1 2-0.1 2.1 0 2 0.1 2.1 0.2 2 0.2 2 0.4 2 0.4 2 0.5 2.1 0.5 2 0.7 2 0.7 2 0.8 2 0.9 2 0.9 2 1.1 2 1.1 2 1.2 1.9 1.2 2 1.3M189.2 1077.9l2.1-4.9 2-4.9 2-4.7 2-4.7 2.1-4.5 2-4.5 2-4.3 2.1-4.2 2-4.2 2-4 2.1-3.9 2-3.9 2.1-3.7 2-3.6 2.1-3.6 2-3.4 2.1-3.4 2.1-3.2 2-3.2 2.1-3 2-3 2.1-2.9 2.1-2.7 2-2.7 2.1-2.6 2.1-2.5 2-2.4 2.1-2.3 2.1-2.2 2.1-2.1 2-2.1 2.1-1.9 2.1-1.8 2-1.8 2.1-1.7 2.1-1.6 2-1.5 2.1-1.4 2.1-1.3 2-1.2 2.1-1.1 2.1-1.1 2-1 2.1-0.8 2.1-0.8 2-0.8 2.1-0.6 2-0.5 2.1-0.5 2-0.4 2.1-0.3 2-0.2 2.1-0.1 2 0 2.1 0 2 0.1 2 0.2 2.1 0.3 2 0.3 2 0.5 2 0.5 2 0.6 2.1 0.6 2 0.8 2 0.8 2 0.9 2 1 2 1 2 1.2 1.9 1.2 2 1.3 2 1.3M187.2 1074.1l2-4.9 2-4.8 2.1-4.7 2-4.6 2-4.5 2-4.5 2.1-4.3 2-4.2 2.1-4.1 2-4 2-3.9 2.1-3.8 2-3.7 2.1-3.6 2-3.5 2.1-3.4 2.1-3.3 2-3.2 2.1-3.2 2-3 2.1-2.9 2.1-2.9 2-2.7 2.1-2.7 2.1-2.5 2-2.5 2.1-2.4 2.1-2.2 2-2.2 2.1-2.1 2.1-2 2.1-1.9 2-1.8 2.1-1.8 2.1-1.6 2-1.6 2.1-1.4 2.1-1.4 2-1.3 2.1-1.2 2.1-1.1 2-1.1 2.1-0.9 2.1-0.9 2-0.7 2.1-0.7 2-0.6 2.1-0.5 2-0.5 2.1-0.3 2-0.3 2.1-0.2 2-0.1 2.1 0 2 0 2.1 0.2 2 0.2 2 0.3 2 0.4 2.1 0.4 2 0.6 2 0.6 2 0.7 2 0.7 2 0.9 2.1 0.9 2 1 1.9 1.1 2 1.1 2 1.3 2 1.2 2 1.4M185.2 1070.4l2-4.9 2-4.8 2-4.7 2-4.5 2.1-4.5 2-4.4 2-4.3 2.1-4.1 2-4.1 2.1-4 2-3.9 2-3.7 2.1-3.7 2-3.6 2.1-3.5 2.1-3.3 2-3.3 2.1-3.2 2-3.1 2.1-3 2.1-2.9 2-2.8 2.1-2.7 2-2.7 2.1-2.5 2.1-2.4 2.1-2.4 2-2.2 2.1-2.2 2.1-2 2-2 2.1-1.9 2.1-1.8 2-1.7 2.1-1.6 2.1-1.5 2.1-1.5 2-1.3 2.1-1.3 2.1-1.2 2-1.1 2.1-1 2.1-0.9 2-0.8 2.1-0.8 2-0.6 2.1-0.6 2-0.5 2.1-0.4 2.1-0.3 2-0.3 2.1-0.2 2 0 2 0 2.1 0 2 0.2 2.1 0.2 2 0.4 2 0.4 2 0.4 2.1 0.6 2 0.6 2 0.7 2 0.8 2 0.9 2 0.9 2 1.1 2 1.1 2 1.1 2 1.3 2 1.3 2 1.4M183.1 1066.7l2-4.9 2.1-4.7 2-4.7 2-4.5 2-4.4 2.1-4.4 2-4.2 2-4.2 2.1-4 2-3.9 2-3.9 2.1-3.7 2-3.7 2.1-3.5 2-3.5 2.1-3.3 2.1-3.3 2-3.1 2.1-3.1 2-3 2.1-2.8 2.1-2.8 2-2.7 2.1-2.6 2.1-2.5 2-2.4 2.1-2.3 2.1-2.2 2-2.2 2.1-2 2.1-2 2.1-1.8 2-1.8 2.1-1.7 2.1-1.6 2-1.5 2.1-1.4 2.1-1.3 2-1.2 2.1-1.2 2.1-1.1 2-0.9 2.1-0.9 2.1-0.8 2-0.8 2.1-0.6 2-0.5 2.1-0.5 2.1-0.4 2-0.3 2.1-0.2 2-0.2 2.1 0 2 0 2 0.1 2.1 0.2 2 0.2 2.1 0.4 2 0.4 2 0.5 2 0.6 2.1 0.6 2 0.8 2 0.8 2 0.9 2 0.9 2 1.1 2 1.1 2 1.2 2 1.2 2 1.4 1.9 1.4M181.1 1063.1l2-4.8 2-4.8 2-4.6 2-4.5 2.1-4.4 2-4.3 2-4.2 2.1-4.1 2-4 2-3.9 2.1-3.8 2-3.8 2.1-3.6 2-3.5 2.1-3.4 2-3.3 2.1-3.3 2.1-3.1 2-3 2.1-3 2-2.8 2.1-2.8 2.1-2.6 2-2.6 2.1-2.4 2.1-2.4 2-2.3 2.1-2.2 2.1-2.1 2.1-2 2-1.9 2.1-1.9 2.1-1.7 2-1.7 2.1-1.5 2.1-1.5 2.1-1.4 2-1.3 2.1-1.2 2.1-1.1 2-1.1 2.1-0.9 2.1-0.9 2-0.8 2.1-0.7 2-0.6 2.1-0.5 2.1-0.5 2-0.3 2.1-0.3 2-0.2 2.1-0.1 2-0.1 2.1 0.1 2 0.1 2 0.2 2.1 0.3 2 0.3 2 0.5 2.1 0.5 2 0.6 2 0.7 2 0.7 2.1 0.9 2 0.9 2 1 2 1 2 1.2 2 1.2 2 1.3 1.9 1.3 2 1.4M179 1059.5l2-4.8 2.1-4.7 2-4.5 2-4.5 2-4.4 2-4.3 2.1-4.1 2-4.1 2.1-4 2-3.9 2-3.8 2.1-3.6 2-3.6 2.1-3.5 2-3.4 2.1-3.3 2-3.2 2.1-3.1 2.1-3 2-2.9 2.1-2.8 2.1-2.7 2-2.7 2.1-2.5 2.1-2.4 2-2.4 2.1-2.3 2.1-2.1 2-2.1 2.1-2 2.1-1.9 2-1.8 2.1-1.7 2.1-1.6 2.1-1.6 2-1.4 2.1-1.4 2.1-1.3 2-1.1 2.1-1.1 2.1-1.1 2-0.9 2.1-0.8 2.1-0.8 2-0.7 2.1-0.6 2.1-0.5 2-0.4 2.1-0.3 2-0.3 2.1-0.2 2-0.1 2.1 0 2 0.1 2.1 0.1 2 0.3 2 0.3 2.1 0.4 2 0.4 2 0.6 2.1 0.6 2 0.7 2 0.8 2 0.8 2 0.9 2 1 2 1.1 2 1.2 2 1.2 2 1.3 2 1.4 2 1.4M177 1056l2-4.7 2-4.7 2-4.5 2-4.5 2.1-4.3 2-4.3 2-4.1 2.1-4.1 2-3.9 2-3.9 2.1-3.7 2-3.7 2.1-3.5 2-3.5 2.1-3.3 2-3.3 2.1-3.2 2-3 2.1-3 2.1-2.9 2-2.8 2.1-2.7 2.1-2.6 2-2.5 2.1-2.4 2.1-2.3 2-2.2 2.1-2.2 2.1-2 2-2 2.1-1.9 2.1-1.7 2.1-1.7 2-1.6 2.1-1.5 2.1-1.5 2-1.3 2.1-1.3 2.1-1.1 2.1-1.1 2-1 2.1-0.9 2.1-0.8 2-0.8 2.1-0.6 2-0.6 2.1-0.5 2.1-0.4 2-0.3 2.1-0.2 2-0.2 2.1 0 2 0 2.1 0.1 2 0.1 2.1 0.3 2 0.3 2 0.4 2.1 0.5 2 0.6 2 0.6 2 0.7 2.1 0.8 2 0.9 2 1 2 1 2 1.1 2 1.2 2 1.2 2 1.3 2 1.4 2 1.5M174.9 1052.6l2-4.8 2-4.6 2.1-4.5 2-4.4 2-4.3 2-4.2 2.1-4.1 2-4.1 2-3.9 2.1-3.8 2-3.7 2.1-3.6 2-3.5 2.1-3.5 2-3.3 2.1-3.2 2-3.2 2.1-3 2-3 2.1-2.8 2.1-2.8 2-2.6 2.1-2.6 2.1-2.5 2-2.4 2.1-2.3 2.1-2.2 2-2.1 2.1-2 2.1-2 2.1-1.8 2-1.7 2.1-1.7 2.1-1.6 2-1.5 2.1-1.4 2.1-1.3 2.1-1.2 2-1.1 2.1-1.1 2.1-1 2-0.8 2.1-0.8 2.1-0.8 2-0.6 2.1-0.5 2.1-0.5 2-0.4 2.1-0.3 2-0.2 2.1-0.1 2-0.1 2.1 0.1 2 0.1 2.1 0.2 2 0.3 2.1 0.3 2 0.4 2 0.5 2.1 0.6 2 0.7 2 0.7 2 0.9 2 0.8 2.1 1 2 1.1 2 1.1 2 1.2 2 1.2 2 1.4 2 1.4 1.9 1.5M172.9 1049.2l2-4.7 2-4.6 2-4.5 2-4.4 2-4.2 2.1-4.2 2-4.1 2-4 2.1-3.9 2-3.8 2.1-3.6 2-3.6 2.1-3.5 2-3.4 2.1-3.3 2-3.2 2.1-3.1 2-3.1 2.1-2.9 2-2.8 2.1-2.7 2.1-2.7 2-2.5 2.1-2.5 2.1-2.3 2-2.3 2.1-2.2 2.1-2.1 2.1-2 2-1.9 2.1-1.8 2.1-1.7 2-1.6 2.1-1.6 2.1-1.4 2.1-1.4 2-1.3 2.1-1.2 2.1-1.1 2-1.1 2.1-0.9 2.1-0.8 2-0.8 2.1-0.7 2.1-0.6 2-0.5 2.1-0.5 2.1-0.3 2-0.3 2.1-0.2 2-0.1 2.1 0 2 0 2.1 0.2 2 0.2 2.1 0.3 2 0.3 2 0.5 2.1 0.5 2 0.6 2 0.7 2.1 0.8 2 0.8 2 0.9 2 1 2 1.1 2 1.1 2 1.2 2 1.3 2 1.4 2 1.4 2 1.5M170.8 1045.8l2-4.6 2-4.6 2-4.4 2.1-4.4 2-4.2 2-4.2 2-4 2.1-4 2-3.8 2.1-3.8 2-3.6 2-3.6 2.1-3.5 2-3.3 2.1-3.3 2-3.2 2.1-3 2.1-3 2-2.9 2.1-2.8 2-2.7 2.1-2.6 2.1-2.6 2-2.4 2.1-2.3 2.1-2.2 2-2.2 2.1-2.1 2.1-1.9 2.1-1.9 2-1.8 2.1-1.7 2.1-1.6 2-1.5 2.1-1.5 2.1-1.3 2.1-1.3 2-1.2 2.1-1 2.1-1 2-1 2.1-0.8 2.1-0.7 2-0.7 2.1-0.6 2.1-0.5 2-0.4 2.1-0.3 2.1-0.3 2-0.1 2.1-0.1 2 0 2.1 0 2 0.2 2.1 0.2 2 0.3 2.1 0.4 2 0.5 2 0.6 2.1 0.6 2 0.7 2 0.8 2 0.8 2.1 1 2 1 2 1.1 2 1.1 2 1.3 2 1.3 2 1.3 2 1.5M168.7 1042.6l2.1-4.7 2-4.5 2-4.4 2-4.3 2-4.2 2.1-4.1 2-4.1 2-3.9 2.1-3.8 2-3.7 2-3.7 2.1-3.5 2-3.4 2.1-3.4 2-3.2 2.1-3.2 2-3 2.1-3 2.1-2.8 2-2.8 2.1-2.7 2-2.5 2.1-2.5 2.1-2.4 2-2.3 2.1-2.3 2.1-2.1 2-2 2.1-2 2.1-1.8 2.1-1.8 2-1.6 2.1-1.6 2.1-1.5 2.1-1.4 2-1.4 2.1-1.2 2.1-1.2 2-1 2.1-1 2.1-0.9 2.1-0.8 2-0.7 2.1-0.7 2.1-0.5 2-0.5 2.1-0.4 2-0.3 2.1-0.2 2.1-0.2 2 0 2.1 0 2 0.1 2.1 0.2 2 0.2 2.1 0.4 2 0.4 2 0.5 2.1 0.5 2 0.7 2 0.7 2.1 0.8 2 0.9 2 1 2 1 2 1.1 2.1 1.2 2 1.2 2 1.3 2 1.4M166.7 1039.3l2-4.5 2-4.5 2-4.4 2-4.3 2.1-4.2 2-4.1 2-4 2.1-3.9 2-3.7 2-3.7 2.1-3.6 2-3.5 2.1-3.4 2-3.4 2.1-3.2 2-3.1 2.1-3 2-2.9 2.1-2.9 2-2.7 2.1-2.7 2.1-2.5 2-2.5 2.1-2.3 2.1-2.3 2-2.2 2.1-2.1 2.1-2 2.1-1.9 2-1.9 2.1-1.7 2.1-1.6 2-1.6 2.1-1.5 2.1-1.4 2.1-1.3 2-1.2 2.1-1.1 2.1-1 2.1-1 2-0.9 2.1-0.7 2.1-0.7 2-0.7 2.1-0.5 2.1-0.4 2-0.4 2.1-0.3 2-0.2 2.1-0.1 2.1-0.1 2 0.1 2.1 0.1 2 0.2 2.1 0.3 2 0.3 2.1 0.5 2 0.5 2 0.6 2.1 0.6 2 0.8 2 0.8 2 0.9 2.1 1 2 1 2 1.2 2 1.2 2 1.2 2 1.4 2 1.4M164.6 1036.2l2-4.6 2-4.4 2.1-4.4 2-4.2 2-4.2 2-4 2.1-4 2-3.9 2-3.7 2.1-3.7 2-3.6 2-3.4 2.1-3.4 2-3.3 2.1-3.2 2-3.1 2.1-2.9 2.1-2.9 2-2.9 2.1-2.7 2-2.6 2.1-2.5 2.1-2.4 2-2.4 2.1-2.2 2.1-2.2 2-2.1 2.1-2 2.1-1.8 2.1-1.8 2-1.8 2.1-1.6 2.1-1.5 2-1.5 2.1-1.3 2.1-1.3 2.1-1.2 2-1.1 2.1-1 2.1-0.9 2.1-0.9 2-0.7 2.1-0.7 2.1-0.6 2-0.5 2.1-0.4 2.1-0.4 2-0.3 2.1-0.1 2-0.1 2.1-0.1 2.1 0.1 2 0.1 2.1 0.3 2 0.3 2.1 0.3 2 0.5 2 0.5 2.1 0.7 2 0.6 2 0.8 2.1 0.8 2 1 2 1 2 1 2.1 1.2 2 1.2 2 1.3 2 1.4M162.6 1033.1l2-4.5 2-4.5 2-4.3 2-4.2 2-4.1 2.1-4.1 2-3.9 2-3.8 2-3.8 2.1-3.6 2-3.5 2.1-3.5 2-3.3 2.1-3.3 2-3.1 2.1-3.1 2-2.9 2.1-2.9 2-2.8 2.1-2.7 2.1-2.6 2-2.5 2.1-2.4 2.1-2.3 2-2.2 2.1-2.1 2.1-2.1 2-1.9 2.1-1.9 2.1-1.8 2.1-1.7 2-1.6 2.1-1.5 2.1-1.4 2.1-1.3 2-1.3 2.1-1.2 2.1-1 2-1 2.1-0.9 2.1-0.8 2.1-0.8 2-0.6 2.1-0.6 2.1-0.5 2-0.4 2.1-0.3 2.1-0.3 2-0.1 2.1-0.1 2 0 2.1 0.1 2.1 0.1 2 0.3 2.1 0.3 2 0.4 2 0.5 2.1 0.5 2 0.7 2.1 0.7 2 0.8 2 0.8 2.1 1 2 1 2 1.1 2 1.1 2 1.3 2 1.3M160.5 1030l2-4.5 2-4.4 2-4.2 2-4.2 2.1-4.1 2-4 2-3.9 2-3.8 2.1-3.7 2-3.6 2.1-3.5 2-3.4 2-3.4 2.1-3.2 2-3.1 2.1-3 2.1-3 2-2.8 2.1-2.8 2-2.6 2.1-2.6 2.1-2.5 2-2.3 2.1-2.3 2.1-2.2 2-2.1 2.1-2.1 2.1-1.9 2-1.8 2.1-1.8 2.1-1.6 2.1-1.6 2-1.5 2.1-1.4 2.1-1.3 2.1-1.2 2-1.2 2.1-1 2.1-1 2.1-0.9 2-0.8 2.1-0.7 2.1-0.6 2-0.6 2.1-0.4 2.1-0.4 2-0.3 2.1-0.2 2.1-0.2 2 0 2.1 0 2 0.1 2.1 0.2 2 0.3 2.1 0.3 2 0.4 2.1 0.5 2 0.6 2.1 0.7 2 0.7 2 0.8 2.1 0.9 2 0.9 2 1.1 2 1.1 2.1 1.2 2 1.2 2 1.3M158.4 1027l2-4.4 2-4.4 2.1-4.2 2-4.2 2-4.1 2-3.9 2-3.9 2.1-3.8 2-3.6 2-3.6 2.1-3.5 2-3.4 2.1-3.3 2-3.2 2.1-3.1 2-3 2.1-2.9 2-2.8 2.1-2.7 2.1-2.6 2-2.6 2.1-2.4 2-2.4 2.1-2.2 2.1-2.2 2.1-2.1 2-2 2.1-1.9 2.1-1.8 2-1.7 2.1-1.6 2.1-1.6 2.1-1.5 2-1.3 2.1-1.3 2.1-1.2 2.1-1.1 2-1.1 2.1-0.9 2.1-0.9 2.1-0.7 2-0.7 2.1-0.6 2.1-0.6 2-0.4 2.1-0.4 2.1-0.2 2-0.2 2.1-0.2 2.1 0 2 0.1 2.1 0.1 2 0.2 2.1 0.3 2 0.3 2.1 0.5 2 0.5 2.1 0.6 2 0.7 2.1 0.7 2 0.8 2 1 2 0.9 2.1 1.1 2 1.1 2 1.2 2 1.3M156.4 1024.1l2-4.4 2-4.4 2-4.2 2-4.1 2-4 2-4 2.1-3.8 2-3.8 2-3.6 2.1-3.5 2-3.5 2.1-3.3 2-3.3 2-3.2 2.1-3 2-3 2.1-2.9 2.1-2.8 2-2.7 2.1-2.6 2-2.5 2.1-2.4 2.1-2.3 2-2.3 2.1-2.1 2.1-2.1 2-1.9 2.1-1.9 2.1-1.8 2.1-1.7 2-1.6 2.1-1.5 2.1-1.5 2.1-1.3 2-1.3 2.1-1.2 2.1-1 2.1-1.1 2-0.9 2.1-0.8 2.1-0.8 2.1-0.6 2-0.6 2.1-0.5 2.1-0.4 2-0.4 2.1-0.2 2.1-0.2 2-0.1 2.1 0 2.1 0.1 2 0.1 2.1 0.2 2 0.3 2.1 0.4 2 0.5 2.1 0.5 2 0.6 2.1 0.7 2 0.8 2 0.9 2.1 0.9 2 1 2 1.1 2 1.1 2.1 1.2M154.3 1021.2l2-4.4 2-4.3 2-4.2 2-4.1 2-4 2.1-3.9 2-3.8 2-3.7 2.1-3.6 2-3.5 2-3.4 2.1-3.4 2-3.2 2.1-3.1 2-3.1 2.1-2.9 2-2.9 2.1-2.7 2-2.7 2.1-2.6 2.1-2.5 2-2.4 2.1-2.3 2.1-2.2 2-2.1 2.1-2 2.1-1.9 2-1.9 2.1-1.8 2.1-1.6 2.1-1.6 2-1.5 2.1-1.4 2.1-1.4 2.1-1.2 2-1.1 2.1-1.1 2.1-1 2.1-0.9 2-0.8 2.1-0.7 2.1-0.7 2.1-0.5 2-0.5 2.1-0.4 2.1-0.3 2-0.3 2.1-0.1 2.1-0.1 2 0 2.1 0.1 2 0.2 2.1 0.2 2.1 0.4 2 0.4 2.1 0.4 2 0.6 2.1 0.6 2 0.8 2 0.7 2.1 0.9 2 1 2 1 2.1 1.1 2 1.1 2 1.3M152.2 1018.4l2-4.4 2-4.2 2-4.2 2.1-4.1 2-3.9 2-3.9 2-3.8 2-3.7 2.1-3.6 2-3.4 2.1-3.4 2-3.3 2-3.2 2.1-3.1 2-3.1 2.1-2.9 2-2.8 2.1-2.7 2.1-2.7 2-2.5 2.1-2.5 2-2.3 2.1-2.3 2.1-2.2 2.1-2.1 2-2 2.1-1.9 2.1-1.8 2-1.8 2.1-1.6 2.1-1.6 2.1-1.5 2-1.3 2.1-1.3 2.1-1.3 2.1-1.1 2-1 2.1-1 2.1-0.9 2.1-0.7 2-0.7 2.1-0.7 2.1-0.5 2.1-0.5 2-0.3 2.1-0.3 2.1-0.2 2-0.2 2.1 0 2.1 0 2 0.1 2.1 0.2 2 0.3 2.1 0.3 2 0.4 2.1 0.5 2 0.6 2.1 0.7 2 0.7 2.1 0.8 2 0.9 2 1 2.1 1 2 1.1 2 1.2M150.1 1015.6l2-4.3 2.1-4.2 2-4.2 2-4 2-4 2-3.8 2-3.8 2.1-3.6 2-3.6 2-3.4 2.1-3.4 2-3.2 2.1-3.2 2-3.1 2.1-3 2-2.9 2.1-2.8 2-2.7 2.1-2.6 2-2.5 2.1-2.4 2.1-2.4 2-2.2 2.1-2.2 2.1-2.1 2-1.9 2.1-1.9 2.1-1.8 2.1-1.7 2-1.7 2.1-1.5 2.1-1.4 2.1-1.4 2-1.3 2.1-1.2 2.1-1.1 2.1-1 2-0.9 2.1-0.9 2.1-0.7 2.1-0.7 2-0.6 2.1-0.5 2.1-0.5 2.1-0.3 2-0.3 2.1-0.2 2.1-0.1 2 0 2.1 0 2 0.2 2.1 0.2 2.1 0.3 2 0.3 2.1 0.5 2 0.5 2.1 0.6 2 0.7 2.1 0.7 2 0.9 2.1 0.9 2 0.9 2 1.1 2 1.1M148.1 1012.9l2-4.3 2-4.2 2-4.1 2-4 2-3.9 2-3.8 2.1-3.8 2-3.6 2-3.5 2.1-3.4 2-3.4 2-3.2 2.1-3.2 2-3 2.1-3 2-2.8 2.1-2.8 2-2.7 2.1-2.6 2.1-2.5 2-2.4 2.1-2.3 2.1-2.2 2-2.1 2.1-2.1 2.1-1.9 2-1.9 2.1-1.7 2.1-1.7 2.1-1.6 2-1.5 2.1-1.5 2.1-1.3 2.1-1.3 2-1.1 2.1-1.1 2.1-1 2.1-0.9 2-0.8 2.1-0.8 2.1-0.6 2.1-0.6 2-0.5 2.1-0.4 2.1-0.4 2-0.2 2.1-0.2 2.1-0.1 2.1 0 2 0.1 2.1 0.2 2 0.2 2.1 0.3 2.1 0.4 2 0.5 2.1 0.5 2 0.6 2.1 0.7 2 0.8 2 0.8 2.1 1 2 1 2.1 1 2 1.2M146 1010.2l2-4.2 2-4.2 2-4.1 2-4 2-3.8 2.1-3.8 2-3.7 2-3.6 2-3.5 2.1-3.4 2-3.3 2.1-3.2 2-3.1 2-3.1 2.1-2.9 2.1-2.8 2-2.8 2.1-2.6 2-2.6 2.1-2.4 2-2.4 2.1-2.3 2.1-2.2 2-2.1 2.1-2 2.1-1.9 2.1-1.9 2-1.7 2.1-1.7 2.1-1.6 2-1.5 2.1-1.4 2.1-1.3 2.1-1.2 2.1-1.1 2-1.1 2.1-1 2.1-0.9 2.1-0.8 2-0.7 2.1-0.6 2.1-0.6 2.1-0.4 2-0.4 2.1-0.3 2.1-0.3 2-0.1 2.1-0.1 2.1 0 2 0.1 2.1 0.2 2.1 0.3 2 0.3 2.1 0.4 2 0.5 2.1 0.5 2 0.7 2.1 0.7 2 0.8 2.1 0.9 2 0.9 2.1 1 2 1.1M143.9 1007.6l2-4.2 2-4.1 2-4.1 2-3.9 2.1-3.9 2-3.7 2-3.7 2-3.6 2.1-3.4 2-3.4 2-3.3 2.1-3.2 2-3.1 2.1-3 2-2.9 2.1-2.8 2-2.7 2.1-2.6 2-2.5 2.1-2.5 2.1-2.3 2-2.3 2.1-2.2 2.1-2 2-2 2.1-1.9 2.1-1.8 2-1.8 2.1-1.6 2.1-1.5 2.1-1.5 2-1.4 2.1-1.3 2.1-1.2 2.1-1.1 2-1 2.1-1 2.1-0.8 2.1-0.8 2.1-0.7 2-0.6 2.1-0.6 2.1-0.4 2.1-0.4 2-0.3 2.1-0.2 2.1-0.1 2-0.1 2.1 0.1 2.1 0.1 2 0.2 2.1 0.3 2.1 0.3 2 0.4 2.1 0.5 2 0.6 2.1 0.7 2 0.7 2.1 0.8 2 0.9 2.1 1 2 1M141.8 1005.1l2-4.2 2-4.1 2.1-4.1 2-3.9 2-3.8 2-3.7 2-3.7 2.1-3.5 2-3.4 2-3.4 2.1-3.2 2-3.2 2-3 2.1-3 2-2.9 2.1-2.8 2-2.6 2.1-2.6 2.1-2.5 2-2.5 2.1-2.3 2-2.2 2.1-2.2 2.1-2 2-2 2.1-1.9 2.1-1.7 2.1-1.7 2-1.7 2.1-1.5 2.1-1.4 2.1-1.4 2-1.2 2.1-1.2 2.1-1.1 2.1-1 2-1 2.1-0.8 2.1-0.8 2.1-0.6 2.1-0.6 2-0.5 2.1-0.5 2.1-0.3 2-0.3 2.1-0.2 2.1-0.1 2.1 0 2 0.1 2.1 0.1 2.1 0.2 2 0.3 2.1 0.4 2 0.4 2.1 0.6 2.1 0.6 2 0.7 2.1 0.7 2 0.8 2.1 0.9 2 1M139.8 1002.6l2-4.2 2-4.1 2-4 2-3.9 2-3.7 2-3.7 2-3.6 2.1-3.5 2-3.5 2-3.3 2.1-3.2 2-3.1 2.1-3.1 2-2.9 2.1-2.8 2-2.8 2.1-2.7 2-2.5 2.1-2.5 2-2.4 2.1-2.3 2.1-2.2 2-2.1 2.1-2 2.1-2 2-1.8 2.1-1.8 2.1-1.7 2-1.6 2.1-1.5 2.1-1.4 2.1-1.3 2.1-1.2 2-1.2 2.1-1.1 2.1-1 2.1-0.9 2-0.8 2.1-0.7 2.1-0.7 2.1-0.5 2-0.5 2.1-0.4 2.1-0.4 2.1-0.2 2-0.2 2.1-0.1 2.1 0 2.1 0.1 2 0.2 2.1 0.2 2.1 0.3 2 0.4 2.1 0.5 2 0.5 2.1 0.7 2 0.7 2.1 0.7 2 0.9 2.1 0.9 2 1M137.7 1000.1l2-4.1 2-4.1 2-3.9 2-3.9 2-3.7 2-3.7 2.1-3.6 2-3.5 2-3.3 2.1-3.3 2-3.2 2-3.1 2.1-3 2-2.9 2.1-2.9 2-2.7 2.1-2.6 2-2.6 2.1-2.4 2-2.4 2.1-2.3 2.1-2.1 2-2.1 2.1-2 2.1-1.9 2-1.9 2.1-1.7 2.1-1.7 2.1-1.5 2-1.5 2.1-1.4 2.1-1.3 2.1-1.2 2-1.1 2.1-1.1 2.1-1 2.1-0.8 2.1-0.8 2-0.7 2.1-0.7 2.1-0.5 2.1-0.5 2-0.4 2.1-0.3 2.1-0.2 2.1-0.1 2-0.1 2.1 0 2.1 0.1 2 0.2 2.1 0.2 2.1 0.4 2 0.4 2.1 0.5 2.1 0.5 2 0.7 2.1 0.7 2 0.8 2.1 0.9 2 0.9M135.6 997.8l2-4.2 2-4 2-3.9 2-3.9 2-3.7 2.1-3.6 2-3.6 2-3.4 2-3.4 2.1-3.2 2-3.2 2-3.1 2.1-2.9 2-2.9 2.1-2.8 2-2.7 2.1-2.6 2-2.5 2.1-2.5 2.1-2.3 2-2.3 2.1-2.1 2.1-2.1 2-2 2.1-1.8 2.1-1.8 2-1.8 2.1-1.6 2.1-1.5 2.1-1.5 2-1.3 2.1-1.3 2.1-1.2 2.1-1.1 2-1.1 2.1-0.9 2.1-0.9 2.1-0.7 2.1-0.7 2-0.6 2.1-0.6 2.1-0.4 2.1-0.4 2-0.2 2.1-0.2 2.1-0.2 2.1 0 2 0 2.1 0.1 2.1 0.2 2 0.3 2.1 0.4 2.1 0.4 2 0.5 2.1 0.6 2 0.7 2.1 0.7 2.1 0.8 2 0.9M133.5 995.4l2-4.1 2-4 2-3.9 2-3.8 2.1-3.7 2-3.6 2-3.5 2-3.4 2.1-3.3 2-3.3 2-3.1 2.1-3.1 2-2.9 2-2.9 2.1-2.7 2-2.7 2.1-2.6 2.1-2.5 2-2.4 2.1-2.3 2-2.2 2.1-2.1 2.1-2.1 2-1.9 2.1-1.9 2.1-1.8 2-1.7 2.1-1.6 2.1-1.5 2.1-1.4 2-1.4 2.1-1.2 2.1-1.2 2.1-1.1 2.1-1 2-0.9 2.1-0.8 2.1-0.8 2.1-0.7 2-0.5 2.1-0.5 2.1-0.5 2.1-0.3 2.1-0.3 2-0.1 2.1-0.1 2.1-0.1 2.1 0.1 2 0.1 2.1 0.2 2.1 0.3 2 0.4 2.1 0.5 2.1 0.5 2 0.6 2.1 0.7 2 0.7 2.1 0.9 2 0.9M131.4 993.1l2-4 2-4 2-3.9 2.1-3.7 2-3.7 2-3.6 2-3.5 2-3.4 2.1-3.3 2-3.2 2-3.1 2.1-3 2-2.9 2.1-2.9 2-2.7 2.1-2.6 2-2.6 2.1-2.5 2-2.3 2.1-2.3 2-2.2 2.1-2.1 2.1-2 2-2 2.1-1.8 2.1-1.8 2.1-1.6 2-1.6 2.1-1.5 2.1-1.4 2.1-1.3 2-1.3 2.1-1.1 2.1-1.1 2.1-0.9 2-0.9 2.1-0.9 2.1-0.7 2.1-0.6 2.1-0.6 2-0.5 2.1-0.4 2.1-0.3 2.1-0.2 2.1-0.2 2-0.1 2.1 0 2.1 0.1 2 0.2 2.1 0.2 2.1 0.3 2.1 0.4 2 0.5 2.1 0.5 2 0.6 2.1 0.7 2.1 0.8 2 0.9M129.4 990.9l2-4 2-4 2-3.8 2-3.8 2-3.6 2-3.6 2-3.4 2.1-3.4 2-3.2 2-3.2 2-3.1 2.1-3 2-2.9 2.1-2.8 2-2.7 2.1-2.6 2-2.6 2.1-2.4 2-2.3 2.1-2.3 2.1-2.2 2-2.1 2.1-1.9 2.1-2 2-1.8 2.1-1.7 2.1-1.6 2-1.6 2.1-1.5 2.1-1.3 2.1-1.3 2-1.2 2.1-1.2 2.1-1 2.1-1 2.1-0.8 2-0.8 2.1-0.7 2.1-0.7 2.1-0.5 2.1-0.5 2-0.4 2.1-0.3 2.1-0.2 2.1-0.1 2-0.1 2.1 0.1 2.1 0.1 2.1 0.1 2 0.3 2.1 0.3 2.1 0.4 2 0.5 2.1 0.6 2.1 0.6 2 0.8 2.1 0.8M127.3 988.7l2-4 2-3.9 2-3.8 2-3.7 2-3.6 2-3.6 2-3.4 2.1-3.3 2-3.3 2-3.1 2.1-3.1 2-2.9 2-2.9 2.1-2.8 2-2.7 2.1-2.6 2-2.5 2.1-2.4 2-2.3 2.1-2.2 2.1-2.2 2-2 2.1-2 2.1-1.9 2-1.8 2.1-1.7 2.1-1.6 2.1-1.5 2-1.5 2.1-1.3 2.1-1.3 2.1-1.2 2-1.1 2.1-1 2.1-0.9 2.1-0.9 2.1-0.8 2-0.7 2.1-0.6 2.1-0.5 2.1-0.4 2.1-0.4 2-0.3 2.1-0.1 2.1-0.2 2.1 0 2 0 2.1 0.2 2.1 0.2 2.1 0.2 2 0.4 2.1 0.4 2.1 0.5 2 0.6 2.1 0.7 2.1 0.7 2 0.8M125.2 986.6l2-4 2-3.9 2-3.7 2-3.7 2-3.6 2-3.5 2.1-3.4 2-3.3 2-3.2 2-3.2 2.1-3 2-2.9 2.1-2.9 2-2.7 2-2.7 2.1-2.5 2-2.5 2.1-2.4 2.1-2.3 2-2.2 2.1-2.1 2-2.1 2.1-1.9 2.1-1.9 2.1-1.7 2-1.7 2.1-1.6 2.1-1.5 2-1.4 2.1-1.4 2.1-1.2 2.1-1.2 2.1-1.1 2-1 2.1-0.9 2.1-0.8 2.1-0.7 2.1-0.7 2-0.6 2.1-0.5 2.1-0.4 2.1-0.3 2.1-0.3 2-0.2 2.1-0.1 2.1 0 2.1 0.1 2 0.1 2.1 0.2 2.1 0.3 2.1 0.4 2 0.4 2.1 0.6 2.1 0.6 2 0.7 2.1 0.7M123.1 984.5l2-3.9 2-3.9 2-3.7 2-3.7 2-3.6 2.1-3.4 2-3.4 2-3.3 2-3.2 2.1-3.1 2-3 2-2.9 2.1-2.8 2-2.7 2.1-2.6 2-2.6 2.1-2.4 2-2.4 2.1-2.3 2-2.2 2.1-2 2.1-2.1 2-1.9 2.1-1.8 2.1-1.7 2-1.7 2.1-1.6 2.1-1.5 2.1-1.4 2-1.3 2.1-1.2 2.1-1.1 2.1-1.1 2-1 2.1-0.9 2.1-0.8 2.1-0.7 2.1-0.6 2-0.6 2.1-0.5 2.1-0.4 2.1-0.3 2.1-0.2 2-0.2 2.1 0 2.1 0 2.1 0 2.1 0.2 2 0.2 2.1 0.4 2.1 0.3 2 0.5 2.1 0.6 2.1 0.6 2 0.7M121 982.5l2-3.9 2-3.8 2-3.8 2-3.6 2.1-3.5 2-3.5 2-3.3 2-3.3 2-3.1 2.1-3.1 2-3 2-2.9 2.1-2.7 2-2.7 2.1-2.7 2-2.5 2.1-2.4 2-2.3 2.1-2.3 2-2.1 2.1-2.1 2.1-2 2-1.9 2.1-1.8 2.1-1.7 2-1.6 2.1-1.6 2.1-1.4 2.1-1.4 2-1.3 2.1-1.2 2.1-1.1 2.1-1.1 2.1-0.9 2-0.9 2.1-0.8 2.1-0.7 2.1-0.6 2.1-0.5 2-0.5 2.1-0.4 2.1-0.3 2.1-0.2 2.1-0.1 2-0.1 2.1 0.1 2.1 0.1 2.1 0.1 2 0.3 2.1 0.3 2.1 0.4 2.1 0.5 2 0.6 2.1 0.6 2.1 0.8M119 980.5l2-3.9 2-3.8 2-3.7 2-3.6 2-3.5 2-3.4 2-3.3 2-3.2 2.1-3.2 2-3 2-2.9 2.1-2.9 2-2.8 2-2.6 2.1-2.6 2-2.5 2.1-2.4 2-2.3 2.1-2.2 2.1-2.2 2-2 2.1-2 2-1.8 2.1-1.8 2.1-1.7 2.1-1.6 2-1.6 2.1-1.4 2.1-1.3 2.1-1.3 2-1.2 2.1-1.1 2.1-1 2.1-0.9 2.1-0.9 2-0.7 2.1-0.7 2.1-0.6 2.1-0.5 2.1-0.5 2-0.3 2.1-0.3 2.1-0.2 2.1-0.1 2.1 0 2 0 2.1 0.1 2.1 0.2 2.1 0.3 2 0.4 2.1 0.4 2.1 0.5 2.1 0.6 2 0.6M116.9 978.6l2-3.9 2-3.7 2-3.7 2-3.6 2-3.4 2-3.4 2-3.3 2-3.2 2.1-3.1 2-3 2-3 2.1-2.8 2-2.7 2-2.7 2.1-2.5 2-2.5 2.1-2.4 2.1-2.3 2-2.2 2.1-2.1 2-2 2.1-1.9 2.1-1.9 2-1.7 2.1-1.7 2.1-1.6 2-1.5 2.1-1.4 2.1-1.3 2.1-1.3 2-1.1 2.1-1.1 2.1-1 2.1-0.9 2.1-0.8 2-0.8 2.1-0.6 2.1-0.6 2.1-0.5 2.1-0.4 2.1-0.3 2-0.3 2.1-0.2 2.1-0.1 2.1 0 2.1 0.1 2 0.1 2.1 0.3 2.1 0.2 2.1 0.4 2 0.5 2.1 0.5 2.1 0.6M114.8 976.7l2-3.8 2-3.7 2-3.7 2-3.5 2-3.5 2-3.3 2-3.3 2.1-3.2 2-3 2-3 2-2.9 2.1-2.8 2-2.7 2.1-2.7 2-2.5 2.1-2.4 2-2.4 2.1-2.2 2-2.2 2.1-2.1 2-2 2.1-1.9 2.1-1.8 2-1.8 2.1-1.6 2.1-1.6 2.1-1.4 2-1.4 2.1-1.3 2.1-1.3 2.1-1.1 2-1 2.1-1 2.1-0.9 2.1-0.8 2.1-0.7 2-0.7 2.1-0.5 2.1-0.5 2.1-0.4 2.1-0.3 2.1-0.2 2-0.2 2.1-0.1 2.1 0 2.1 0.1 2.1 0.2 2 0.2 2.1 0.3 2.1 0.4 2.1 0.5 2 0.6 2.1 0.6M112.7 974.9l2-3.8 2-3.7 2-3.6 2-3.5 2-3.4 2-3.4 2-3.2 2.1-3.2 2-3 2-3 2.1-2.8 2-2.8 2-2.7 2.1-2.6 2-2.5 2.1-2.4 2-2.3 2.1-2.3 2-2.1 2.1-2.1 2.1-2 2-1.8 2.1-1.8 2-1.8 2.1-1.6 2.1-1.5 2.1-1.5 2-1.3 2.1-1.3 2.1-1.2 2.1-1.1 2-1.1 2.1-0.9 2.1-0.9 2.1-0.7 2.1-0.7 2.1-0.7 2-0.5 2.1-0.5 2.1-0.3 2.1-0.3 2.1-0.2 2.1-0.2 2 0 2.1 0 2.1 0.1 2.1 0.2 2.1 0.2 2 0.4 2.1 0.4 2.1 0.5 2.1 0.5M110.6 973.1l2-3.7 2-3.7 2-3.6 2-3.5 2-3.4 2-3.3 2.1-3.2 2-3.1 2-3 2-3 2.1-2.8 2-2.8 2-2.6 2.1-2.6 2-2.5 2.1-2.4 2-2.3 2.1-2.2 2-2.1 2.1-2 2.1-2 2-1.8 2.1-1.8 2.1-1.7 2-1.6 2.1-1.5 2.1-1.4 2.1-1.4 2-1.2 2.1-1.2 2.1-1.1 2.1-1 2-0.9 2.1-0.9 2.1-0.7 2.1-0.7 2.1-0.6 2.1-0.5 2-0.5 2.1-0.3 2.1-0.3 2.1-0.2 2.1-0.1 2 0 2.1 0 2.1 0.1 2.1 0.2 2.1 0.3 2 0.4 2.1 0.4 2.1 0.5M108.6 971.4l1.9-3.7 2-3.7 2-3.5 2-3.5 2-3.4 2.1-3.2 2-3.2 2-3.1 2-3 2.1-2.9 2-2.8 2-2.8 2.1-2.6 2-2.5 2-2.5 2.1-2.4 2-2.2 2.1-2.2 2.1-2.1 2-2 2.1-1.9 2-1.9 2.1-1.7 2.1-1.7 2-1.6 2.1-1.5 2.1-1.4 2.1-1.3 2-1.2 2.1-1.2 2.1-1.1 2.1-0.9 2.1-0.9 2-0.9 2.1-0.7 2.1-0.7 2.1-0.5 2.1-0.5 2.1-0.4 2-0.4 2.1-0.2 2.1-0.2 2.1-0.1 2.1 0 2 0.1 2.1 0.1 2.1 0.2 2.1 0.3 2.1 0.4 2 0.4 2.1 0.6M106.5 969.8l2-3.8 2-3.6 2-3.5 2-3.4 2-3.4 2-3.2 2-3.2 2-3.1 2-2.9 2.1-2.9 2-2.8 2-2.7 2.1-2.6 2-2.5 2.1-2.5 2-2.3 2.1-2.2 2-2.2 2.1-2.1 2-2 2.1-1.9 2.1-1.8 2-1.7 2.1-1.7 2.1-1.5 2-1.5 2.1-1.4 2.1-1.3 2.1-1.2 2-1.1 2.1-1.1 2.1-0.9 2.1-0.9 2-0.8 2.1-0.7 2.1-0.6 2.1-0.6 2.1-0.5 2.1-0.4 2-0.3 2.1-0.2 2.1-0.2 2.1 0 2.1 0 2.1 0.1 2 0.1 2.1 0.2 2.1 0.4 2.1 0.4 2.1 0.4M104.4 968.1l2-3.6 2-3.6 2-3.5 2-3.4 2-3.4 2-3.2 2-3.1 2-3.1 2.1-2.9 2-2.9 2-2.7 2-2.7 2.1-2.6 2-2.5 2.1-2.4 2-2.3 2.1-2.2 2-2.2 2.1-2 2-2 2.1-1.8 2.1-1.8 2-1.7 2.1-1.7 2.1-1.5 2-1.4 2.1-1.4 2.1-1.3 2.1-1.2 2-1.1 2.1-1 2.1-0.9 2.1-0.9 2.1-0.8 2-0.7 2.1-0.6 2.1-0.5 2.1-0.5 2.1-0.3 2.1-0.3 2-0.3 2.1-0.1 2.1 0 2.1 0 2.1 0.1 2.1 0.2 2 0.2 2.1 0.4 2.1 0.4M102.3 966.6l2-3.7 2-3.5 2-3.5 2-3.4 2-3.3 2-3.2 2-3.1 2-3 2.1-2.9 2-2.9 2-2.7 2.1-2.6 2-2.6 2-2.5 2.1-2.3 2-2.3 2.1-2.2 2-2.2 2.1-2 2.1-1.9 2-1.9 2.1-1.7 2-1.7 2.1-1.6 2.1-1.5 2.1-1.4 2-1.4 2.1-1.2 2.1-1.2 2.1-1.1 2-1 2.1-0.9 2.1-0.9 2.1-0.7 2.1-0.7 2-0.6 2.1-0.5 2.1-0.4 2.1-0.4 2.1-0.3 2.1-0.1 2.1-0.2 2 0 2.1 0 2.1 0.2 2.1 0.2 2.1 0.2 2 0.4 2.1 0.4M100.2 965.1l2-3.7 2-3.5 2-3.5 2-3.3 2-3.3 2-3.1 2-3.1 2.1-3 2-2.9 2-2.8 2-2.7 2.1-2.6 2-2.6 2.1-2.4 2-2.4 2-2.2 2.1-2.2 2-2.1 2.1-2 2.1-1.9 2-1.9 2.1-1.7 2.1-1.7 2-1.5 2.1-1.5 2.1-1.4 2-1.3 2.1-1.3 2.1-1.1 2.1-1.1 2-1 2.1-0.9 2.1-0.8 2.1-0.7 2.1-0.7 2.1-0.5 2-0.5 2.1-0.4 2.1-0.4 2.1-0.2 2.1-0.2 2.1-0.1 2.1 0 2 0.1 2.1 0.1 2.1 0.2 2.1 0.3 2.1 0.4M98.2 963.6l1.9-3.6 2-3.5 2-3.4 2-3.4 2-3.2 2-3.2 2.1-3 2-3 2-2.8 2-2.8 2.1-2.7 2-2.6 2-2.5 2.1-2.4 2-2.4 2.1-2.2 2-2.1 2.1-2.1 2-2 2.1-1.9 2-1.8 2.1-1.7 2.1-1.6 2-1.6 2.1-1.5 2.1-1.3 2.1-1.3 2-1.2 2.1-1.2 2.1-1 2.1-1 2-0.8 2.1-0.8 2.1-0.8 2.1-0.6 2.1-0.5 2.1-0.5 2-0.4 2.1-0.3 2.1-0.3 2.1-0.1 2.1-0.1 2.1 0 2.1 0.1 2 0.2 2.1 0.2 2.1 0.3 2.1 0.4M96.1 962.2l2-3.6 2-3.5 2-3.4 2-3.3 2-3.2 2-3.1 2-3 2-3 2-2.8 2-2.8 2.1-2.6 2-2.6 2-2.5 2.1-2.4 2-2.3 2.1-2.2 2-2.1 2.1-2.1 2-1.9 2.1-1.9 2.1-1.8 2-1.7 2.1-1.6 2.1-1.5 2-1.5 2.1-1.3 2.1-1.3 2-1.2 2.1-1.1 2.1-1 2.1-0.9 2.1-0.9 2-0.8 2.1-0.7 2.1-0.6 2.1-0.5 2.1-0.5 2.1-0.3 2-0.3 2.1-0.2 2.1-0.2 2.1 0 2.1 0 2.1 0.1 2.1 0.2 2 0.2 2.1 0.4M94 960.8l2-3.5 2-3.5 2-3.4 2-3.2 2-3.2 2-3.1 2-3 2-2.9 2-2.8 2.1-2.8 2-2.6 2-2.6 2.1-2.4 2-2.4 2-2.3 2.1-2.2 2-2.1 2.1-2 2.1-1.9 2-1.9 2.1-1.7 2-1.7 2.1-1.6 2.1-1.5 2-1.4 2.1-1.3 2.1-1.3 2.1-1.2 2-1 2.1-1 2.1-1 2.1-0.8 2.1-0.8 2-0.6 2.1-0.6 2.1-0.5 2.1-0.5 2.1-0.3 2.1-0.3 2.1-0.2 2-0.1 2.1 0 2.1 0 2.1 0.1 2.1 0.2 2.1 0.3M91.9 959.5l2-3.5 2-3.5 2-3.3 2-3.3 2-3.1 2-3.1 2-3 2-2.8 2.1-2.8 2-2.7 2-2.6 2-2.6 2.1-2.4 2-2.3 2.1-2.3 2-2.2 2.1-2.1 2-2 2.1-1.9 2-1.8 2.1-1.7 2-1.7 2.1-1.5 2.1-1.5 2.1-1.4 2-1.3 2.1-1.3 2.1-1.1 2.1-1.1 2-0.9 2.1-0.9 2.1-0.9 2.1-0.7 2.1-0.6 2-0.6 2.1-0.5 2.1-0.4 2.1-0.3 2.1-0.3 2.1-0.2 2.1-0.1 2 0 2.1 0.1 2.1 0.1 2.1 0.2 2.1 0.3M89.9 958.2l1.9-3.5 2-3.4 2-3.3 2-3.2 2-3.2 2-3 2-2.9 2.1-2.9 2-2.8 2-2.6 2-2.6 2.1-2.5 2-2.4 2-2.4 2.1-2.2 2-2.1 2.1-2.1 2-2 2.1-1.9 2-1.8 2.1-1.7 2.1-1.6 2-1.5 2.1-1.5 2.1-1.4 2-1.3 2.1-1.2 2.1-1.1 2.1-1 2-1 2.1-0.9 2.1-0.8 2.1-0.7 2.1-0.6 2.1-0.6 2-0.4 2.1-0.4 2.1-0.3 2.1-0.3 2.1-0.1 2.1-0.1 2.1 0 2 0.1 2.1 0.1 2.1 0.3M87.8 957l2-3.5 2-3.4 1.9-3.3 2-3.1 2-3.1 2.1-3.1 2-2.9 2-2.8 2-2.8 2-2.6 2.1-2.6 2-2.4 2-2.4 2.1-2.3 2-2.2 2-2.2 2.1-2 2-1.9 2.1-1.9 2.1-1.8 2-1.7 2.1-1.6 2.1-1.5 2-1.4 2.1-1.4 2.1-1.3 2-1.1 2.1-1.1 2.1-1.1 2.1-0.9 2-0.9 2.1-0.7 2.1-0.7 2.1-0.6 2.1-0.6 2.1-0.4 2-0.4 2.1-0.3 2.1-0.2 2.1-0.1 2.1-0.1 2.1 0 2.1 0.1 2.1 0.2M85.7 955.8l2-3.4 2-3.4 2-3.2 2-3.2 2-3.1 2-3 2-2.9 2-2.8 2-2.7 2-2.6 2.1-2.6 2-2.4 2-2.4 2.1-2.3 2-2.1 2.1-2.1 2-2.1 2.1-1.9 2-1.8 2.1-1.8 2-1.6 2.1-1.6 2.1-1.5 2-1.4 2.1-1.4 2.1-1.2 2.1-1.2 2-1.1 2.1-1 2.1-0.9 2.1-0.8 2-0.8 2.1-0.6 2.1-0.6 2.1-0.5 2.1-0.5 2.1-0.3 2.1-0.3 2-0.2 2.1-0.1 2.1 0 2.1 0 2.1 0.1 2.1 0.2M83.6 954.7l2-3.4 2-3.4 2-3.2 2-3.1 2-3.1 2-3 2-2.8 2-2.8 2-2.7 2.1-2.6 2-2.5 2-2.4 2.1-2.4 2-2.2 2-2.2 2.1-2.1 2-2 2.1-1.9 2-1.8 2.1-1.7 2.1-1.7 2-1.5 2.1-1.5 2.1-1.4 2-1.3 2.1-1.2 2.1-1.2 2-1 2.1-1 2.1-0.9 2.1-0.8 2.1-0.7 2.1-0.7 2-0.6 2.1-0.5 2.1-0.4 2.1-0.3 2.1-0.3 2.1-0.1 2.1-0.1 2 0 2.1 0 2.1 0.2M81.6 953.6l1.9-3.4 2-3.3 2-3.2 2-3.1 2-3 2-3 2-2.8 2.1-2.8 2-2.7 2-2.5 2-2.5 2.1-2.4 2-2.3 2-2.3 2.1-2.1 2-2.1 2.1-1.9 2-1.9 2.1-1.8 2-1.7 2.1-1.6 2-1.6 2.1-1.4 2.1-1.4 2-1.3 2.1-1.2 2.1-1.1 2.1-1 2-1 2.1-0.9 2.1-0.8 2.1-0.7 2.1-0.6 2.1-0.6 2-0.4 2.1-0.4 2.1-0.3 2.1-0.3 2.1-0.1 2.1-0.1 2.1 0 2.1 0.1M79.5 952.6l2-3.4 2-3.3 2-3.2 1.9-3 2.1-3.1 2-2.9 2-2.8 2-2.7 2-2.7 2-2.5 2-2.5 2.1-2.4 2-2.2 2-2.2 2.1-2.2 2-2 2.1-1.9 2-1.9 2.1-1.8 2-1.6 2.1-1.6 2.1-1.6 2-1.4 2.1-1.3 2.1-1.3 2-1.2 2.1-1.1 2.1-1 2.1-0.9 2-0.9 2.1-0.8 2.1-0.7 2.1-0.6 2.1-0.5 2.1-0.5 2.1-0.3 2-0.3 2.1-0.2 2.1-0.2 2.1 0 2.1 0 2.1 0.1M77.4 951.6l2-3.4 2-3.2 2-3.2 2-3 2-3 2-2.9 2-2.8 2-2.7 2-2.6 2-2.5 2.1-2.5 2-2.3 2-2.3 2.1-2.2 2-2.1 2.1-2 2-1.9 2.1-1.8 2-1.8 2.1-1.7 2-1.5 2.1-1.5 2.1-1.4 2-1.4 2.1-1.2 2.1-1.2 2-1 2.1-1 2.1-1 2.1-0.8 2.1-0.7 2-0.7 2.1-0.6 2.1-0.5 2.1-0.5 2.1-0.3 2.1-0.3 2.1-0.2 2-0.1 2.1 0 2.1 0M75.4 950.6l1.9-3.3 2-3.2 2-3.1 2-3.1 2-2.9 2-2.9 2-2.8 2-2.6 2.1-2.6 2-2.5 2-2.5 2-2.3 2.1-2.2 2-2.2 2-2.1 2.1-1.9 2-1.9 2.1-1.8 2-1.8 2.1-1.6 2.1-1.6 2-1.4 2.1-1.4 2-1.3 2.1-1.3 2.1-1.1 2.1-1.1 2-0.9 2.1-0.9 2.1-0.8 2.1-0.8 2.1-0.6 2-0.6 2.1-0.5 2.1-0.4 2.1-0.3 2.1-0.3 2.1-0.2 2.1-0.1 2.1 0M73.3 949.7l2-3.2 2-3.2 2-3.1 1.9-3.1 2-2.9 2-2.8 2.1-2.8 2-2.6 2-2.6 2-2.5 2-2.4 2.1-2.3 2-2.2 2-2.1 2.1-2.1 2-1.9 2.1-1.9 2-1.8 2.1-1.7 2-1.6 2.1-1.6 2-1.4 2.1-1.4 2.1-1.3 2-1.2 2.1-1.1 2.1-1 2.1-1 2-0.9 2.1-0.7 2.1-0.8 2.1-0.6 2.1-0.5 2.1-0.5 2-0.4 2.1-0.3 2.1-0.3 2.1-0.1 2.1-0.1 2.1 0M71.2 948.9l2-3.3 2-3.1 2-3.1 2-3 2-2.9 2-2.8 2-2.7 2-2.7 2-2.5 2-2.5 2.1-2.4 2-2.2 2-2.2 2.1-2.1 2-2.1 2-1.9 2.1-1.9 2-1.7 2.1-1.7 2.1-1.6 2-1.5 2.1-1.4 2-1.4 2.1-1.3 2.1-1.1 2-1.1 2.1-1 2.1-1 2.1-0.8 2.1-0.8 2-0.7 2.1-0.6 2.1-0.5 2.1-0.5 2.1-0.4 2.1-0.3 2-0.2 2.1-0.1 2.1-0.1M69.2 948.1l2-3.2 1.9-3.2 2-3 2-3 2-2.9 2-2.8 2-2.7 2-2.6 2-2.5 2.1-2.4 2-2.4 2-2.2 2.1-2.2 2-2.1 2-2 2.1-1.9 2-1.8 2.1-1.8 2-1.6 2.1-1.6 2-1.5 2.1-1.4 2.1-1.3 2-1.3 2.1-1.2 2.1-1 2-1 2.1-0.9 2.1-0.9 2.1-0.7 2.1-0.7 2-0.6 2.1-0.5 2.1-0.4 2.1-0.4 2.1-0.3 2.1-0.2 2.1-0.1 2.1 0M67.1 947.3l2-3.2 2-3.1 2-3 2-3 2-2.8 2-2.8 2-2.7 2-2.5 2-2.5 2-2.4 2-2.4 2.1-2.2 2-2.2 2-2 2.1-2 2-1.9 2.1-1.8 2-1.7 2.1-1.7 2-1.5 2.1-1.5 2-1.4 2.1-1.3 2.1-1.2 2-1.1 2.1-1.1 2.1-1 2.1-0.9 2-0.8 2.1-0.7 2.1-0.7 2.1-0.5 2.1-0.5 2-0.4 2.1-0.4 2.1-0.2 2.1-0.2 2.1-0.1M65.1 946.6l1.9-3.2 2-3.1 2-3 2-2.9 2-2.8 2-2.7 2-2.7 2-2.6 2-2.4 2-2.4 2.1-2.3 2-2.2 2-2.2 2.1-2 2-1.9 2-1.9 2.1-1.8 2-1.7 2.1-1.6 2-1.5 2.1-1.5 2.1-1.4 2-1.2 2.1-1.2 2.1-1.2 2-1 2.1-1 2.1-0.8 2.1-0.8 2-0.7 2.1-0.7 2.1-0.5 2.1-0.5 2.1-0.4 2.1-0.3 2.1-0.3 2-0.1M63 946l2-3.2 2-3.1 1.9-2.9 2-2.9 2-2.8 2-2.8 2-2.6 2-2.5 2.1-2.5 2-2.3 2-2.3 2-2.2 2.1-2.1 2-2 2-2 2.1-1.8 2-1.8 2.1-1.6 2-1.6 2.1-1.5 2-1.5 2.1-1.3 2.1-1.3 2-1.2 2.1-1.1 2.1-1 2-0.9 2.1-0.9 2.1-0.7 2.1-0.7 2.1-0.7 2-0.5 2.1-0.4 2.1-0.4 2.1-0.3 2.1-0.2 2.1-0.2M61 945.3l1.9-3.1 2-3 2-3 2-2.9 2-2.7 2-2.7 2-2.6 2-2.5 2-2.5 2-2.3 2-2.3 2.1-2.1 2-2.1 2-2 2.1-1.9 2-1.8 2.1-1.8 2-1.6 2.1-1.6 2-1.5 2.1-1.4 2-1.3 2.1-1.3 2.1-1.1 2-1.1 2.1-1 2.1-0.9 2.1-0.9 2-0.7 2.1-0.7 2.1-0.6 2.1-0.5 2.1-0.4 2.1-0.4 2-0.3 2.1-0.2M58.9 944.8l2-3.1 2-3.1 1.9-2.9 2-2.8 2-2.8 2-2.7 2-2.5 2-2.5 2-2.4 2.1-2.3 2-2.3 2-2.1 2-2.1 2.1-1.9 2-1.9 2.1-1.8 2-1.8 2.1-1.6 2-1.5 2.1-1.5 2-1.4 2.1-1.3 2-1.2 2.1-1.2 2.1-1 2-1 2.1-0.9 2.1-0.8 2.1-0.7 2.1-0.7 2-0.6 2.1-0.5 2.1-0.4 2.1-0.3 2.1-0.3M56.9 944.2l1.9-3 2-3 2-2.9 2-2.9 2-2.7 2-2.6 2-2.6 2-2.5 2-2.3 2-2.3 2-2.2 2.1-2.2 2-2 2-1.9 2.1-1.9 2-1.8 2-1.7 2.1-1.6 2-1.5 2.1-1.5 2.1-1.4 2-1.2 2.1-1.2 2-1.2 2.1-1 2.1-0.9 2.1-0.9 2-0.8 2.1-0.7 2.1-0.7 2.1-0.5 2.1-0.5 2-0.4 2.1-0.3 2.1-0.3M205.5 1110.4l-2-4.2-2.1-4.3-2-4.1-2-4.1-2-4.1-2.1-3.9-2-3.9-2.1-3.9-2-3.8-2-3.7-2.1-3.7-2-3.6-2.1-3.6-2-3.5-2.1-3.4-2-3.4-2.1-3.4-2.1-3.2-2-3.3-2.1-3.1-2-3.1-2.1-3.1-2.1-3-2-2.9-2.1-2.9-2.1-2.8-2.1-2.8-2-2.7-2.1-2.7-2.1-2.6-2.1-2.5-2-2.5-2.1-2.5-2.1-2.3-2.1-2.4-2.1-2.3-2-2.2-2.1-2.2-2.1-2.1-2.1-2.1-2.1-2-2-2-2.1-1.9-2.1-1.9-2.1-1.8-2.1-1.8-2-1.7-2.1-1.6-2.1-1.7-2.1-1.5-2.1-1.5-2-1.5-2.1-1.4-2.1-1.4-2.1-1.3-2-1.3-2.1-1.2-2.1-1.2-2.1-1.1-2-1.1-2.1-1-2.1-1-2-1-2.1-0.9-2.1-0.8-2-0.8-2.1-0.8-2-0.7-2.1-0.6-2-0.7-2.1-0.5-2-0.6M207.5 1105.2l-2-4.2-2-4.2-2.1-4.1-2-4.1-2-4-2.1-3.9-2-3.9-2-3.8-2.1-3.8-2-3.7-2.1-3.7-2-3.5-2.1-3.6-2-3.4-2.1-3.5-2-3.3-2.1-3.3-2-3.3-2.1-3.1-2.1-3.2-2-3-2.1-3.1-2.1-2.9-2-2.9-2.1-2.9-2.1-2.8-2.1-2.7-2-2.7-2.1-2.6-2.1-2.6-2.1-2.5-2-2.5-2.1-2.4-2.1-2.4-2.1-2.3-2.1-2.2-2-2.2-2.1-2.2-2.1-2.1-2.1-2-2.1-2-2-2-2.1-1.9-2.1-1.8-2.1-1.8-2.1-1.7-2.1-1.7-2-1.7-2.1-1.5-2.1-1.6-2.1-1.5-2.1-1.4-2-1.4-2.1-1.3-2.1-1.3-2.1-1.3-2-1.2-2.1-1.1-2.1-1.1-2.1-1.1-2-1-2.1-1-2.1-0.9-2-0.8-2.1-0.9-2-0.7-2.1-0.8-2.1-0.7-2-0.6-2.1-0.6-2-0.5-2.1-0.5M209.5 1100.1l-2-4.2-2-4.2-2-4.1-2.1-4-2-4-2-3.9-2.1-3.8-2-3.8-2.1-3.7-2-3.7-2-3.6-2.1-3.6-2-3.5-2.1-3.4-2.1-3.4-2-3.3-2.1-3.3-2-3.2-2.1-3.1-2.1-3.1-2-3.1-2.1-3-2.1-2.9-2-2.9-2.1-2.8-2.1-2.7-2-2.7-2.1-2.7-2.1-2.6-2.1-2.5-2.1-2.5-2-2.5-2.1-2.4-2.1-2.3-2.1-2.3-2.1-2.2-2-2.2-2.1-2.1-2.1-2.1-2.1-2-2.1-1.9-2-2-2.1-1.8-2.1-1.8-2.1-1.8-2.1-1.7-2.1-1.7-2-1.6-2.1-1.5-2.1-1.5-2.1-1.5-2.1-1.4-2-1.4-2.1-1.3-2.1-1.3-2.1-1.2-2-1.2-2.1-1.1-2.1-1.1-2.1-1-2-1-2.1-0.9-2.1-0.9-2-0.8-2.1-0.8-2.1-0.8-2-0.7-2.1-0.7-2-0.6-2.1-0.5-2-0.6-2.1-0.4M211.5 1095.1l-2-4.2-2-4.1-2-4.1-2.1-4-2-3.9-2-3.9-2.1-3.8-2-3.7-2-3.7-2.1-3.7-2-3.6-2.1-3.5-2-3.4-2.1-3.4-2-3.4-2.1-3.3-2.1-3.2-2-3.2-2.1-3.1-2-3.1-2.1-3-2.1-2.9-2-2.9-2.1-2.9-2.1-2.8-2.1-2.7-2-2.7-2.1-2.6-2.1-2.6-2.1-2.5-2-2.5-2.1-2.4-2.1-2.3-2.1-2.3-2.1-2.3-2.1-2.2-2-2.1-2.1-2.1-2.1-2-2.1-2-2.1-2-2-1.9-2.1-1.8-2.1-1.8-2.1-1.7-2.1-1.7-2.1-1.6-2-1.6-2.1-1.5-2.1-1.5-2.1-1.5-2.1-1.3-2-1.4-2.1-1.3-2.1-1.2-2.1-1.2-2.1-1.2-2-1-2.1-1.1-2.1-1-2-1-2.1-0.9-2.1-0.8-2-0.8-2.1-0.8-2.1-0.7-2-0.7-2.1-0.7-2.1-0.5-2-0.6-2.1-0.5-2-0.4M213.6 1090.2l-2-4.2-2.1-4.1-2-4-2-3.9-2.1-3.9-2-3.9-2-3.8-2.1-3.7-2-3.6-2.1-3.6-2-3.6-2.1-3.5-2-3.4-2.1-3.4-2-3.3-2.1-3.3-2-3.2-2.1-3.1-2.1-3.1-2-3-2.1-3-2.1-2.9-2-2.9-2.1-2.8-2.1-2.8-2-2.7-2.1-2.6-2.1-2.6-2.1-2.6-2.1-2.4-2-2.5-2.1-2.4-2.1-2.3-2.1-2.3-2.1-2.2-2-2.1-2.1-2.2-2.1-2-2.1-2-2.1-2-2.1-1.9-2-1.9-2.1-1.8-2.1-1.7-2.1-1.7-2.1-1.7-2.1-1.6-2-1.5-2.1-1.5-2.1-1.5-2.1-1.4-2.1-1.4-2-1.3-2.1-1.2-2.1-1.3-2.1-1.1-2.1-1.1-2-1.1-2.1-1-2.1-1-2.1-0.9-2-0.9-2.1-0.9-2.1-0.8-2-0.7-2.1-0.7-2-0.7-2.1-0.6-2.1-0.5-2-0.6-2.1-0.4-2-0.5M215.6 1085.3l-2-4.1-2-4-2.1-4-2-3.9-2-3.9-2.1-3.8-2-3.7-2-3.7-2.1-3.6-2-3.6-2.1-3.5-2-3.5-2.1-3.4-2-3.3-2.1-3.3-2.1-3.2-2-3.2-2.1-3.1-2-3.1-2.1-3-2.1-2.9-2-2.9-2.1-2.9-2.1-2.7-2.1-2.8-2-2.6-2.1-2.7-2.1-2.5-2.1-2.5-2-2.5-2.1-2.4-2.1-2.3-2.1-2.3-2.1-2.3-2-2.2-2.1-2.1-2.1-2.1-2.1-2-2.1-2-2.1-2-2-1.8-2.1-1.9-2.1-1.7-2.1-1.8-2.1-1.6-2.1-1.7-2.1-1.6-2-1.5-2.1-1.5-2.1-1.4-2.1-1.4-2.1-1.3-2-1.3-2.1-1.2-2.1-1.2-2.1-1.2-2.1-1-2-1.1-2.1-1-2.1-0.9-2-1-2.1-0.8-2.1-0.8-2.1-0.8-2-0.7-2.1-0.7-2-0.6-2.1-0.6-2.1-0.5-2-0.5-2.1-0.5-2-0.4M217.6 1080.6l-2-4-2-4-2-4-2.1-3.9-2-3.8-2-3.8-2.1-3.7-2-3.7-2.1-3.6-2-3.5-2-3.5-2.1-3.4-2.1-3.4-2-3.3-2.1-3.2-2-3.2-2.1-3.2-2-3-2.1-3.1-2.1-2.9-2-3-2.1-2.8-2.1-2.8-2.1-2.8-2-2.7-2.1-2.6-2.1-2.6-2.1-2.5-2-2.5-2.1-2.4-2.1-2.4-2.1-2.3-2.1-2.3-2-2.2-2.1-2.2-2.1-2.1-2.1-2.1-2.1-2-2.1-1.9-2-1.9-2.1-1.9-2.1-1.8-2.1-1.7-2.1-1.7-2.1-1.7-2.1-1.6-2-1.5-2.1-1.5-2.1-1.5-2.1-1.4-2.1-1.3-2.1-1.4-2-1.2-2.1-1.2-2.1-1.2-2.1-1.1-2-1.1-2.1-1-2.1-1-2.1-0.9-2-0.9-2.1-0.8-2.1-0.8-2.1-0.7-2-0.7-2.1-0.7-2-0.6-2.1-0.5-2.1-0.6-2-0.4-2.1-0.5-2-0.3M219.7 1076l-2-4-2.1-4-2-3.9-2-3.8-2.1-3.8-2-3.8-2-3.7-2.1-3.6-2-3.6-2.1-3.5-2-3.4-2.1-3.4-2-3.3-2.1-3.3-2-3.2-2.1-3.2-2.1-3.1-2-3.1-2.1-3-2-2.9-2.1-2.9-2.1-2.8-2.1-2.8-2-2.7-2.1-2.7-2.1-2.6-2.1-2.6-2-2.5-2.1-2.4-2.1-2.4-2.1-2.4-2.1-2.2-2-2.3-2.1-2.2-2.1-2.1-2.1-2.1-2.1-2-2.1-2-2-1.9-2.1-1.9-2.1-1.8-2.1-1.8-2.1-1.7-2.1-1.7-2.1-1.6-2-1.6-2.1-1.5-2.1-1.5-2.1-1.4-2.1-1.4-2.1-1.3-2-1.3-2.1-1.2-2.1-1.2-2.1-1.2-2.1-1-2-1.1-2.1-1-2.1-0.9-2.1-0.9-2-0.9-2.1-0.8-2.1-0.8-2-0.7-2.1-0.6-2.1-0.7-2-0.6-2.1-0.5-2.1-0.5-2-0.4-2.1-0.4-2-0.4M221.7 1071.5l-2-4-2-3.9-2.1-3.9-2-3.8-2-3.8-2.1-3.7-2-3.6-2-3.6-2.1-3.6-2-3.4-2.1-3.5-2-3.3-2.1-3.3-2-3.3-2.1-3.2-2.1-3.1-2-3.1-2.1-3-2-3-2.1-2.9-2.1-2.8-2.1-2.8-2-2.8-2.1-2.7-2.1-2.6-2.1-2.6-2-2.5-2.1-2.5-2.1-2.4-2.1-2.4-2-2.3-2.1-2.2-2.1-2.3-2.1-2.1-2.1-2.1-2.1-2.1-2-2-2.1-1.9-2.1-1.9-2.1-1.9-2.1-1.8-2.1-1.7-2.1-1.7-2-1.7-2.1-1.6-2.1-1.5-2.1-1.5-2.1-1.5-2.1-1.4-2.1-1.3-2-1.3-2.1-1.3-2.1-1.2-2.1-1.1-2.1-1.1-2-1.1-2.1-1-2.1-1-2.1-0.9-2-0.9-2.1-0.8-2.1-0.8-2.1-0.7-2-0.7-2.1-0.7-2.1-0.6-2-0.5-2.1-0.6-2.1-0.4-2-0.4-2.1-0.4-2-0.4M223.8 1067.2l-2.1-4-2-3.9-2-3.9-2-3.8-2.1-3.7-2-3.7-2.1-3.6-2-3.6-2-3.5-2.1-3.4-2-3.4-2.1-3.3-2-3.3-2.1-3.2-2.1-3.2-2-3.1-2.1-3-2-3-2.1-2.9-2.1-2.9-2.1-2.9-2-2.7-2.1-2.7-2.1-2.7-2-2.6-2.1-2.6-2.1-2.5-2.1-2.4-2.1-2.4-2-2.3-2.1-2.3-2.1-2.3-2.1-2.1-2.1-2.2-2-2-2.1-2.1-2.1-1.9-2.1-2-2.1-1.8-2.1-1.9-2.1-1.7-2-1.8-2.1-1.6-2.1-1.6-2.1-1.6-2.1-1.5-2.1-1.5-2.1-1.4-2-1.4-2.1-1.3-2.1-1.3-2.1-1.2-2.1-1.2-2.1-1.1-2-1.1-2.1-1.1-2.1-1-2.1-0.9-2.1-0.9-2-0.9-2.1-0.8-2.1-0.7-2-0.7-2.1-0.7-2.1-0.6-2.1-0.6-2-0.5-2.1-0.5-2-0.5-2.1-0.4-2.1-0.3-2-0.3M225.8 1062.9l-2-4-2-3.9-2.1-3.8-2-3.7-2-3.7-2.1-3.7-2-3.6-2.1-3.5-2-3.5-2-3.4-2.1-3.3-2.1-3.3-2-3.3-2.1-3.2-2-3.1-2.1-3.1-2-3-2.1-2.9-2.1-2.9-2-2.9-2.1-2.8-2.1-2.7-2.1-2.7-2-2.6-2.1-2.6-2.1-2.5-2.1-2.5-2-2.4-2.1-2.4-2.1-2.3-2.1-2.3-2.1-2.2-2-2.1-2.1-2.1-2.1-2.1-2.1-2-2.1-1.9-2.1-1.9-2.1-1.9-2-1.8-2.1-1.7-2.1-1.7-2.1-1.6-2.1-1.6-2.1-1.6-2.1-1.5-2-1.4-2.1-1.4-2.1-1.4-2.1-1.3-2.1-1.2-2.1-1.2-2.1-1.2-2-1.1-2.1-1-2.1-1-2.1-1-2.1-0.9-2-0.9-2.1-0.8-2.1-0.8-2.1-0.7-2-0.7-2.1-0.7-2.1-0.6-2-0.5-2.1-0.5-2.1-0.5-2-0.4-2.1-0.4-2-0.3-2.1-0.3M227.9 1058.7l-2.1-3.9-2-3.9-2-3.8-2.1-3.7-2-3.7-2-3.6-2.1-3.5-2-3.5-2.1-3.5-2-3.4-2.1-3.3-2-3.2-2.1-3.3-2-3.1-2.1-3.1-2-3-2.1-3-2.1-3-2-2.8-2.1-2.9-2.1-2.7-2-2.7-2.1-2.7-2.1-2.6-2.1-2.5-2-2.5-2.1-2.5-2.1-2.4-2.1-2.3-2.1-2.3-2-2.2-2.1-2.2-2.1-2.1-2.1-2.1-2.1-2-2.1-2-2.1-1.9-2-1.9-2.1-1.8-2.1-1.8-2.1-1.7-2.1-1.6-2.1-1.7-2.1-1.5-2-1.5-2.1-1.5-2.1-1.4-2.1-1.4-2.1-1.3-2.1-1.3-2.1-1.2-2-1.2-2.1-1.1-2.1-1.1-2.1-1-2.1-1-2-1-2.1-0.9-2.1-0.8-2.1-0.8-2.1-0.8-2-0.7-2.1-0.7-2.1-0.6-2-0.6-2.1-0.5-2.1-0.5-2-0.4-2.1-0.4-2.1-0.4-2-0.3-2.1-0.2M229.9 1054.6l-2-3.9-2-3.8-2.1-3.8-2-3.7-2-3.6-2.1-3.6-2-3.5-2.1-3.5-2-3.4-2.1-3.3-2-3.3-2.1-3.3-2-3.1-2.1-3.2-2-3-2.1-3-2.1-3-2-2.9-2.1-2.8-2.1-2.8-2-2.8-2.1-2.6-2.1-2.7-2-2.5-2.1-2.6-2.1-2.4-2.1-2.4-2.1-2.4-2-2.3-2.1-2.3-2.1-2.2-2.1-2.1-2.1-2.1-2.1-2.1-2-2-2.1-1.9-2.1-1.9-2.1-1.8-2.1-1.8-2.1-1.8-2.1-1.7-2-1.6-2.1-1.6-2.1-1.5-2.1-1.5-2.1-1.5-2.1-1.4-2.1-1.3-2.1-1.3-2-1.2-2.1-1.2-2.1-1.2-2.1-1.1-2.1-1.1-2.1-1-2-0.9-2.1-0.9-2.1-0.9-2.1-0.8-2-0.8-2.1-0.8-2.1-0.6-2.1-0.7-2-0.6-2.1-0.5-2.1-0.5-2-0.5-2.1-0.4-2.1-0.4-2-0.3-2.1-0.3-2-0.3M232 1050.6l-2.1-3.9-2-3.7-2-3.8-2.1-3.6-2-3.6-2-3.6-2.1-3.5-2-3.4-2.1-3.4-2-3.3-2.1-3.3-2-3.2-2.1-3.1-2-3.1-2.1-3-2-3-2.1-3-2.1-2.8-2-2.8-2.1-2.8-2.1-2.7-2.1-2.7-2-2.6-2.1-2.5-2.1-2.5-2.1-2.4-2-2.4-2.1-2.4-2.1-2.2-2.1-2.3-2.1-2.1-2-2.2-2.1-2-2.1-2-2.1-2-2.1-1.9-2.1-1.9-2.1-1.8-2-1.8-2.1-1.7-2.1-1.6-2.1-1.7-2.1-1.5-2.1-1.5-2.1-1.5-2.1-1.4-2-1.4-2.1-1.3-2.1-1.3-2.1-1.2-2.1-1.2-2.1-1.1-2.1-1.1-2-1-2.1-1-2.1-0.9-2.1-0.9-2.1-0.9-2-0.8-2.1-0.7-2.1-0.7-2.1-0.7-2-0.6-2.1-0.6-2.1-0.5-2-0.5-2.1-0.5-2.1-0.4-2-0.3-2.1-0.3-2.1-0.3-2-0.2M234 1046.7l-2-3.8-2-3.8-2.1-3.7-2-3.6-2-3.6-2.1-3.5-2-3.4-2.1-3.4-2-3.4-2.1-3.3-2-3.2-2.1-3.2-2-3.1-2.1-3.1-2-3-2.1-2.9-2.1-2.9-2-2.9-2.1-2.8-2.1-2.7-2-2.7-2.1-2.6-2.1-2.6-2.1-2.5-2-2.4-2.1-2.4-2.1-2.4-2.1-2.3-2.1-2.3-2-2.2-2.1-2.1-2.1-2.1-2.1-2-2.1-2-2.1-2-2-1.9-2.1-1.8-2.1-1.8-2.1-1.7-2.1-1.7-2.1-1.6-2.1-1.6-2.1-1.6-2-1.5-2.1-1.4-2.1-1.4-2.1-1.3-2.1-1.3-2.1-1.3-2.1-1.2-2-1.1-2.1-1.1-2.1-1.1-2.1-1-2.1-0.9-2.1-1-2-0.8-2.1-0.9-2.1-0.7-2.1-0.8-2.1-0.6-2-0.7-2.1-0.6-2.1-0.5-2-0.5-2.1-0.5-2.1-0.4-2-0.4-2.1-0.3-2.1-0.3-2-0.2-2.1-0.2M236.1 1042.9l-2.1-3.8-2-3.7-2-3.7-2-3.6-2.1-3.5-2-3.5-2.1-3.4-2-3.4-2.1-3.3-2-3.3-2.1-3.2-2-3.1-2.1-3.1-2-3-2.1-3-2-2.9-2.1-2.9-2.1-2.8-2-2.8-2.1-2.7-2.1-2.6-2.1-2.6-2-2.6-2.1-2.4-2.1-2.5-2.1-2.4-2-2.3-2.1-2.3-2.1-2.2-2.1-2.2-2.1-2.1-2-2-2.1-2.1-2.1-1.9-2.1-1.9-2.1-1.9-2.1-1.8-2.1-1.8-2.1-1.7-2-1.6-2.1-1.7-2.1-1.5-2.1-1.5-2.1-1.5-2.1-1.4-2.1-1.4-2.1-1.3-2-1.3-2.1-1.2-2.1-1.1-2.1-1.2-2.1-1.1-2.1-1-2.1-1-2-0.9-2.1-0.9-2.1-0.8-2.1-0.8-2.1-0.8-2-0.7-2.1-0.7-2.1-0.6-2.1-0.6-2-0.5-2.1-0.5-2.1-0.4-2-0.4-2.1-0.3-2.1-0.4-2-0.2-2.1-0.2-2-0.2M238.1 1039.2l-2-3.7-2-3.7-2.1-3.7-2-3.5-2-3.5-2.1-3.5-2-3.4-2.1-3.3-2-3.3-2-3.2-2.1-3.2-2.1-3.1-2-3.1-2.1-3-2-2.9-2.1-2.9-2.1-2.9-2-2.8-2.1-2.7-2.1-2.7-2-2.6-2.1-2.5-2.1-2.6-2.1-2.4-2-2.4-2.1-2.4-2.1-2.3-2.1-2.2-2-2.2-2.1-2.2-2.1-2.1-2.1-2-2.1-2-2.1-1.9-2.1-1.9-2-1.8-2.1-1.8-2.1-1.8-2.1-1.6-2.1-1.7-2.1-1.6-2.1-1.5-2.1-1.5-2-1.4-2.1-1.4-2.1-1.4-2.1-1.3-2.1-1.2-2.1-1.2-2.1-1.1-2.1-1.1-2-1.1-2.1-1-2.1-1-2.1-0.9-2.1-0.8-2.1-0.9-2-0.7-2.1-0.8-2.1-0.7-2.1-0.6-2-0.6-2.1-0.5-2.1-0.5-2.1-0.5-2-0.4-2.1-0.4-2.1-0.3-2-0.3-2.1-0.2-2-0.2-2.1-0.2M240.2 1035.6l-2-3.7-2.1-3.7-2-3.6-2-3.5-2.1-3.5-2-3.4-2.1-3.4-2-3.3-2-3.2-2.1-3.2-2-3.2-2.1-3.1-2.1-3-2-3-2.1-2.9-2-2.8-2.1-2.8-2.1-2.8-2-2.7-2.1-2.6-2.1-2.6-2-2.6-2.1-2.5-2.1-2.4-2.1-2.4-2.1-2.3-2-2.3-2.1-2.2-2.1-2.2-2.1-2.1-2.1-2-2-2.1-2.1-1.9-2.1-1.9-2.1-1.9-2.1-1.8-2.1-1.8-2.1-1.7-2.1-1.6-2-1.6-2.1-1.6-2.1-1.5-2.1-1.5-2.1-1.4-2.1-1.3-2.1-1.4-2.1-1.2-2-1.2-2.1-1.2-2.1-1.1-2.1-1.1-2.1-1-2.1-1-2.1-1-2-0.9-2.1-0.8-2.1-0.8-2.1-0.8-2.1-0.7-2-0.6-2.1-0.6-2.1-0.6-2.1-0.5-2-0.5-2.1-0.5-2.1-0.3-2-0.4-2.1-0.3-2.1-0.3-2-0.2-2.1-0.2-2.1-0.1M242.2 1032.1l-2-3.7-2-3.6-2-3.6-2.1-3.5-2-3.4-2-3.4-2.1-3.3-2-3.3-2.1-3.2-2-3.2-2.1-3.1-2-3.1-2.1-3-2.1-2.9-2-2.9-2.1-2.9-2-2.7-2.1-2.8-2.1-2.6-2-2.6-2.1-2.6-2.1-2.5-2.1-2.5-2-2.4-2.1-2.3-2.1-2.3-2.1-2.3-2.1-2.2-2-2.1-2.1-2.1-2.1-2-2.1-2-2.1-2-2.1-1.8-2-1.9-2.1-1.8-2.1-1.7-2.1-1.7-2.1-1.6-2.1-1.6-2.1-1.5-2.1-1.5-2-1.5-2.1-1.3-2.1-1.4-2.1-1.3-2.1-1.2-2.1-1.2-2.1-1.2-2.1-1.1-2.1-1-2-1-2.1-1-2.1-0.9-2.1-0.9-2.1-0.8-2.1-0.7-2-0.8-2.1-0.7-2.1-0.6-2.1-0.6-2-0.5-2.1-0.5-2.1-0.5-2.1-0.4-2-0.4-2.1-0.3-2.1-0.3-2-0.2-2.1-0.2-2-0.2-2.1-0.1M244.3 1028.7l-2-3.6-2-3.6-2.1-3.6-2-3.4-2-3.5-2.1-3.3-2-3.3-2.1-3.3-2-3.2-2.1-3.1-2-3.1-2.1-3-2-3-2.1-2.9-2.1-2.9-2-2.8-2.1-2.7-2-2.7-2.1-2.7-2.1-2.6-2.1-2.5-2-2.5-2.1-2.4-2.1-2.4-2.1-2.3-2-2.3-2.1-2.2-2.1-2.2-2.1-2.1-2.1-2-2-2-2.1-2-2.1-1.9-2.1-1.9-2.1-1.8-2.1-1.7-2.1-1.7-2.1-1.7-2-1.6-2.1-1.6-2.1-1.5-2.1-1.4-2.1-1.5-2.1-1.3-2.1-1.3-2.1-1.3-2-1.2-2.1-1.2-2.1-1.1-2.1-1.1-2.1-1-2.1-1-2.1-0.9-2-0.9-2.1-0.9-2.1-0.8-2.1-0.7-2.1-0.7-2.1-0.7-2-0.6-2.1-0.6-2.1-0.5-2.1-0.5-2-0.4-2.1-0.4-2.1-0.3-2-0.4-2.1-0.2-2.1-0.2-2-0.2-2.1-0.1-2.1-0.1M246.4 1025.4l-2.1-3.6-2-3.6-2-3.5-2-3.4-2.1-3.4-2-3.3-2.1-3.3-2-3.2-2.1-3.2-2-3.1-2.1-3.1-2-3-2.1-2.9-2-2.9-2.1-2.8-2.1-2.8-2-2.7-2.1-2.7-2.1-2.6-2-2.6-2.1-2.5-2.1-2.4-2-2.4-2.1-2.4-2.1-2.3-2.1-2.2-2.1-2.2-2-2.2-2.1-2-2.1-2.1-2.1-2-2.1-1.9-2.1-1.9-2-1.8-2.1-1.8-2.1-1.7-2.1-1.7-2.1-1.6-2.1-1.6-2.1-1.6-2.1-1.4-2-1.5-2.1-1.4-2.1-1.3-2.1-1.3-2.1-1.2-2.1-1.2-2.1-1.2-2.1-1.1-2-1-2.1-1-2.1-1-2.1-0.9-2.1-0.9-2.1-0.8-2.1-0.8-2-0.7-2.1-0.7-2.1-0.6-2.1-0.6-2.1-0.5-2-0.6-2.1-0.4-2.1-0.4-2-0.4-2.1-0.3-2.1-0.3-2.1-0.2-2-0.2-2.1-0.2-2-0.1-2.1-0.1M248.4 1022.2l-2-3.6-2-3.5-2.1-3.5-2-3.4-2-3.4-2.1-3.3-2-3.2-2.1-3.2-2-3.1-2-3.1-2.1-3-2.1-3-2-2.9-2.1-2.9-2-2.8-2.1-2.7-2.1-2.7-2-2.7-2.1-2.6-2.1-2.5-2-2.5-2.1-2.4-2.1-2.4-2.1-2.3-2-2.3-2.1-2.2-2.1-2.1-2.1-2.2-2.1-2-2-2-2.1-2-2.1-1.9-2.1-1.9-2.1-1.8-2.1-1.7-2.1-1.7-2-1.7-2.1-1.6-2.1-1.5-2.1-1.5-2.1-1.5-2.1-1.4-2.1-1.4-2.1-1.3-2-1.3-2.1-1.2-2.1-1.1-2.1-1.2-2.1-1-2.1-1.1-2.1-1-2.1-0.9-2-0.9-2.1-0.8-2.1-0.8-2.1-0.8-2.1-0.7-2.1-0.6-2-0.7-2.1-0.5-2.1-0.5-2.1-0.5-2-0.5-2.1-0.4-2.1-0.3-2.1-0.3-2-0.3-2.1-0.2-2.1-0.2-2-0.1-2.1-0.1-2-0.1M250.5 1019.1l-2-3.5-2.1-3.5-2-3.5-2-3.4-2.1-3.3-2-3.3-2-3.2-2.1-3.2-2-3.1-2.1-3-2-3-2.1-3-2-2.8-2.1-2.9-2.1-2.7-2-2.8-2.1-2.6-2.1-2.6-2-2.6-2.1-2.5-2.1-2.5-2-2.4-2.1-2.3-2.1-2.3-2.1-2.3-2.1-2.1-2-2.2-2.1-2.1-2.1-2-2.1-2-2.1-1.9-2-1.9-2.1-1.8-2.1-1.8-2.1-1.7-2.1-1.7-2.1-1.7-2.1-1.5-2.1-1.6-2-1.5-2.1-1.4-2.1-1.4-2.1-1.3-2.1-1.3-2.1-1.2-2.1-1.2-2.1-1.2-2-1.1-2.1-1-2.1-1-2.1-1-2.1-0.9-2.1-0.9-2.1-0.8-2.1-0.8-2-0.7-2.1-0.7-2.1-0.6-2.1-0.6-2.1-0.6-2-0.5-2.1-0.4-2.1-0.4-2.1-0.4-2-0.3-2.1-0.3-2.1-0.3-2-0.2-2.1-0.1-2.1-0.1-2-0.1-2.1 0M252.6 1016.1l-2.1-3.5-2-3.5-2-3.4-2.1-3.4-2-3.3-2-3.2-2.1-3.2-2-3.1-2.1-3.1-2-3-2.1-3-2-2.9-2.1-2.9-2-2.8-2.1-2.7-2.1-2.7-2-2.7-2.1-2.5-2.1-2.6-2-2.4-2.1-2.5-2.1-2.3-2.1-2.4-2-2.2-2.1-2.3-2.1-2.1-2.1-2.1-2-2.1-2.1-2-2.1-2-2.1-1.9-2.1-1.8-2.1-1.8-2-1.8-2.1-1.7-2.1-1.6-2.1-1.6-2.1-1.6-2.1-1.5-2.1-1.5-2.1-1.4-2.1-1.3-2-1.4-2.1-1.2-2.1-1.2-2.1-1.2-2.1-1.1-2.1-1.1-2.1-1-2.1-1-2-1-2.1-0.8-2.1-0.9-2.1-0.8-2.1-0.7-2.1-0.7-2-0.7-2.1-0.6-2.1-0.6-2.1-0.5-2.1-0.5-2-0.4-2.1-0.4-2.1-0.4-2.1-0.3-2-0.2-2.1-0.3-2.1-0.1-2-0.2-2.1-0.1-2.1 0-2 0M254.6 1013.2l-2-3.5-2-3.5-2.1-3.3-2-3.4-2-3.2-2.1-3.3-2-3.1-2.1-3.1-2-3.1-2.1-3-2-2.9-2.1-2.9-2-2.8-2.1-2.8-2-2.7-2.1-2.7-2.1-2.6-2-2.5-2.1-2.5-2.1-2.5-2-2.4-2.1-2.3-2.1-2.3-2.1-2.3-2-2.2-2.1-2.1-2.1-2.1-2.1-2-2.1-2-2-1.9-2.1-1.9-2.1-1.8-2.1-1.8-2.1-1.8-2.1-1.6-2.1-1.7-2-1.6-2.1-1.5-2.1-1.5-2.1-1.4-2.1-1.4-2.1-1.3-2.1-1.3-2.1-1.3-2.1-1.2-2-1.1-2.1-1.1-2.1-1.1-2.1-1-2.1-0.9-2.1-0.9-2.1-0.9-2-0.8-2.1-0.8-2.1-0.7-2.1-0.7-2.1-0.6-2.1-0.6-2-0.6-2.1-0.5-2.1-0.4-2.1-0.5-2.1-0.3-2-0.4-2.1-0.3-2.1-0.2-2-0.2-2.1-0.1-2.1-0.2-2 0-2.1-0.1-2.1 0M256.7 1010.4l-2-3.5-2.1-3.4-2-3.4-2-3.3-2.1-3.2-2-3.2-2-3.1-2.1-3.1-2-3-2.1-3-2-2.9-2.1-2.8-2-2.8-2.1-2.8-2.1-2.7-2-2.6-2.1-2.6-2.1-2.5-2-2.5-2.1-2.4-2.1-2.4-2-2.3-2.1-2.3-2.1-2.2-2.1-2.2-2-2.1-2.1-2.1-2.1-2-2.1-1.9-2.1-1.9-2.1-1.9-2-1.8-2.1-1.7-2.1-1.7-2.1-1.7-2.1-1.6-2.1-1.6-2.1-1.5-2-1.4-2.1-1.4-2.1-1.4-2.1-1.3-2.1-1.3-2.1-1.2-2.1-1.2-2.1-1.1-2.1-1.1-2-1-2.1-1-2.1-0.9-2.1-0.9-2.1-0.9-2.1-0.8-2.1-0.7-2-0.7-2.1-0.7-2.1-0.6-2.1-0.6-2.1-0.5-2.1-0.5-2-0.4-2.1-0.4-2.1-0.4-2.1-0.3-2-0.2-2.1-0.3-2.1-0.1-2-0.2-2.1-0.1-2.1 0-2 0-2.1 0M258.8 1007.6l-2.1-3.4-2-3.4-2-3.3-2.1-3.3-2-3.2-2-3.1-2.1-3.1-2-3.1-2.1-3-2-2.9-2.1-2.9-2-2.8-2.1-2.8-2-2.7-2.1-2.7-2.1-2.6-2-2.5-2.1-2.6-2.1-2.4-2-2.4-2.1-2.3-2.1-2.3-2-2.3-2.1-2.2-2.1-2.1-2.1-2.1-2.1-2-2-2-2.1-1.9-2.1-1.9-2.1-1.9-2.1-1.7-2.1-1.8-2-1.6-2.1-1.7-2.1-1.6-2.1-1.5-2.1-1.5-2.1-1.4-2.1-1.4-2.1-1.3-2-1.3-2.1-1.3-2.1-1.2-2.1-1.1-2.1-1.1-2.1-1.1-2.1-1-2.1-0.9-2-0.9-2.1-0.9-2.1-0.8-2.1-0.8-2.1-0.7-2.1-0.7-2.1-0.7-2-0.6-2.1-0.5-2.1-0.5-2.1-0.5-2.1-0.4-2-0.4-2.1-0.3-2.1-0.3-2.1-0.2-2-0.2-2.1-0.2-2.1-0.1-2-0.1-2.1 0-2.1 0-2 0.1M260.8 1005l-2-3.4-2-3.3-2.1-3.3-2-3.3-2-3.2-2.1-3.1-2-3.1-2.1-3-2-3-2-2.9-2.1-2.8-2.1-2.8-2-2.8-2.1-2.6-2-2.7-2.1-2.6-2.1-2.5-2-2.5-2.1-2.4-2.1-2.4-2-2.3-2.1-2.3-2.1-2.2-2.1-2.1-2-2.1-2.1-2.1-2.1-2-2.1-2-2-1.9-2.1-1.8-2.1-1.8-2.1-1.8-2.1-1.7-2.1-1.7-2.1-1.6-2-1.5-2.1-1.5-2.1-1.5-2.1-1.4-2.1-1.4-2.1-1.3-2.1-1.3-2.1-1.2-2-1.1-2.1-1.2-2.1-1-2.1-1.1-2.1-1-2.1-0.9-2.1-0.9-2.1-0.8-2-0.8-2.1-0.8-2.1-0.7-2.1-0.7-2.1-0.6-2.1-0.5-2-0.6-2.1-0.5-2.1-0.4-2.1-0.4-2.1-0.3-2-0.4-2.1-0.2-2.1-0.2-2.1-0.2-2-0.2-2.1-0.1-2.1 0-2 0-2.1 0-2 0.1M262.9 1002.5l-2-3.4-2.1-3.3-2-3.3-2-3.2-2.1-3.2-2-3.1-2-3-2.1-3-2-2.9-2.1-2.9-2-2.8-2.1-2.8-2-2.7-2.1-2.7-2.1-2.6-2-2.6-2.1-2.5-2.1-2.4-2-2.4-2.1-2.4-2.1-2.2-2-2.3-2.1-2.2-2.1-2.1-2.1-2.1-2-2-2.1-2-2.1-1.9-2.1-1.9-2.1-1.9-2-1.7-2.1-1.8-2.1-1.7-2.1-1.6-2.1-1.6-2.1-1.5-2.1-1.5-2-1.4-2.1-1.4-2.1-1.4-2.1-1.2-2.1-1.3-2.1-1.2-2.1-1.1-2.1-1.1-2-1.1-2.1-1-2.1-1-2.1-0.9-2.1-0.8-2.1-0.9-2.1-0.7-2.1-0.8-2-0.7-2.1-0.6-2.1-0.6-2.1-0.5-2.1-0.6-2.1-0.4-2-0.4-2.1-0.4-2.1-0.3-2.1-0.3-2-0.3-2.1-0.2-2.1-0.1-2-0.2-2.1 0-2.1-0.1-2 0-2.1 0.1-2.1 0.1M265 1000l-2.1-3.3-2-3.3-2-3.2-2-3.2-2.1-3.2-2-3-2.1-3-2-3-2.1-2.9-2-2.9-2.1-2.8-2-2.7-2.1-2.7-2-2.6-2.1-2.6-2-2.6-2.1-2.4-2.1-2.5-2-2.3-2.1-2.3-2.1-2.3-2.1-2.2-2-2.2-2.1-2.1-2.1-2.1-2.1-2-2-1.9-2.1-1.9-2.1-1.9-2.1-1.8-2.1-1.8-2.1-1.7-2-1.6-2.1-1.6-2.1-1.6-2.1-1.5-2.1-1.5-2.1-1.4-2.1-1.3-2-1.4-2.1-1.2-2.1-1.2-2.1-1.2-2.1-1.1-2.1-1.1-2.1-1-2.1-1-2-1-2.1-0.9-2.1-0.8-2.1-0.8-2.1-0.8-2.1-0.7-2.1-0.6-2-0.7-2.1-0.5-2.1-0.6-2.1-0.5-2.1-0.4-2.1-0.4-2-0.3-2.1-0.4-2.1-0.2-2.1-0.3-2-0.1-2.1-0.2-2.1-0.1-2 0-2.1 0-2.1 0-2 0.1-2.1 0.1M267 997.7l-2-3.3-2-3.3-2-3.2-2.1-3.2-2-3.1-2.1-3-2-3-2-2.9-2.1-2.9-2-2.8-2.1-2.8-2-2.7-2.1-2.7-2.1-2.6-2-2.6-2.1-2.5-2-2.4-2.1-2.4-2.1-2.4-2-2.2-2.1-2.3-2.1-2.2-2.1-2.1-2-2.1-2.1-2-2.1-2-2.1-2-2-1.8-2.1-1.9-2.1-1.7-2.1-1.8-2.1-1.7-2.1-1.6-2-1.6-2.1-1.5-2.1-1.5-2.1-1.4-2.1-1.4-2.1-1.4-2.1-1.3-2.1-1.2-2-1.2-2.1-1.2-2.1-1.1-2.1-1-2.1-1-2.1-1-2.1-0.9-2.1-0.9-2-0.8-2.1-0.8-2.1-0.7-2.1-0.7-2.1-0.6-2.1-0.6-2.1-0.6-2-0.5-2.1-0.5-2.1-0.4-2.1-0.4-2.1-0.3-2-0.3-2.1-0.2-2.1-0.2-2-0.2-2.1-0.1-2.1-0.1-2.1 0-2 0-2.1 0-2 0.1-2.1 0.1M269.1 995.4l-2-3.3-2-3.2-2.1-3.2-2-3.1-2-3.1-2.1-3-2-3-2.1-2.9-2-2.8-2.1-2.8-2-2.8-2.1-2.6-2-2.7-2.1-2.6-2-2.5-2.1-2.5-2.1-2.4-2-2.4-2.1-2.3-2.1-2.3-2-2.2-2.1-2.1-2.1-2.1-2.1-2.1-2-2-2.1-2-2.1-1.9-2.1-1.8-2.1-1.9-2-1.7-2.1-1.7-2.1-1.7-2.1-1.6-2.1-1.5-2.1-1.6-2-1.4-2.1-1.4-2.1-1.4-2.1-1.3-2.1-1.3-2.1-1.2-2.1-1.2-2.1-1.1-2-1.1-2.1-1-2.1-1-2.1-1-2.1-0.9-2.1-0.8-2.1-0.8-2.1-0.8-2-0.7-2.1-0.6-2.1-0.7-2.1-0.5-2.1-0.6-2.1-0.5-2-0.4-2.1-0.4-2.1-0.4-2.1-0.3-2-0.2-2.1-0.3-2.1-0.2-2.1-0.1-2-0.1-2.1-0.1-2.1 0-2 0-2.1 0.1-2.1 0.1-2 0.2M271.2 993.3l-2.1-3.3-2-3.2-2-3.2-2-3.1-2.1-3-2-3-2.1-2.9-2-2.9-2-2.8-2.1-2.8-2-2.7-2.1-2.7-2.1-2.6-2-2.5-2.1-2.5-2-2.5-2.1-2.4-2.1-2.3-2-2.3-2.1-2.3-2.1-2.2-2-2.1-2.1-2.1-2.1-2-2.1-2-2-2-2.1-1.8-2.1-1.9-2.1-1.8-2.1-1.7-2-1.7-2.1-1.6-2.1-1.6-2.1-1.5-2.1-1.5-2.1-1.5-2.1-1.3-2-1.4-2.1-1.3-2.1-1.2-2.1-1.2-2.1-1.2-2.1-1.1-2.1-1-2.1-1.1-2-0.9-2.1-0.9-2.1-0.9-2.1-0.8-2.1-0.8-2.1-0.8-2.1-0.6-2-0.7-2.1-0.6-2.1-0.6-2.1-0.5-2.1-0.4-2.1-0.5-2-0.3-2.1-0.4-2.1-0.3-2.1-0.2-2-0.2-2.1-0.2-2.1-0.1-2.1-0.1-2 0-2.1 0-2.1 0-2 0.1-2.1 0.1-2 0.2M273.2 991.2l-2-3.2-2-3.2-2-3.1-2.1-3.1-2-3-2-3-2.1-2.9-2-2.8-2.1-2.8-2-2.8-2.1-2.7-2-2.6-2.1-2.6-2-2.5-2.1-2.5-2.1-2.4-2-2.4-2.1-2.3-2.1-2.3-2-2.2-2.1-2.2-2.1-2.1-2-2.1-2.1-2-2.1-1.9-2.1-1.9-2-1.9-2.1-1.8-2.1-1.8-2.1-1.7-2.1-1.6-2-1.6-2.1-1.6-2.1-1.5-2.1-1.5-2.1-1.4-2.1-1.4-2.1-1.3-2-1.3-2.1-1.2-2.1-1.2-2.1-1.1-2.1-1.1-2.1-1-2.1-1-2.1-0.9-2-0.9-2.1-0.9-2.1-0.8-2.1-0.8-2.1-0.7-2.1-0.6-2.1-0.7-2-0.6-2.1-0.5-2.1-0.5-2.1-0.4-2.1-0.4-2-0.4-2.1-0.3-2.1-0.3-2.1-0.2-2.1-0.2-2-0.1-2.1-0.1-2.1-0.1-2 0-2.1 0-2.1 0.1-2 0.1-2.1 0.1-2.1 0.2M275.3 989.2l-2-3.2-2-3.1-2.1-3.1-2-3.1-2-3-2.1-2.9-2-2.9-2.1-2.8-2-2.8-2.1-2.7-2-2.7-2.1-2.6-2-2.5-2.1-2.5-2-2.5-2.1-2.4-2.1-2.3-2-2.3-2.1-2.3-2.1-2.2-2-2.1-2.1-2.1-2.1-2-2-2-2.1-2-2.1-1.8-2.1-1.9-2-1.8-2.1-1.7-2.1-1.7-2.1-1.6-2.1-1.6-2.1-1.5-2-1.5-2.1-1.5-2.1-1.4-2.1-1.3-2.1-1.3-2.1-1.3-2.1-1.2-2-1.1-2.1-1.1-2.1-1.1-2.1-1-2.1-1-2.1-0.9-2.1-0.9-2.1-0.8-2-0.8-2.1-0.7-2.1-0.7-2.1-0.7-2.1-0.6-2.1-0.5-2-0.5-2.1-0.5-2.1-0.4-2.1-0.4-2.1-0.4-2-0.3-2.1-0.2-2.1-0.2-2.1-0.2-2-0.1-2.1-0.1-2.1 0-2.1 0-2 0-2.1 0.1-2 0.1-2.1 0.2-2.1 0.2M277.4 987.3l-2-3.1-2.1-3.2-2-3-2-3.1-2.1-2.9-2-2.9-2.1-2.9-2-2.8-2-2.7-2.1-2.7-2-2.7-2.1-2.5-2-2.6-2.1-2.4-2.1-2.5-2-2.3-2.1-2.4-2-2.2-2.1-2.3-2.1-2.1-2-2.1-2.1-2.1-2.1-2-2.1-2-2-1.9-2.1-1.9-2.1-1.8-2.1-1.7-2-1.7-2.1-1.7-2.1-1.6-2.1-1.6-2.1-1.5-2.1-1.5-2-1.4-2.1-1.3-2.1-1.4-2.1-1.2-2.1-1.3-2.1-1.2-2.1-1.1-2-1.1-2.1-1-2.1-1-2.1-0.9-2.1-0.9-2.1-0.9-2.1-0.8-2.1-0.8-2-0.7-2.1-0.7-2.1-0.6-2.1-0.6-2.1-0.5-2.1-0.5-2-0.5-2.1-0.4-2.1-0.3-2.1-0.4-2.1-0.2-2-0.3-2.1-0.2-2.1-0.1-2.1-0.1-2-0.1-2.1 0-2.1 0-2 0.1-2.1 0.1-2.1 0.1-2 0.2-2.1 0.2M279.4 985.5l-2-3.1-2-3.1-2-3.1-2.1-2.9-2-3-2-2.9-2.1-2.8-2-2.8-2.1-2.7-2-2.6-2.1-2.7-2-2.5-2.1-2.5-2-2.5-2.1-2.4-2-2.3-2.1-2.3-2.1-2.3-2-2.2-2.1-2.1-2.1-2.1-2-2-2.1-2-2.1-2-2.1-1.8-2-1.9-2.1-1.8-2.1-1.7-2.1-1.7-2.1-1.6-2-1.6-2.1-1.6-2.1-1.5-2.1-1.4-2.1-1.4-2.1-1.3-2-1.3-2.1-1.3-2.1-1.2-2.1-1.2-2.1-1.1-2.1-1-2.1-1.1-2-0.9-2.1-0.9-2.1-0.9-2.1-0.9-2.1-0.7-2.1-0.8-2.1-0.7-2-0.6-2.1-0.6-2.1-0.6-2.1-0.5-2.1-0.5-2.1-0.4-2-0.4-2.1-0.4-2.1-0.3-2.1-0.2-2-0.2-2.1-0.2-2.1-0.1-2.1-0.1-2-0.1-2.1 0-2.1 0.1-2 0-2.1 0.2-2.1 0.1M281.5 983.8l-2-3.1-2-3.1-2.1-3-2-2.9-2-3-2.1-2.8-2-2.8-2.1-2.8-2-2.6-2-2.7-2.1-2.6-2-2.5-2.1-2.5-2.1-2.4-2-2.4-2.1-2.3-2-2.3-2.1-2.2-2.1-2.2-2-2.1-2.1-2.1-2.1-2-2-1.9-2.1-1.9-2.1-1.9-2.1-1.8-2-1.8-2.1-1.7-2.1-1.7-2.1-1.6-2.1-1.6-2-1.5-2.1-1.4-2.1-1.5-2.1-1.3-2.1-1.4-2.1-1.2-2-1.3-2.1-1.1-2.1-1.2-2.1-1.1-2.1-1-2.1-1-2.1-1-2-0.9-2.1-0.8-2.1-0.8-2.1-0.8-2.1-0.7-2.1-0.7-2.1-0.6-2-0.6-2.1-0.6-2.1-0.5-2.1-0.4-2.1-0.4-2.1-0.4-2-0.3-2.1-0.3-2.1-0.2-2.1-0.2-2-0.2-2.1-0.1-2.1-0.1-2.1 0-2 0-2.1 0.1-2.1 0.1-2 0.1M283.6 982.2l-2.1-3.1-2-3-2-3-2-3-2.1-2.8-2-2.9-2-2.7-2.1-2.8-2-2.6-2.1-2.6-2-2.6-2.1-2.5-2-2.5-2.1-2.4-2-2.3-2.1-2.3-2.1-2.3-2-2.2-2.1-2.1-2.1-2.1-2-2-2.1-2-2.1-2-2-1.9-2.1-1.8-2.1-1.8-2.1-1.7-2-1.7-2.1-1.7-2.1-1.5-2.1-1.6-2.1-1.5-2-1.4-2.1-1.4-2.1-1.4-2.1-1.3-2.1-1.2-2.1-1.3-2-1.1-2.1-1.1-2.1-1.1-2.1-1-2.1-1-2.1-0.9-2.1-0.9-2-0.8-2.1-0.8-2.1-0.8-2.1-0.7-2.1-0.6-2.1-0.6-2.1-0.6-2-0.5-2.1-0.5-2.1-0.4-2.1-0.4-2.1-0.4-2-0.3-2.1-0.3-2.1-0.2-2.1-0.1-2-0.2-2.1-0.1-2.1 0-2.1 0-2 0-2.1 0.1M285.6 980.7l-2-3.1-2-3-2-3-2.1-2.9-2-2.8-2-2.8-2.1-2.8-2-2.7-2.1-2.6-2-2.6-2.1-2.5-2-2.5-2.1-2.4-2-2.4-2.1-2.3-2-2.3-2.1-2.2-2.1-2.2-2-2.1-2.1-2.1-2.1-2-2-2-2.1-1.9-2.1-1.9-2-1.8-2.1-1.8-2.1-1.7-2.1-1.6-2-1.7-2.1-1.5-2.1-1.6-2.1-1.4-2.1-1.4-2-1.4-2.1-1.4-2.1-1.2-2.1-1.3-2.1-1.2-2.1-1.1-2.1-1.1-2-1-2.1-1-2.1-1-2.1-0.9-2.1-0.9-2.1-0.8-2-0.7-2.1-0.8-2.1-0.6-2.1-0.7-2.1-0.6-2.1-0.5-2.1-0.5-2-0.5-2.1-0.4-2.1-0.4-2.1-0.3-2.1-0.3-2-0.2-2.1-0.2-2.1-0.2-2.1-0.1-2-0.1-2.1 0-2.1 0-2 0.1M287.7 979.3l-2-3.1-2-3-2.1-2.9-2-2.9-2-2.8-2.1-2.8-2-2.7-2.1-2.7-2-2.6-2-2.6-2.1-2.5-2-2.4-2.1-2.4-2-2.4-2.1-2.3-2.1-2.3-2-2.1-2.1-2.2-2-2.1-2.1-2-2.1-2-2-2-2.1-1.9-2.1-1.8-2.1-1.8-2-1.7-2.1-1.7-2.1-1.7-2.1-1.6-2-1.5-2.1-1.5-2.1-1.5-2.1-1.4-2.1-1.3-2.1-1.3-2-1.3-2.1-1.2-2.1-1.2-2.1-1.1-2.1-1.1-2.1-1-2-1-2.1-0.9-2.1-0.9-2.1-0.8-2.1-0.8-2.1-0.8-2.1-0.7-2-0.6-2.1-0.7-2.1-0.5-2.1-0.6-2.1-0.4-2-0.5-2.1-0.4-2.1-0.3-2.1-0.3-2.1-0.3-2-0.2-2.1-0.2-2.1-0.1-2.1-0.1-2-0.1-2.1 0M289.8 977.9l-2.1-3-2-3-2-2.9-2-2.8-2.1-2.9-2-2.7-2-2.7-2.1-2.6-2-2.6-2.1-2.6-2-2.5-2.1-2.4-2-2.4-2.1-2.3-2-2.3-2.1-2.2-2.1-2.2-2-2.1-2.1-2.1-2-2-2.1-1.9-2.1-2-2-1.8-2.1-1.9-2.1-1.7-2.1-1.7-2-1.7-2.1-1.6-2.1-1.6-2.1-1.5-2-1.5-2.1-1.4-2.1-1.4-2.1-1.4-2.1-1.2-2.1-1.3-2-1.2-2.1-1.1-2.1-1.1-2.1-1.1-2.1-1-2.1-0.9-2-0.9-2.1-0.9-2.1-0.8-2.1-0.8-2.1-0.7-2.1-0.7-2.1-0.7-2-0.5-2.1-0.6-2.1-0.5-2.1-0.5-2.1-0.4-2-0.4-2.1-0.3-2.1-0.3-2.1-0.2-2.1-0.2-2-0.2-2.1-0.1-2.1-0.1M291.8 976.6l-2-3-2-2.9-2.1-2.9-2-2.8-2-2.8-2-2.7-2.1-2.7-2-2.6-2.1-2.6-2-2.5-2.1-2.4-2-2.4-2.1-2.4-2-2.3-2.1-2.2-2-2.2-2.1-2.2-2-2.1-2.1-2-2.1-2-2-2-2.1-1.9-2.1-1.8-2-1.8-2.1-1.8-2.1-1.7-2.1-1.6-2-1.6-2.1-1.6-2.1-1.5-2.1-1.4-2.1-1.4-2-1.4-2.1-1.3-2.1-1.3-2.1-1.2-2.1-1.2-2-1.1-2.1-1-2.1-1.1-2.1-1-2.1-0.9-2.1-0.9-2-0.8-2.1-0.8-2.1-0.8-2.1-0.7-2.1-0.7-2.1-0.6-2-0.6-2.1-0.5-2.1-0.5-2.1-0.4-2.1-0.4-2.1-0.4-2-0.3-2.1-0.3-2.1-0.2-2.1-0.2-2-0.1-2.1-0.1M293.9 975.5l-2-3-2.1-2.9-2-2.9-2-2.8-2.1-2.7-2-2.7-2-2.7-2.1-2.6-2-2.5-2-2.5-2.1-2.4-2-2.4-2.1-2.3-2-2.3-2.1-2.2-2.1-2.2-2-2.1-2.1-2.1-2-2-2.1-2-2.1-1.9-2-1.9-2.1-1.8-2.1-1.8-2-1.7-2.1-1.7-2.1-1.6-2.1-1.6-2-1.5-2.1-1.5-2.1-1.5-2.1-1.3-2.1-1.4-2-1.3-2.1-1.2-2.1-1.2-2.1-1.2-2.1-1.1-2-1-2.1-1-2.1-1-2.1-0.9-2.1-0.9-2.1-0.8-2-0.8-2.1-0.7-2.1-0.7-2.1-0.6-2.1-0.6-2.1-0.6-2-0.5-2.1-0.5-2.1-0.4-2.1-0.4-2.1-0.3-2.1-0.3-2-0.3-2.1-0.2-2.1-0.1M295.9 974.4l-2-3-2-2.8-2-2.9-2.1-2.8-2-2.7-2-2.7-2.1-2.6-2-2.5-2-2.6-2.1-2.4-2-2.4-2.1-2.4-2-2.3-2.1-2.3-2-2.2-2.1-2.1-2.1-2.1-2-2.1-2.1-2-2-1.9-2.1-1.9-2.1-1.9-2-1.8-2.1-1.7-2.1-1.7-2-1.7-2.1-1.6-2.1-1.5-2.1-1.5-2-1.5-2.1-1.4-2.1-1.4-2.1-1.3-2.1-1.2-2-1.3-2.1-1.1-2.1-1.2-2.1-1-2.1-1.1-2.1-1-2-0.9-2.1-0.9-2.1-0.9-2.1-0.8-2.1-0.7-2.1-0.7-2-0.7-2.1-0.6-2.1-0.6-2.1-0.6-2.1-0.4-2-0.5-2.1-0.4-2.1-0.4-2.1-0.3-2.1-0.3-2-0.2-2.1-0.2M298 973.4l-2-2.9-2.1-2.9-2-2.8-2-2.8-2-2.7-2.1-2.6-2-2.6-2-2.5-2.1-2.5-2-2.5-2.1-2.4-2-2.3-2.1-2.3-2-2.2-2.1-2.2-2-2.1-2.1-2.1-2-2-2.1-2-2.1-1.9-2-1.9-2.1-1.8-2.1-1.8-2-1.7-2.1-1.7-2.1-1.6-2-1.6-2.1-1.6-2.1-1.4-2.1-1.5-2.1-1.4-2-1.3-2.1-1.3-2.1-1.2-2.1-1.2-2-1.2-2.1-1.1-2.1-1.1-2.1-1-2.1-0.9-2.1-1-2-0.8-2.1-0.9-2.1-0.8-2.1-0.7-2.1-0.7-2.1-0.6-2-0.6-2.1-0.6-2.1-0.5-2.1-0.5-2.1-0.4-2-0.4-2.1-0.4-2.1-0.3-2.1-0.2M300 972.5l-2-2.9-2-2.9-2-2.7-2-2.8-2.1-2.6-2-2.7-2-2.5-2.1-2.6-2-2.4-2.1-2.4-2-2.4-2.1-2.3-2-2.3-2.1-2.2-2-2.1-2.1-2.1-2-2.1-2.1-2-2-1.9-2.1-1.9-2.1-1.9-2-1.8-2.1-1.8-2.1-1.7-2-1.6-2.1-1.6-2.1-1.6-2.1-1.5-2-1.5-2.1-1.4-2.1-1.4-2.1-1.3-2-1.2-2.1-1.3-2.1-1.1-2.1-1.2-2.1-1.1-2-1-2.1-1-2.1-0.9-2.1-0.9-2.1-0.9-2-0.8-2.1-0.8-2.1-0.7-2.1-0.7-2.1-0.6-2.1-0.6-2-0.5-2.1-0.5-2.1-0.5-2.1-0.4-2.1-0.4-2-0.3-2.1-0.3M302.1 971.6l-2-2.8-2-2.8-2.1-2.8-2-2.7-2-2.6-2.1-2.6-2-2.6-2-2.5-2.1-2.4-2-2.4-2.1-2.3-2-2.3-2-2.3-2.1-2.2-2-2.1-2.1-2.1-2.1-2-2-2-2.1-1.9-2-1.9-2.1-1.8-2.1-1.8-2-1.7-2.1-1.7-2.1-1.7-2-1.5-2.1-1.6-2.1-1.5-2.1-1.4-2-1.4-2.1-1.4-2.1-1.3-2.1-1.2-2-1.2-2.1-1.2-2.1-1.1-2.1-1-2.1-1.1-2-0.9-2.1-1-2.1-0.8-2.1-0.9-2.1-0.8-2-0.7-2.1-0.7-2.1-0.7-2.1-0.6-2.1-0.6-2.1-0.5-2-0.5-2.1-0.4-2.1-0.4-2.1-0.3M304.1 970.9l-2-2.8-2-2.8-2-2.8-2-2.6-2.1-2.7-2-2.5-2-2.6-2.1-2.4-2-2.4-2.1-2.4-2-2.3-2-2.3-2.1-2.2-2-2.2-2.1-2.1-2-2-2.1-2-2.1-2-2-1.9-2.1-1.9-2-1.8-2.1-1.7-2.1-1.7-2-1.7-2.1-1.6-2.1-1.6-2-1.5-2.1-1.5-2.1-1.4-2.1-1.4-2-1.3-2.1-1.3-2.1-1.2-2.1-1.2-2-1.1-2.1-1.1-2.1-1-2.1-1-2.1-1-2-0.9-2.1-0.9-2.1-0.8-2.1-0.7-2.1-0.8-2-0.7-2.1-0.6-2.1-0.6-2.1-0.5-2.1-0.5-2.1-0.5-2-0.4-2.1-0.4M306.2 970.2l-2-2.8-2-2.7-2.1-2.7-2-2.7-2-2.6-2.1-2.5-2-2.5-2-2.5-2.1-2.4-2-2.3-2-2.3-2.1-2.2-2-2.2-2.1-2.2-2-2.1-2.1-2-2-2-2.1-1.9-2.1-1.9-2-1.8-2.1-1.8-2-1.8-2.1-1.7-2.1-1.6-2-1.6-2.1-1.5-2.1-1.5-2-1.5-2.1-1.4-2.1-1.3-2.1-1.3-2-1.3-2.1-1.2-2.1-1.2-2.1-1.1-2.1-1-2-1.1-2.1-0.9-2.1-1-2.1-0.9-2.1-0.8-2-0.8-2.1-0.8-2.1-0.7-2.1-0.6-2.1-0.6-2-0.6-2.1-0.5-2.1-0.5-2.1-0.5M308.2 969.7l-2-2.8-2-2.8-2-2.6-2-2.7-2.1-2.5-2-2.6-2-2.4-2.1-2.5-2-2.3-2-2.3-2.1-2.3-2-2.2-2.1-2.2-2-2.1-2.1-2.1-2-2-2.1-1.9-2-2-2.1-1.8-2.1-1.8-2-1.8-2.1-1.7-2-1.7-2.1-1.6-2.1-1.6-2-1.5-2.1-1.5-2.1-1.4-2.1-1.4-2-1.3-2.1-1.3-2.1-1.2-2.1-1.2-2-1.2-2.1-1.1-2.1-1-2.1-1-2-1-2.1-0.9-2.1-0.8-2.1-0.9-2.1-0.7-2-0.8-2.1-0.7-2.1-0.6-2.1-0.6-2.1-0.6-2-0.5M310.3 969.2l-2-2.8-2.1-2.7-2-2.6-2-2.7-2-2.5-2.1-2.5-2-2.5-2-2.4-2.1-2.3-2-2.3-2-2.2-2.1-2.2-2-2.2-2.1-2.1-2-2-2.1-2-2-1.9-2.1-1.9-2-1.9-2.1-1.8-2.1-1.7-2-1.7-2.1-1.6-2-1.6-2.1-1.6-2.1-1.5-2.1-1.4-2-1.4-2.1-1.4-2.1-1.3-2-1.3-2.1-1.2-2.1-1.2-2.1-1.1-2-1.1-2.1-1-2.1-1-2.1-0.9-2-0.9-2.1-0.9-2.1-0.8-2.1-0.7-2.1-0.7-2-0.7-2.1-0.6-2.1-0.6-2.1-0.5M312.3 968.8l-2-2.8-2-2.6-2-2.7-2.1-2.6-2-2.5-2-2.5-2-2.4-2.1-2.4-2-2.3-2-2.3-2.1-2.2-2-2.1-2.1-2.2-2-2-2.1-2.1-2-1.9-2.1-1.9-2-1.9-2.1-1.8-2-1.8-2.1-1.7-2.1-1.7-2-1.6-2.1-1.6-2.1-1.5-2-1.5-2.1-1.4-2.1-1.4-2-1.3-2.1-1.3-2.1-1.3-2-1.2-2.1-1.1-2.1-1.1-2.1-1.1-2-1-2.1-1-2.1-0.9-2.1-0.9-2.1-0.8-2-0.8-2.1-0.7-2.1-0.7-2.1-0.6-2-0.7M314.4 968.5l-2.1-2.8-2-2.6-2-2.6-2-2.6-2-2.5-2.1-2.4-2-2.4-2-2.4-2.1-2.3-2-2.2-2-2.2-2.1-2.2-2-2.1-2.1-2-2-2-2.1-2-2-1.9-2.1-1.8-2-1.8-2.1-1.8-2-1.7-2.1-1.6-2.1-1.6-2-1.6-2.1-1.5-2.1-1.4-2-1.4-2.1-1.4-2.1-1.3-2-1.3-2.1-1.2-2.1-1.2-2.1-1.1-2-1.1-2.1-1-2.1-1-2.1-1-2-0.9-2.1-0.8-2.1-0.8-2.1-0.8-2-0.7-2.1-0.7-2.1-0.6M316.4 968.2l-2-2.7-2-2.6-2.1-2.6-2-2.5-2-2.5-2-2.4-2.1-2.4-2-2.3-2-2.3-2.1-2.2-2-2.2-2-2.1-2.1-2.1-2-2-2.1-2-2-1.9-2.1-1.9-2-1.8-2.1-1.8-2-1.7-2.1-1.7-2.1-1.6-2-1.6-2.1-1.6-2-1.4-2.1-1.5-2.1-1.4-2-1.3-2.1-1.3-2.1-1.3-2.1-1.2-2-1.1-2.1-1.1-2.1-1.1-2-1-2.1-1-2.1-0.9-2.1-0.9-2-0.8-2.1-0.8-2.1-0.8-2.1-0.7M318.4 968.1l-2-2.7-2-2.6-2-2.6-2-2.5-2.1-2.4-2-2.4-2-2.4-2-2.3-2.1-2.3-2-2.2-2.1-2.1-2-2.1-2-2.1-2.1-2-2-1.9-2.1-1.9-2-1.9-2.1-1.8-2-1.7-2.1-1.7-2-1.7-2.1-1.6-2.1-1.6-2-1.5-2.1-1.4-2.1-1.5-2-1.3-2.1-1.3-2.1-1.3-2-1.3-2.1-1.1-2.1-1.2-2-1.1-2.1-1-2.1-1-2.1-1-2-0.9-2.1-0.8-2.1-0.8-2.1-0.8-2-0.7M320.5 968l-2.1-2.6-2-2.6-2-2.6-2-2.5-2-2.4-2.1-2.4-2-2.3-2-2.3-2-2.2-2.1-2.2-2-2.1-2.1-2.1-2-2-2-2-2.1-1.9-2-1.9-2.1-1.9-2-1.7-2.1-1.8-2-1.7-2.1-1.6-2.1-1.6-2-1.5-2.1-1.5-2-1.5-2.1-1.4-2.1-1.3-2-1.3-2.1-1.3-2.1-1.2-2-1.1-2.1-1.1-2.1-1.1-2.1-1-2-1-2.1-1-2.1-0.8-2-0.9-2.1-0.8M322.5 968l-2-2.6-2-2.6-2.1-2.5-2-2.5-2-2.4-2-2.3-2-2.3-2.1-2.3-2-2.2-2-2.2-2.1-2.1-2-2-2.1-2-2-2-2-1.9-2.1-1.9-2-1.8-2.1-1.7-2-1.7-2.1-1.7-2.1-1.6-2-1.6-2.1-1.5-2-1.5-2.1-1.4-2.1-1.4-2-1.3-2.1-1.3-2.1-1.2-2-1.2-2.1-1.1-2.1-1.1-2-1.1-2.1-1-2.1-1-2-0.9-2.1-0.8-2.1-0.9M324.5 968.1l-2-2.6-2-2.5-2-2.5-2.1-2.5-2-2.4-2-2.3-2-2.3-2-2.2-2.1-2.2-2-2.1-2-2.1-2.1-2.1-2-1.9-2.1-2-2-1.9-2.1-1.8-2-1.8-2.1-1.7-2-1.7-2.1-1.7-2-1.6-2.1-1.5-2-1.5-2.1-1.5-2-1.4-2.1-1.3-2.1-1.3-2-1.3-2.1-1.2-2.1-1.2-2-1.1-2.1-1.1-2.1-1-2-1-2.1-0.9-2.1-0.9M326.5 968.3l-2-2.6-2-2.5-2-2.5-2-2.4-2-2.4-2.1-2.3-2-2.2-2-2.3-2.1-2.1-2-2.1-2-2.1-2.1-2-2-2-2-1.9-2.1-1.9-2-1.8-2.1-1.7-2-1.8-2.1-1.6-2-1.6-2.1-1.6-2-1.5-2.1-1.5-2-1.5-2.1-1.3-2.1-1.4-2-1.3-2.1-1.2-2.1-1.2-2-1.2-2.1-1.1-2.1-1-2-1-2.1-1-2.1-0.9M328.5 968.5l-2-2.5-2-2.5-2-2.5-2-2.4-2-2.3-2-2.3-2.1-2.2-2-2.2-2-2.2-2.1-2.1-2-2-2-2-2.1-1.9-2-1.9-2-1.9-2.1-1.8-2-1.7-2.1-1.7-2-1.7-2.1-1.6-2-1.5-2.1-1.5-2-1.5-2.1-1.4-2.1-1.4-2-1.3-2.1-1.2-2.1-1.3-2-1.1-2.1-1.2-2-1.1-2.1-1-2.1-1M330.6 968.9l-2.1-2.6-2-2.4-2-2.5-2-2.3-2-2.4-2-2.2-2.1-2.2-2-2.2-2-2.1-2-2.1-2.1-2-2-2-2-1.9-2.1-1.9-2-1.8-2.1-1.8-2-1.7-2.1-1.7-2-1.6-2.1-1.6-2-1.5-2.1-1.5-2-1.5-2.1-1.3-2-1.4-2.1-1.3-2-1.2-2.1-1.2-2.1-1.2-2-1.1-2.1-1.1-2.1-1M332.6 969.3l-2-2.5-2.1-2.5-2-2.4-2-2.3-2-2.3-2-2.3-2-2.2-2.1-2.1-2-2.1-2-2.1-2-2-2.1-1.9-2-1.9-2.1-1.9-2-1.8-2-1.7-2.1-1.7-2-1.7-2.1-1.6-2-1.6-2.1-1.5-2-1.4-2.1-1.4-2-1.4-2.1-1.3-2.1-1.3-2-1.3-2.1-1.1-2-1.2-2.1-1.1M334.6 969.8l-2-2.5-2-2.4-2.1-2.4-2-2.3-2-2.3-2-2.3-2-2.1-2-2.2-2.1-2-2-2.1-2-1.9-2.1-2-2-1.8-2-1.9-2.1-1.7-2-1.8-2.1-1.7-2-1.6-2.1-1.6-2-1.5-2-1.5-2.1-1.5-2.1-1.4-2-1.3-2.1-1.3-2-1.3-2.1-1.2-2-1.2-2.1-1.1M336.6 970.3l-2-2.4-2-2.4-2-2.4-2.1-2.3-2-2.2-2-2.2-2-2.2-2-2.1-2.1-2.1-2-2-2-1.9-2-1.9-2.1-1.9-2-1.8-2.1-1.8-2-1.7-2-1.6-2.1-1.6-2-1.6-2.1-1.5-2-1.5-2.1-1.4-2-1.4-2.1-1.3-2-1.3-2.1-1.3-2.1-1.2-2-1.1M338.6 971l-2-2.4-2-2.4-2-2.4-2.1-2.2-2-2.3-2-2.2-2-2.1-2-2.1-2.1-2-2-2-2-1.9-2-1.9-2.1-1.9-2-1.7-2-1.8-2.1-1.7-2-1.6-2.1-1.6-2-1.6-2.1-1.5-2-1.4-2.1-1.4-2-1.4-2.1-1.3-2-1.3-2.1-1.2M340.6 971.7l-2-2.4-2-2.4-2-2.3-2.1-2.2-2-2.2-2-2.2-2-2.1-2-2.1-2-2-2.1-2-2-1.9-2-1.8-2.1-1.9-2-1.7-2-1.7-2.1-1.7-2-1.6-2.1-1.6-2-1.5-2-1.5-2.1-1.5-2-1.3-2.1-1.4-2-1.3-2.1-1.2M342.6 972.5l-2-2.4-2-2.3-2.1-2.3-2-2.2-2-2.2-2-2.2-2-2.1-2-2-2-2-2.1-1.9-2-1.9-2-1.9-2.1-1.8-2-1.7-2-1.7-2.1-1.7-2-1.6-2-1.5-2.1-1.5-2-1.5-2.1-1.4-2-1.4-2.1-1.3M344.5 973.4l-2-2.4-2-2.3-2-2.3-2-2.2-2-2.1-2-2.2-2-2-2-2.1-2.1-1.9-2-1.9-2-1.9-2-1.8-2.1-1.8-2-1.7-2-1.7-2.1-1.7-2-1.5-2-1.6-2.1-1.5-2-1.4-2.1-1.4-2-1.4M346.5 974.4l-2-2.4-2-2.3-2-2.2-2-2.2-2-2.2-2-2.1-2-2-2-2-2.1-2-2-1.9-2-1.8-2-1.8-2.1-1.8-2-1.7-2-1.7-2.1-1.6-2-1.5-2-1.6-2.1-1.4-2-1.4M348.5 975.4l-2-2.3-2-2.3-2-2.2-2-2.2-2-2.1-2-2.1-2-2-2.1-2-2-1.9-2-1.9-2-1.9-2-1.7-2.1-1.8-2-1.7-2-1.6-2.1-1.6-2-1.6-2-1.5-2.1-1.4M350.5 976.5l-2-2.3-2-2.3-2-2.2-2-2.1-2-2.1-2-2.1-2.1-2-2-1.9-2-2-2-1.8-2-1.8-2.1-1.8-2-1.7-2-1.7-2-1.6-2.1-1.6-2-1.5M352.4 977.7l-2-2.3-2-2.2-2-2.2-2-2.1-2-2.1-2-2.1-2-2-2-1.9-2-1.9-2-1.8-2.1-1.8-2-1.8-2-1.7-2-1.6-2.1-1.6-2-1.6" fill="none" stroke="#000" stroke-opacity="0.6" stroke-width="0.8"/>
<path d="M56.9 944L56.9 954" stroke="#222" stroke-width="0.8"/>
<ellipse cx="204.9" cy="894.9" rx="2.3" ry="2.9" fill="#f00" stroke="#5a1010" stroke-width="0.5"/>
<ellipse cx="204.9" cy="901.5" rx="2.3" ry="2.9" fill="#f00" stroke="#5a1010" stroke-width="0.5"/>
<ellipse cx="56.9" cy="954.2" rx="2.3" ry="2.9" fill="#fbb" stroke="#5a1010" stroke-width="0.5"/>
<ellipse cx="352.4" cy="974.7" rx="2.3" ry="2.9" fill="#f00" stroke="#5a1010" stroke-width="0.5"/>
<ellipse cx="205.6" cy="1095.7" rx="2.3" ry="2.9" fill="#f00" stroke="#5a1010" stroke-width="0.5"/>
<circle cx="60.4" cy="1037.8" r="1.2" fill="#111"/>
<text x="55.1" y="1035.6" font-size="9.4" text-anchor="end" fill="#333">7</text>
<circle cx="58.6" cy="990.9" r="1.2" fill="#111"/>
<text x="53.3" y="988.7" font-size="9.4" text-anchor="end" fill="#333">7.5</text>
<circle cx="56.8" cy="944" r="1.2" fill="#111"/>
<text x="51.5" y="941.8" font-size="9.4" text-anchor="end" fill="#333">8</text>
<circle cx="55.1" cy="897.1" r="1.2" fill="#111"/>
<text x="49.8" y="894.9" font-size="9.4" text-anchor="end" fill="#333">8.5</text>
<circle cx="53.3" cy="850.2" r="1.2" fill="#111"/>
<text x="48" y="848" font-size="9.4" text-anchor="end" fill="#333">9</text>
<circle cx="205.4" cy="1183.2" r="1.2" fill="#111"/>
<text x="210.4" y="1191.9" font-size="9.4" fill="#333">34.00</text>
<circle cx="234" cy="1165.6" r="1.2" fill="#111"/>
<text x="239" y="1174.3" font-size="9.4" fill="#333">35.00</text>
<circle cx="262.7" cy="1148" r="1.2" fill="#111"/>
<text x="267.7" y="1156.7" font-size="9.4" fill="#333">36.00</text>
<circle cx="291.3" cy="1130.4" r="1.2" fill="#111"/>
<text x="296.3" y="1139.1" font-size="9.4" fill="#333">37.00</text>
<circle cx="319.9" cy="1112.8" r="1.2" fill="#111"/>
<text x="324.9" y="1121.5" font-size="9.4" fill="#333">38.00</text>
<circle cx="348.5" cy="1095.2" r="1.2" fill="#111"/>
<text x="353.5" y="1103.9" font-size="9.4" fill="#333">39.00</text>
<circle cx="205.4" cy="1183.2" r="1.2" fill="#111"/>
<text x="200.2" y="1191.5" font-size="9.4" text-anchor="end" fill="#333">6.20</text>
<circle cx="169.7" cy="1161.4" r="1.2" fill="#111"/>
<text x="164.5" y="1169.7" font-size="9.4" text-anchor="end" fill="#333">6.50</text>
<circle cx="134" cy="1139.6" r="1.2" fill="#111"/>
<text x="128.8" y="1147.9" font-size="9.4" text-anchor="end" fill="#333">6.80</text>
<circle cx="98.3" cy="1117.7" r="1.2" fill="#111"/>
<text x="93.1" y="1126" font-size="9.4" text-anchor="end" fill="#333">7.10</text>
<circle cx="62.6" cy="1095.9" r="1.2" fill="#111"/>
<text x="57.4" y="1104.2" font-size="9.4" text-anchor="end" fill="#333">7.40</text>
<text x="13.4" y="977.6" font-size="15.1" text-anchor="middle" fill="#111" transform="rotate(-90 13.4 977.6)">Butanol</text>
<text x="60" y="1177.6" font-size="14.4" fill="#111">C: pH</text>
<text x="283.3" y="1177.6" font-size="14.1" fill="#111">B: Temperature</text>
</g>
<g id="pF">
<clipPath id="crF"><rect x="451.9" y="857.6" width="252.7" height="280.7"/></clipPath>
<g clip-path="url(#crF)">
<rect x="451.9" y="857.6" width="252.7" height="280.7" fill="#0002ff"/>
<g transform="translate(571.7 948.8) rotate(-107.92)">
<ellipse rx="320.2" ry="192.7" fill="#0006ff"/>
<ellipse rx="319" ry="191.9" fill="#000eff"/>
<ellipse rx="317.8" ry="191.2" fill="#0015ff"/>
<ellipse rx="316.5" ry="190.4" fill="#001dff"/>
<ellipse rx="315.3" ry="189.7" fill="#0025ff"/>
<ellipse rx="314" ry="188.9" fill="#002cff"/>
<ellipse rx="312.7" ry="188.2" fill="#0034ff"/>
<ellipse rx="311.5" ry="187.4" fill="#003cff"/>
<ellipse rx="310.2" ry="186.6" fill="#0044ff"/>
<ellipse rx="308.9" ry="185.9" fill="#004bff"/>
<ellipse rx="307.7" ry="185.1" fill="#0053ff"/>
<ellipse rx="306.4" ry="184.3" fill="#005bff"/>
<ellipse rx="305.1" ry="183.6" fill="#0063ff"/>
<ellipse rx="303.8" ry="182.8" fill="#006aff"/>
<ellipse rx="302.5" ry="182" fill="#0072ff"/>
<ellipse rx="301.2" ry="181.2" fill="#007aff"/>
<ellipse rx="299.9" ry="180.4" fill="#0081ff"/>
<ellipse rx="298.6" ry="179.6" fill="#0089ff"/>
<ellipse rx="297.2" ry="178.8" fill="#0091ff"/>
<ellipse rx="295.9" ry="178" fill="#0099ff"/>
<ellipse rx="294.6" ry="177.2" fill="#00a0ff"/>
<ellipse rx="293.2" ry="176.4" fill="#00a8ff"/>
<ellipse rx="291.9" ry="175.6" fill="#00b0ff"/>
<ellipse rx="290.5" ry="174.8" fill="#00b8ff"/>
<ellipse rx="289.2" ry="174" fill="#00bfff"/>
<ellipse rx="287.8" ry="173.2" fill="#00c7ff"/>
<ellipse rx="286.4" ry="172.3" fill="#00cfff"/>
<ellipse rx="285" ry="171.5" fill="#00d6ff"/>
<ellipse rx="283.6" ry="170.7" fill="#00deff"/>
<ellipse rx="282.3" ry="169.8" fill="#00e6ff"/>
<ellipse rx="280.9" ry="169" fill="#00eeff"/>
<ellipse rx="279.4" ry="168.1" fill="#00f5ff"/>
<ellipse rx="278" ry="167.3" fill="#00fdff"/>
<ellipse rx="276.6" ry="166.4" fill="#00fff9"/>
<ellipse rx="275.2" ry="165.6" fill="#00fff1"/>
<ellipse rx="273.7" ry="164.7" fill="#00ffe9"/>
<ellipse rx="272.3" ry="163.8" fill="#00ffe2"/>
<ellipse rx="270.8" ry="163" fill="#00ffda"/>
<ellipse rx="269.4" ry="162.1" fill="#00ffd2"/>
<ellipse rx="267.9" ry="161.2" fill="#00ffca"/>
<ellipse rx="266.4" ry="160.3" fill="#00ffc2"/>
<ellipse rx="265" ry="159.4" fill="#00ffba"/>
<ellipse rx="263.5" ry="158.5" fill="#00ffb3"/>
<ellipse rx="262" ry="157.6" fill="#00ffab"/>
<ellipse rx="260.5" ry="156.7" fill="#00ffa3"/>
<ellipse rx="258.9" ry="155.8" fill="#00ff9b"/>
<ellipse rx="257.4" ry="154.9" fill="#00ff93"/>
<ellipse rx="255.9" ry="153.9" fill="#00ff8b"/>
<ellipse rx="254.3" ry="153" fill="#00ff84"/>
<ellipse rx="252.8" ry="152.1" fill="#00ff7c"/>
<ellipse rx="251.2" ry="151.1" fill="#00ff74"/>
<ellipse rx="249.6" ry="150.2" fill="#00ff6c"/>
<ellipse rx="248" ry="149.2" fill="#00ff64"/>
<ellipse rx="246.4" ry="148.3" fill="#00ff5c"/>
<ellipse rx="244.8" ry="147.3" fill="#00ff55"/>
<ellipse rx="243.2" ry="146.3" fill="#00ff4d"/>
<ellipse rx="241.6" ry="145.4" fill="#00ff45"/>
<ellipse rx="240" ry="144.4" fill="#00ff3d"/>
<ellipse rx="238.3" ry="143.4" fill="#00ff35"/>
<ellipse rx="236.7" ry="142.4" fill="#00ff2d"/>
<ellipse rx="235" ry="141.4" fill="#00ff26"/>
<ellipse rx="233.3" ry="140.4" fill="#00ff1e"/>
<ellipse rx="231.6" ry="139.3" fill="#00ff16"/>
<ellipse rx="229.9" ry="138.3" fill="#00ff0e"/>
<ellipse rx="228.2" ry="137.3" fill="#00ff06"/>
<ellipse rx="226.4" ry="136.2" fill="#02ff00"/>
<ellipse rx="224.7" ry="135.2" fill="#09ff00"/>
<ellipse rx="222.9" ry="134.1" fill="#11ff00"/>
<ellipse rx="221.1" ry="133.1" fill="#18ff00"/>
<ellipse rx="219.4" ry="132" fill="#20ff00"/>
<ellipse rx="217.5" ry="130.9" fill="#28ff00"/>
<ellipse rx="215.7" ry="129.8" fill="#2fff00"/>
<ellipse rx="213.9" ry="128.7" fill="#37ff00"/>
<ellipse rx="212" ry="127.6" fill="#3fff00"/>
<ellipse rx="210.2" ry="126.5" fill="#46ff00"/>
<ellipse rx="208.3" ry="125.3" fill="#4eff00"/>
<ellipse rx="206.4" ry="124.2" fill="#55ff00"/>
<ellipse rx="204.5" ry="123" fill="#5dff00"/>
<ellipse rx="202.5" ry="121.9" fill="#65ff00"/>
<ellipse rx="200.6" ry="120.7" fill="#6cff00"/>
<ellipse rx="198.6" ry="119.5" fill="#74ff00"/>
<ellipse rx="196.6" ry="118.3" fill="#7cff00"/>
<ellipse rx="194.6" ry="117.1" fill="#83ff00"/>
<ellipse rx="192.5" ry="115.8" fill="#8bff00"/>
<ellipse rx="190.5" ry="114.6" fill="#92ff00"/>
<ellipse rx="188.4" ry="113.4" fill="#9aff00"/>
<ellipse rx="186.3" ry="112.1" fill="#a2ff00"/>
<ellipse rx="184.2" ry="110.8" fill="#a9ff00"/>
<ellipse rx="182" ry="109.5" fill="#b1ff00"/>
<ellipse rx="179.8" ry="108.2" fill="#b9ff00"/>
<ellipse rx="177.6" ry="106.9" fill="#c0ff00"/>
<ellipse rx="175.4" ry="105.5" fill="#c8ff00"/>
<ellipse rx="173.1" ry="104.2" fill="#cfff00"/>
<ellipse rx="170.8" ry="102.8" fill="#d7ff00"/>
<ellipse rx="168.5" ry="101.4" fill="#dfff00"/>
<ellipse rx="166.2" ry="100" fill="#e6ff00"/>
<ellipse rx="163.8" ry="98.5" fill="#eeff00"/>
<ellipse rx="161.3" ry="97.1" fill="#f6ff00"/>
<ellipse rx="158.9" ry="95.6" fill="#fdff00"/>
<ellipse rx="156.4" ry="94.1" fill="#fffa00"/>
<ellipse rx="153.8" ry="92.6" fill="#fff400"/>
<ellipse rx="151.2" ry="91" fill="#ffed00"/>
<ellipse rx="148.6" ry="89.4" fill="#ffe700"/>
<ellipse rx="145.9" ry="87.8" fill="#ffe000"/>
<ellipse rx="143.2" ry="86.2" fill="#ffda00"/>
<ellipse rx="140.4" ry="84.5" fill="#ffd300"/>
<ellipse rx="137.6" ry="82.8" fill="#ffcd00"/>
<ellipse rx="134.7" ry="81" fill="#ffc600"/>
<ellipse rx="131.7" ry="79.3" fill="#ffc000"/>
<ellipse rx="128.7" ry="77.4" fill="#ffb900"/>
<ellipse rx="125.6" ry="75.6" fill="#ffb300"/>
<ellipse rx="122.4" ry="73.7" fill="#ffac00"/>
<ellipse rx="119.2" ry="71.7" fill="#ffa600"/>
<ellipse rx="115.8" ry="69.7" fill="#ffa000"/>
<ellipse rx="112.3" ry="67.6" fill="#ff9900"/>
<ellipse rx="108.8" ry="65.4" fill="#ff9300"/>
<ellipse rx="105.1" ry="63.2" fill="#ff8c00"/>
<ellipse rx="101.3" ry="60.9" fill="#ff8600"/>
<ellipse rx="97.3" ry="58.5" fill="#ff7f00"/>
<ellipse rx="93.1" ry="56" fill="#ff7900"/>
<ellipse rx="88.8" ry="53.4" fill="#ff7200"/>
<ellipse rx="84.3" ry="50.7" fill="#ff6c00"/>
<ellipse rx="79.4" ry="47.8" fill="#ff6500"/>
<ellipse rx="74.3" ry="44.7" fill="#ff5f00"/>
<ellipse rx="68.8" ry="41.4" fill="#ff5800"/>
<ellipse rx="62.8" ry="37.8" fill="#ff5200"/>
<ellipse rx="56.2" ry="33.8" fill="#ff4b00"/>
<ellipse rx="48.6" ry="29.3" fill="#ff4500"/>
<ellipse rx="39.7" ry="23.9" fill="#ff3e00"/>
<ellipse rx="28.1" ry="16.9" fill="#ff3800"/>
<ellipse rx="305.5" ry="183.8" fill="none" stroke="#1a1a1a" stroke-width="0.7"/>
<ellipse rx="280.9" ry="169" fill="none" stroke="#1a1a1a" stroke-width="0.7"/>
<ellipse rx="253.8" ry="152.7" fill="none" stroke="#1a1a1a" stroke-width="0.7"/>
<ellipse rx="223.5" ry="134.5" fill="none" stroke="#1a1a1a" stroke-width="0.7"/>
<ellipse rx="188.4" ry="113.4" fill="none" stroke="#1a1a1a" stroke-width="0.7"/>
<ellipse rx="145.1" ry="87.3" fill="none" stroke="#1a1a1a" stroke-width="0.7"/>
<ellipse rx="81.1" ry="48.8" fill="none" stroke="#1a1a1a" stroke-width="0.7"/>
</g></g>
<rect x="451.9" y="857.6" width="252.7" height="280.7" fill="none" stroke="#333" stroke-width="0.8"/>
<rect x="570.5" y="1017.3" width="14.9" height="9.4" fill="#fff" stroke="#222" stroke-width="0.7"/>
<text x="578" y="1025.1" font-size="8.8" text-anchor="middle" fill="#222">8.4</text>
<rect x="583.5" y="1079.3" width="14.9" height="9.4" fill="#fff" stroke="#222" stroke-width="0.7"/>
<text x="591" y="1087.1" font-size="8.8" text-anchor="middle" fill="#222">8.2</text>
<rect x="623.5" y="1118.3" width="7.1" height="9.4" fill="#fff" stroke="#222" stroke-width="0.7"/>
<text x="627" y="1126.1" font-size="8.8" text-anchor="middle" fill="#222">8</text>
<rect x="686.5" y="879.3" width="14.9" height="9.4" fill="#fff" stroke="#222" stroke-width="0.7"/>
<text x="694" y="887.1" font-size="8.8" text-anchor="middle" fill="#222">7.8</text>
<rect x="685" y="1106.8" width="14.9" height="9.4" fill="#fff" stroke="#222" stroke-width="0.7"/>
<text x="692.5" y="1114.6" font-size="8.8" text-anchor="middle" fill="#222">7.8</text>
<rect x="480.1" y="1073.3" width="14.9" height="9.4" fill="#fff" stroke="#222" stroke-width="0.7"/>
<text x="487.5" y="1081.1" font-size="8.8" text-anchor="middle" fill="#222">7.8</text>
<rect x="469.6" y="1092.3" width="14.9" height="9.4" fill="#fff" stroke="#222" stroke-width="0.7"/>
<text x="477" y="1100.1" font-size="8.8" text-anchor="middle" fill="#222">7.6</text>
<rect x="459.6" y="1108.8" width="14.9" height="9.4" fill="#fff" stroke="#222" stroke-width="0.7"/>
<text x="467" y="1116.6" font-size="8.8" text-anchor="middle" fill="#222">7.4</text>
<rect x="452.1" y="1125.8" width="14.9" height="9.4" fill="#fff" stroke="#222" stroke-width="0.7"/>
<text x="459.5" y="1133.6" font-size="8.8" text-anchor="middle" fill="#222">7.2</text>
<path d="M451.9 1138.3v8" stroke="#444" stroke-width="1"/>
<text x="451.9" y="1156.1" font-size="7.6" text-anchor="middle" fill="#333">34.00</text>
<path d="M502.4 1138.3v8" stroke="#444" stroke-width="1"/>
<text x="502.4" y="1156.1" font-size="7.6" text-anchor="middle" fill="#333">35.00</text>
<path d="M553 1138.3v8" stroke="#444" stroke-width="1"/>
<text x="553" y="1156.1" font-size="7.6" text-anchor="middle" fill="#333">36.00</text>
<path d="M603.5 1138.3v8" stroke="#444" stroke-width="1"/>
<text x="603.5" y="1156.1" font-size="7.6" text-anchor="middle" fill="#333">37.00</text>
<path d="M654.1 1138.3v8" stroke="#444" stroke-width="1"/>
<text x="654.1" y="1156.1" font-size="7.6" text-anchor="middle" fill="#333">38.00</text>
<path d="M704.6 1138.3v8" stroke="#444" stroke-width="1"/>
<text x="704.6" y="1156.1" font-size="7.6" text-anchor="middle" fill="#333">39.00</text>
<path d="M451.9 1138.3h-6" stroke="#444" stroke-width="1"/>
<text x="441.9" y="1140.2" font-size="7.6" text-anchor="end" fill="#333">6.20</text>
<path d="M451.9 1068.1h-6" stroke="#444" stroke-width="1"/>
<text x="441.9" y="1070" font-size="7.6" text-anchor="end" fill="#333">6.50</text>
<path d="M451.9 998h-6" stroke="#444" stroke-width="1"/>
<text x="441.9" y="999.9" font-size="7.6" text-anchor="end" fill="#333">6.80</text>
<path d="M451.9 927.8h-6" stroke="#444" stroke-width="1"/>
<text x="441.9" y="929.7" font-size="7.6" text-anchor="end" fill="#333">7.10</text>
<path d="M451.9 857.6h-6" stroke="#444" stroke-width="1"/>
<text x="441.9" y="859.5" font-size="7.6" text-anchor="end" fill="#333">7.40</text>
<circle cx="451.9" cy="857.6" r="2.3" fill="#f00" stroke="#7a0000" stroke-width="0.5"/>
<circle cx="704.6" cy="857.6" r="2.3" fill="#f00" stroke="#7a0000" stroke-width="0.5"/>
<circle cx="451.9" cy="1138.3" r="2.3" fill="#f00" stroke="#7a0000" stroke-width="0.5"/>
<circle cx="704.6" cy="1138.3" r="2.3" fill="#f00" stroke="#7a0000" stroke-width="0.5"/>
<circle cx="578" cy="998" r="2.5" fill="#f00" stroke="#7a0000" stroke-width="0.6"/>
<text x="575" y="1001" font-size="8.5" text-anchor="end" fill="#400">5</text>
<text x="577.6" y="850.8" font-size="17.6" text-anchor="middle" fill="#111">Butanol</text>
<text x="409.5" y="997.2" font-size="13.4" text-anchor="middle" fill="#111" transform="rotate(-90 409.5 997.2)">C: pH</text>
<text x="578.5" y="1195.5" font-size="13.4" text-anchor="middle" fill="#111">B: Temperature</text>
</g>
<text x="1.3" y="13" font-size="14.3" font-weight="bold" fill="#000">A</text>
<text x="401" y="13" font-size="14.3" font-weight="bold" fill="#000">B</text>
<text x="2" y="414" font-size="14.3" font-weight="bold" fill="#000">C</text>
<text x="401" y="414" font-size="14.3" font-weight="bold" fill="#000">D</text>
<text x="0.8" y="818.7" font-size="14.3" font-weight="bold" fill="#000">E</text>
<text x="401.2" y="818.4" font-size="14.3" font-weight="bold" fill="#000">F</text>
</svg></body></html>
